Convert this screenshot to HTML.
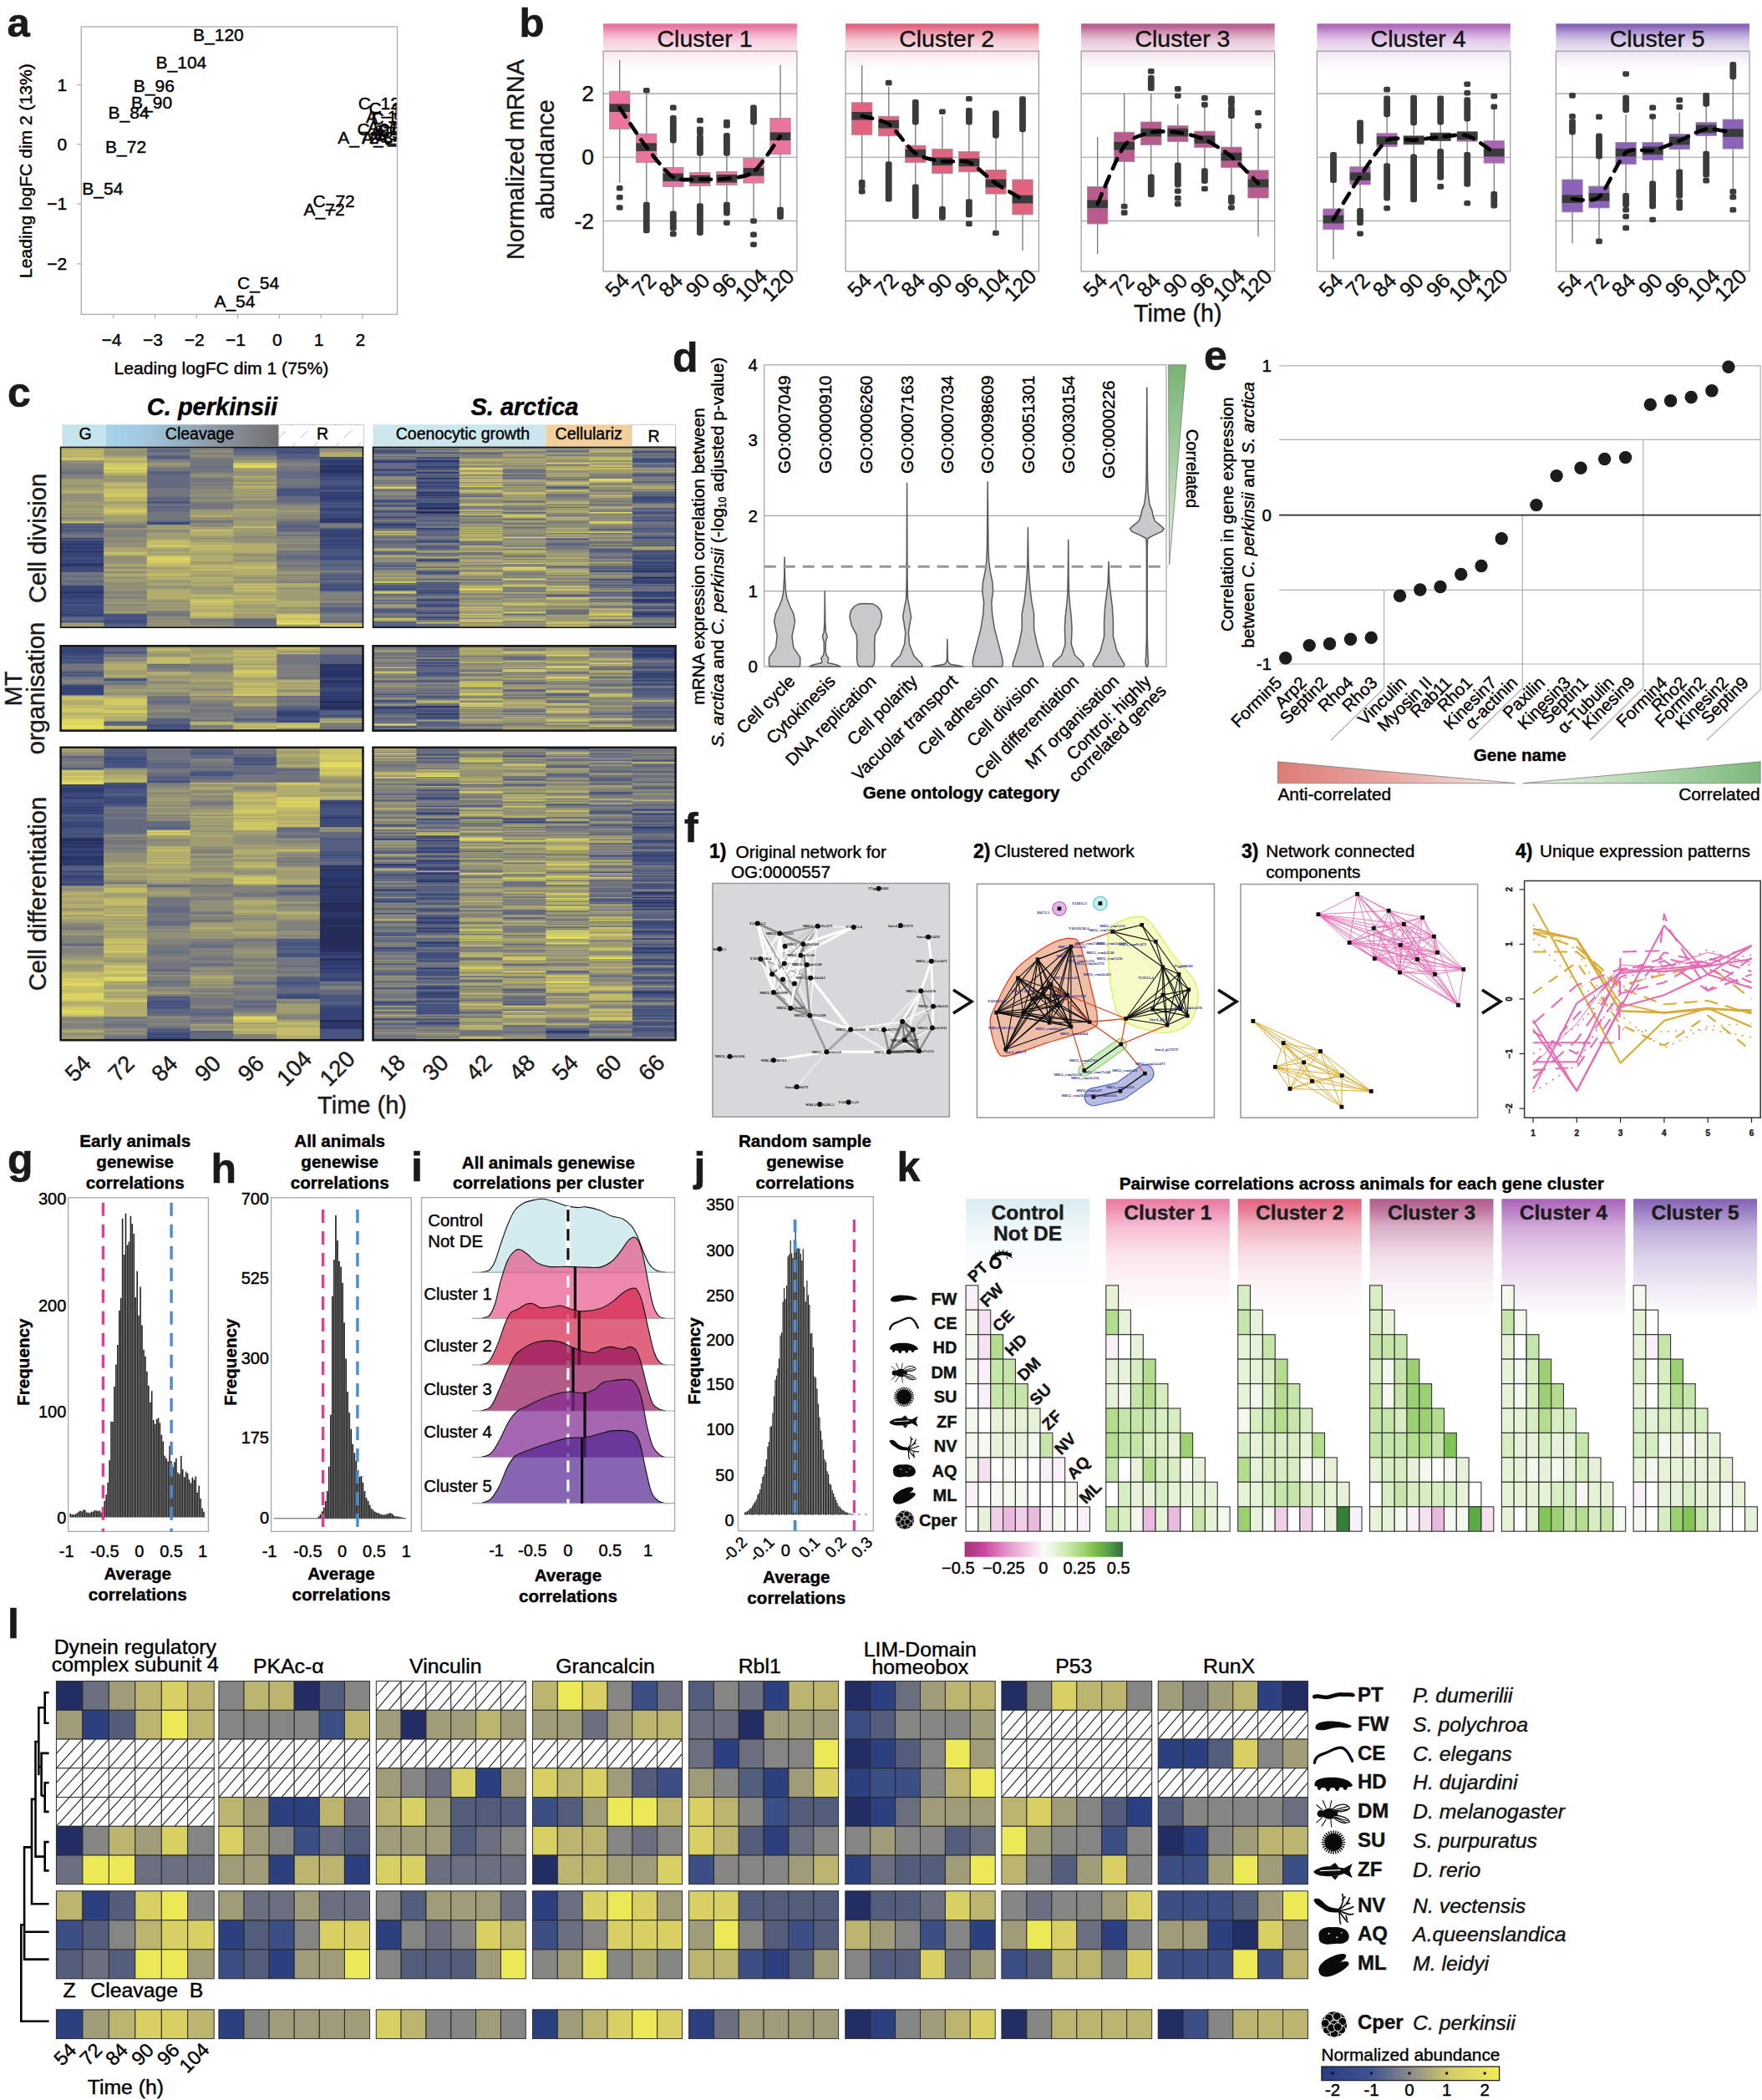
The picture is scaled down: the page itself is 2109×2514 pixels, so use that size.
<!DOCTYPE html>
<html><head><meta charset="utf-8"><title>Figure</title>
<style>html,body{margin:0;padding:0;background:#fff}svg{display:block;font-family:'Liberation Sans', Arial, Helvetica, sans-serif}</style>
</head><body>
<svg width="2109" height="2514" viewBox="0 0 2109 2514">
<defs>
<linearGradient id="pbg0" x1="0" y1="0" x2="0" y2="1"><stop offset="0" stop-color="#e86f9c" stop-opacity="1.0"/><stop offset="0.027" stop-color="#e86f9c" stop-opacity="0.95"/><stop offset="0.091" stop-color="#e86f9c" stop-opacity="0.58"/><stop offset="0.153" stop-color="#e86f9c" stop-opacity="0.33"/><stop offset="0.23" stop-color="#e86f9c" stop-opacity="0.2"/><stop offset="0.306" stop-color="#e86f9c" stop-opacity="0.1"/><stop offset="0.405" stop-color="#e86f9c" stop-opacity="0.0"/></linearGradient>
<linearGradient id="pbg1" x1="0" y1="0" x2="0" y2="1"><stop offset="0" stop-color="#e0607c" stop-opacity="1.0"/><stop offset="0.027" stop-color="#e0607c" stop-opacity="0.95"/><stop offset="0.091" stop-color="#e0607c" stop-opacity="0.58"/><stop offset="0.153" stop-color="#e0607c" stop-opacity="0.33"/><stop offset="0.23" stop-color="#e0607c" stop-opacity="0.2"/><stop offset="0.306" stop-color="#e0607c" stop-opacity="0.1"/><stop offset="0.405" stop-color="#e0607c" stop-opacity="0.0"/></linearGradient>
<linearGradient id="pbg2" x1="0" y1="0" x2="0" y2="1"><stop offset="0" stop-color="#b85a8c" stop-opacity="1.0"/><stop offset="0.027" stop-color="#b85a8c" stop-opacity="0.95"/><stop offset="0.091" stop-color="#b85a8c" stop-opacity="0.58"/><stop offset="0.153" stop-color="#b85a8c" stop-opacity="0.33"/><stop offset="0.23" stop-color="#b85a8c" stop-opacity="0.2"/><stop offset="0.306" stop-color="#b85a8c" stop-opacity="0.1"/><stop offset="0.405" stop-color="#b85a8c" stop-opacity="0.0"/></linearGradient>
<linearGradient id="pbg3" x1="0" y1="0" x2="0" y2="1"><stop offset="0" stop-color="#ad66bb" stop-opacity="1.0"/><stop offset="0.027" stop-color="#ad66bb" stop-opacity="0.95"/><stop offset="0.091" stop-color="#ad66bb" stop-opacity="0.58"/><stop offset="0.153" stop-color="#ad66bb" stop-opacity="0.33"/><stop offset="0.23" stop-color="#ad66bb" stop-opacity="0.2"/><stop offset="0.306" stop-color="#ad66bb" stop-opacity="0.1"/><stop offset="0.405" stop-color="#ad66bb" stop-opacity="0.0"/></linearGradient>
<linearGradient id="pbg4" x1="0" y1="0" x2="0" y2="1"><stop offset="0" stop-color="#8560b8" stop-opacity="1.0"/><stop offset="0.027" stop-color="#8560b8" stop-opacity="0.95"/><stop offset="0.091" stop-color="#8560b8" stop-opacity="0.58"/><stop offset="0.153" stop-color="#8560b8" stop-opacity="0.33"/><stop offset="0.23" stop-color="#8560b8" stop-opacity="0.2"/><stop offset="0.306" stop-color="#8560b8" stop-opacity="0.1"/><stop offset="0.405" stop-color="#8560b8" stop-opacity="0.0"/></linearGradient>
<linearGradient id="pcg1" x1="0" x2="1" y1="0" y2="0"><stop offset="0" stop-color="#a6d3ec"/><stop offset="0.2" stop-color="#a3cbe3"/><stop offset="0.55" stop-color="#8fa3b2"/><stop offset="0.85" stop-color="#7e8085"/><stop offset="1" stop-color="#6f6f71"/></linearGradient>
<pattern id="hatR" width="26" height="26" patternUnits="userSpaceOnUse"><path d="M-2 28L28 -2" stroke="#bdbdbd" stroke-width="1" stroke-dasharray="9 8"/></pattern>
<linearGradient id="pdg" x1="0" x2="0" y1="0" y2="1"><stop offset="0" stop-color="#77b574"/><stop offset="0.5" stop-color="#a9d0a6"/><stop offset="1" stop-color="#e3f0e1"/></linearGradient>
<linearGradient id="peg1" x1="0" x2="1" y1="0" y2="0"><stop offset="0" stop-color="#dc7d77"/><stop offset="0.5" stop-color="#e9aaa5"/><stop offset="1" stop-color="#f8ece9"/></linearGradient>
<linearGradient id="peg2" x1="0" x2="1" y1="0" y2="0"><stop offset="0" stop-color="#eef6ed"/><stop offset="0.5" stop-color="#b4d8b2"/><stop offset="1" stop-color="#7cb97a"/></linearGradient>


<linearGradient id="pkg0" x1="0" y1="0" x2="0" y2="1"><stop offset="0" stop-color="#d7ecf1" stop-opacity="1.0"/><stop offset="0.08" stop-color="#d7ecf1" stop-opacity="0.85"/><stop offset="0.226" stop-color="#d7ecf1" stop-opacity="0.5"/><stop offset="0.474" stop-color="#d7ecf1" stop-opacity="0.2"/><stop offset="0.708" stop-color="#d7ecf1" stop-opacity="0.08"/><stop offset="1" stop-color="#d7ecf1" stop-opacity="0"/></linearGradient>
<linearGradient id="pkg1" x1="0" y1="0" x2="0" y2="1"><stop offset="0" stop-color="#ea79a2" stop-opacity="1.0"/><stop offset="0.08" stop-color="#ea79a2" stop-opacity="0.85"/><stop offset="0.226" stop-color="#ea79a2" stop-opacity="0.5"/><stop offset="0.474" stop-color="#ea79a2" stop-opacity="0.2"/><stop offset="0.708" stop-color="#ea79a2" stop-opacity="0.08"/><stop offset="1" stop-color="#ea79a2" stop-opacity="0"/></linearGradient>
<linearGradient id="pkg2" x1="0" y1="0" x2="0" y2="1"><stop offset="0" stop-color="#e0627e" stop-opacity="1.0"/><stop offset="0.08" stop-color="#e0627e" stop-opacity="0.85"/><stop offset="0.226" stop-color="#e0627e" stop-opacity="0.5"/><stop offset="0.474" stop-color="#e0627e" stop-opacity="0.2"/><stop offset="0.708" stop-color="#e0627e" stop-opacity="0.08"/><stop offset="1" stop-color="#e0627e" stop-opacity="0"/></linearGradient>
<linearGradient id="pkg3" x1="0" y1="0" x2="0" y2="1"><stop offset="0" stop-color="#b1598a" stop-opacity="1.0"/><stop offset="0.08" stop-color="#b1598a" stop-opacity="0.85"/><stop offset="0.226" stop-color="#b1598a" stop-opacity="0.5"/><stop offset="0.474" stop-color="#b1598a" stop-opacity="0.2"/><stop offset="0.708" stop-color="#b1598a" stop-opacity="0.08"/><stop offset="1" stop-color="#b1598a" stop-opacity="0"/></linearGradient>
<linearGradient id="pkg4" x1="0" y1="0" x2="0" y2="1"><stop offset="0" stop-color="#ab62ba" stop-opacity="1.0"/><stop offset="0.08" stop-color="#ab62ba" stop-opacity="0.85"/><stop offset="0.25" stop-color="#ab62ba" stop-opacity="0.52"/><stop offset="0.5" stop-color="#ab62ba" stop-opacity="0.28"/><stop offset="0.75" stop-color="#ab62ba" stop-opacity="0.14"/><stop offset="1" stop-color="#ab62ba" stop-opacity="0"/></linearGradient>
<linearGradient id="pkg5" x1="0" y1="0" x2="0" y2="1"><stop offset="0" stop-color="#8461b6" stop-opacity="1.0"/><stop offset="0.08" stop-color="#8461b6" stop-opacity="0.85"/><stop offset="0.25" stop-color="#8461b6" stop-opacity="0.52"/><stop offset="0.5" stop-color="#8461b6" stop-opacity="0.28"/><stop offset="0.75" stop-color="#8461b6" stop-opacity="0.14"/><stop offset="1" stop-color="#8461b6" stop-opacity="0"/></linearGradient>
<linearGradient id="pkcb" x1="0" x2="1" y1="0" y2="0"><stop offset="0" stop-color="#a5317a"/><stop offset="0.12" stop-color="#c7459b"/><stop offset="0.25" stop-color="#e28bc6"/><stop offset="0.38" stop-color="#f0c6e3"/><stop offset="0.5" stop-color="#fbfbfb"/><stop offset="0.62" stop-color="#d6eebd"/><stop offset="0.75" stop-color="#a3d672"/><stop offset="0.82" stop-color="#7fbf48"/><stop offset="0.92" stop-color="#4f9a46"/><stop offset="1" stop-color="#37693c"/></linearGradient>
<pattern id="hatL" width="30" height="34.74" patternUnits="userSpaceOnUse"><path d="M0 34.74L30 0M-15 34.74L15 0M15 34.74L45 0" stroke="#333" stroke-width="0.9" fill="none"/></pattern>
<linearGradient id="plcb" x1="0" x2="1" y1="0" y2="0"><stop offset="0" stop-color="#293a80"/><stop offset="0.28" stop-color="#3f5590"/><stop offset="0.5" stop-color="#8b8b88"/><stop offset="0.72" stop-color="#d2ca68"/><stop offset="1" stop-color="#f2ee55"/></linearGradient></defs>
<g id="pa"><text x="8.5" y="44" font-size="49" font-weight="bold" fill="#1a1a1a" stroke="#1a1a1a" stroke-width="0.6">a</text>
<rect x="97.3" y="32" width="378.2" height="344.3" fill="none" stroke="#a9abb5" stroke-width="1.3"/>
<line x1="92.3" y1="101.7" x2="97.3" y2="101.7" stroke="#a9abb5" stroke-width="1.2"/>
<text x="80.3" y="109.2" font-size="21" text-anchor="end" fill="#000" stroke="#000" stroke-width="0.4">1</text>
<line x1="92.3" y1="172.8" x2="97.3" y2="172.8" stroke="#a9abb5" stroke-width="1.2"/>
<text x="80.3" y="180.3" font-size="21" text-anchor="end" fill="#000" stroke="#000" stroke-width="0.4">0</text>
<line x1="92.3" y1="243.9" x2="97.3" y2="243.9" stroke="#a9abb5" stroke-width="1.2"/>
<text x="80.3" y="251.4" font-size="21" text-anchor="end" fill="#000" stroke="#000" stroke-width="0.4">−1</text>
<line x1="92.3" y1="315.8" x2="97.3" y2="315.8" stroke="#a9abb5" stroke-width="1.2"/>
<text x="80.3" y="323.3" font-size="21" text-anchor="end" fill="#000" stroke="#000" stroke-width="0.4">−2</text>
<line x1="135.9" y1="376.3" x2="135.9" y2="381.3" stroke="#a9abb5" stroke-width="1.2"/>
<text x="133.4" y="413.5" font-size="21" text-anchor="middle" fill="#000" stroke="#000" stroke-width="0.4">−4</text>
<line x1="185.5" y1="376.3" x2="185.5" y2="381.3" stroke="#a9abb5" stroke-width="1.2"/>
<text x="183" y="413.5" font-size="21" text-anchor="middle" fill="#000" stroke="#000" stroke-width="0.4">−3</text>
<line x1="235.2" y1="376.3" x2="235.2" y2="381.3" stroke="#a9abb5" stroke-width="1.2"/>
<text x="232.7" y="413.5" font-size="21" text-anchor="middle" fill="#000" stroke="#000" stroke-width="0.4">−2</text>
<line x1="284.6" y1="376.3" x2="284.6" y2="381.3" stroke="#a9abb5" stroke-width="1.2"/>
<text x="282.1" y="413.5" font-size="21" text-anchor="middle" fill="#000" stroke="#000" stroke-width="0.4">−1</text>
<line x1="334.4" y1="376.3" x2="334.4" y2="381.3" stroke="#a9abb5" stroke-width="1.2"/>
<text x="331.9" y="413.5" font-size="21" text-anchor="middle" fill="#000" stroke="#000" stroke-width="0.4">0</text>
<line x1="384.1" y1="376.3" x2="384.1" y2="381.3" stroke="#a9abb5" stroke-width="1.2"/>
<text x="381.6" y="413.5" font-size="21" text-anchor="middle" fill="#000" stroke="#000" stroke-width="0.4">1</text>
<line x1="433.8" y1="376.3" x2="433.8" y2="381.3" stroke="#a9abb5" stroke-width="1.2"/>
<text x="431.3" y="413.5" font-size="21" text-anchor="middle" fill="#000" stroke="#000" stroke-width="0.4">2</text>
<text x="265" y="447.5" font-size="21.1" text-anchor="middle" fill="#000" stroke="#000" stroke-width="0.4">Leading logFC dim 1 (75%)</text>
<text font-size="21.1" text-anchor="middle" fill="#000" stroke="#000" stroke-width="0.4" transform="translate(37.5 204.5) rotate(-90)">Leading logFC dim 2 (13%)</text>
<clipPath id="pacl"><rect x="97.3" y="32" width="377.2" height="344.3"/></clipPath>
<g clip-path="url(#pacl)"><text x="261.4" y="49" font-size="21" text-anchor="middle" fill="#000" stroke="#000" stroke-width="0.4">B_120</text><text x="216.9" y="82" font-size="21" text-anchor="middle" fill="#000" stroke="#000" stroke-width="0.4">B_104</text><text x="184.3" y="110.2" font-size="21" text-anchor="middle" fill="#000" stroke="#000" stroke-width="0.4">B_96</text><text x="181.6" y="130.1" font-size="21" text-anchor="middle" fill="#000" stroke="#000" stroke-width="0.4">B_90</text><text x="154.1" y="142.4" font-size="21" text-anchor="middle" fill="#000" stroke="#000" stroke-width="0.4">B_84</text><text x="150.6" y="182.9" font-size="21" text-anchor="middle" fill="#000" stroke="#000" stroke-width="0.4">B_72</text><text x="122.8" y="233" font-size="21" text-anchor="middle" fill="#000" stroke="#000" stroke-width="0.4">B_54</text><text x="399.7" y="248.1" font-size="21" text-anchor="middle" fill="#000" stroke="#000" stroke-width="0.4">C_72</text><text x="388.1" y="258.4" font-size="21" text-anchor="middle" fill="#000" stroke="#000" stroke-width="0.4">A_72</text><text x="309.1" y="346.2" font-size="21" text-anchor="middle" fill="#000" stroke="#000" stroke-width="0.4">C_54</text><text x="280.9" y="368.4" font-size="21" text-anchor="middle" fill="#000" stroke="#000" stroke-width="0.4">A_54</text><text x="428.7" y="130.6" font-size="21" fill="#000" stroke="#000" stroke-width="0.4">C_120</text><text x="441.5" y="137.1" font-size="21" fill="#000" stroke="#000" stroke-width="0.4">C_104</text><text x="438" y="147.4" font-size="21" fill="#000" stroke="#000" stroke-width="0.4">A_120</text><text x="444.5" y="148.7" font-size="21" fill="#000" stroke="#000" stroke-width="0.4">C_96</text><text x="427.4" y="161.5" font-size="21" fill="#000" stroke="#000" stroke-width="0.4">C_90</text><text x="404.3" y="171.8" font-size="21" fill="#000" stroke="#000" stroke-width="0.4">A_72</text><text x="433" y="172.4" font-size="21" fill="#000" stroke="#000" stroke-width="0.4">A_84</text><text x="440" y="158.5" font-size="21" fill="#000" stroke="#000" stroke-width="0.4">A_104</text><text x="443" y="165.5" font-size="21" fill="#000" stroke="#000" stroke-width="0.4">A_96</text><text x="447" y="168.5" font-size="21" fill="#000" stroke="#000" stroke-width="0.4">C_84</text><text x="450" y="170.5" font-size="21" fill="#000" stroke="#000" stroke-width="0.4">A_90</text><text x="452" y="163" font-size="21" fill="#000" stroke="#000" stroke-width="0.4">C_84</text></g></g>
<g id="pb"><text x="621.5" y="44" font-size="49" font-weight="bold" fill="#1a1a1a" stroke="#1a1a1a" stroke-width="0.6">b</text>
<text font-size="29" text-anchor="middle" fill="#1a1a1a" stroke="#1a1a1a" stroke-width="0.4" transform="translate(626.5 191) rotate(-90)">Normalized mRNA</text>
<text font-size="29" text-anchor="middle" fill="#1a1a1a" stroke="#1a1a1a" stroke-width="0.4" transform="translate(663 191) rotate(-90)">abundance</text>
<text x="711" y="121.1" font-size="26.5" text-anchor="end" fill="#111" stroke="#111" stroke-width="0.4">2</text>
<text x="711" y="197.3" font-size="26.5" text-anchor="end" fill="#111" stroke="#111" stroke-width="0.4">0</text>
<text x="711" y="273.5" font-size="26.5" text-anchor="end" fill="#111" stroke="#111" stroke-width="0.4">-2</text>
<text x="1409.8" y="385.3" font-size="28.6" text-anchor="middle" fill="#111" stroke="#111" stroke-width="0.4">Time (h)</text>
<rect x="722.1" y="28.3" width="231.8" height="135" fill="url(#pbg0)"/>
<line x1="722.1" y1="112.1" x2="953.9" y2="112.1" stroke="#9a9a9e" stroke-width="1.1"/>
<line x1="722.1" y1="188.3" x2="953.9" y2="188.3" stroke="#9a9a9e" stroke-width="1.1"/>
<line x1="722.1" y1="264.5" x2="953.9" y2="264.5" stroke="#9a9a9e" stroke-width="1.1"/>
<rect x="722.1" y="61.2" width="231.8" height="263.7" fill="none" stroke="#9a9a9e" stroke-width="1.2"/>
<text x="843.5" y="56" font-size="28.5" text-anchor="middle" fill="#111" stroke="#111" stroke-width="0.4">Cluster 1</text>
<line x1="741.7" y1="72.1" x2="741.7" y2="218.8" stroke="#6b6b6b" stroke-width="1.2"/>
<rect x="737.8" y="222" width="7.8" height="6.6" fill="#3b3b3b" rx="2"/>
<rect x="737.8" y="233" width="7.8" height="6.6" fill="#3b3b3b" rx="2"/>
<rect x="737.8" y="245.2" width="7.8" height="6.6" fill="#3b3b3b" rx="2"/>
<rect x="729.5" y="109.1" width="24.4" height="45.3" fill="#e9759f" stroke="#9b8f96" stroke-width="0.8"/>
<rect x="729.5" y="124.4" width="24.4" height="9.6" fill="#3b3b3b"/>
<text font-size="25.3" text-anchor="middle" fill="#111" stroke="#111" stroke-width="0.4" transform="translate(738.7 341.3) rotate(-45)" dy="8.8">54</text>
<line x1="773.8" y1="112.1" x2="773.8" y2="244.7" stroke="#6b6b6b" stroke-width="1.2"/>
<rect x="769.9" y="241.7" width="7.8" height="37.6" fill="#3b3b3b" rx="2.4"/>
<rect x="769.9" y="105" width="7.8" height="6.6" fill="#3b3b3b" rx="2"/>
<rect x="761.5" y="160.1" width="24.4" height="34.3" fill="#e9759f" stroke="#9b8f96" stroke-width="0.8"/>
<rect x="761.5" y="171.3" width="24.4" height="9.6" fill="#3b3b3b"/>
<text font-size="25.3" text-anchor="middle" fill="#111" stroke="#111" stroke-width="0.4" transform="translate(770.8 341.3) rotate(-45)" dy="8.8">72</text>
<line x1="805.8" y1="168.5" x2="805.8" y2="255.4" stroke="#6b6b6b" stroke-width="1.2"/>
<rect x="801.9" y="138.1" width="7.8" height="33.4" fill="#3b3b3b" rx="2.4"/>
<rect x="801.9" y="252.4" width="7.8" height="24.3" fill="#3b3b3b" rx="2.4"/>
<rect x="801.9" y="125.6" width="7.8" height="6.6" fill="#3b3b3b" rx="2"/>
<rect x="801.9" y="276.8" width="7.8" height="6.6" fill="#3b3b3b" rx="2"/>
<rect x="793.6" y="200.5" width="24.4" height="22.9" fill="#e9759f" stroke="#9b8f96" stroke-width="0.8"/>
<rect x="793.6" y="207.5" width="24.4" height="9.6" fill="#3b3b3b"/>
<text font-size="25.3" text-anchor="middle" fill="#111" stroke="#111" stroke-width="0.4" transform="translate(802.8 341.3) rotate(-45)" dy="8.8">84</text>
<line x1="837.9" y1="183.7" x2="837.9" y2="246.2" stroke="#6b6b6b" stroke-width="1.2"/>
<rect x="834" y="160.9" width="7.8" height="25.8" fill="#3b3b3b" rx="2.4"/>
<rect x="834" y="243.2" width="7.8" height="38.8" fill="#3b3b3b" rx="2.4"/>
<rect x="834" y="140.8" width="7.8" height="6.6" fill="#3b3b3b" rx="2"/>
<rect x="834" y="151.5" width="7.8" height="6.6" fill="#3b3b3b" rx="2"/>
<rect x="834" y="155.3" width="7.8" height="6.6" fill="#3b3b3b" rx="2"/>
<rect x="825.6" y="206.6" width="24.4" height="16" fill="#e9759f" stroke="#9b8f96" stroke-width="0.8"/>
<rect x="825.6" y="209.8" width="24.4" height="9.6" fill="#3b3b3b"/>
<text font-size="25.3" text-anchor="middle" fill="#111" stroke="#111" stroke-width="0.4" transform="translate(834.9 341.3) rotate(-45)" dy="8.8">90</text>
<line x1="869.9" y1="183.7" x2="869.9" y2="244.7" stroke="#6b6b6b" stroke-width="1.2"/>
<rect x="866" y="159" width="7.8" height="27.7" fill="#3b3b3b" rx="2.4"/>
<rect x="866" y="241.7" width="7.8" height="16.7" fill="#3b3b3b" rx="2.4"/>
<rect x="866" y="143.1" width="7.8" height="6.6" fill="#3b3b3b" rx="2"/>
<rect x="866" y="146.9" width="7.8" height="6.6" fill="#3b3b3b" rx="2"/>
<rect x="866" y="263.5" width="7.8" height="6.6" fill="#3b3b3b" rx="2"/>
<rect x="857.7" y="205.4" width="24.4" height="16" fill="#e9759f" stroke="#9b8f96" stroke-width="0.8"/>
<rect x="857.7" y="209" width="24.4" height="9.6" fill="#3b3b3b"/>
<text font-size="25.3" text-anchor="middle" fill="#111" stroke="#111" stroke-width="0.4" transform="translate(866.9 341.3) rotate(-45)" dy="8.8">96</text>
<line x1="902" y1="146.4" x2="902" y2="260.7" stroke="#6b6b6b" stroke-width="1.2"/>
<rect x="898.1" y="125.5" width="7.8" height="23.9" fill="#3b3b3b" rx="2.4"/>
<rect x="898.1" y="261.2" width="7.8" height="6.6" fill="#3b3b3b" rx="2"/>
<rect x="898.1" y="277.6" width="7.8" height="6.6" fill="#3b3b3b" rx="2"/>
<rect x="898.1" y="289.4" width="7.8" height="6.6" fill="#3b3b3b" rx="2"/>
<rect x="889.8" y="189.4" width="24.4" height="29.7" fill="#e9759f" stroke="#9b8f96" stroke-width="0.8"/>
<rect x="889.8" y="201" width="24.4" height="9.6" fill="#3b3b3b"/>
<text font-size="25.3" text-anchor="middle" fill="#111" stroke="#111" stroke-width="0.4" transform="translate(899 341.3) rotate(-45)" dy="8.8">104</text>
<line x1="934" y1="77.8" x2="934" y2="250.8" stroke="#6b6b6b" stroke-width="1.2"/>
<rect x="930.1" y="247.8" width="7.8" height="15.1" fill="#3b3b3b" rx="2.4"/>
<rect x="921.8" y="141.4" width="24.4" height="43.4" fill="#e9759f" stroke="#9b8f96" stroke-width="0.8"/>
<rect x="921.8" y="158.4" width="24.4" height="9.6" fill="#3b3b3b"/>
<text font-size="25.3" text-anchor="middle" fill="#111" stroke="#111" stroke-width="0.4" transform="translate(931 341.3) rotate(-45)" dy="8.8">120</text>
<path d="M741.7 129.2C745.7 135.1 765.7 165.7 773.8 176.1C781.8 186.5 797.8 207.5 805.8 212.3C813.8 217.1 829.8 214.4 837.9 214.6C845.9 214.8 861.9 214.9 869.9 213.8C877.9 212.7 893.9 212.2 902 205.8C910 199.5 930 168.5 934 163.2" fill="none" stroke="#000" stroke-width="4.6" stroke-dasharray="13 10" stroke-linecap="round" stroke-linejoin="round"/>
<rect x="1012.1" y="28.3" width="231.3" height="135" fill="url(#pbg1)"/>
<line x1="1012.1" y1="112.1" x2="1243.4" y2="112.1" stroke="#9a9a9e" stroke-width="1.1"/>
<line x1="1012.1" y1="188.3" x2="1243.4" y2="188.3" stroke="#9a9a9e" stroke-width="1.1"/>
<line x1="1012.1" y1="264.5" x2="1243.4" y2="264.5" stroke="#9a9a9e" stroke-width="1.1"/>
<rect x="1012.1" y="61.2" width="231.3" height="263.7" fill="none" stroke="#9a9a9e" stroke-width="1.2"/>
<text x="1133.2" y="56" font-size="28.5" text-anchor="middle" fill="#111" stroke="#111" stroke-width="0.4">Cluster 2</text>
<line x1="1031.7" y1="78.2" x2="1031.7" y2="216.1" stroke="#6b6b6b" stroke-width="1.2"/>
<rect x="1027.8" y="215" width="7.8" height="11.3" fill="#3b3b3b" rx="2.4"/>
<rect x="1027.8" y="225.8" width="7.8" height="6.6" fill="#3b3b3b" rx="2"/>
<rect x="1019.5" y="122.8" width="24.4" height="38.5" fill="#e0647f" stroke="#9b8f96" stroke-width="0.8"/>
<rect x="1019.5" y="134" width="24.4" height="9.6" fill="#3b3b3b"/>
<text font-size="25.3" text-anchor="middle" fill="#111" stroke="#111" stroke-width="0.4" transform="translate(1028.7 341.3) rotate(-45)" dy="8.8">54</text>
<line x1="1063.8" y1="104.1" x2="1063.8" y2="196.3" stroke="#6b6b6b" stroke-width="1.2"/>
<rect x="1059.8" y="193.3" width="7.8" height="48.3" fill="#3b3b3b" rx="2.4"/>
<rect x="1059.8" y="95.8" width="7.8" height="6.6" fill="#3b3b3b" rx="2"/>
<rect x="1051.5" y="139.2" width="24.4" height="23.6" fill="#e0647f" stroke="#9b8f96" stroke-width="0.8"/>
<rect x="1051.5" y="143.9" width="24.4" height="9.6" fill="#3b3b3b"/>
<text font-size="25.3" text-anchor="middle" fill="#111" stroke="#111" stroke-width="0.4" transform="translate(1060.8 341.3) rotate(-45)" dy="8.8">72</text>
<line x1="1095.8" y1="146.4" x2="1095.8" y2="223.4" stroke="#6b6b6b" stroke-width="1.2"/>
<rect x="1091.9" y="119" width="7.8" height="30.4" fill="#3b3b3b" rx="2.4"/>
<rect x="1091.9" y="220.4" width="7.8" height="41.8" fill="#3b3b3b" rx="2.4"/>
<rect x="1083.6" y="174.2" width="24.4" height="20.2" fill="#e0647f" stroke="#9b8f96" stroke-width="0.8"/>
<rect x="1083.6" y="178.9" width="24.4" height="9.6" fill="#3b3b3b"/>
<text font-size="25.3" text-anchor="middle" fill="#111" stroke="#111" stroke-width="0.4" transform="translate(1092.8 341.3) rotate(-45)" dy="8.8">84</text>
<line x1="1127.9" y1="139.2" x2="1127.9" y2="250" stroke="#6b6b6b" stroke-width="1.2"/>
<rect x="1124" y="247" width="7.8" height="16.7" fill="#3b3b3b" rx="2.4"/>
<rect x="1124" y="130.5" width="7.8" height="6.6" fill="#3b3b3b" rx="2"/>
<rect x="1115.7" y="178.4" width="24.4" height="29.3" fill="#e0647f" stroke="#9b8f96" stroke-width="0.8"/>
<rect x="1115.7" y="188.5" width="24.4" height="9.6" fill="#3b3b3b"/>
<text font-size="25.3" text-anchor="middle" fill="#111" stroke="#111" stroke-width="0.4" transform="translate(1124.9 341.3) rotate(-45)" dy="8.8">90</text>
<line x1="1159.9" y1="146.4" x2="1159.9" y2="241.3" stroke="#6b6b6b" stroke-width="1.2"/>
<rect x="1156" y="128.9" width="7.8" height="20.5" fill="#3b3b3b" rx="2.4"/>
<rect x="1156" y="238.3" width="7.8" height="22" fill="#3b3b3b" rx="2.4"/>
<rect x="1156" y="114.9" width="7.8" height="6.6" fill="#3b3b3b" rx="2"/>
<rect x="1156" y="264.6" width="7.8" height="6.6" fill="#3b3b3b" rx="2"/>
<rect x="1147.7" y="181.4" width="24.4" height="24.4" fill="#e0647f" stroke="#9b8f96" stroke-width="0.8"/>
<rect x="1147.7" y="189.6" width="24.4" height="9.6" fill="#3b3b3b"/>
<text font-size="25.3" text-anchor="middle" fill="#111" stroke="#111" stroke-width="0.4" transform="translate(1156.9 341.3) rotate(-45)" dy="8.8">96</text>
<line x1="1192" y1="162.4" x2="1192" y2="275.2" stroke="#6b6b6b" stroke-width="1.2"/>
<rect x="1188" y="132.3" width="7.8" height="33.1" fill="#3b3b3b" rx="2.4"/>
<rect x="1188" y="275.7" width="7.8" height="6.6" fill="#3b3b3b" rx="2"/>
<rect x="1179.8" y="203.5" width="24.4" height="28.6" fill="#e0647f" stroke="#9b8f96" stroke-width="0.8"/>
<rect x="1179.8" y="214.7" width="24.4" height="9.6" fill="#3b3b3b"/>
<text font-size="25.3" text-anchor="middle" fill="#111" stroke="#111" stroke-width="0.4" transform="translate(1189 341.3) rotate(-45)" dy="8.8">104</text>
<line x1="1224" y1="155.2" x2="1224" y2="300.3" stroke="#6b6b6b" stroke-width="1.2"/>
<rect x="1220.1" y="115.2" width="7.8" height="43" fill="#3b3b3b" rx="2.4"/>
<rect x="1211.8" y="215" width="24.4" height="41.9" fill="#e0647f" stroke="#9b8f96" stroke-width="0.8"/>
<rect x="1211.8" y="233.8" width="24.4" height="9.6" fill="#3b3b3b"/>
<text font-size="25.3" text-anchor="middle" fill="#111" stroke="#111" stroke-width="0.4" transform="translate(1221 341.3) rotate(-45)" dy="8.8">120</text>
<path d="M1031.7 138.8C1035.7 140 1055.7 143.1 1063.8 148.7C1071.8 154.3 1087.8 178.2 1095.8 183.7C1103.8 189.3 1119.8 191.9 1127.9 193.3C1135.9 194.6 1151.9 191.1 1159.9 194.4C1167.9 197.7 1183.9 214 1192 219.5C1200 225.1 1220 236.2 1224 238.6" fill="none" stroke="#000" stroke-width="4.6" stroke-dasharray="13 10" stroke-linecap="round" stroke-linejoin="round"/>
<rect x="1294.1" y="28.3" width="231.6" height="135" fill="url(#pbg2)"/>
<line x1="1294.1" y1="112.1" x2="1525.7" y2="112.1" stroke="#9a9a9e" stroke-width="1.1"/>
<line x1="1294.1" y1="188.3" x2="1525.7" y2="188.3" stroke="#9a9a9e" stroke-width="1.1"/>
<line x1="1294.1" y1="264.5" x2="1525.7" y2="264.5" stroke="#9a9a9e" stroke-width="1.1"/>
<rect x="1294.1" y="61.2" width="231.6" height="263.7" fill="none" stroke="#9a9a9e" stroke-width="1.2"/>
<text x="1415.4" y="56" font-size="28.5" text-anchor="middle" fill="#111" stroke="#111" stroke-width="0.4">Cluster 3</text>
<line x1="1313.7" y1="163.9" x2="1313.7" y2="304.1" stroke="#6b6b6b" stroke-width="1.2"/>
<rect x="1301.5" y="223.4" width="24.4" height="44.6" fill="#ba5b8f" stroke="#9b8f96" stroke-width="0.8"/>
<rect x="1301.5" y="239.5" width="24.4" height="9.6" fill="#3b3b3b"/>
<text font-size="25.3" text-anchor="middle" fill="#111" stroke="#111" stroke-width="0.4" transform="translate(1310.7 341.3) rotate(-45)" dy="8.8">54</text>
<line x1="1345.7" y1="112.1" x2="1345.7" y2="243.2" stroke="#6b6b6b" stroke-width="1.2"/>
<rect x="1341.8" y="243.7" width="7.8" height="6.6" fill="#3b3b3b" rx="2"/>
<rect x="1341.8" y="251.3" width="7.8" height="6.6" fill="#3b3b3b" rx="2"/>
<rect x="1333.5" y="158.2" width="24.4" height="35.4" fill="#ba5b8f" stroke="#9b8f96" stroke-width="0.8"/>
<rect x="1333.5" y="169.8" width="24.4" height="9.6" fill="#3b3b3b"/>
<text font-size="25.3" text-anchor="middle" fill="#111" stroke="#111" stroke-width="0.4" transform="translate(1342.7 341.3) rotate(-45)" dy="8.8">72</text>
<line x1="1377.8" y1="112.1" x2="1377.8" y2="211.5" stroke="#6b6b6b" stroke-width="1.2"/>
<rect x="1373.9" y="90.1" width="7.8" height="19" fill="#3b3b3b" rx="2.4"/>
<rect x="1373.9" y="208.5" width="7.8" height="27.7" fill="#3b3b3b" rx="2.4"/>
<rect x="1373.9" y="82.1" width="7.8" height="6.6" fill="#3b3b3b" rx="2"/>
<rect x="1365.6" y="146" width="24.4" height="27.4" fill="#ba5b8f" stroke="#9b8f96" stroke-width="0.8"/>
<rect x="1365.6" y="153.8" width="24.4" height="9.6" fill="#3b3b3b"/>
<text font-size="25.3" text-anchor="middle" fill="#111" stroke="#111" stroke-width="0.4" transform="translate(1374.8 341.3) rotate(-45)" dy="8.8">84</text>
<line x1="1409.8" y1="124.7" x2="1409.8" y2="197.4" stroke="#6b6b6b" stroke-width="1.2"/>
<rect x="1405.9" y="194.4" width="7.8" height="30" fill="#3b3b3b" rx="2.4"/>
<rect x="1405.9" y="103.1" width="7.8" height="6.6" fill="#3b3b3b" rx="2"/>
<rect x="1405.9" y="111.5" width="7.8" height="6.6" fill="#3b3b3b" rx="2"/>
<rect x="1405.9" y="225.4" width="7.8" height="6.6" fill="#3b3b3b" rx="2"/>
<rect x="1405.9" y="234.1" width="7.8" height="6.6" fill="#3b3b3b" rx="2"/>
<rect x="1405.9" y="241" width="7.8" height="6.6" fill="#3b3b3b" rx="2"/>
<rect x="1397.6" y="150.6" width="24.4" height="19" fill="#ba5b8f" stroke="#9b8f96" stroke-width="0.8"/>
<rect x="1397.6" y="153.8" width="24.4" height="9.6" fill="#3b3b3b"/>
<text font-size="25.3" text-anchor="middle" fill="#111" stroke="#111" stroke-width="0.4" transform="translate(1406.8 341.3) rotate(-45)" dy="8.8">90</text>
<line x1="1441.9" y1="128.1" x2="1441.9" y2="204.3" stroke="#6b6b6b" stroke-width="1.2"/>
<rect x="1438" y="201.3" width="7.8" height="18.6" fill="#3b3b3b" rx="2.4"/>
<rect x="1438" y="114.1" width="7.8" height="6.6" fill="#3b3b3b" rx="2"/>
<rect x="1438" y="122.1" width="7.8" height="6.6" fill="#3b3b3b" rx="2"/>
<rect x="1438" y="222.7" width="7.8" height="6.6" fill="#3b3b3b" rx="2"/>
<rect x="1429.7" y="157.1" width="24.4" height="19.4" fill="#ba5b8f" stroke="#9b8f96" stroke-width="0.8"/>
<rect x="1429.7" y="162.2" width="24.4" height="9.6" fill="#3b3b3b"/>
<text font-size="25.3" text-anchor="middle" fill="#111" stroke="#111" stroke-width="0.4" transform="translate(1438.9 341.3) rotate(-45)" dy="8.8">96</text>
<line x1="1473.9" y1="139.2" x2="1473.9" y2="235.9" stroke="#6b6b6b" stroke-width="1.2"/>
<rect x="1470" y="126.2" width="7.8" height="15.9" fill="#3b3b3b" rx="2.4"/>
<rect x="1470" y="114.4" width="7.8" height="12.9" fill="#3b3b3b" rx="2.4"/>
<rect x="1470" y="232.9" width="7.8" height="12.1" fill="#3b3b3b" rx="2.4"/>
<rect x="1470" y="245.2" width="7.8" height="6.6" fill="#3b3b3b" rx="2"/>
<rect x="1461.7" y="176.1" width="24.4" height="24.4" fill="#ba5b8f" stroke="#9b8f96" stroke-width="0.8"/>
<rect x="1461.7" y="182.7" width="24.4" height="9.6" fill="#3b3b3b"/>
<text font-size="25.3" text-anchor="middle" fill="#111" stroke="#111" stroke-width="0.4" transform="translate(1470.9 341.3) rotate(-45)" dy="8.8">104</text>
<line x1="1506" y1="153.2" x2="1506" y2="283.2" stroke="#6b6b6b" stroke-width="1.2"/>
<rect x="1502.1" y="131.7" width="7.8" height="6.6" fill="#3b3b3b" rx="2"/>
<rect x="1502.1" y="147.3" width="7.8" height="6.6" fill="#3b3b3b" rx="2"/>
<rect x="1493.8" y="203.9" width="24.4" height="33.1" fill="#ba5b8f" stroke="#9b8f96" stroke-width="0.8"/>
<rect x="1493.8" y="214.7" width="24.4" height="9.6" fill="#3b3b3b"/>
<text font-size="25.3" text-anchor="middle" fill="#111" stroke="#111" stroke-width="0.4" transform="translate(1503 341.3) rotate(-45)" dy="8.8">120</text>
<path d="M1313.7 244.3C1317.7 235.6 1337.7 185.3 1345.7 174.6C1353.8 163.9 1369.8 160.6 1377.8 158.6C1385.8 156.6 1401.8 157.5 1409.8 158.6C1417.9 159.6 1433.9 163.3 1441.9 167C1449.9 170.6 1465.9 181 1473.9 187.5C1482 194.1 1502 215.5 1506 219.5" fill="none" stroke="#000" stroke-width="4.6" stroke-dasharray="13 10" stroke-linecap="round" stroke-linejoin="round"/>
<rect x="1576.4" y="28.3" width="231.4" height="135" fill="url(#pbg3)"/>
<line x1="1576.4" y1="112.1" x2="1807.8" y2="112.1" stroke="#9a9a9e" stroke-width="1.1"/>
<line x1="1576.4" y1="188.3" x2="1807.8" y2="188.3" stroke="#9a9a9e" stroke-width="1.1"/>
<line x1="1576.4" y1="264.5" x2="1807.8" y2="264.5" stroke="#9a9a9e" stroke-width="1.1"/>
<rect x="1576.4" y="61.2" width="231.4" height="263.7" fill="none" stroke="#9a9a9e" stroke-width="1.2"/>
<text x="1697.6" y="56" font-size="28.5" text-anchor="middle" fill="#111" stroke="#111" stroke-width="0.4">Cluster 4</text>
<line x1="1596" y1="216.1" x2="1596" y2="310.2" stroke="#6b6b6b" stroke-width="1.2"/>
<rect x="1592.1" y="181.9" width="7.8" height="37.2" fill="#3b3b3b" rx="2.4"/>
<rect x="1583.8" y="250" width="24.4" height="24.8" fill="#aa65b6" stroke="#9b8f96" stroke-width="0.8"/>
<rect x="1583.8" y="257.8" width="24.4" height="9.6" fill="#3b3b3b"/>
<text font-size="25.3" text-anchor="middle" fill="#111" stroke="#111" stroke-width="0.4" transform="translate(1593 341.3) rotate(-45)" dy="8.8">54</text>
<line x1="1628" y1="169.6" x2="1628" y2="251.9" stroke="#6b6b6b" stroke-width="1.2"/>
<rect x="1624.1" y="143.4" width="7.8" height="29.2" fill="#3b3b3b" rx="2.4"/>
<rect x="1624.1" y="248.9" width="7.8" height="21.2" fill="#3b3b3b" rx="2.4"/>
<rect x="1624.1" y="276.4" width="7.8" height="6.6" fill="#3b3b3b" rx="2"/>
<rect x="1615.8" y="199.7" width="24.4" height="21.3" fill="#aa65b6" stroke="#9b8f96" stroke-width="0.8"/>
<rect x="1615.8" y="206.4" width="24.4" height="9.6" fill="#3b3b3b"/>
<text font-size="25.3" text-anchor="middle" fill="#111" stroke="#111" stroke-width="0.4" transform="translate(1625 341.3) rotate(-45)" dy="8.8">72</text>
<line x1="1660.1" y1="137.2" x2="1660.1" y2="198.2" stroke="#6b6b6b" stroke-width="1.2"/>
<rect x="1656.2" y="114.4" width="7.8" height="25.8" fill="#3b3b3b" rx="2.4"/>
<rect x="1656.2" y="195.2" width="7.8" height="45.2" fill="#3b3b3b" rx="2.4"/>
<rect x="1656.2" y="103.8" width="7.8" height="6.6" fill="#3b3b3b" rx="2"/>
<rect x="1656.2" y="246" width="7.8" height="6.6" fill="#3b3b3b" rx="2"/>
<rect x="1647.9" y="159.7" width="24.4" height="16" fill="#aa65b6" stroke="#9b8f96" stroke-width="0.8"/>
<rect x="1647.9" y="163.3" width="24.4" height="9.6" fill="#3b3b3b"/>
<text font-size="25.3" text-anchor="middle" fill="#111" stroke="#111" stroke-width="0.4" transform="translate(1657.1 341.3) rotate(-45)" dy="8.8">84</text>
<line x1="1692.2" y1="147.2" x2="1692.2" y2="187.5" stroke="#6b6b6b" stroke-width="1.2"/>
<rect x="1688.2" y="113.7" width="7.8" height="36.5" fill="#3b3b3b" rx="2.4"/>
<rect x="1688.2" y="184.5" width="7.8" height="57.8" fill="#3b3b3b" rx="2.4"/>
<rect x="1680" y="162.4" width="24.4" height="10.7" fill="#aa65b6" stroke="#9b8f96" stroke-width="0.8"/>
<rect x="1680" y="162.9" width="24.4" height="9.6" fill="#3b3b3b"/>
<text font-size="25.3" text-anchor="middle" fill="#111" stroke="#111" stroke-width="0.4" transform="translate(1689.2 341.3) rotate(-45)" dy="8.8">90</text>
<line x1="1724.2" y1="146.4" x2="1724.2" y2="181.1" stroke="#6b6b6b" stroke-width="1.2"/>
<rect x="1720.3" y="114.4" width="7.8" height="35" fill="#3b3b3b" rx="2.4"/>
<rect x="1720.3" y="178.1" width="7.8" height="37.6" fill="#3b3b3b" rx="2.4"/>
<rect x="1720.3" y="220.1" width="7.8" height="6.6" fill="#3b3b3b" rx="2"/>
<rect x="1712" y="159" width="24.4" height="9.5" fill="#aa65b6" stroke="#9b8f96" stroke-width="0.8"/>
<rect x="1712" y="159.1" width="24.4" height="9.6" fill="#3b3b3b"/>
<text font-size="25.3" text-anchor="middle" fill="#111" stroke="#111" stroke-width="0.4" transform="translate(1721.2 341.3) rotate(-45)" dy="8.8">96</text>
<line x1="1756.2" y1="142.6" x2="1756.2" y2="184.9" stroke="#6b6b6b" stroke-width="1.2"/>
<rect x="1752.3" y="116.3" width="7.8" height="29.2" fill="#3b3b3b" rx="2.4"/>
<rect x="1752.3" y="181.9" width="7.8" height="41.8" fill="#3b3b3b" rx="2.4"/>
<rect x="1752.3" y="108" width="7.8" height="6.6" fill="#3b3b3b" rx="2"/>
<rect x="1752.3" y="97.4" width="7.8" height="6.6" fill="#3b3b3b" rx="2"/>
<rect x="1752.3" y="239.9" width="7.8" height="6.6" fill="#3b3b3b" rx="2"/>
<rect x="1744" y="157.8" width="24.4" height="11.4" fill="#aa65b6" stroke="#9b8f96" stroke-width="0.8"/>
<rect x="1744" y="157.6" width="24.4" height="9.6" fill="#3b3b3b"/>
<text font-size="25.3" text-anchor="middle" fill="#111" stroke="#111" stroke-width="0.4" transform="translate(1753.2 341.3) rotate(-45)" dy="8.8">104</text>
<line x1="1788.3" y1="130" x2="1788.3" y2="232.1" stroke="#6b6b6b" stroke-width="1.2"/>
<rect x="1784.4" y="229.1" width="7.8" height="20.5" fill="#3b3b3b" rx="2.4"/>
<rect x="1784.4" y="124.4" width="7.8" height="6.6" fill="#3b3b3b" rx="2"/>
<rect x="1784.4" y="111.8" width="7.8" height="6.6" fill="#3b3b3b" rx="2"/>
<rect x="1776.1" y="168.5" width="24.4" height="26.7" fill="#aa65b6" stroke="#9b8f96" stroke-width="0.8"/>
<rect x="1776.1" y="177.8" width="24.4" height="9.6" fill="#3b3b3b"/>
<text font-size="25.3" text-anchor="middle" fill="#111" stroke="#111" stroke-width="0.4" transform="translate(1785.3 341.3) rotate(-45)" dy="8.8">120</text>
<path d="M1596 262.6C1600 256.2 1620 223 1628 211.2C1636.1 199.3 1652.1 173.5 1660.1 168.1C1668.1 162.7 1684.1 168.2 1692.2 167.7C1700.2 167.2 1716.2 164.6 1724.2 163.9C1732.2 163.2 1748.2 160.1 1756.2 162.4C1764.3 164.7 1784.3 180.1 1788.3 182.6" fill="none" stroke="#000" stroke-width="4.6" stroke-dasharray="13 10" stroke-linecap="round" stroke-linejoin="round"/>
<rect x="1862.4" y="28.3" width="231.6" height="135" fill="url(#pbg4)"/>
<line x1="1862.4" y1="112.1" x2="2094" y2="112.1" stroke="#9a9a9e" stroke-width="1.1"/>
<line x1="1862.4" y1="188.3" x2="2094" y2="188.3" stroke="#9a9a9e" stroke-width="1.1"/>
<line x1="1862.4" y1="264.5" x2="2094" y2="264.5" stroke="#9a9a9e" stroke-width="1.1"/>
<rect x="1862.4" y="61.2" width="231.6" height="263.7" fill="none" stroke="#9a9a9e" stroke-width="1.2"/>
<text x="1983.7" y="56" font-size="28.5" text-anchor="middle" fill="#111" stroke="#111" stroke-width="0.4">Cluster 5</text>
<line x1="1882" y1="158.6" x2="1882" y2="291.2" stroke="#6b6b6b" stroke-width="1.2"/>
<rect x="1878.1" y="142.2" width="7.8" height="19.3" fill="#3b3b3b" rx="2.4"/>
<rect x="1878.1" y="135.9" width="7.8" height="6.6" fill="#3b3b3b" rx="2"/>
<rect x="1878.1" y="111.1" width="7.8" height="6.6" fill="#3b3b3b" rx="2"/>
<rect x="1869.8" y="215" width="24.4" height="38.9" fill="#8b63b9" stroke="#9b8f96" stroke-width="0.8"/>
<rect x="1869.8" y="233.4" width="24.4" height="9.6" fill="#3b3b3b"/>
<text font-size="25.3" text-anchor="middle" fill="#111" stroke="#111" stroke-width="0.4" transform="translate(1879 341.3) rotate(-45)" dy="8.8">54</text>
<line x1="1914" y1="187.5" x2="1914" y2="285.8" stroke="#6b6b6b" stroke-width="1.2"/>
<rect x="1910.1" y="159.4" width="7.8" height="31.1" fill="#3b3b3b" rx="2.4"/>
<rect x="1910.1" y="136.6" width="7.8" height="6.6" fill="#3b3b3b" rx="2"/>
<rect x="1910.1" y="285.6" width="7.8" height="6.6" fill="#3b3b3b" rx="2"/>
<rect x="1901.8" y="223" width="24.4" height="25.9" fill="#8b63b9" stroke="#9b8f96" stroke-width="0.8"/>
<rect x="1901.8" y="231.1" width="24.4" height="9.6" fill="#3b3b3b"/>
<text font-size="25.3" text-anchor="middle" fill="#111" stroke="#111" stroke-width="0.4" transform="translate(1911 341.3) rotate(-45)" dy="8.8">72</text>
<line x1="1946.1" y1="137.2" x2="1946.1" y2="234" stroke="#6b6b6b" stroke-width="1.2"/>
<rect x="1942.2" y="113.7" width="7.8" height="21.2" fill="#3b3b3b" rx="2.4"/>
<rect x="1942.2" y="231" width="7.8" height="17.4" fill="#3b3b3b" rx="2.4"/>
<rect x="1942.2" y="85.2" width="7.8" height="6.6" fill="#3b3b3b" rx="2"/>
<rect x="1942.2" y="247.9" width="7.8" height="6.6" fill="#3b3b3b" rx="2"/>
<rect x="1942.2" y="255.9" width="7.8" height="6.6" fill="#3b3b3b" rx="2"/>
<rect x="1942.2" y="269.6" width="7.8" height="6.6" fill="#3b3b3b" rx="2"/>
<rect x="1933.9" y="170.4" width="24.4" height="26.3" fill="#8b63b9" stroke="#9b8f96" stroke-width="0.8"/>
<rect x="1933.9" y="177.8" width="24.4" height="9.6" fill="#3b3b3b"/>
<text font-size="25.3" text-anchor="middle" fill="#111" stroke="#111" stroke-width="0.4" transform="translate(1943.1 341.3) rotate(-45)" dy="8.8">84</text>
<line x1="1978.2" y1="142.6" x2="1978.2" y2="219.5" stroke="#6b6b6b" stroke-width="1.2"/>
<rect x="1974.2" y="216.5" width="7.8" height="33.8" fill="#3b3b3b" rx="2.4"/>
<rect x="1974.2" y="136.2" width="7.8" height="6.6" fill="#3b3b3b" rx="2"/>
<rect x="1974.2" y="125.6" width="7.8" height="6.6" fill="#3b3b3b" rx="2"/>
<rect x="1974.2" y="259.7" width="7.8" height="6.6" fill="#3b3b3b" rx="2"/>
<rect x="1966" y="170.4" width="24.4" height="21" fill="#8b63b9" stroke="#9b8f96" stroke-width="0.8"/>
<rect x="1966" y="175.5" width="24.4" height="9.6" fill="#3b3b3b"/>
<text font-size="25.3" text-anchor="middle" fill="#111" stroke="#111" stroke-width="0.4" transform="translate(1975.2 341.3) rotate(-45)" dy="8.8">90</text>
<line x1="2010.2" y1="134.6" x2="2010.2" y2="205.4" stroke="#6b6b6b" stroke-width="1.2"/>
<rect x="2006.3" y="202.4" width="7.8" height="35.3" fill="#3b3b3b" rx="2.4"/>
<rect x="2006.3" y="238.3" width="7.8" height="14" fill="#3b3b3b" rx="2.4"/>
<rect x="2006.3" y="124.8" width="7.8" height="6.6" fill="#3b3b3b" rx="2"/>
<rect x="2006.3" y="116.4" width="7.8" height="6.6" fill="#3b3b3b" rx="2"/>
<rect x="1998" y="160.5" width="24.4" height="18.3" fill="#8b63b9" stroke="#9b8f96" stroke-width="0.8"/>
<rect x="1998" y="163.7" width="24.4" height="9.6" fill="#3b3b3b"/>
<text font-size="25.3" text-anchor="middle" fill="#111" stroke="#111" stroke-width="0.4" transform="translate(2007.2 341.3) rotate(-45)" dy="8.8">96</text>
<line x1="2042.2" y1="124.7" x2="2042.2" y2="183.7" stroke="#6b6b6b" stroke-width="1.2"/>
<rect x="2038.3" y="111" width="7.8" height="16.7" fill="#3b3b3b" rx="2.4"/>
<rect x="2038.3" y="180.7" width="7.8" height="31.9" fill="#3b3b3b" rx="2.4"/>
<rect x="2038.3" y="212.8" width="7.8" height="6.6" fill="#3b3b3b" rx="2"/>
<rect x="2030" y="146.4" width="24.4" height="16" fill="#8b63b9" stroke="#9b8f96" stroke-width="0.8"/>
<rect x="2030" y="149.6" width="24.4" height="9.6" fill="#3b3b3b"/>
<text font-size="25.3" text-anchor="middle" fill="#111" stroke="#111" stroke-width="0.4" transform="translate(2039.2 341.3) rotate(-45)" dy="8.8">104</text>
<line x1="2074.3" y1="92.3" x2="2074.3" y2="226.8" stroke="#6b6b6b" stroke-width="1.2"/>
<rect x="2070.4" y="74" width="7.8" height="21.2" fill="#3b3b3b" rx="2.4"/>
<rect x="2070.4" y="226.1" width="7.8" height="6.6" fill="#3b3b3b" rx="2"/>
<rect x="2070.4" y="232.6" width="7.8" height="6.6" fill="#3b3b3b" rx="2"/>
<rect x="2070.4" y="247.9" width="7.8" height="6.6" fill="#3b3b3b" rx="2"/>
<rect x="2062.1" y="143" width="24.4" height="35.1" fill="#8b63b9" stroke="#9b8f96" stroke-width="0.8"/>
<rect x="2062.1" y="154.2" width="24.4" height="9.6" fill="#3b3b3b"/>
<text font-size="25.3" text-anchor="middle" fill="#111" stroke="#111" stroke-width="0.4" transform="translate(2071.3 341.3) rotate(-45)" dy="8.8">120</text>
<path d="M1882 238.2C1886 237.9 1906 242.9 1914 235.9C1922.1 229 1938.1 189.5 1946.1 182.6C1954.1 175.6 1970.1 182.1 1978.2 180.3C1986.2 178.5 2002.2 171.7 2010.2 168.5C2018.2 165.2 2034.2 155.6 2042.2 154.4C2050.3 153.2 2070.3 158.4 2074.3 159" fill="none" stroke="#000" stroke-width="4.6" stroke-dasharray="13 10" stroke-linecap="round" stroke-linejoin="round"/></g>
<g id="pc"><text x="9" y="487" font-size="50" font-weight="bold" fill="#1a1a1a" stroke="#1a1a1a" stroke-width="0.6">c</text>
<text x="254" y="497" font-size="29" text-anchor="middle" font-weight="bold" font-style="italic" fill="#000" stroke="#000" stroke-width="0.4">C. perkinsii</text>
<text x="628" y="497" font-size="29" text-anchor="middle" font-weight="bold" font-style="italic" fill="#000" stroke="#000" stroke-width="0.4">S. arctica</text>
<rect x="74.4" y="508.3" width="52.4" height="26.2" fill="#c6e4ec"/>
<rect x="126.8" y="508.3" width="207" height="26.2" fill="url(#pcg1)"/>
<rect x="333.8" y="508.3" width="101.6" height="26.2" fill="#fff" stroke="#c9c9c9" stroke-width="1"/>
<rect x="333.8" y="508.3" width="101.6" height="26.2" fill="url(#hatR)"/>
<rect x="446.5" y="508.3" width="207" height="26.2" fill="#cbe6ed"/>
<rect x="653.5" y="508.3" width="102.5" height="26.2" fill="#f3cf9b"/>
<rect x="756" y="508.3" width="52.6" height="26.2" fill="#fff" stroke="#c9c9c9" stroke-width="1"/>
<text x="102" y="525.8" font-size="19.5" text-anchor="middle" fill="#000" stroke="#000" stroke-width="0.4">G</text>
<text x="239" y="525.8" font-size="19.5" text-anchor="middle" fill="#000" stroke="#000" stroke-width="0.4">Cleavage</text>
<text x="386" y="525.8" font-size="19.5" text-anchor="middle" fill="#000" stroke="#000" stroke-width="0.4">R</text>
<text x="554" y="525.8" font-size="19.5" text-anchor="middle" fill="#000" stroke="#000" stroke-width="0.4">Coenocytic growth</text>
<text x="704.7" y="525.8" font-size="19.5" text-anchor="middle" fill="#000" stroke="#000" stroke-width="0.4">Cellulariz</text>
<text x="782.5" y="529" font-size="19.5" text-anchor="middle" fill="#000" stroke="#000" stroke-width="0.4">R</text>
<rect x="72.6" y="535.4" width="361.9" height="215.8" fill="#7f7f80"/>
<rect x="446.5" y="535.4" width="362.1" height="215.8" fill="#7f7f80"/>
<g fill="none" stroke-width="52"><path d="M408.6 561.9v2.24" stroke="#242c5a"/><path d="M98.4 673.59v4.14m0 29.94v2.24M408.6 556.22v4.14m0 3.44v2.24" stroke="#293364"/><path d="M98.4 650.87v2.24m0 1.54v2.24m0 1.54v4.14m0 14.79v2.24m0 29.94v2.24m0 1.54v2.24M408.6 550.54v4.14m0 5.33v2.24m0 3.44v2.24m0 20.47v2.24m0 3.44v4.14m0 22.37v6.03" stroke="#2d3a6e"/><path d="M98.4 643.3v2.24m0 1.54v4.14m0 1.54v2.24m0 1.54v2.24m0 3.44v4.14m0 3.44v2.24m0 29.94v6.03m0 3.44v2.24m0 1.54v2.24m0 3.44v2.24m0 11.01v4.14M408.6 554.33v2.24m0 11.01v4.14m0 11.01v4.14m0 3.44v4.14m0 3.44v2.24m0 7.22v4.14m0 3.44v2.24m0 1.54v2.24m0 12.9v9.81m0 1.54v4.14m0 1.54v2.24m0 1.54v2.24m0 11.01v2.24" stroke="#344276"/><path d="M98.4 666.02v4.14m0 1.54v2.24m0 5.33v6.03m0 14.79v2.24m0 14.79v4.14m0 3.44v9.81M150.1 741.74v4.14M201.8 624.37v4.14M305.2 535.4v2.24M356.9 541.08v2.24m0 41.3v2.24M408.6 546.76v4.14m0 20.47v4.14m0 5.33v2.24m0 16.69v2.24m0 1.54v2.24m0 5.33v2.24m0 3.44v2.24m0 24.26v2.24m0 3.44v2.24m0 1.54v2.24m0 11.01v2.24m0 31.83v2.24m0 1.54v2.24" stroke="#3d4b7b"/><path d="M98.4 626.26v2.24m0 1.54v2.24m0 1.54v2.24m0 9.11v2.24m0 75.37v2.24m0 18.58v2.24M150.1 734.16v7.92m0 3.44v2.24M201.8 599.76v2.24M356.9 535.4v6.03m0 45.08v7.92M408.6 575.15v6.03m0 5.33v2.24m0 12.9v2.24m0 1.54v2.24m0 5.33v2.24m0 16.69v2.24m0 22.37v9.81m0 26.15v2.24m0 3.44v2.24m0 1.54v2.24m0 1.54v2.24" stroke="#46547f"/><path d="M98.4 628.16v2.24m0 1.54v2.24m0 1.54v2.24m0 99.98v2.24m0 1.54v2.24M150.1 747.41v2.24M201.8 539.19v2.24m0 3.44v4.14m0 14.79v4.14m0 28.04v2.24m0 3.44v2.24m0 1.54v2.24M305.2 537.29v4.14M356.9 542.97v6.03m0 79.16v4.14m0 1.54v2.24M408.6 669.8v2.24m0 1.54v6.03m0 7.22v6.03m0 3.44v2.24m0 28.04v6.03m0 11.01v2.24" stroke="#555f80"/><path d="M98.4 565.69v2.24m0 69.69v2.24m0 48.87v2.24m0 3.44v4.14m0 41.3v2.24M150.1 749.31v2.24M201.8 537.29v2.24m0 9.11v2.24m0 16.69v17.39m0 9.11v2.24m0 1.54v2.24m0 7.22v6.03m0 9.11v2.24M253.5 558.12v2.24M305.2 541.08v4.14m0 194.63v9.81M356.9 548.65v2.24m0 12.9v9.81m0 7.22v4.14m0 9.11v7.92m0 22.37v4.14m0 3.44v2.24m0 5.33v2.24m0 22.37v6.03M408.6 671.69v2.24m0 5.33v4.14m0 1.54v2.24m0 7.22v2.24m0 26.15v2.24m0 7.22v2.24" stroke="#646b80"/><path d="M98.4 561.9v4.14m0 73.48v4.14m0 41.3v4.14m0 1.54v4.14m0 3.44v2.24M150.1 628.16v4.14M201.8 535.4v2.24m0 3.44v4.14m0 14.79v4.14m0 20.47v9.81m0 9.11v2.24m0 7.22v9.81m0 109.44v6.03M253.5 548.65v9.81m0 1.54v6.03m0 5.33v6.03m0 1.54v2.24m0 20.47v7.92m0 12.9v4.14m0 115.12v2.24M305.2 544.86v2.24M356.9 550.54v4.14m0 3.44v6.03m0 9.11v7.92m0 20.47v2.24m0 18.58v2.24m0 11.01v2.24m0 20.47v6.03m0 5.33v4.14m0 1.54v4.14M408.6 626.26v2.24m0 1.54v2.24m0 75.37v2.24m0 7.22v2.24m0 1.54v2.24m0 1.54v2.24m0 7.22v2.24m0 1.54v6.03" stroke="#73767f"/><path d="M98.4 554.33v7.92m0 5.33v6.03m0 45.08v2.24m0 128.37v2.24M150.1 626.26v2.24m0 5.33v9.81m0 3.44v2.24m0 58.33v4.14m0 1.54v4.14m0 5.33v2.24M201.8 550.54v4.14m0 3.44v2.24m0 73.48v2.24m0 94.3v2.24m0 7.22v2.24M253.5 535.4v4.14m0 1.54v4.14m0 1.54v2.24m0 16.69v2.24m0 9.11v2.24m0 1.54v6.03m0 1.54v2.24m0 3.44v4.14m0 1.54v2.24m0 26.15v2.24m0 109.44v2.24m0 1.54v4.14m0 1.54v2.24M305.2 548.65v2.24m0 48.87v4.14m0 37.51v2.24m0 105.66v2.24M356.9 554.33v4.14m0 45.08v2.24m0 11.01v2.24m0 1.54v2.24m0 14.79v2.24m0 1.54v4.14m0 1.54v2.24m0 1.54v6.03m0 16.69v2.24m0 3.44v4.14m0 3.44v2.24m0 5.33v4.14M408.6 535.4v2.24m0 90.51v2.24m0 52.65v2.24m0 24.26v7.92m0 18.58v2.24" stroke="#82827d"/><path d="M98.4 550.54v4.14m0 26.15v2.24m0 7.22v9.81m0 5.33v2.24m0 7.22v2.24m0 3.44v2.24M150.1 535.4v2.24m0 1.54v6.03m0 24.26v2.24m0 1.54v2.24m0 48.87v2.24m0 5.33v2.24m0 9.11v4.14m0 1.54v6.03m0 11.01v9.81m0 1.54v4.14m0 1.54v4.14m0 3.44v2.24m0 3.44v11.71m0 3.44v2.24m0 3.44v4.14m0 3.44v7.92M201.8 556.22v2.24m0 77.26v2.24m0 56.44v2.24m0 3.44v4.14m0 14.79v2.24m0 1.54v2.24m0 1.54v2.24m0 9.11v2.24m0 1.54v9.81M253.5 539.19v2.24m0 3.44v2.24m0 20.47v4.14m0 14.79v2.24m0 1.54v4.14m0 3.44v2.24m0 9.11v2.24m0 7.22v4.14m0 3.44v2.24m0 14.79v2.24m0 58.33v2.24m0 41.3v2.24M305.2 546.76v2.24m0 14.79v6.03m0 5.33v2.24m0 1.54v2.24m0 12.9v2.24m0 1.54v2.24m0 3.44v6.03m0 9.11v4.14m0 14.79v2.24m0 3.44v6.03m0 12.9v4.14m0 3.44v2.24m0 18.58v2.24m0 3.44v2.24M356.9 605.44v6.03m0 1.54v4.14m0 1.54v2.24m0 24.26v2.24m0 1.54v2.24m0 5.33v2.24m0 24.26v2.24m0 3.44v6.03m0 9.11v2.24m0 20.47v2.24m0 3.44v2.24m0 12.9v2.24M408.6 537.29v4.14m0 177.59v2.24" stroke="#918f78"/><path d="M98.4 573.26v7.92m0 1.54v4.14m0 12.9v6.03m0 1.54v7.92m0 1.54v2.24m0 3.44v2.24m0 120.8v4.14M150.1 537.29v2.24m0 5.33v2.24m0 24.26v2.24m0 1.54v2.24m0 22.37v4.14m0 12.9v7.92m0 29.94v2.24m0 1.54v2.24m0 3.44v2.24m0 22.37v2.24m0 1.54v4.14m0 24.26v2.24m0 9.11v2.24M201.8 554.33v2.24m0 71.58v6.03m0 3.44v7.92m0 11.01v4.14m0 1.54v2.24m0 14.79v2.24m0 14.79v2.24m0 5.33v2.24m0 11.01v2.24m0 1.54v2.24m0 1.54v2.24m0 1.54v2.24M253.5 611.12v6.03m0 12.9v4.14m0 7.22v2.24m0 1.54v4.14m0 12.9v2.24m0 7.22v4.14m0 7.22v2.24m0 1.54v4.14m0 5.33v2.24m0 1.54v4.14m0 1.54v6.03M305.2 550.54v4.14m0 5.33v4.14m0 7.22v4.14m0 9.11v9.81m0 1.54v2.24m0 12.9v7.92m0 3.44v7.92m0 1.54v6.03m0 1.54v2.24m0 7.22v2.24m0 14.79v4.14m0 1.54v2.24m0 14.79v2.24m0 1.54v4.14m0 12.9v2.24m0 11.01v6.03m0 1.54v2.24m0 1.54v6.03M356.9 611.12v2.24m0 71.58v2.24m0 14.79v2.24m0 1.54v13.6m0 9.11v4.14m0 16.69v2.24" stroke="#a19d72"/><path d="M98.4 535.4v4.14m0 1.54v2.24m0 1.54v2.24m0 39.4v4.14M150.1 546.76v2.24m0 1.54v4.14m0 11.01v4.14m0 7.22v2.24m0 1.54v4.14m0 11.01v2.24m0 5.33v4.14m0 7.22v2.24m0 39.4v2.24m0 16.69v2.24m0 3.44v2.24m0 3.44v2.24M201.8 645.19v2.24m0 7.22v2.24m0 3.44v2.24m0 14.79v2.24m0 1.54v6.03m0 1.54v6.03m0 3.44v2.24m0 5.33v11.71M253.5 616.8v2.24m0 16.69v6.03m0 7.22v4.14m0 1.54v2.24m0 1.54v4.14m0 1.54v7.92m0 3.44v2.24m0 1.54v2.24m0 3.44v2.24m0 3.44v6.03m0 1.54v2.24m0 12.9v4.14m0 7.22v2.24m0 1.54v4.14m0 5.33v2.24M305.2 569.47v2.24m0 5.33v2.24m0 1.54v4.14m0 24.26v2.24m0 39.4v11.71m0 11.01v4.14m0 3.44v7.92m0 11.01v2.24m0 1.54v2.24m0 1.54v2.24m0 1.54v6.03m0 1.54v4.14m0 5.33v2.24m0 1.54v2.24M356.9 698.2v4.14m0 16.69v7.92M408.6 541.08v6.03" stroke="#b2ad6d"/><path d="M98.4 539.19v2.24m0 1.54v2.24m0 1.54v2.24m0 75.37v2.24M150.1 548.65v2.24m0 11.01v2.24m0 14.79v2.24m0 3.44v2.24m0 1.54v2.24m0 3.44v2.24m0 1.54v2.24m0 7.22v2.24m0 3.44v2.24m0 45.08v4.14M201.8 647.09v6.03m0 11.01v2.24m0 7.22v4.14m0 9.11v2.24M253.5 633.84v2.24m0 16.69v2.24m0 1.54v2.24m0 18.58v2.24m0 1.54v2.24m0 28.04v2.24m0 3.44v2.24m0 1.54v4.14m0 1.54v2.24m0 3.44v6.03M305.2 630.05v2.24m0 45.08v4.14m0 16.69v2.24m0 1.54v2.24m0 1.54v2.24m0 9.11v2.24M356.9 734.16v2.24m0 3.44v2.24M408.6 745.52v2.24" stroke="#c3bc68"/><path d="M98.4 548.65v2.24M150.1 554.33v6.03m0 3.44v2.24m0 20.47v2.24m0 1.54v4.14m0 14.79v4.14M201.8 652.76v2.24m0 11.01v2.24m0 1.54v4.14M253.5 719.02v2.24M305.2 554.33v2.24M356.9 736.06v4.14m0 1.54v2.24M408.6 747.41v4.14" stroke="#d2cb64"/><path d="M150.1 560.01v2.24M201.8 667.91v2.24M305.2 556.22v4.14M356.9 743.63v2.24" stroke="#dfd85f"/><path d="M356.9 745.52v2.24" stroke="#e6e05d"/></g>
<g fill="none" stroke-width="52"><path d="M524.1 551.62v1.6m0 42.06v1.6m0 12.12v1.6m0 0.9v4.09M782.7 677.6v1.6m0 0.9v1.6m0 8.38v2.84m0 2.14v1.6m0 20.86v1.6" stroke="#242c5a"/><path d="M472.4 618.98v1.6M524.1 571.57v1.6m0 15.87v1.6m0 2.14v1.6m0 12.12v2.84m0 22.1v1.6M782.7 658.89v1.6m0 3.39v1.6m0 17.11v1.6m0 50.79v1.6" stroke="#293364"/><path d="M472.4 551.62v1.6m0 52.04v1.6m0 19.61v1.6M524.1 550.37v1.6m0 5.89v2.84m0 3.39v2.84m0 23.35v1.6m0 10.88v1.6M782.7 550.37v1.6m0 131.87v1.6m0 12.12v1.6m0 9.63v1.6m0 0.9v1.6m0 5.89v1.6m0 7.13v1.6" stroke="#2d3a6e"/><path d="M472.4 537.89v1.6m0 10.88v1.6m0 0.9v1.6m0 7.13v1.6m0 48.3v1.6m0 14.62v1.6m0 74.49v1.6M524.1 546.63v1.6m0 13.37v1.6m0 5.89v1.6m0 2.14v1.6m0 2.14v2.84m0 0.9v1.6m0 5.89v1.6m0 8.38v1.6m0 2.14v1.6m0 0.9v2.84m0 9.63v1.6m0 29.59v1.6m0 19.61v1.6m0 15.87v1.6m0 28.34v1.6m0 7.13v1.6m0 7.13v1.6m0 3.39v1.6m0 0.9v1.6M731 683.84v1.6M782.7 594.03v2.84m0 2.14v1.6m0 49.55v1.6m0 14.62v1.6m0 4.64v1.6m0 7.13v1.6m0 13.37v1.6m0 12.12v1.6m0 2.14v1.6m0 0.9v1.6m0 2.14v2.84m0 9.63v2.84m0 0.9v1.6" stroke="#344276"/><path d="M472.4 539.14v1.6m0 22.1v1.6m0 2.14v1.6m0 30.83v2.84m0 27.09v1.6m0 100.69v1.6M524.1 552.86v1.6m0 27.09v2.84m0 7.13v1.6m0 40.81v1.6m0 10.88v1.6m0 22.1v2.84m0 10.88v1.6m0 10.88v1.6m0 7.13v1.6m0 0.9v2.84m0 7.13v2.84m0 3.39v1.6M731 656.4v1.6M782.7 549.12v1.6m0 2.14v1.6m0 13.37v1.6m0 27.09v1.6m0 15.87v1.6m0 7.13v1.6m0 18.36v2.84m0 15.87v1.6m0 4.64v2.84m0 0.9v1.6m0 0.9v4.09m0 14.62v2.84m0 12.12v1.6m0 3.39v1.6m0 17.11v1.6" stroke="#3d4b7b"/><path d="M472.4 535.4v1.6m0 3.39v1.6m0 15.87v1.6m0 0.9v1.6m0 7.13v1.6m0 27.09v1.6m0 4.64v1.6m0 7.13v1.6m0 10.88v1.6m0 3.39v2.84m0 14.62v1.6m0 27.09v1.6m0 2.14v1.6m0 18.36v2.84m0 2.14v1.6m0 10.88v1.6m0 2.14v1.6m0 5.89v1.6m0 14.62v1.6m0 2.14v2.84M524.1 537.89v1.6m0 2.14v1.6m0 4.64v1.6m0 4.64v4.09m0 2.14v1.6m0 13.37v1.6m0 2.14v1.6m0 3.39v2.84m0 7.13v1.6m0 4.64v1.6m0 20.86v1.6m0 8.38v1.6m0 20.86v1.6m0 28.34v1.6m0 12.12v1.6m0 0.9v2.84m0 2.14v1.6m0 2.14v1.6m0 10.88v1.6m0 7.13v2.84m0 3.39v1.6M627.5 562.84v1.6m0 7.13v1.6m0 48.3v1.6m0 52.04v1.6M679.3 582.8v1.6m0 22.1v1.6m0 35.82v1.6m0 65.76v1.6m0 18.36v1.6M731 660.14v1.6m0 20.86v1.6m0 8.38v2.84m0 4.64v1.6M782.7 539.14v2.84m0 2.14v1.6m0 2.14v1.6m0 2.14v1.6m0 2.14v1.6m0 28.34v1.6m0 4.64v1.6m0 4.64v1.6m0 0.9v1.6m0 5.89v1.6m0 3.39v1.6m0 4.64v1.6m0 10.88v1.6m0 2.14v1.6m0 15.87v1.6m0 5.89v1.6m0 3.39v1.6m0 12.12v1.6m0 4.64v1.6m0 14.62v1.6m0 0.9v1.6m0 20.86v1.6m0 9.63v1.6m0 7.13v1.6" stroke="#46547f"/><path d="M472.4 541.64v1.6m0 2.14v1.6m0 8.38v1.6m0 8.38v1.6m0 0.9v1.6m0 8.38v1.6m0 5.89v1.6m0 23.35v1.6m0 3.39v1.6m0 0.9v1.6m0 14.62v1.6m0 7.13v1.6m0 5.89v1.6m0 8.38v2.84m0 14.62v1.6m0 18.36v1.6m0 3.39v1.6m0 2.14v1.6m0 3.39v1.6m0 17.11v1.6m0 0.9v1.6m0 13.37v1.6M524.1 549.12v1.6m0 15.87v1.6m0 2.14v1.6m0 2.14v1.6m0 23.35v1.6m0 9.63v1.6m0 3.39v1.6m0 3.39v1.6m0 4.64v1.6m0 0.9v1.6m0 4.64v1.6m0 2.14v2.84m0 7.13v1.6m0 2.14v2.84m0 0.9v1.6m0 3.39v1.6m0 34.58v1.6m0 0.9v1.6m0 9.63v1.6m0 8.38v1.6m0 3.39v1.6m0 12.12v1.6m0 7.13v1.6M575.8 594.03v1.6m0 65.76v1.6m0 30.83v1.6M627.5 535.4v1.6m0 30.83v1.6m0 30.83v1.6m0 24.6v1.6m0 2.14v1.6m0 24.6v1.6m0 28.34v1.6m0 47.05v1.6M679.3 535.4v1.6m0 3.39v1.6m0 2.14v1.6m0 99.44v1.6m0 3.39v2.84m0 24.6v1.6m0 17.11v1.6m0 14.62v1.6M731 571.57v1.6m0 59.53v1.6m0 18.36v1.6m0 3.39v2.84m0 18.36v2.84m0 14.62v1.6m0 4.64v1.6m0 4.64v1.6m0 2.14v1.6m0 2.14v1.6m0 8.38v1.6M782.7 541.64v1.6m0 14.62v1.6m0 9.63v1.6m0 4.64v2.84m0 23.35v1.6m0 8.38v1.6m0 2.14v1.6m0 0.9v1.6m0 0.9v2.84m0 5.89v1.6m0 2.14v2.84m0 4.64v2.84m0 4.64v1.6m0 20.86v1.6m0 15.87v1.6m0 10.88v1.6m0 23.35v1.6" stroke="#555f80"/><path d="M472.4 542.88v1.6m0 4.64v1.6m0 3.39v1.6m0 8.38v1.6m0 20.86v1.6m0 5.89v1.6m0 5.89v1.6m0 13.37v1.6m0 2.14v2.84m0 0.9v1.6m0 19.61v1.6m0 2.14v1.6m0 2.14v1.6m0 8.38v1.6m0 9.63v2.84m0 35.82v1.6m0 23.35v1.6m0 4.64v1.6m0 0.9v1.6M524.1 535.4v1.6m0 3.39v1.6m0 25.85v1.6m0 17.11v1.6m0 8.38v1.6m0 19.61v2.84m0 0.9v1.6m0 0.9v1.6m0 2.14v1.6m0 7.13v2.84m0 4.64v2.84m0 17.11v1.6m0 13.37v1.6m0 2.14v1.6m0 8.38v2.84m0 8.38v1.6m0 7.13v1.6m0 5.89v1.6m0 7.13v2.84m0 4.64v1.6m0 8.38v2.84M575.8 541.64v2.84m0 13.37v1.6m0 23.35v1.6m0 20.86v1.6m0 10.88v1.6m0 4.64v1.6m0 9.63v1.6m0 13.37v2.84M627.5 565.34v1.6m0 2.14v1.6m0 9.63v1.6m0 30.83v2.84m0 53.29v1.6m0 24.6v1.6M679.3 570.33v1.6m0 0.9v1.6m0 7.13v1.6m0 0.9v1.6m0 5.89v1.6m0 10.88v1.6m0 79.48v1.6m0 47.05v1.6M731 559.1v1.6m0 35.82v1.6m0 13.37v1.6m0 20.86v1.6m0 13.37v1.6m0 14.62v4.09m0 2.14v1.6m0 3.39v2.84m0 2.14v1.6m0 15.87v1.6m0 0.9v1.6m0 2.14v1.6m0 0.9v1.6m0 0.9v2.84m0 28.34v2.84M782.7 556.61v1.6m0 7.13v2.84m0 4.64v1.6m0 13.37v4.09m0 0.9v1.6m0 14.62v2.84m0 12.12v1.6m0 0.9v1.6m0 2.14v1.6m0 4.64v1.6m0 7.13v2.84m0 14.62v1.6m0 22.1v1.6m0 0.9v1.6m0 8.38v1.6m0 5.89v1.6m0 7.13v1.6m0 22.1v1.6m0 4.64v1.6" stroke="#646b80"/><path d="M472.4 547.87v1.6m0 7.13v1.6m0 0.9v1.6m0 13.37v2.84m0 15.87v1.6m0 2.14v1.6m0 4.64v1.6m0 2.14v1.6m0 0.9v1.6m0 3.39v1.6m0 25.85v1.6m0 3.39v1.6m0 3.39v1.6m0 0.9v2.84m0 15.87v1.6m0 7.13v1.6m0 15.87v1.6m0 22.1v1.6m0 3.39v1.6m0 4.64v1.6m0 0.9v1.6m0 0.9v1.6M524.1 544.13v1.6m0 79.48v1.6m0 14.62v1.6m0 8.38v1.6m0 4.64v1.6m0 3.39v1.6m0 13.37v1.6m0 35.82v1.6m0 10.88v1.6m0 5.89v1.6m0 13.37v1.6M575.8 540.39v1.6m0 29.59v1.6m0 18.36v2.84m0 13.37v1.6m0 15.87v1.6m0 5.89v1.6m0 13.37v2.84m0 13.37v1.6m0 7.13v1.6m0 2.14v1.6m0 18.36v1.6m0 47.05v1.6M627.5 564.09v1.6m0 33.33v1.6m0 7.13v2.84m0 20.86v1.6m0 7.13v1.6m0 10.88v1.6m0 9.63v2.84m0 22.1v1.6m0 0.9v1.6m0 10.88v1.6m0 0.9v2.84m0 2.14v1.6m0 30.83v1.6M679.3 537.89v2.84m0 14.62v2.84m0 15.87v1.6m0 17.11v2.84m0 0.9v1.6m0 17.11v1.6m0 8.38v1.6m0 10.88v1.6m0 9.63v1.6m0 2.14v5.34m0 7.13v1.6m0 12.12v1.6m0 12.12v1.6m0 19.61v1.6m0 10.88v1.6m0 0.9v1.6m0 2.14v1.6m0 0.9v1.6M731 541.64v1.6m0 8.38v1.6m0 17.11v1.6m0 7.13v1.6m0 5.89v1.6m0 2.14v1.6m0 7.13v2.84m0 0.9v2.84m0 4.64v1.6m0 7.13v1.6m0 9.63v1.6m0 5.89v1.6m0 8.38v1.6m0 0.9v1.6m0 9.63v2.84m0 5.89v1.6m0 2.14v1.6m0 10.88v1.6m0 7.13v1.6m0 0.9v1.6m0 18.36v4.09m0 3.39v1.6m0 20.86v1.6m0 0.9v1.6M782.7 535.4v1.6m0 8.38v2.84m0 10.88v1.6m0 9.63v1.6m0 7.13v1.6m0 35.82v1.6m0 7.13v1.6m0 0.9v1.6m0 8.38v1.6m0 9.63v1.6m0 0.9v1.6m0 52.04v1.6m0 17.11v1.6m0 3.39v2.84m0 9.63v1.6m0 4.64v2.84" stroke="#73767f"/><path d="M472.4 536.65v1.6m0 8.38v1.6m0 28.34v1.6m0 2.14v1.6m0 5.89v2.84m0 0.9v1.6m0 2.14v1.6m0 25.85v1.6m0 8.38v1.6m0 3.39v1.6m0 0.9v1.6m0 2.14v1.6m0 13.37v1.6m0 7.13v1.6m0 9.63v1.6m0 12.12v1.6m0 15.87v1.6m0 2.14v2.84m0 2.14v2.84m0 13.37v1.6M524.1 542.88v1.6m0 0.9v1.6m0 15.87v1.6m0 65.76v1.6m0 10.88v1.6m0 5.89v1.6m0 13.37v1.6m0 0.9v1.6m0 4.64v1.6m0 5.89v1.6m0 4.64v1.6m0 2.14v1.6m0 20.86v1.6m0 28.34v1.6M575.8 535.4v1.6m0 7.13v4.09m0 20.86v1.6m0 9.63v1.6m0 2.14v1.6m0 4.64v1.6m0 7.13v2.84m0 4.64v1.6m0 3.39v1.6m0 3.39v1.6m0 2.14v2.84m0 34.58v1.6m0 0.9v1.6m0 0.9v1.6m0 2.14v1.6m0 13.37v2.84m0 4.64v1.6m0 2.14v1.6m0 3.39v1.6m0 10.88v2.84m0 2.14v2.84m0 14.62v1.6m0 2.14v1.6m0 2.14v1.6M627.5 540.39v2.84m0 4.64v1.6m0 4.64v1.6m0 0.9v1.6m0 2.14v2.84m0 7.13v1.6m0 0.9v1.6m0 2.14v1.6m0 0.9v1.6m0 4.64v1.6m0 18.36v2.84m0 12.12v1.6m0 3.39v1.6m0 14.62v1.6m0 0.9v1.6m0 20.86v1.6m0 8.38v1.6m0 7.13v1.6m0 15.87v1.6m0 0.9v1.6m0 3.39v1.6m0 2.14v2.84m0 9.63v1.6m0 18.36v1.6m0 2.14v1.6M679.3 551.62v1.6m0 32.08v1.6m0 3.39v1.6m0 3.39v1.6m0 2.14v1.6m0 15.87v2.84m0 3.39v2.84m0 4.64v1.6m0 9.63v1.6m0 3.39v2.84m0 8.38v1.6m0 9.63v1.6m0 5.89v1.6m0 9.63v2.84m0 0.9v1.6m0 5.89v1.6m0 29.59v1.6M731 544.13v1.6m0 15.87v1.6m0 0.9v1.6m0 0.9v4.09m0 12.12v1.6m0 0.9v1.6m0 0.9v1.6m0 15.87v1.6m0 8.38v2.84m0 9.63v1.6m0 2.14v1.6m0 5.89v1.6m0 2.14v2.84m0 18.36v1.6m0 22.1v1.6m0 0.9v2.84m0 20.86v1.6m0 22.1v1.6m0 9.63v1.6M782.7 537.89v1.6m0 3.39v1.6m0 9.63v1.6m0 5.89v1.6m0 8.38v1.6m0 0.9v1.6m0 2.14v1.6m0 23.35v1.6m0 0.9v1.6m0 32.08v1.6m0 17.11v1.6m0 43.31v1.6m0 18.36v1.6m0 15.87v1.6m0 0.9v1.6m0 5.89v1.6" stroke="#82827d"/><path d="M472.4 544.13v1.6m0 24.6v4.09m0 4.64v1.6m0 0.9v1.6m0 7.13v1.6m0 15.87v1.6m0 54.54v1.6m0 0.9v1.6m0 0.9v4.09m0 9.63v4.09m0 2.14v2.84m0 24.6v1.6m0 7.13v1.6M524.1 536.65v1.6m0 0.9v1.6m0 131.87v1.6m0 14.62v2.84m0 50.79v1.6M575.8 536.65v2.84m0 8.38v1.6m0 3.39v2.84m0 7.13v1.6m0 3.39v1.6m0 7.13v1.6m0 7.13v1.6m0 9.63v2.84m0 9.63v1.6m0 12.12v1.6m0 2.14v1.6m0 0.9v1.6m0 7.13v1.6m0 28.34v1.6m0 5.89v1.6m0 0.9v1.6m0 4.64v1.6m0 4.64v2.84m0 5.89v2.84m0 4.64v1.6m0 9.63v1.6m0 0.9v1.6m0 2.14v2.84m0 3.39v1.6m0 17.11v2.84M627.5 536.65v1.6m0 0.9v1.6m0 5.89v1.6m0 3.39v1.6m0 4.64v1.6m0 7.13v1.6m0 14.62v1.6m0 3.39v1.6m0 5.89v1.6m0 13.37v1.6m0 20.86v2.84m0 0.9v4.09m0 4.64v2.84m0 0.9v4.09m0 0.9v1.6m0 5.89v1.6m0 9.63v1.6m0 3.39v1.6m0 3.39v2.84m0 2.14v1.6m0 0.9v1.6m0 4.64v2.84m0 13.37v1.6m0 3.39v2.84m0 9.63v1.6m0 2.14v1.6m0 0.9v1.6m0 9.63v2.84M679.3 542.88v1.6m0 5.89v1.6m0 10.88v4.09m0 0.9v1.6m0 2.14v1.6m0 14.62v1.6m0 24.6v1.6m0 10.88v4.09m0 8.38v1.6m0 18.36v2.84m0 0.9v1.6m0 7.13v1.6m0 7.13v1.6m0 0.9v1.6m0 10.88v1.6m0 0.9v1.6m0 0.9v1.6m0 2.14v1.6m0 4.64v1.6m0 7.13v1.6m0 0.9v1.6m0 0.9v1.6m0 12.12v1.6m0 0.9v1.6M731 535.4v1.6m0 8.38v1.6m0 8.38v1.6m0 20.86v1.6m0 0.9v1.6m0 2.14v1.6m0 12.12v1.6m0 2.14v1.6m0 4.64v1.6m0 10.88v4.09m0 4.64v1.6m0 4.64v1.6m0 3.39v1.6m0 4.64v1.6m0 3.39v1.6m0 0.9v2.84m0 12.12v1.6m0 4.64v1.6m0 8.38v1.6m0 17.11v1.6m0 18.36v1.6m0 19.61v1.6M782.7 536.65v1.6m0 24.6v1.6m0 39.57v1.6m0 0.9v1.6m0 135.62v1.6" stroke="#918f78"/><path d="M472.4 686.34v2.84m0 4.64v2.84m0 29.59v1.6m0 14.62v1.6M524.1 658.89v2.84m0 13.37v2.84m0 2.14v1.6m0 13.37v1.6M575.8 551.62v1.6m0 3.39v1.6m0 5.89v1.6m0 12.12v1.6m0 9.63v1.6m0 10.88v1.6m0 9.63v2.84m0 3.39v1.6m0 7.13v1.6m0 0.9v1.6m0 10.88v1.6m0 2.14v1.6m0 7.13v2.84m0 10.88v1.6m0 8.38v1.6m0 14.62v1.6m0 5.89v1.6m0 4.64v1.6m0 2.14v2.84m0 3.39v1.6m0 0.9v1.6m0 4.64v1.6m0 9.63v1.6m0 7.13v1.6M627.5 542.88v1.6m0 0.9v1.6m0 3.39v1.6m0 3.39v1.6m0 2.14v1.6m0 13.37v1.6m0 2.14v1.6m0 2.14v1.6m0 0.9v1.6m0 0.9v1.6m0 3.39v4.09m0 0.9v2.84m0 2.14v1.6m0 0.9v1.6m0 5.89v1.6m0 5.89v1.6m0 3.39v1.6m0 2.14v2.84m0 4.64v1.6m0 10.88v1.6m0 8.38v1.6m0 3.39v1.6m0 7.13v1.6m0 20.86v1.6m0 3.39v1.6m0 0.9v1.6m0 13.37v1.6m0 2.14v1.6m0 2.14v2.84m0 0.9v2.84m0 0.9v1.6m0 4.64v1.6m0 3.39v1.6m0 0.9v1.6M679.3 536.65v1.6m0 7.13v1.6m0 0.9v2.84m0 8.38v1.6m0 14.62v1.6m0 2.14v2.84m0 7.13v1.6m0 7.13v1.6m0 3.39v1.6m0 3.39v4.09m0 0.9v1.6m0 5.89v1.6m0 10.88v4.09m0 24.6v1.6m0 7.13v1.6m0 18.36v1.6m0 2.14v1.6m0 10.88v4.09m0 7.13v1.6m0 0.9v1.6m0 3.39v1.6m0 0.9v1.6m0 9.63v1.6m0 0.9v2.84m0 3.39v1.6M731 536.65v1.6m0 4.64v1.6m0 5.89v1.6m0 2.14v1.6m0 9.63v1.6m0 9.63v1.6m0 10.88v1.6m0 0.9v1.6m0 0.9v2.84m0 12.12v1.6m0 3.39v1.6m0 2.14v1.6m0 7.13v1.6m0 13.37v1.6m0 2.14v1.6m0 42.06v1.6m0 15.87v1.6m0 14.62v1.6m0 3.39v1.6m0 0.9v2.84M782.7 560.35v1.6m0 2.14v1.6m0 14.62v2.84m0 3.39v1.6m0 65.76v1.6m0 0.9v1.6" stroke="#a19d72"/><path d="M472.4 584.05v1.6m0 49.55v1.6m0 19.61v2.84m0 32.08v1.6m0 30.83v1.6m0 15.87v1.6M524.1 666.38v1.6M575.8 539.14v1.6m0 8.38v2.84m0 3.39v1.6m0 2.14v1.6m0 5.89v1.6m0 5.89v1.6m0 19.61v1.6m0 5.89v1.6m0 34.58v4.09m0 0.9v1.6m0 7.13v2.84m0 9.63v1.6m0 3.39v2.84m0 0.9v1.6m0 4.64v1.6m0 4.64v2.84m0 18.36v1.6m0 13.37v1.6m0 7.13v1.6m0 0.9v1.6m0 10.88v1.6M627.5 537.89v1.6m0 4.64v1.6m0 3.39v1.6m0 2.14v1.6m0 20.86v1.6m0 25.85v1.6m0 18.36v1.6m0 34.58v1.6m0 7.13v1.6m0 0.9v1.6m0 37.07v1.6m0 10.88v1.6m0 15.87v2.84M679.3 541.64v1.6m0 3.39v1.6m0 4.64v1.6m0 3.39v1.6m0 2.14v1.6m0 3.39v1.6m0 0.9v1.6m0 5.89v1.6m0 23.35v1.6m0 2.14v1.6m0 4.64v1.6m0 8.38v1.6m0 8.38v1.6m0 7.13v1.6m0 22.1v1.6m0 0.9v2.84m0 3.39v4.09m0 4.64v1.6m0 3.39v1.6m0 14.62v1.6m0 12.12v1.6m0 18.36v1.6m0 5.89v1.6m0 0.9v1.6M731 537.89v2.84m0 5.89v1.6m0 14.62v1.6m0 17.11v1.6m0 89.46v1.6m0 40.81v1.6m0 4.64v1.6m0 10.88v1.6m0 0.9v1.6m0 2.14v1.6m0 4.64v1.6M782.7 582.8v2.84m0 69.5v1.6" stroke="#b2ad6d"/><path d="M472.4 636.44v1.6m0 0.9v1.6m0 24.6v1.6m0 40.81v1.6M524.1 744.96v1.6M575.8 561.6v1.6m0 7.13v1.6m0 0.9v1.6m0 0.9v1.6m0 2.14v1.6m0 5.89v2.84m0 20.86v1.6m0 3.39v1.6m0 14.62v1.6m0 3.39v1.6m0 20.86v1.6m0 24.6v1.6m0 14.62v1.6m0 23.35v1.6m0 0.9v1.6m0 4.64v1.6m0 0.9v1.6m0 3.39v2.84M627.5 589.04v2.84m0 23.35v2.84m0 37.07v1.6m0 3.39v1.6m0 18.36v1.6m0 59.53v1.6M679.3 560.35v1.6m0 38.32v1.6m0 17.11v1.6m0 15.87v1.6m0 4.64v1.6m0 57.03v1.6m0 19.61v1.6m0 24.6v1.6M731 540.39v1.6m0 5.89v2.84m0 2.14v1.6m0 2.14v2.84m0 33.33v1.6m0 12.12v1.6m0 120.65v1.6m0 2.14v1.6m0 4.64v1.6" stroke="#c3bc68"/><path d="M472.4 696.31v1.6m0 10.88v1.6m0 29.59v1.6M575.8 565.34v1.6m0 37.07v1.6m0 28.34v1.6m0 9.63v1.6m0 57.03v1.6m0 35.82v1.6M627.5 617.73v1.6m0 54.54v1.6m0 5.89v1.6m0 17.11v1.6m0 20.86v1.6m0 8.38v1.6M679.3 554.11v1.6m0 22.1v1.6m0 7.13v1.6m0 95.7v1.6m0 19.61v1.6m0 8.38v1.6m0 28.34v1.6m0 3.39v1.6M731 560.35v1.6m0 13.37v1.6m0 47.05v1.6m0 10.88v1.6m0 105.68v1.6" stroke="#d2cb64"/><path d="M472.4 582.8v1.6M575.8 560.35v1.6m0 19.61v1.6m0 121.9v1.6M627.5 642.68v1.6m0 34.58v1.6m0 12.12v1.6M731 572.82v2.84m0 37.07v1.6m0 10.88v1.6m0 108.17v1.6" stroke="#dfd85f"/></g>
<rect x="72.6" y="535.4" width="361.9" height="215.8" fill="none" stroke="#151515" stroke-width="1.6"/>
<rect x="446.5" y="535.4" width="362.1" height="215.8" fill="none" stroke="#151515" stroke-width="1.6"/>
<rect x="72.6" y="773.3" width="361.9" height="101.4" fill="#7f7f80"/>
<rect x="446.5" y="773.3" width="362.1" height="101.4" fill="#7f7f80"/>
<g fill="none" stroke-width="52"><path d="M408.6 796.26v2.26m0 16.87v2.26m0 20.7v4.18m0 3.48v2.26" stroke="#242c5a"/><path d="M408.6 794.35v2.26m0 1.56v2.26m0 1.56v8m0 3.48v2.26m0 16.87v2.26m0 7.3v4.18m0 1.56v2.26" stroke="#293364"/><path d="M408.6 800.08v2.26m0 7.3v2.26m0 5.39v6.09m0 5.39v2.26m0 3.48v4.18" stroke="#2d3a6e"/><path d="M98.4 775.21v8m0 37.91v9.92M356.9 851.74v6.09M408.6 811.56v2.26m0 13.04v2.26m0 1.56v2.26" stroke="#344276"/><path d="M98.4 773.3v2.26m0 7.3v2.26m0 1.56v2.26m0 3.48v2.26m0 24.52v2.26m0 9.22v2.26M201.8 867.05v2.26M356.9 849.83v2.26m0 5.39v2.26m0 1.56v4.18M408.6 823.04v4.18m0 28.35v2.26" stroke="#3d4b7b"/><path d="M98.4 784.78v2.26m0 1.56v4.18m0 11.13v2.26m0 1.56v2.26M150.1 780.95v2.26m0 28.35v4.18M201.8 868.96v6.09M356.9 859.39v2.26M408.6 849.83v2.26m0 5.39v2.26" stroke="#46547f"/><path d="M98.4 805.82v2.26M150.1 775.21v2.26m0 1.56v2.26m0 81.92v4.18M201.8 859.39v8M305.2 859.39v4.18M356.9 846v4.18M408.6 782.87v11.83m0 57.05v4.18" stroke="#555f80"/><path d="M98.4 802v2.26M150.1 773.3v2.26m0 1.56v2.26m0 37.91v2.26m0 47.48v2.26M201.8 794.35v2.26m0 37.91v2.26m0 1.56v4.18M253.5 861.31v2.26M305.2 853.65v2.26M356.9 832.61v2.26m0 3.48v2.26m0 3.48v2.26" stroke="#646b80"/><path d="M98.4 794.35v8m0 7.3v4.18m0 3.48v2.26M150.1 782.87v4.18M201.8 796.26v4.18m0 32.17v2.26m0 1.56v2.26m0 3.48v2.26m0 9.22v2.26M253.5 796.26v2.26m0 1.56v2.26m0 39.83v4.18m0 1.56v6.09m0 1.56v2.26m0 11.13v2.26M305.2 846v2.26m0 1.56v4.18m0 1.56v4.18m0 3.48v2.26M356.9 782.87v13.74m0 3.48v2.26m0 1.56v2.26m0 3.48v4.18m0 20.7v4.18m0 1.56v4.18M408.6 775.21v2.26m0 1.56v2.26m0 83.83v2.26m0 1.56v6.09" stroke="#73767f"/><path d="M98.4 813.48v4.18M150.1 788.61v2.26m0 24.52v2.26m0 1.56v2.26M201.8 800.08v4.18m0 11.13v2.26m0 11.13v2.26m0 13.04v6.09m0 1.56v2.26m0 1.56v4.18M253.5 794.35v2.26m0 1.56v2.26m0 1.56v2.26m0 20.7v2.26m0 5.39v2.26m0 3.48v4.18m0 3.48v2.26m0 5.39v2.26m0 1.56v4.18m0 5.39v2.26m0 1.56v2.26M305.2 847.92v2.26M356.9 796.26v4.18m0 1.56v2.26m0 1.56v4.18M408.6 773.3v2.26m0 1.56v2.26m0 1.56v2.26m0 83.83v2.26" stroke="#82827d"/><path d="M150.1 786.69v2.26m0 1.56v2.26m0 28.35v4.18m0 3.48v4.18M201.8 782.87v2.26m0 24.52v2.26m0 5.39v2.26m0 3.48v2.26m0 5.39v2.26m0 16.87v2.26M253.5 803.91v2.26m0 11.13v2.26m0 3.48v2.26m0 11.13v2.26m0 34.09v2.26M305.2 832.61v4.18m0 1.56v2.26M356.9 779.04v2.26m0 43.65v4.18m0 41.74v4.18" stroke="#918f78"/><path d="M150.1 792.43v2.26m0 7.3v6.09m0 1.56v2.26m0 13.04v4.18M201.8 779.04v4.18m0 1.56v2.26m0 20.7v2.26m0 1.56v4.18m0 3.48v4.18m0 1.56v4.18M253.5 773.3v9.92m0 3.48v4.18m0 1.56v2.26m0 11.13v8m0 1.56v2.26m0 1.56v4.18m0 3.48v4.18m0 3.48v2.26m0 26.43v2.26M305.2 773.3v4.18m0 16.87v2.26m0 14.96v2.26m0 22.61v2.26m0 1.56v2.26m0 1.56v2.26m0 26.43v2.26M356.9 817.3v2.26m0 1.56v2.26M408.6 859.39v4.18" stroke="#a19d72"/><path d="M98.4 838.35v6.09m0 9.22v2.26M150.1 794.35v8m0 5.39v2.26m0 22.61v2.26m0 13.04v2.26m0 3.48v2.26m0 1.56v6.09m0 7.3v4.18M201.8 773.3v4.18m0 26.43v4.18M253.5 782.87v4.18m0 3.48v2.26m0 20.7v2.26m0 14.96v2.26M305.2 777.13v2.26m0 1.56v2.26m0 1.56v4.18m0 1.56v4.18m0 3.48v4.18m0 7.3v2.26m0 1.56v4.18m0 3.48v2.26m0 18.78v2.26m0 20.7v2.26m0 1.56v2.26M356.9 777.13v2.26m0 1.56v2.26m0 30.26v4.18m0 1.56v2.26m0 1.56v2.26m0 3.48v4.18M408.6 863.22v2.26" stroke="#b2ad6d"/><path d="M98.4 832.61v2.26m0 1.56v2.26m0 5.39v4.18m0 3.48v2.26m0 1.56v4.18M150.1 834.52v2.26m0 7.3v4.18m0 7.3v2.26m0 11.13v2.26M201.8 777.13v2.26m0 7.3v8M253.5 865.13v2.26M305.2 779.04v2.26m0 1.56v2.26m0 3.48v2.26m0 5.39v2.26m0 7.3v4.18m0 7.3v4.18m0 1.56v8m0 36v2.26m0 1.56v2.26M356.9 773.3v4.18m0 87.66v4.18" stroke="#c3bc68"/><path d="M98.4 834.52v2.26m0 11.13v4.18m0 7.3v2.26m0 11.13v2.26M150.1 836.44v8m0 5.39v4.18M305.2 802v4.18m0 24.52v2.26M356.9 868.96v2.26" stroke="#d2cb64"/><path d="M98.4 861.31v2.26m0 1.56v4.18m0 1.56v2.26" stroke="#dfd85f"/><path d="M98.4 863.22v2.26m0 3.48v2.26" stroke="#e6e05d"/></g>
<g fill="none" stroke-width="52"><path d="M524.1 844.66v1.6m0 7.16v1.6" stroke="#242c5a"/><path d="M472.4 847.16v1.6M524.1 845.91v1.6M782.7 774.55v1.6m0 5.91v2.85m0 25.94v1.6m0 0.9v1.6" stroke="#293364"/><path d="M472.4 815.86v1.6m0 28.44v1.6M627.5 817.11v1.6M782.7 777.06v1.6m0 0.9v1.6m0 4.66v1.6m0 15.92v1.6m0 0.9v1.6m0 0.9v1.6m0 8.41v1.6m0 3.41v1.6" stroke="#2d3a6e"/><path d="M524.1 789.57v1.6m0 2.15v1.6m0 7.16v1.6m0 0.9v1.6m0 0.9v1.6m0 48.47v1.6M782.7 773.3v1.6m0 3.41v1.6m0 4.66v1.6m0 12.17v1.6m0 7.16v1.6m0 17.18v1.6m0 19.68v1.6" stroke="#344276"/><path d="M472.4 830.89v1.6m0 15.92v1.6M524.1 777.06v1.6m0 13.42v1.6m0 2.15v2.85m0 0.9v1.6m0 32.2v1.6m0 15.92v1.6m0 2.15v1.6m0 2.15v2.85m0 2.15v1.6M627.5 834.64v1.6M679.3 830.89v1.6M782.7 775.8v1.6m0 9.66v1.6m0 20.93v1.6m0 3.41v1.6m0 3.41v1.6m0 8.41v1.6" stroke="#3d4b7b"/><path d="M472.4 787.07v1.6m0 48.47v2.85m0 10.92v4.11m0 3.41v1.6m0 9.66v1.6m0 2.15v1.6M524.1 774.55v1.6m0 12.17v1.6m0 23.44v1.6m0 0.9v1.6m0 14.67v1.6m0 14.67v2.85m0 4.66v1.6m0 8.41v1.6M575.8 867.19v1.6M627.5 825.88v1.6M731 775.8v1.6M782.7 780.81v1.6m0 10.92v1.6m0 2.15v1.6m0 0.9v1.6m0 3.41v1.6m0 25.94v1.6m0 17.18v1.6m0 0.9v1.6m0 0.9v1.6m0 0.9v1.6m0 2.15v1.6" stroke="#46547f"/><path d="M472.4 780.81v1.6m0 30.95v1.6m0 18.43v1.6m0 4.66v1.6m0 3.41v1.6m0 3.41v1.6m0 4.66v1.6m0 10.92v1.6M524.1 775.8v1.6m0 3.41v1.6m0 2.15v2.85m0 18.43v1.6m0 0.9v1.6m0 4.66v1.6m0 9.66v1.6m0 2.15v1.6m0 4.66v1.6m0 4.66v1.6m0 3.41v1.6m0 3.41v1.6m0 13.42v2.85m0 0.9v1.6M627.5 787.07v1.6m0 62.24v1.6M731 800.84v1.6m0 8.41v1.6m0 7.16v1.6m0 43.46v1.6m0 7.16v1.6M782.7 788.32v2.85m0 4.66v1.6m0 4.66v1.6m0 8.41v1.6m0 2.15v2.85m0 5.91v1.6m0 0.9v2.85m0 0.9v1.6m0 9.66v1.6m0 2.15v1.6m0 4.66v1.6m0 3.41v1.6" stroke="#555f80"/><path d="M472.4 783.31v1.6m0 8.41v1.6m0 2.15v1.6m0 3.41v1.6m0 25.94v1.6m0 9.66v1.6m0 17.18v4.11m0 0.9v1.6m0 5.91v1.6M524.1 773.3v1.6m0 3.41v2.85m0 0.9v2.85m0 9.66v1.6m0 2.15v1.6m0 3.41v1.6m0 4.66v1.6m0 12.17v1.6m0 3.41v1.6m0 4.66v1.6m0 28.44v1.6m0 5.91v1.6M575.8 784.57v1.6m0 15.92v1.6m0 68.5v1.6M627.5 773.3v1.6m0 13.42v1.6m0 9.66v1.6m0 3.41v1.6m0 20.93v1.6M679.3 785.82v1.6m0 44.72v1.6m0 0.9v1.6m0 3.41v1.6M731 777.06v1.6m0 27.19v1.6m0 2.15v1.6m0 5.91v1.6m0 23.44v1.6m0 9.66v2.85M782.7 792.08v1.6m0 0.9v1.6m0 37.21v2.85m0 3.41v1.6m0 3.41v1.6m0 2.15v2.85m0 12.17v1.6m0 0.9v1.6" stroke="#646b80"/><path d="M472.4 773.3v1.6m0 0.9v1.6m0 4.66v1.6m0 8.41v1.6m0 5.91v1.6m0 8.41v2.85m0 2.15v1.6m0 5.91v1.6m0 0.9v1.6m0 0.9v2.85m0 2.15v1.6m0 20.93v1.6m0 7.16v1.6m0 5.91v1.6M524.1 790.83v1.6m0 8.41v1.6m0 15.92v4.11m0 2.15v1.6m0 0.9v1.6m0 14.67v1.6M575.8 803.34v1.6m0 0.9v4.11m0 12.17v1.6m0 24.69v1.6m0 0.9v1.6m0 15.92v1.6m0 3.41v1.6M627.5 775.8v2.85m0 5.91v2.85m0 2.15v1.6m0 15.92v1.6m0 4.66v1.6m0 3.41v1.6m0 4.66v1.6m0 4.66v2.85m0 15.92v1.6m0 3.41v1.6m0 9.66v1.6M679.3 803.34v4.11m0 10.92v1.6m0 4.66v1.6m0 3.41v1.6m0 5.91v2.85m0 27.19v1.6M731 784.57v1.6m0 5.91v1.6m0 3.41v4.11m0 13.42v1.6m0 2.15v1.6m0 0.9v1.6m0 2.15v2.85m0 9.66v1.6m0 0.9v1.6m0 5.91v1.6m0 3.41v1.6m0 3.41v1.6m0 4.66v1.6M782.7 800.84v1.6m0 18.43v2.85m0 30.95v1.6m0 8.41v1.6m0 2.15v1.6m0 0.9v1.6" stroke="#73767f"/><path d="M472.4 774.55v1.6m0 0.9v1.6m0 5.91v2.85m0 0.9v1.6m0 0.9v1.6m0 2.15v2.85m0 3.41v1.6m0 3.41v4.11m0 9.66v1.6m0 2.15v1.6m0 0.9v1.6m0 29.69v1.6M524.1 810.86v2.85m0 8.41v1.6m0 7.16v1.6m0 28.44v1.6m0 7.16v1.6m0 2.15v1.6M575.8 790.83v1.6m0 0.9v2.85m0 4.66v1.6m0 9.66v2.85m0 8.41v1.6m0 8.41v2.85m0 3.41v1.6m0 4.66v1.6m0 5.91v1.6m0 2.15v1.6m0 0.9v1.6m0 4.66v1.6m0 3.41v1.6M627.5 792.08v1.6m0 3.41v1.6m0 10.92v1.6m0 3.41v2.85m0 29.69v2.85m0 3.41v1.6m0 2.15v1.6m0 0.9v1.6m0 0.9v1.6m0 0.9v1.6m0 0.9v1.6M679.3 788.32v1.6m0 4.66v1.6m0 15.92v1.6m0 2.15v2.85m0 4.66v1.6m0 19.68v1.6m0 8.41v2.85m0 7.16v1.6m0 2.15v1.6M731 774.55v1.6m0 2.15v1.6m0 0.9v4.11m0 2.15v1.6m0 24.69v1.6m0 12.17v2.85m0 4.66v1.6m0 14.67v1.6m0 5.91v1.6m0 10.92v1.6M782.7 790.83v1.6m0 43.46v2.85m0 4.66v1.6m0 15.92v1.6m0 4.66v1.6m0 3.41v2.85" stroke="#82827d"/><path d="M472.4 789.57v1.6m0 25.94v2.85m0 14.67v1.6m0 5.91v2.85M524.1 787.07v1.6m0 28.44v1.6m0 18.43v1.6m0 2.15v1.6M575.8 774.55v1.6m0 2.15v1.6m0 5.91v4.11m0 5.91v2.85m0 0.9v1.6m0 13.42v1.6m0 12.17v1.6m0 2.15v1.6m0 4.66v1.6m0 14.67v1.6m0 2.15v1.6m0 4.66v1.6m0 3.41v1.6M627.5 778.31v1.6m0 2.15v2.85m0 8.41v2.85m0 9.66v1.6m0 3.41v1.6m0 8.41v1.6m0 5.91v2.85m0 2.15v1.6m0 0.9v2.85m0 5.91v1.6m0 5.91v1.6m0 14.67v1.6M679.3 773.3v2.85m0 0.9v1.6m0 3.41v1.6m0 3.41v1.6m0 4.66v1.6m0 0.9v1.6m0 17.18v1.6m0 3.41v1.6m0 0.9v1.6m0 4.66v1.6m0 3.41v1.6m0 5.91v1.6m0 3.41v1.6m0 5.91v1.6m0 2.15v1.6m0 4.66v1.6m0 5.91v1.6m0 0.9v1.6M731 773.3v1.6m0 10.92v1.6m0 19.68v1.6m0 7.16v1.6m0 5.91v1.6m0 10.92v1.6m0 3.41v1.6m0 0.9v1.6m0 0.9v1.6m0 0.9v2.85m0 4.66v1.6m0 4.66v1.6m0 5.91v1.6m0 0.9v1.6M782.7 840.9v1.6m0 17.18v1.6" stroke="#918f78"/><path d="M472.4 778.31v2.85m0 30.95v1.6m0 7.16v1.6m0 13.42v1.6M524.1 862.18v1.6M575.8 780.81v1.6m0 0.9v1.6m0 4.66v1.6m0 7.16v1.6m0 9.66v1.6m0 5.91v1.6m0 0.9v1.6m0 3.41v1.6m0 23.44v1.6m0 0.9v1.6m0 2.15v1.6m0 4.66v2.85M627.5 774.55v1.6m0 19.68v1.6m0 10.92v1.6m0 9.66v1.6m0 0.9v2.85m0 14.67v1.6m0 0.9v1.6m0 12.17v1.6m0 5.91v1.6m0 4.66v2.85M679.3 775.8v1.6m0 12.17v2.85m0 7.16v2.85m0 4.66v2.85m0 10.92v1.6m0 24.69v1.6m0 0.9v1.6m0 7.16v1.6m0 9.66v1.6M731 779.56v1.6m0 8.41v2.85m0 2.15v1.6m0 5.91v1.6m0 0.9v1.6m0 2.15v1.6m0 2.15v1.6m0 8.41v1.6m0 9.66v1.6m0 3.41v1.6m0 4.66v1.6m0 19.68v2.85" stroke="#a19d72"/><path d="M472.4 798.34v1.6m0 3.41v1.6M524.1 838.4v1.6M575.8 775.8v2.85m0 0.9v1.6m0 0.9v1.6m0 20.93v1.6m0 4.66v1.6m0 13.42v2.85m0 8.41v1.6m0 8.41v1.6M627.5 779.56v1.6m0 17.18v1.6m0 3.41v1.6m0 7.16v1.6m0 24.69v1.6m0 3.41v1.6m0 15.92v1.6m0 9.66v2.85M679.3 778.31v2.85m0 20.93v1.6m0 9.66v1.6m0 10.92v1.6m0 8.41v1.6m0 5.91v1.6m0 14.67v1.6m0 10.92v1.6M731 795.83v1.6m0 5.91v1.6m0 24.69v1.6m0 29.69v1.6" stroke="#b2ad6d"/><path d="M472.4 865.94v1.6M524.1 839.65v1.6M575.8 773.3v1.6m0 17.18v1.6m0 42.21v1.6m0 5.91v1.6m0 15.92v1.6M627.5 790.83v1.6m0 8.41v1.6m0 38.46v1.6m0 3.41v1.6m0 10.92v1.6M679.3 780.81v1.6m0 2.15v1.6m0 5.91v1.6m0 15.92v1.6m0 37.21v1.6m0 2.15v1.6m0 7.16v1.6m0 3.41v1.6M731 788.32v1.6m0 40.96v1.6m0 27.19v1.6M782.7 838.4v1.6m0 29.69v1.6" stroke="#c3bc68"/><path d="M472.4 804.6v1.6M575.8 815.86v1.6m0 0.9v1.6m0 9.66v2.85m0 8.41v2.85m0 0.9v1.6M627.5 780.81v1.6m0 19.68v1.6M679.3 783.31v1.6m0 12.17v2.85m0 27.19v1.6m0 13.42v1.6m0 7.16v1.6m0 9.66v1.6M731 793.33v1.6m0 37.21v1.6m0 34.7v1.6" stroke="#d2cb64"/><path d="M472.4 867.19v1.6M575.8 820.87v1.6M679.3 810.86v1.6" stroke="#dfd85f"/></g>
<rect x="72.6" y="773.3" width="361.9" height="101.4" fill="none" stroke="#151515" stroke-width="2.5"/>
<rect x="446.5" y="773.3" width="362.1" height="101.4" fill="none" stroke="#151515" stroke-width="2.5"/>
<rect x="72.6" y="894.8" width="361.9" height="350.4" fill="#7f7f80"/>
<rect x="446.5" y="894.8" width="362.1" height="350.4" fill="#7f7f80"/>
<g fill="none" stroke-width="52"><path d="M98.4 1003.35v4.16M408.6 1039.53v2.25m0 18.69v2.25m0 1.55v2.25m0 12.98v11.78m0 7.27v9.87m0 1.55v27.01m0 11.08v2.25m0 70.11v4.16" stroke="#242c5a"/><path d="M98.4 1007.16v4.16m0 1.55v2.25m0 9.17v6.06m0 3.46v2.25M408.6 1035.72v2.25m0 3.46v2.25m0 7.27v6.06m0 1.55v2.25m0 1.55v2.25m0 1.55v4.16m0 1.55v7.97m0 11.08v2.25m0 1.55v4.16m0 9.17v2.25m0 26.31v4.16m0 5.36v2.25m0 75.82v2.25m0 1.55v4.16" stroke="#293364"/><path d="M98.4 942.41v6.06m0 5.36v2.25m0 9.17v2.25m0 43.45v2.25m0 5.36v4.16m0 7.27v4.16M408.6 978.59v2.25m0 56.78v2.25m0 3.46v7.97m0 5.36v2.25m0 11.08v2.25m0 20.6v2.25m0 45.35v4.16m0 5.36v6.06m0 1.55v4.16m0 1.55v2.25m0 60.59v2.25" stroke="#2d3a6e"/><path d="M98.4 938.6v4.16m0 5.36v2.25m0 16.79v7.97m0 9.17v6.06m0 11.08v2.25m0 11.08v4.16m0 3.46v2.25m0 22.5v4.16m0 7.27v2.25M150.1 959.55v2.25M201.8 1241.39v4.16M408.6 959.55v4.16m0 12.98v2.25m0 5.36v2.25m0 1.55v2.25m0 153.9v2.25m0 9.17v2.25m0 3.46v2.25m0 7.27v4.16m0 32.02v13.68" stroke="#344276"/><path d="M98.4 919.56v2.25m0 28.22v4.16m0 1.55v2.25m0 1.55v6.06m0 12.98v2.25m0 1.55v2.25m0 5.36v2.25m0 5.36v2.25m0 41.55v4.16m0 5.36v4.16m0 1.55v2.25M150.1 906.23v4.16m0 1.55v2.25m0 24.41v6.06m0 9.17v6.06M201.8 934.79v2.25m0 298.63v6.06M305.2 913.84v2.25M356.9 1191.88v4.16M408.6 957.64v2.25m0 3.46v4.16m0 7.27v2.25m0 3.46v4.16m0 1.55v2.25m0 33.93v2.25m0 140.57v6.06m0 32.02v4.16m0 35.83v2.25" stroke="#3d4b7b"/><path d="M98.4 957.64v2.25m0 16.79v2.25m0 1.55v2.25m0 9.17v6.06m0 1.55v2.25m0 33.93v2.25m0 7.27v2.25m0 7.27v2.25M150.1 900.51v2.25m0 1.55v2.25m0 3.46v2.25m0 1.55v6.06m0 16.79v2.25m0 5.36v6.06m0 1.55v2.25m0 7.27v4.16M201.8 1197.59v9.87m0 24.41v2.25M253.5 900.51v2.25m0 20.6v6.06M305.2 906.23v6.06M356.9 1060.48v2.25m0 60.59v2.25m0 1.55v6.06m0 1.55v2.25m0 3.46v6.06m0 28.22v4.16m0 11.08v2.25M408.6 967.17v7.97m0 28.22v2.25m0 12.98v4.16m0 1.55v4.16m0 163.42v7.97m0 1.55v2.25m0 28.22v11.78" stroke="#46547f"/><path d="M98.4 904.32v2.25m0 68.21v2.25m0 60.59v4.16M150.1 894.8v6.06m0 1.55v2.25m0 45.35v2.25M201.8 913.84v2.25m0 1.55v2.25m0 9.17v6.06m0 54.88v2.25m0 199.61v6.06m0 9.17v2.25m0 1.55v2.25m0 20.6v2.25M253.5 896.7v4.16m0 1.55v2.25m0 308.15v2.25m0 18.69v2.25m0 7.27v2.25M305.2 902.42v2.25m0 7.27v2.25m0 11.08v2.25m0 275.78v2.25M356.9 919.56v2.25m0 146.28v2.25m0 54.88v2.25m0 5.36v2.25m0 1.55v4.16m0 28.22v6.06m0 3.46v4.16m0 5.36v2.25M408.6 1001.44v2.25m0 1.55v13.68m0 9.17v4.16m0 1.55v2.25m0 153.9v2.25m0 7.27v2.25" stroke="#555f80"/><path d="M98.4 906.23v2.25m0 9.17v2.25m0 209.13v4.16M150.1 965.26v2.25m0 1.55v2.25m0 1.55v6.06m0 1.55v17.49m0 228.17v2.25m0 12.98v2.25M201.8 898.61v2.25m0 1.55v2.25m0 5.36v4.16m0 1.55v2.25m0 7.27v4.16m0 52.97v7.97m0 1.55v2.25m0 64.4v4.16m0 22.5v7.97m0 9.17v6.06m0 30.12v2.25m0 18.69v4.16m0 11.08v2.25m0 32.02v2.25m0 1.55v4.16m0 12.98v2.25M253.5 894.8v2.25m0 7.27v4.16m0 9.17v2.25m0 1.55v2.25m0 5.36v4.16m0 197.7v4.16m0 18.69v2.25m0 51.07v6.06m0 1.55v2.25m0 3.46v2.25m0 12.98v7.97M305.2 898.61v2.25m0 3.46v2.25m0 9.17v9.87m0 249.12v4.16m0 18.69v4.16m0 3.46v2.25M356.9 921.46v2.25m0 1.55v2.25m0 5.36v2.25m0 54.88v6.06m0 3.46v4.16m0 54.88v2.25m0 5.36v2.25m0 1.55v2.25m0 83.44v2.25m0 24.41v6.06M408.6 995.73v6.06m0 30.12v2.25m0 142.48v4.16m0 3.46v6.06" stroke="#646b80"/><path d="M98.4 908.13v4.16m0 1.55v4.16m0 191.99v2.25M150.1 967.17v2.25m0 1.55v2.25m0 5.36v2.25m0 16.79v2.25m0 1.55v2.25m0 1.55v6.06m0 3.46v2.25m0 39.64v2.25m0 157.71v4.16m0 1.55v4.16m0 1.55v2.25m0 9.17v2.25m0 1.55v2.25M201.8 894.8v4.16m0 1.55v2.25m0 1.55v6.06m0 9.17v6.06m0 11.08v2.25m0 134.86v11.78m0 7.27v9.87m0 28.22v7.97m0 1.55v4.16m0 5.36v9.87m0 5.36v2.25m0 1.55v2.25m0 1.55v2.25m0 1.55v4.16m0 41.55v2.25m0 3.46v2.25M253.5 911.94v6.06m0 1.55v2.25m0 11.08v4.16m0 22.5v4.16m0 94.87v4.16m0 12.98v2.25m0 12.98v4.16m0 5.36v4.16m0 22.5v4.16m0 12.98v6.06m0 1.55v2.25m0 1.55v2.25m0 28.22v2.25m0 1.55v2.25m0 1.55v9.87m0 12.98v2.25m0 3.46v2.25M305.2 894.8v4.16m0 1.55v2.25m0 24.41v9.87m0 131.05v6.06m0 49.16v4.16m0 20.6v2.25m0 32.02v2.25m0 1.55v6.06m0 3.46v2.25m0 3.46v2.25m0 3.46v4.16M356.9 923.37v2.25m0 1.55v6.06m0 1.55v2.25m0 58.68v4.16m0 26.31v2.25m0 1.55v2.25m0 32.02v2.25m0 45.35v2.25m0 32.02v9.87m0 1.55v2.25m0 1.55v4.16M408.6 1174.74v2.25" stroke="#73767f"/><path d="M98.4 911.94v2.25m0 191.99v4.16m0 1.55v2.25m0 5.36v9.87m0 5.36v7.97m0 75.82v4.16m0 1.55v7.97M150.1 1003.35v2.25m0 5.36v4.16m0 1.55v4.16m0 33.93v2.25m0 163.42v2.25m0 7.27v2.25m0 1.55v2.25m0 1.55v2.25M201.8 938.6v4.16m0 5.36v2.25m0 12.98v2.25m0 9.17v2.25m0 1.55v2.25m0 24.41v2.25m0 100.58v4.16m0 1.55v2.25m0 7.27v7.97m0 12.98v6.06m0 12.98v2.25m0 5.36v2.25m0 7.27v2.25m0 1.55v2.25m0 3.46v2.25m0 26.31v4.16m0 1.55v4.16M253.5 908.13v4.16m0 33.93v2.25m0 3.46v2.25m0 3.46v2.25m0 3.46v2.25m0 51.07v6.06m0 1.55v2.25m0 35.83v7.97m0 1.55v4.16m0 20.6v4.16m0 22.5v4.16m0 7.27v9.87m0 5.36v2.25m0 9.17v2.25m0 14.88v2.25m0 1.55v4.16m0 5.36v2.25m0 9.17v4.16m0 11.08v2.25m0 3.46v2.25M305.2 942.41v2.25m0 115.82v7.97m0 30.12v2.25m0 26.31v7.97m0 11.08v2.25m0 1.55v2.25m0 1.55v4.16m0 1.55v7.97m0 1.55v6.06m0 3.46v2.25m0 3.46v2.25m0 5.36v4.16m0 14.88v2.25m0 24.41v7.97M356.9 1005.25v4.16m0 12.98v2.25m0 3.46v2.25m0 1.55v6.06m0 24.41v2.25m0 7.27v7.97m0 1.55v4.16m0 16.79v9.87m0 7.27v2.25m0 37.74v2.25m0 3.46v4.16m0 28.22v4.16m0 12.98v6.06M408.6 1180.45v4.16" stroke="#82827d"/><path d="M98.4 900.51v4.16m0 157.71v4.16m0 20.6v2.25m0 14.88v2.25m0 7.27v4.16m0 14.88v2.25m0 7.27v4.16m0 9.17v2.25m0 58.68v2.25m0 3.46v2.25m0 11.08v4.16M150.1 919.56v2.25m0 77.73v2.25m0 18.69v11.78m0 11.08v2.25m0 7.27v2.25m0 94.87v2.25m0 79.63v2.25m0 1.55v2.25M201.8 942.41v4.16m0 3.46v4.16m0 5.36v2.25m0 5.36v6.06m0 3.46v2.25m0 1.55v2.25m0 20.6v2.25m0 1.55v6.06m0 43.45v2.25m0 3.46v4.16m0 5.36v2.25m0 37.74v2.25m0 1.55v7.97m0 43.45v2.25m0 12.98v2.25m0 1.55v2.25m0 28.22v2.25M253.5 938.6v2.25m0 7.27v2.25m0 3.46v4.16m0 7.27v4.16m0 5.36v2.25m0 11.08v2.25m0 3.46v2.25m0 16.79v4.16m0 9.17v2.25m0 1.55v6.06m0 1.55v6.06m0 7.27v7.97m0 11.08v2.25m0 5.36v13.68m0 3.46v2.25m0 18.69v2.25m0 1.55v2.25m0 35.83v4.16m0 1.55v4.16m0 7.27v2.25m0 11.08v2.25m0 37.74v4.16M305.2 940.5v2.25m0 1.55v2.25m0 52.97v11.78m0 16.79v2.25m0 11.08v6.06m0 11.08v2.25m0 12.98v4.16m0 16.79v4.16m0 1.55v2.25m0 9.17v2.25m0 7.27v2.25m0 11.08v4.16m0 1.55v6.06m0 5.36v2.25m0 3.46v2.25m0 7.27v2.25m0 11.08v2.25m0 30.12v2.25M356.9 911.94v2.25m0 3.46v2.25m0 83.44v2.25m0 3.46v4.16m0 7.27v2.25m0 1.55v2.25m0 58.68v6.06m0 9.17v2.25m0 11.08v6.06m0 1.55v2.25m0 72.02v2.25m0 14.88v2.25M408.6 932.89v4.16m0 7.27v4.16m0 41.55v6.06" stroke="#918f78"/><path d="M98.4 896.7v4.16m0 159.62v2.25m0 3.46v2.25m0 3.46v2.25m0 5.36v2.25m0 7.27v2.25m0 3.46v2.25m0 3.46v4.16m0 12.98v2.25m0 26.31v4.16m0 3.46v2.25m0 1.55v6.06m0 68.21v2.25m0 5.36v6.06M150.1 921.46v6.06m0 104.39v4.16m0 1.55v6.06m0 3.46v6.06m0 7.27v2.25m0 5.36v6.06m0 11.08v2.25m0 9.17v2.25m0 1.55v2.25m0 1.55v2.25m0 1.55v2.25m0 3.46v4.16m0 1.55v2.25m0 24.41v4.16m0 24.41v2.25m0 1.55v6.06m0 3.46v2.25m0 1.55v2.25M201.8 946.22v2.25m0 5.36v6.06m0 1.55v2.25m0 1.55v2.25m0 5.36v2.25m0 24.41v4.16m0 30.12v2.25m0 3.46v6.06m0 3.46v2.25m0 1.55v4.16m0 9.17v6.06m0 115.82v2.25M253.5 940.5v2.25m0 1.55v2.25m0 3.46v2.25m0 16.79v4.16m0 5.36v9.87m0 1.55v4.16m0 1.55v4.16m0 1.55v11.78m0 9.17v2.25m0 3.46v2.25m0 5.36v2.25m0 5.36v2.25m0 58.68v6.06m0 1.55v4.16m0 1.55v2.25m0 1.55v2.25m0 43.45v2.25m0 1.55v4.16m0 1.55v2.25m0 1.55v2.25m0 43.45v2.25m0 3.46v2.25M305.2 938.6v2.25m0 5.36v2.25m0 45.35v6.06m0 11.08v6.06m0 5.36v4.16m0 3.46v2.25m0 7.27v2.25m0 41.55v6.06m0 3.46v2.25m0 7.27v9.87m0 1.55v2.25m0 1.55v4.16m0 16.79v2.25m0 73.92v2.25m0 7.27v2.25M356.9 894.8v2.25m0 1.55v4.16m0 3.46v6.06m0 1.55v2.25m0 35.83v2.25m0 58.68v4.16m0 1.55v2.25m0 16.79v2.25m0 1.55v11.78m0 26.31v2.25m0 12.98v6.06m0 100.58v11.78m0 7.27v2.25m0 20.6v2.25M408.6 929.08v4.16m0 3.46v2.25m0 3.46v2.25m0 5.36v2.25m0 3.46v2.25" stroke="#a19d72"/><path d="M98.4 1068.1v4.16m0 1.55v6.06m0 1.55v6.06m0 3.46v2.25m0 3.46v4.16m0 49.16v4.16m0 45.35v4.16m0 30.12v2.25M150.1 927.17v6.06m0 1.55v2.25m0 98.68v2.25m0 7.27v2.25m0 11.08v2.25m0 12.98v2.25m0 7.27v2.25m0 1.55v7.97m0 3.46v2.25m0 1.55v2.25m0 1.55v2.25m0 1.55v4.16m0 3.46v2.25m0 1.55v2.25m0 5.36v2.25m0 9.17v6.06m0 5.36v4.16m0 11.08v2.25m0 7.27v2.25m0 7.27v2.25m0 1.55v2.25m0 1.55v2.25m0 3.46v17.49M201.8 1012.87v4.16m0 1.55v13.68m0 3.46v4.16m0 5.36v4.16m0 1.55v2.25M253.5 936.7v2.25m0 3.46v2.25m0 28.22v2.25m0 1.55v2.25m0 20.6v2.25m0 43.45v6.06m0 58.68v2.25m0 56.78v2.25M305.2 936.7v2.25m0 9.17v2.25m0 3.46v2.25m0 3.46v4.16m0 11.08v2.25m0 1.55v2.25m0 35.83v6.06m0 3.46v2.25m0 3.46v4.16m0 1.55v2.25m0 7.27v2.25m0 28.22v6.06m0 5.36v4.16m0 22.5v2.25m0 108.2v6.06m0 1.55v4.16M356.9 896.7v2.25m0 3.46v4.16m0 9.17v2.25m0 22.5v11.78m0 18.69v4.16m0 1.55v6.06m0 1.55v2.25m0 52.97v2.25m0 11.08v6.06m0 32.02v4.16m0 127.24v2.25m0 1.55v4.16m0 9.17v4.16M408.6 938.6v4.16m0 5.36v2.25m0 1.55v2.25" stroke="#b2ad6d"/><path d="M98.4 894.8v2.25m0 24.41v2.25m0 1.55v4.16m0 1.55v2.25m0 159.62v2.25m0 68.21v7.97m0 9.17v2.25m0 1.55v4.16m0 9.17v2.25m0 3.46v2.25m0 9.17v2.25M150.1 932.89v2.25m0 127.24v6.06m0 7.27v7.97m0 11.08v2.25m0 26.31v4.16m0 3.46v7.97m0 18.69v4.16m0 3.46v2.25m0 16.79v2.25m0 9.17v2.25M201.8 995.73v2.25m0 18.69v2.25m0 12.98v2.25M305.2 950.03v4.16m0 1.55v4.16m0 3.46v6.06m0 3.46v2.25m0 1.55v2.25m0 1.55v4.16m0 3.46v2.25m0 1.55v2.25m0 41.55v2.25m0 11.08v2.25m0 1.55v2.25m0 1.55v2.25m0 163.42v2.25m0 7.27v2.25M356.9 938.6v2.25m0 26.31v4.16m0 3.46v2.25m0 5.36v2.25m0 1.55v4.16m0 26.31v2.25m0 205.32v2.25m0 3.46v9.87M408.6 896.7v2.25m0 1.55v2.25m0 7.27v2.25m0 9.17v2.25m0 3.46v2.25m0 24.41v2.25" stroke="#c3bc68"/><path d="M98.4 923.37v2.25m0 3.46v2.25m0 1.55v2.25m0 235.79v6.06m0 5.36v2.25m0 3.46v2.25m0 1.55v2.25m0 1.55v2.25m0 7.27v4.16m0 3.46v2.25M150.1 1127.13v2.25m0 9.17v2.25m0 14.88v2.25m0 3.46v4.16m0 7.27v2.25m0 22.5v2.25M201.8 993.83v2.25m0 1.55v2.25M305.2 969.07v4.16m0 11.08v4.16m0 1.55v2.25m0 58.68v2.25m0 1.55v2.25m0 163.42v2.25M356.9 936.7v2.25m0 14.88v6.06m0 1.55v2.25m0 1.55v2.25M408.6 894.8v2.25m0 1.55v2.25m0 1.55v7.97m0 7.27v4.16m0 1.55v4.16" stroke="#d2cb64"/><path d="M98.4 934.79v4.16m0 237.69v4.16m0 9.17v2.25m0 1.55v2.25m0 12.98v4.16M150.1 1169.03v4.16M305.2 1216.63v4.16M356.9 959.55v2.25m0 1.55v2.25M408.6 911.94v4.16" stroke="#dfd85f"/><path d="M408.6 915.75v2.25" stroke="#e6e05d"/></g>
<g fill="none" stroke-width="52"><path d="M524.1 1111.3v1.6m0 0.9v1.6m0 65.98v1.6M782.7 989.91v1.6m0 14.67v1.6m0 65.98v1.6" stroke="#242c5a"/><path d="M472.4 1198.9v1.6M524.1 972.39v1.6m0 32.19v1.6m0 43.45v1.6m0 2.15v1.6m0 47.2v1.6M679.3 1233.94v2.85M782.7 1067.5v2.85m0 9.66v1.6m0 2.15v1.6m0 28.43v1.6m0 19.67v1.6m0 3.4v1.6m0 83.5v1.6" stroke="#293364"/><path d="M472.4 1034.96v1.6m0 28.43v1.6m0 68.48v1.6M524.1 944.86v1.6m0 18.42v1.6m0 7.16v1.6m0 24.68v1.6m0 0.9v1.6m0 25.93v1.6m0 8.41v1.6m0 3.4v2.85m0 5.91v1.6m0 19.67v1.6m0 20.92v1.6m0 28.43v1.6m0 29.68v1.6m0 5.91v1.6m0 20.92v1.6m0 29.68v1.6M627.5 1201.4v1.6M782.7 1028.7v1.6m0 50.96v1.6m0 4.66v1.6m0 14.67v1.6m0 10.91v1.6m0 15.92v1.6m0 13.42v1.6m0 2.15v1.6m0 32.19v2.85m0 40.95v1.6" stroke="#2d3a6e"/><path d="M472.4 1033.71v1.6m0 0.9v1.6m0 40.95v1.6m0 12.16v1.6m0 126.04v1.6M524.1 956.12v1.6m0 47.2v1.6m0 8.41v1.6m0 2.15v2.85m0 9.66v1.6m0 4.66v1.6m0 48.46v1.6m0 9.66v1.6m0 2.15v1.6m0 5.91v1.6m0 17.17v1.6m0 2.15v1.6m0 8.41v1.6m0 38.44v1.6m0 2.15v1.6m0 2.15v1.6m0 18.42v1.6m0 0.9v1.6m0 9.66v1.6M627.5 979.9v1.6M679.3 894.8v1.6M731 948.61v1.6m0 20.92v1.6M782.7 962.38v1.6m0 4.66v1.6m0 15.92v1.6m0 3.4v1.6m0 22.18v1.6m0 5.91v2.85m0 0.9v1.6m0 34.69v1.6m0 5.91v1.6m0 4.66v4.1m0 20.92v1.6m0 3.4v1.6m0 15.92v1.6m0 4.66v1.6m0 7.16v1.6m0 19.67v1.6m0 13.42v1.6m0 12.16v1.6m0 28.43v1.6" stroke="#344276"/><path d="M472.4 986.15v1.6m0 15.92v2.85m0 13.42v1.6m0 39.7v1.6m0 0.9v1.6m0 0.9v1.6m0 2.15v1.6m0 4.66v1.6m0 9.66v1.6m0 29.68v1.6m0 13.42v1.6m0 14.67v1.6m0 48.46v1.6m0 17.17v1.6m0 5.91v1.6M524.1 903.56v1.6m0 33.44v1.6m0 2.15v1.6m0 7.16v1.6m0 2.15v1.6m0 23.43v2.85m0 18.42v1.6m0 5.91v1.6m0 3.4v1.6m0 0.9v1.6m0 5.91v1.6m0 3.4v1.6m0 2.15v1.6m0 4.66v1.6m0 0.9v1.6m0 0.9v1.6m0 3.4v1.6m0 2.15v1.6m0 15.92v2.85m0 8.41v1.6m0 12.16v1.6m0 8.41v1.6m0 9.66v1.6m0 8.41v1.6m0 3.4v1.6m0 7.16v2.85m0 2.15v2.85m0 9.66v1.6m0 3.4v2.85m0 4.66v2.85m0 14.67v1.6m0 2.15v4.1m0 2.15v2.85m0 0.9v1.6m0 22.18v1.6M627.5 983.65v1.6M679.3 1236.44v1.6M731 987.41v1.6m0 54.71v1.6M782.7 909.82v1.6m0 63.47v1.6m0 4.66v1.6m0 13.42v1.6m0 7.16v1.6m0 0.9v1.6m0 10.91v2.85m0 2.15v1.6m0 4.66v1.6m0 2.15v1.6m0 17.17v1.6m0 2.15v1.6m0 12.16v1.6m0 12.16v1.6m0 18.42v1.6m0 0.9v1.6m0 0.9v1.6m0 3.4v1.6m0 5.91v1.6m0 12.16v1.6m0 12.16v1.6m0 17.17v1.6m0 5.91v1.6m0 7.16v1.6m0 4.66v1.6m0 4.66v1.6m0 5.91v1.6m0 0.9v1.6m0 2.15v1.6m0 2.15v1.6m0 5.91v1.6m0 8.41v1.6" stroke="#3d4b7b"/><path d="M472.4 1027.45v1.6m0 17.17v2.85m0 2.15v1.6m0 4.66v1.6m0 18.42v1.6m0 30.94v1.6m0 14.67v1.6m0 9.66v1.6m0 22.18v1.6m0 18.42v1.6m0 18.42v1.6M524.1 902.31v1.6m0 2.15v2.85m0 2.15v1.6m0 17.17v1.6m0 14.67v1.6m0 5.91v1.6m0 55.96v1.6m0 4.66v1.6m0 5.91v1.6m0 7.16v1.6m0 0.9v1.6m0 28.43v1.6m0 0.9v1.6m0 5.91v1.6m0 10.91v2.85m0 8.41v2.85m0 3.4v1.6m0 7.16v1.6m0 13.42v1.6m0 4.66v1.6m0 5.91v1.6m0 3.4v2.85m0 8.41v1.6m0 3.4v1.6m0 9.66v1.6m0 0.9v2.85m0 2.15v1.6m0 17.17v7.86m0 0.9v1.6m0 3.4v1.6m0 0.9v1.6m0 2.15v1.6M575.8 1211.41v1.6M627.5 903.56v1.6m0 27.18v1.6m0 48.46v1.6m0 146.07v1.6m0 53.46v1.6m0 40.95v1.6M679.3 896.05v1.6m0 19.67v1.6m0 7.16v1.6m0 55.96v1.6m0 247.43v1.6M731 897.3v1.6m0 2.15v1.6m0 2.15v1.6m0 3.4v1.6m0 10.91v1.6m0 7.16v1.6m0 0.9v1.6m0 2.15v1.6m0 84.75v1.6m0 47.2v1.6m0 2.15v2.85m0 163.59v1.6M782.7 902.31v1.6m0 13.42v1.6m0 24.68v1.6m0 24.68v1.6m0 0.9v2.85m0 13.42v1.6m0 2.15v2.85m0 7.16v1.6m0 9.66v1.6m0 12.16v1.6m0 0.9v1.6m0 9.66v1.6m0 2.15v1.6m0 0.9v1.6m0 2.15v1.6m0 5.91v4.1m0 19.67v1.6m0 4.66v1.6m0 12.16v1.6m0 4.66v1.6m0 0.9v1.6m0 4.66v1.6m0 18.42v1.6m0 4.66v1.6m0 2.15v1.6m0 4.66v1.6m0 3.4v1.6m0 0.9v1.6m0 2.15v1.6m0 3.4v2.85m0 17.17v1.6m0 17.17v2.85m0 2.15v1.6m0 0.9v1.6m0 5.91v1.6m0 0.9v1.6m0 3.4v1.6m0 0.9v1.6m0 3.4v1.6m0 3.4v1.6" stroke="#46547f"/><path d="M472.4 911.07v1.6m0 24.68v1.6m0 12.16v1.6m0 0.9v1.6m0 2.15v1.6m0 28.43v2.85m0 5.91v1.6m0 4.66v1.6m0 22.18v1.6m0 9.66v1.6m0 5.91v1.6m0 3.4v1.6m0 2.15v1.6m0 19.67v1.6m0 3.4v1.6m0 0.9v1.6m0 18.42v1.6m0 10.91v4.1m0 3.4v1.6m0 12.16v1.6m0 3.4v1.6m0 4.66v1.6m0 3.4v2.85m0 8.41v4.1m0 5.91v1.6m0 7.16v1.6m0 18.42v1.6m0 2.15v1.6m0 2.15v1.6m0 13.42v1.6m0 2.15v1.6M524.1 901.06v1.6m0 37.19v1.6m0 7.16v1.6m0 17.17v2.85m0 13.42v2.85m0 3.4v1.6m0 34.69v1.6m0 19.67v1.6m0 0.9v1.6m0 4.66v2.85m0 0.9v6.61m0 5.91v2.85m0 4.66v1.6m0 0.9v1.6m0 7.16v1.6m0 3.4v1.6m0 9.66v1.6m0 14.67v1.6m0 22.18v1.6m0 2.15v1.6m0 8.41v1.6m0 4.66v1.6m0 4.66v1.6m0 20.92v1.6m0 28.43v1.6M575.8 913.57v1.6m0 23.43v1.6m0 23.43v2.85m0 18.42v1.6m0 32.19v1.6m0 69.73v1.6m0 82.24v1.6m0 40.95v1.6M627.5 904.81v1.6m0 32.19v2.85m0 39.7v1.6m0 7.16v1.6m0 99.76v1.6m0 4.66v1.6m0 12.16v1.6m0 40.95v1.6m0 28.43v1.6m0 2.15v1.6m0 54.71v1.6M679.3 916.07v1.6m0 9.66v1.6m0 0.9v1.6m0 30.94v2.85m0 23.43v1.6m0 198.63v1.6m0 39.7v2.85M731 932.34v1.6m0 13.42v1.6m0 0.9v1.6m0 18.42v1.6m0 0.9v2.85m0 5.91v1.6m0 3.4v1.6m0 8.41v1.6m0 0.9v1.6m0 9.66v1.6m0 8.41v1.6m0 3.4v1.6m0 0.9v1.6m0 7.16v1.6m0 15.92v1.6m0 7.16v1.6m0 0.9v2.85m0 7.16v1.6m0 4.66v1.6m0 12.16v1.6m0 131.05v1.6m0 0.9v1.6M782.7 894.8v1.6m0 18.42v1.6m0 5.91v2.85m0 4.66v1.6m0 4.66v1.6m0 4.66v1.6m0 23.43v1.6m0 8.41v2.85m0 2.15v2.85m0 9.66v1.6m0 3.4v1.6m0 7.16v1.6m0 2.15v1.6m0 4.66v1.6m0 12.16v2.85m0 2.15v1.6m0 0.9v1.6m0 0.9v1.6m0 4.66v1.6m0 2.15v1.6m0 12.16v1.6m0 18.42v1.6m0 4.66v1.6m0 0.9v5.36m0 19.67v1.6m0 9.66v1.6m0 8.41v1.6m0 3.4v1.6m0 3.4v1.6m0 4.66v1.6m0 3.4v1.6m0 18.42v1.6m0 8.41v2.85m0 0.9v1.6m0 5.91v1.6m0 0.9v1.6m0 4.66v1.6m0 5.91v1.6m0 13.42v2.85m0 4.66v1.6" stroke="#555f80"/><path d="M472.4 899.81v1.6m0 13.42v1.6m0 33.44v1.6m0 4.66v1.6m0 0.9v1.6m0 10.91v1.6m0 5.91v1.6m0 17.17v1.6m0 0.9v2.85m0 8.41v1.6m0 2.15v1.6m0 0.9v2.85m0 0.9v1.6m0 25.93v1.6m0 18.42v1.6m0 0.9v2.85m0 29.68v1.6m0 2.15v1.6m0 3.4v1.6m0 10.91v1.6m0 5.91v1.6m0 35.94v1.6m0 3.4v1.6m0 7.16v1.6m0 8.41v1.6m0 15.92v1.6m0 10.91v1.6m0 4.66v1.6m0 7.16v1.6m0 2.15v1.6M524.1 896.05v4.1m0 12.16v1.6m0 23.43v1.6m0 10.91v1.6m0 0.9v1.6m0 3.4v1.6m0 2.15v1.6m0 7.16v2.85m0 2.15v1.6m0 9.66v1.6m0 3.4v1.6m0 2.15v1.6m0 10.91v1.6m0 0.9v1.6m0 0.9v1.6m0 20.92v1.6m0 30.94v1.6m0 8.41v1.6m0 7.16v1.6m0 20.92v1.6m0 2.15v1.6m0 3.4v1.6m0 3.4v1.6m0 10.91v1.6m0 0.9v2.85m0 14.67v1.6m0 18.42v1.6m0 8.41v1.6m0 8.41v1.6m0 3.4v1.6m0 27.18v1.6m0 10.91v1.6M575.8 941.1v1.6m0 17.17v1.6m0 15.92v4.1m0 0.9v1.6m0 3.4v1.6m0 8.41v1.6m0 29.68v1.6m0 12.16v1.6m0 60.97v1.6m0 10.91v1.6m0 27.18v2.85m0 32.19v1.6m0 0.9v1.6m0 24.68v1.6m0 23.43v1.6M627.5 901.06v1.6m0 3.4v1.6m0 0.9v1.6m0 13.42v1.6m0 4.66v1.6m0 2.15v1.6m0 13.42v1.6m0 28.43v1.6m0 4.66v1.6m0 9.66v1.6m0 28.43v1.6m0 0.9v1.6m0 2.15v1.6m0 20.92v2.85m0 0.9v1.6m0 5.91v1.6m0 5.91v1.6m0 13.42v2.85m0 0.9v2.85m0 3.4v1.6m0 13.42v1.6m0 22.18v1.6m0 15.92v1.6m0 35.94v4.1m0 0.9v4.1m0 7.16v1.6m0 23.43v2.85M679.3 904.81v1.6m0 0.9v1.6m0 0.9v1.6m0 47.2v1.6m0 0.9v1.6m0 3.4v1.6m0 9.66v1.6m0 3.4v1.6m0 0.9v1.6m0 4.66v1.6m0 5.91v1.6m0 58.47v1.6m0 45.95v1.6m0 2.15v1.6m0 49.71v4.1m0 54.71v1.6m0 15.92v6.61M731 898.55v1.6m0 2.15v1.6m0 13.42v1.6m0 4.66v1.6m0 4.66v1.6m0 7.16v1.6m0 19.67v1.6m0 0.9v4.1m0 13.42v1.6m0 9.66v1.6m0 0.9v1.6m0 22.18v1.6m0 3.4v1.6m0 33.44v1.6m0 0.9v1.6m0 8.41v2.85m0 5.91v2.85m0 7.16v1.6m0 12.16v1.6m0 20.92v1.6m0 40.95v1.6m0 35.94v1.6m0 18.42v1.6m0 2.15v1.6m0 3.4v2.85m0 4.66v1.6m0 0.9v1.6M782.7 897.3v1.6m0 0.9v1.6m0 7.16v1.6m0 0.9v1.6m0 3.4v1.6m0 2.15v1.6m0 5.91v1.6m0 5.91v1.6m0 4.66v1.6m0 8.41v1.6m0 7.16v1.6m0 14.67v1.6m0 2.15v1.6m0 5.91v1.6m0 8.41v1.6m0 10.91v2.85m0 30.94v1.6m0 4.66v1.6m0 20.92v1.6m0 0.9v1.6m0 14.67v1.6m0 0.9v1.6m0 23.43v1.6m0 7.16v2.85m0 2.15v1.6m0 8.41v1.6m0 10.91v1.6m0 7.16v1.6m0 7.16v1.6m0 3.4v2.85m0 22.18v1.6m0 13.42v1.6m0 8.41v2.85m0 7.16v1.6m0 0.9v1.6" stroke="#646b80"/><path d="M472.4 904.81v1.6m0 9.66v2.85m0 2.15v1.6m0 5.91v1.6m0 8.41v1.6m0 2.15v1.6m0 0.9v1.6m0 2.15v1.6m0 13.42v1.6m0 7.16v2.85m0 2.15v1.6m0 13.42v2.85m0 35.94v2.85m0 4.66v1.6m0 2.15v2.85m0 7.16v1.6m0 2.15v1.6m0 4.66v1.6m0 3.4v1.6m0 15.92v2.85m0 0.9v1.6m0 3.4v1.6m0 2.15v1.6m0 5.91v1.6m0 4.66v1.6m0 7.16v1.6m0 2.15v1.6m0 13.42v2.85m0 4.66v1.6m0 7.16v1.6m0 0.9v1.6m0 3.4v1.6m0 22.18v1.6m0 0.9v5.36m0 3.4v1.6m0 5.91v1.6m0 0.9v1.6m0 3.4v1.6m0 2.15v1.6m0 3.4v1.6m0 8.41v1.6m0 0.9v1.6m0 4.66v2.85M524.1 894.8v1.6m0 3.4v1.6m0 7.16v2.85m0 2.15v1.6m0 0.9v1.6m0 2.15v1.6m0 10.91v1.6m0 13.42v1.6m0 13.42v2.85m0 10.91v1.6m0 0.9v1.6m0 2.15v1.6m0 4.66v1.6m0 13.42v1.6m0 15.92v1.6m0 35.94v1.6m0 18.42v1.6m0 4.66v1.6m0 32.19v1.6m0 4.66v1.6m0 7.16v1.6m0 18.42v1.6m0 0.9v1.6m0 10.91v1.6m0 2.15v1.6m0 39.7v1.6m0 5.91v1.6m0 4.66v1.6m0 2.15v2.85M575.8 896.05v2.85m0 4.66v1.6m0 47.2v1.6m0 0.9v1.6m0 0.9v1.6m0 3.4v1.6m0 5.91v1.6m0 14.67v1.6m0 19.67v1.6m0 7.16v1.6m0 3.4v1.6m0 3.4v1.6m0 3.4v1.6m0 8.41v1.6m0 5.91v2.85m0 18.42v2.85m0 13.42v1.6m0 15.92v1.6m0 20.92v1.6m0 4.66v1.6m0 33.44v2.85m0 2.15v1.6m0 0.9v1.6m0 19.67v2.85m0 13.42v1.6m0 18.42v2.85m0 0.9v4.1M627.5 894.8v1.6m0 0.9v1.6m0 0.9v1.6m0 10.91v1.6m0 7.16v1.6m0 5.91v1.6m0 0.9v1.6m0 4.66v1.6m0 5.91v1.6m0 9.66v1.6m0 2.15v1.6m0 30.94v1.6m0 4.66v1.6m0 3.4v1.6m0 3.4v2.85m0 9.66v2.85m0 22.18v2.85m0 8.41v1.6m0 0.9v1.6m0 14.67v1.6m0 4.66v1.6m0 24.68v1.6m0 8.41v1.6m0 22.18v1.6m0 5.91v1.6m0 17.17v2.85m0 10.91v1.6m0 2.15v1.6m0 3.4v1.6m0 3.4v1.6m0 4.66v1.6m0 25.93v2.85m0 3.4v1.6M679.3 897.3v1.6m0 9.66v1.6m0 8.41v1.6m0 8.41v1.6m0 3.4v1.6m0 3.4v1.6m0 15.92v1.6m0 20.92v1.6m0 9.66v1.6m0 2.15v1.6m0 25.93v1.6m0 5.91v1.6m0 13.42v1.6m0 8.41v1.6m0 34.69v2.85m0 7.16v2.85m0 5.91v1.6m0 27.18v1.6m0 13.42v2.85m0 35.94v1.6m0 17.17v1.6m0 9.66v2.85m0 3.4v1.6M731 896.05v1.6m0 14.67v2.85m0 3.4v4.1m0 4.66v2.85m0 4.66v1.6m0 14.67v2.85m0 13.42v2.85m0 8.41v1.6m0 8.41v2.85m0 5.91v1.6m0 9.66v1.6m0 2.15v1.6m0 17.17v1.6m0 4.66v1.6m0 3.4v1.6m0 4.66v1.6m0 4.66v2.85m0 0.9v1.6m0 3.4v1.6m0 2.15v1.6m0 39.7v1.6m0 28.43v1.6m0 14.67v1.6m0 9.66v1.6m0 0.9v1.6m0 2.15v1.6m0 13.42v1.6m0 32.19v2.85m0 2.15v1.6m0 4.66v1.6m0 2.15v1.6M782.7 896.05v1.6m0 5.91v1.6m0 2.15v1.6m0 19.67v1.6m0 2.15v1.6m0 5.91v1.6m0 5.91v2.85m0 3.4v1.6m0 8.41v4.1m0 17.17v1.6m0 14.67v1.6m0 0.9v1.6m0 10.91v2.85m0 19.67v1.6m0 5.91v1.6m0 7.16v2.85m0 5.91v1.6m0 24.68v1.6m0 20.92v1.6m0 10.91v2.85m0 17.17v1.6m0 20.92v1.6m0 4.66v1.6m0 5.91v1.6m0 0.9v1.6m0 9.66v1.6m0 2.15v1.6m0 20.92v1.6m0 18.42v1.6" stroke="#73767f"/><path d="M472.4 912.32v2.85m0 3.4v2.85m0 9.66v5.36m0 9.66v2.85m0 12.16v1.6m0 19.67v2.85m0 22.18v1.6m0 7.16v1.6m0 7.16v1.6m0 33.44v1.6m0 28.43v2.85m0 2.15v1.6m0 12.16v1.6m0 10.91v1.6m0 4.66v5.36m0 9.66v4.1m0 9.66v1.6m0 2.15v1.6m0 5.91v1.6m0 7.16v4.1m0 7.16v1.6m0 7.16v1.6m0 19.67v1.6m0 13.42v1.6m0 2.15v2.85M524.1 918.58v1.6m0 14.67v2.85m0 20.92v2.85m0 25.93v1.6m0 4.66v1.6m0 27.18v1.6m0 3.4v1.6m0 63.47v2.85m0 25.93v1.6m0 29.68v1.6m0 60.97v1.6m0 17.17v2.85m0 2.15v2.85M575.8 894.8v1.6m0 5.91v1.6m0 0.9v1.6m0 9.66v1.6m0 5.91v1.6m0 2.15v1.6m0 5.91v1.6m0 3.4v1.6m0 4.66v1.6m0 3.4v1.6m0 0.9v1.6m0 3.4v1.6m0 28.43v1.6m0 2.15v1.6m0 4.66v1.6m0 10.91v1.6m0 4.66v1.6m0 4.66v1.6m0 4.66v1.6m0 15.92v1.6m0 12.16v2.85m0 4.66v1.6m0 9.66v1.6m0 2.15v2.85m0 2.15v1.6m0 3.4v4.1m0 12.16v1.6m0 3.4v1.6m0 7.16v1.6m0 8.41v6.61m0 8.41v1.6m0 2.15v1.6m0 25.93v1.6m0 8.41v1.6m0 3.4v1.6m0 10.91v1.6m0 8.41v1.6m0 3.4v1.6M627.5 896.05v1.6m0 4.66v1.6m0 7.16v1.6m0 13.42v1.6m0 39.7v1.6m0 30.94v1.6m0 14.67v1.6m0 7.16v1.6m0 34.69v1.6m0 7.16v1.6m0 0.9v1.6m0 3.4v5.36m0 17.17v1.6m0 5.91v1.6m0 0.9v1.6m0 0.9v1.6m0 0.9v1.6m0 3.4v1.6m0 7.16v1.6m0 2.15v1.6m0 2.15v1.6m0 14.67v1.6m0 9.66v1.6m0 12.16v1.6m0 28.43v1.6m0 4.66v1.6m0 4.66v1.6m0 4.66v1.6m0 0.9v1.6m0 2.15v1.6m0 3.4v1.6m0 0.9v1.6m0 0.9v1.6M679.3 898.55v1.6m0 2.15v1.6m0 7.16v1.6m0 0.9v2.85m0 4.66v1.6m0 2.15v1.6m0 5.91v1.6m0 0.9v1.6m0 0.9v1.6m0 9.66v4.1m0 12.16v1.6m0 5.91v1.6m0 18.42v1.6m0 0.9v2.85m0 20.92v1.6m0 2.15v2.85m0 0.9v1.6m0 14.67v1.6m0 0.9v1.6m0 13.42v1.6m0 17.17v1.6m0 2.15v1.6m0 9.66v4.1m0 5.91v1.6m0 7.16v1.6m0 9.66v1.6m0 4.66v2.85m0 7.16v1.6m0 0.9v1.6m0 4.66v1.6m0 4.66v1.6m0 8.41v1.6m0 23.43v1.6m0 3.4v1.6m0 2.15v1.6m0 7.16v1.6m0 9.66v1.6m0 3.4v1.6m0 3.4v1.6m0 13.42v1.6M731 894.8v1.6m0 7.16v1.6m0 0.9v4.1m0 14.67v1.6m0 9.66v1.6m0 5.91v4.1m0 5.91v2.85m0 0.9v2.85m0 5.91v1.6m0 8.41v2.85m0 3.4v1.6m0 0.9v1.6m0 8.41v1.6m0 8.41v1.6m0 7.16v4.1m0 8.41v1.6m0 10.91v1.6m0 5.91v1.6m0 4.66v1.6m0 7.16v1.6m0 5.91v1.6m0 14.67v1.6m0 18.42v1.6m0 0.9v1.6m0 5.91v1.6m0 9.66v1.6m0 13.42v1.6m0 7.16v1.6m0 19.67v1.6m0 4.66v1.6m0 7.16v1.6m0 9.66v2.85m0 3.4v1.6m0 33.44v2.85M782.7 898.55v1.6m0 4.66v2.85m0 5.91v1.6m0 3.4v1.6m0 0.9v1.6m0 2.15v2.85m0 3.4v1.6m0 0.9v1.6m0 10.91v1.6m0 4.66v1.6m0 0.9v2.85m0 3.4v1.6m0 35.94v1.6m0 35.94v1.6m0 27.18v1.6m0 54.71v1.6m0 77.24v1.6" stroke="#82827d"/><path d="M472.4 897.3v1.6m0 8.41v2.85m0 12.16v1.6m0 15.92v2.85m0 0.9v1.6m0 7.16v1.6m0 0.9v1.6m0 8.41v2.85m0 0.9v2.85m0 3.4v2.85m0 7.16v1.6m0 8.41v1.6m0 2.15v1.6m0 13.42v1.6m0 13.42v2.85m0 9.66v1.6m0 12.16v1.6m0 2.15v1.6m0 13.42v1.6m0 5.91v1.6m0 0.9v1.6m0 10.91v1.6m0 0.9v1.6m0 5.91v1.6m0 5.91v1.6m0 35.94v1.6m0 5.91v1.6m0 10.91v2.85m0 5.91v1.6m0 3.4v1.6m0 8.41v1.6m0 17.17v1.6m0 7.16v1.6m0 3.4v1.6m0 5.91v1.6M524.1 904.81v1.6m0 8.41v1.6m0 0.9v1.6m0 4.66v1.6m0 8.41v1.6m0 8.41v1.6m0 20.92v1.6m0 24.68v1.6m0 89.75v1.6m0 34.69v1.6m0 55.96v1.6m0 38.44v1.6m0 10.91v1.6m0 5.91v1.6M575.8 898.55v1.6m0 0.9v1.6m0 3.4v1.6m0 4.66v1.6m0 5.91v1.6m0 0.9v1.6m0 2.15v1.6m0 2.15v1.6m0 18.42v1.6m0 9.66v1.6m0 3.4v1.6m0 0.9v1.6m0 23.43v1.6m0 0.9v1.6m0 2.15v1.6m0 7.16v1.6m0 14.67v1.6m0 9.66v5.36m0 2.15v1.6m0 8.41v1.6m0 0.9v4.1m0 7.16v1.6m0 4.66v1.6m0 0.9v1.6m0 14.67v1.6m0 3.4v1.6m0 45.95v1.6m0 8.41v1.6m0 7.16v2.85m0 4.66v1.6m0 5.91v1.6m0 4.66v4.1m0 2.15v1.6m0 0.9v1.6m0 4.66v1.6m0 7.16v1.6m0 3.4v2.85m0 3.4v1.6m0 2.15v2.85m0 17.17v1.6M627.5 898.55v1.6m0 9.66v1.6m0 5.91v1.6m0 3.4v1.6m0 12.16v1.6m0 3.4v1.6m0 7.16v1.6m0 7.16v1.6m0 0.9v1.6m0 0.9v1.6m0 0.9v1.6m0 2.15v5.36m0 10.91v1.6m0 3.4v1.6m0 8.41v1.6m0 4.66v1.6m0 5.91v1.6m0 17.17v1.6m0 7.16v1.6m0 50.96v1.6m0 4.66v1.6m0 0.9v2.85m0 9.66v1.6m0 3.4v2.85m0 2.15v1.6m0 3.4v1.6m0 0.9v1.6m0 3.4v2.85m0 19.67v1.6m0 2.15v1.6m0 0.9v1.6m0 3.4v1.6m0 4.66v1.6m0 9.66v1.6m0 19.67v1.6m0 5.91v1.6m0 2.15v1.6m0 14.67v1.6M679.3 903.56v1.6m0 18.42v1.6m0 15.92v1.6m0 0.9v2.85m0 8.41v1.6m0 12.16v1.6m0 4.66v1.6m0 10.91v1.6m0 10.91v4.1m0 57.22v1.6m0 3.4v2.85m0 14.67v1.6m0 13.42v1.6m0 14.67v1.6m0 30.94v1.6m0 0.9v1.6m0 4.66v1.6m0 35.94v1.6m0 2.15v1.6m0 0.9v1.6m0 4.66v1.6m0 0.9v1.6m0 2.15v1.6m0 3.4v1.6m0 7.16v1.6M731 899.81v1.6m0 13.42v2.85m0 24.68v1.6m0 57.22v1.6m0 0.9v1.6m0 5.91v1.6m0 8.41v1.6m0 12.16v1.6m0 4.66v1.6m0 4.66v1.6m0 34.69v1.6m0 0.9v2.85m0 3.4v2.85m0 34.69v1.6m0 8.41v1.6m0 0.9v1.6m0 3.4v1.6m0 2.15v2.85m0 5.91v1.6m0 2.15v2.85m0 3.4v1.6m0 2.15v2.85m0 24.68v2.85m0 19.67v1.6m0 5.91v1.6M782.7 901.06v1.6m0 34.69v2.85m0 4.66v1.6m0 12.16v1.6m0 139.81v1.6m0 54.71v1.6m0 8.41v1.6m0 12.16v1.6m0 19.67v1.6" stroke="#918f78"/><path d="M472.4 902.31v2.85m0 4.66v1.6m0 12.16v1.6m0 2.15v1.6m0 7.16v1.6m0 22.18v1.6m0 0.9v1.6m0 15.92v2.85m0 7.16v1.6m0 17.17v2.85m0 0.9v1.6m0 9.66v1.6m0 75.99v1.6m0 45.95v1.6m0 18.42v1.6m0 33.44v1.6m0 38.44v1.6M524.1 922.33v1.6m0 7.16v1.6m0 44.7v1.6m0 257.44v1.6m0 4.66v1.6M575.8 908.57v1.6m0 7.16v1.6m0 2.15v1.6m0 2.15v1.6m0 2.15v1.6m0 2.15v1.6m0 2.15v1.6m0 4.66v4.1m0 2.15v1.6m0 5.91v1.6m0 14.67v1.6m0 2.15v1.6m0 5.91v1.6m0 4.66v2.85m0 8.41v1.6m0 9.66v1.6m0 0.9v1.6m0 3.4v1.6m0 0.9v1.6m0 9.66v2.85m0 14.67v1.6m0 7.16v1.6m0 3.4v1.6m0 5.91v1.6m0 3.4v1.6m0 2.15v2.85m0 7.16v1.6m0 9.66v1.6m0 4.66v1.6m0 8.41v1.6m0 7.16v4.1m0 18.42v1.6m0 8.41v1.6m0 0.9v1.6m0 12.16v1.6m0 4.66v1.6m0 8.41v1.6m0 4.66v1.6m0 3.4v2.85m0 19.67v1.6m0 12.16v1.6M627.5 907.31v1.6m0 4.66v1.6m0 3.4v1.6m0 14.67v1.6m0 5.91v2.85m0 0.9v2.85m0 3.4v1.6m0 8.41v1.6m0 4.66v1.6m0 4.66v1.6m0 10.91v2.85m0 3.4v2.85m0 0.9v1.6m0 13.42v1.6m0 3.4v4.1m0 2.15v1.6m0 5.91v1.6m0 3.4v6.61m0 5.91v1.6m0 2.15v1.6m0 8.41v4.1m0 2.15v1.6m0 0.9v1.6m0 2.15v1.6m0 7.16v1.6m0 0.9v2.85m0 38.44v1.6m0 5.91v1.6m0 7.16v1.6m0 10.91v2.85m0 0.9v1.6m0 14.67v1.6m0 2.15v2.85m0 5.91v1.6m0 14.67v2.85m0 4.66v1.6m0 7.16v1.6m0 18.42v1.6M679.3 899.81v1.6m0 4.66v1.6m0 4.66v1.6m0 8.41v1.6m0 7.16v1.6m0 3.4v1.6m0 2.15v1.6m0 0.9v1.6m0 8.41v1.6m0 3.4v1.6m0 8.41v1.6m0 2.15v1.6m0 7.16v1.6m0 4.66v1.6m0 9.66v1.6m0 8.41v4.1m0 15.92v1.6m0 7.16v2.85m0 2.15v1.6m0 4.66v1.6m0 3.4v1.6m0 9.66v2.85m0 5.91v2.85m0 22.18v1.6m0 3.4v1.6m0 0.9v1.6m0 4.66v1.6m0 13.42v1.6m0 4.66v5.36m0 5.91v4.1m0 3.4v1.6m0 5.91v1.6m0 5.91v1.6m0 2.15v1.6m0 4.66v1.6m0 18.42v1.6m0 3.4v1.6m0 8.41v1.6m0 0.9v1.6m0 0.9v1.6M731 911.07v1.6m0 13.42v1.6m0 12.16v2.85m0 32.19v1.6m0 7.16v1.6m0 7.16v1.6m0 5.91v1.6m0 17.17v1.6m0 8.41v1.6m0 2.15v1.6m0 5.91v1.6m0 9.66v1.6m0 20.92v1.6m0 14.67v2.85m0 3.4v1.6m0 2.15v1.6m0 2.15v1.6m0 10.91v1.6m0 9.66v2.85m0 0.9v2.85m0 24.68v1.6m0 0.9v1.6m0 13.42v1.6m0 0.9v1.6m0 4.66v1.6m0 2.15v1.6m0 0.9v1.6m0 0.9v1.6m0 10.91v1.6m0 2.15v2.85m0 3.4v1.6m0 19.67v1.6M782.7 949.86v1.6m0 19.67v1.6" stroke="#a19d72"/><path d="M472.4 896.05v1.6m0 0.9v1.6m0 5.91v1.6m0 98.51v1.6m0 14.67v1.6m0 75.99v1.6m0 107.27v1.6m0 4.66v1.6M524.1 921.08v1.6m0 18.42v1.6m0 54.71v1.6m0 43.45v1.6M575.8 899.81v1.6m0 9.66v1.6m0 2.15v1.6m0 2.15v1.6m0 10.91v1.6m0 0.9v1.6m0 2.15v1.6m0 32.19v1.6m0 0.9v1.6m0 5.91v1.6m0 23.43v1.6m0 2.15v1.6m0 20.92v1.6m0 12.16v1.6m0 4.66v1.6m0 9.66v1.6m0 0.9v1.6m0 7.16v1.6m0 10.91v1.6m0 9.66v4.1m0 3.4v2.85m0 2.15v1.6m0 0.9v1.6m0 0.9v1.6m0 3.4v1.6m0 17.17v4.1m0 7.16v1.6m0 0.9v1.6m0 5.91v1.6m0 7.16v1.6m0 5.91v1.6m0 23.43v1.6m0 2.15v1.6m0 10.91v1.6m0 0.9v1.6m0 5.91v4.1m0 9.66v1.6M627.5 916.07v1.6m0 2.15v1.6m0 5.91v1.6m0 22.18v1.6m0 0.9v1.6m0 20.92v2.85m0 23.43v1.6m0 9.66v1.6m0 12.16v1.6m0 5.91v1.6m0 8.41v1.6m0 3.4v1.6m0 2.15v1.6m0 29.68v1.6m0 9.66v1.6m0 8.41v1.6m0 9.66v1.6m0 4.66v2.85m0 14.67v1.6m0 5.91v1.6m0 0.9v1.6m0 5.91v1.6m0 5.91v1.6m0 3.4v1.6m0 0.9v2.85m0 39.7v2.85m0 4.66v1.6M679.3 919.83v1.6m0 24.68v2.85m0 10.91v1.6m0 12.16v1.6m0 0.9v1.6m0 33.44v1.6m0 3.4v2.85m0 0.9v1.6m0 3.4v1.6m0 3.4v1.6m0 0.9v1.6m0 5.91v1.6m0 4.66v1.6m0 2.15v1.6m0 3.4v2.85m0 4.66v1.6m0 7.16v1.6m0 3.4v2.85m0 0.9v1.6m0 7.16v1.6m0 2.15v1.6m0 13.42v1.6m0 8.41v1.6m0 5.91v1.6m0 12.16v1.6m0 0.9v1.6m0 14.67v1.6m0 0.9v1.6m0 12.16v1.6m0 2.15v1.6m0 2.15v2.85m0 2.15v2.85m0 15.92v1.6M731 956.12v1.6m0 3.4v1.6m0 39.7v1.6m0 2.15v2.85m0 20.92v1.6m0 2.15v1.6m0 9.66v1.6m0 35.94v1.6m0 14.67v1.6m0 5.91v1.6m0 3.4v2.85m0 5.91v5.36m0 8.41v1.6m0 0.9v2.85m0 5.91v1.6m0 2.15v1.6m0 3.4v1.6m0 0.9v2.85m0 3.4v1.6m0 15.92v1.6m0 14.67v1.6m0 2.15v1.6m0 5.91v1.6m0 4.66v2.85M782.7 957.37v1.6" stroke="#b2ad6d"/><path d="M472.4 901.06v1.6m0 22.18v2.85m0 39.7v1.6m0 22.18v1.6m0 47.2v1.6M524.1 927.34v1.6m0 67.23v1.6m0 246.18v1.6M575.8 907.31v1.6m0 58.47v1.6m0 5.91v1.6m0 18.42v1.6m0 17.17v1.6m0 12.16v1.6m0 25.93v1.6m0 22.18v1.6m0 39.7v1.6m0 3.4v1.6m0 4.66v1.6m0 10.91v1.6m0 10.91v1.6m0 8.41v1.6m0 20.92v1.6m0 37.19v1.6m0 12.16v1.6M627.5 924.83v1.6m0 28.43v1.6m0 0.9v1.6m0 45.95v2.85m0 3.4v1.6m0 30.94v1.6m0 22.18v1.6m0 33.44v1.6m0 40.95v1.6m0 78.49v1.6M679.3 901.06v1.6m0 78.49v1.6m0 22.18v1.6m0 5.91v2.85m0 15.92v1.6m0 5.91v1.6m0 10.91v1.6m0 28.43v1.6m0 3.4v2.85m0 30.94v1.6m0 5.91v1.6m0 39.7v1.6m0 0.9v2.85m0 4.66v2.85m0 2.15v2.85m0 5.91v1.6m0 8.41v2.85m0 9.66v1.6m0 8.41v1.6M731 1097.53v1.6m0 2.15v1.6m0 10.91v1.6m0 28.43v1.6m0 35.94v1.6m0 0.9v1.6m0 9.66v1.6m0 15.92v1.6m0 4.66v1.6M782.7 912.32v1.6" stroke="#c3bc68"/><path d="M472.4 894.8v1.6M524.1 924.83v2.85m0 70.98v1.6M575.8 909.82v1.6m0 201.13v1.6m0 8.41v1.6m0 33.44v2.85m0 40.95v1.6M627.5 914.82v1.6m0 48.46v1.6m0 63.47v1.6m0 114.78v2.85m0 54.71v1.6m0 4.66v1.6m0 3.4v1.6M679.3 953.62v1.6m0 14.67v1.6m0 34.69v1.6m0 7.16v1.6m0 17.17v2.85m0 20.92v1.6m0 9.66v2.85m0 96.01v1.6M731 1049.98v1.6m0 58.47v1.6m0 5.91v2.85m0 14.67v1.6m0 45.95v1.6m0 5.91v1.6m0 17.17v1.6m0 9.66v1.6" stroke="#d2cb64"/><path d="M472.4 929.84v1.6M575.8 947.36v1.6m0 53.46v4.1m0 38.44v1.6M627.5 1162.61v1.6M679.3 1003.67v1.6m0 69.73v1.6m0 8.41v1.6m0 29.68v1.6m0 0.9v1.6m0 2.15v1.6m0 4.66v1.6M731 1192.64v1.6m0 23.43v1.6" stroke="#dfd85f"/><path d="M627.5 1051.23v1.6M679.3 1113.8v1.6m0 5.91v1.6" stroke="#e6e05d"/><path d="M524.1 928.59v1.6M679.3 1048.73v1.6m0 124.79v1.6M731 1146.34v1.6" stroke="#ece85a"/></g>
<rect x="72.6" y="894.8" width="361.9" height="350.4" fill="none" stroke="#151515" stroke-width="2.5"/>
<rect x="446.5" y="894.8" width="362.1" height="350.4" fill="none" stroke="#151515" stroke-width="2.5"/>
<text font-size="29.1" text-anchor="middle" fill="#1a1a1a" stroke="#1a1a1a" stroke-width="0.4" transform="translate(55.3 644.5) rotate(-90)">Cell division</text>
<text font-size="29.1" text-anchor="middle" fill="#1a1a1a" stroke="#1a1a1a" stroke-width="0.4" transform="translate(26 824.5) rotate(-90)">MT</text>
<text font-size="29.1" text-anchor="middle" fill="#1a1a1a" stroke="#1a1a1a" stroke-width="0.4" transform="translate(53 824) rotate(-90)">organisation</text>
<text font-size="29.1" text-anchor="middle" fill="#1a1a1a" stroke="#1a1a1a" stroke-width="0.4" transform="translate(54.5 1070) rotate(-90)">Cell differentiation</text>
<text font-size="27.5" text-anchor="middle" fill="#1a1a1a" stroke="#1a1a1a" stroke-width="0.4" transform="translate(93.4 1279) rotate(-45)" dy="9.5">54</text>
<text font-size="27.5" text-anchor="middle" fill="#1a1a1a" stroke="#1a1a1a" stroke-width="0.4" transform="translate(145.1 1279) rotate(-45)" dy="9.5">72</text>
<text font-size="27.5" text-anchor="middle" fill="#1a1a1a" stroke="#1a1a1a" stroke-width="0.4" transform="translate(196.8 1279) rotate(-45)" dy="9.5">84</text>
<text font-size="27.5" text-anchor="middle" fill="#1a1a1a" stroke="#1a1a1a" stroke-width="0.4" transform="translate(248.5 1279) rotate(-45)" dy="9.5">90</text>
<text font-size="27.5" text-anchor="middle" fill="#1a1a1a" stroke="#1a1a1a" stroke-width="0.4" transform="translate(300.2 1279) rotate(-45)" dy="9.5">96</text>
<text font-size="27.5" text-anchor="middle" fill="#1a1a1a" stroke="#1a1a1a" stroke-width="0.4" transform="translate(351.9 1279) rotate(-45)" dy="9.5">104</text>
<text font-size="27.5" text-anchor="middle" fill="#1a1a1a" stroke="#1a1a1a" stroke-width="0.4" transform="translate(403.6 1279) rotate(-45)" dy="9.5">120</text>
<text font-size="27.5" text-anchor="middle" fill="#1a1a1a" stroke="#1a1a1a" stroke-width="0.4" transform="translate(469.4 1278) rotate(-45)" dy="9.5">18</text>
<text font-size="27.5" text-anchor="middle" fill="#1a1a1a" stroke="#1a1a1a" stroke-width="0.4" transform="translate(521.1 1278) rotate(-45)" dy="9.5">30</text>
<text font-size="27.5" text-anchor="middle" fill="#1a1a1a" stroke="#1a1a1a" stroke-width="0.4" transform="translate(572.8 1278) rotate(-45)" dy="9.5">42</text>
<text font-size="27.5" text-anchor="middle" fill="#1a1a1a" stroke="#1a1a1a" stroke-width="0.4" transform="translate(624.5 1278) rotate(-45)" dy="9.5">48</text>
<text font-size="27.5" text-anchor="middle" fill="#1a1a1a" stroke="#1a1a1a" stroke-width="0.4" transform="translate(676.3 1278) rotate(-45)" dy="9.5">54</text>
<text font-size="27.5" text-anchor="middle" fill="#1a1a1a" stroke="#1a1a1a" stroke-width="0.4" transform="translate(728 1278) rotate(-45)" dy="9.5">60</text>
<text font-size="27.5" text-anchor="middle" fill="#1a1a1a" stroke="#1a1a1a" stroke-width="0.4" transform="translate(779.7 1278) rotate(-45)" dy="9.5">66</text>
<text x="433.5" y="1333" font-size="29" text-anchor="middle" fill="#1a1a1a" stroke="#1a1a1a" stroke-width="0.4">Time (h)</text></g>
<g id="pd"><text x="805" y="445" font-size="50" font-weight="bold" fill="#1a1a1a" stroke="#1a1a1a" stroke-width="0.6">d</text>
<rect x="914.7" y="436.8" width="481.3" height="361.2" fill="none" stroke="#a3a3a6" stroke-width="1.2"/>
<line x1="914.7" y1="707.7" x2="1396" y2="707.7" stroke="#a3a3a6" stroke-width="1.2"/>
<line x1="914.7" y1="617.4" x2="1396" y2="617.4" stroke="#a3a3a6" stroke-width="1.2"/>
<text x="907" y="805.2" font-size="20.5" text-anchor="end" fill="#000" stroke="#000" stroke-width="0.4">0</text>
<text x="907" y="714.9" font-size="20.5" text-anchor="end" fill="#000" stroke="#000" stroke-width="0.4">1</text>
<text x="907" y="624.6" font-size="20.5" text-anchor="end" fill="#000" stroke="#000" stroke-width="0.4">2</text>
<text x="907" y="534.3" font-size="20.5" text-anchor="end" fill="#000" stroke="#000" stroke-width="0.4">3</text>
<text x="907" y="444" font-size="20.5" text-anchor="end" fill="#000" stroke="#000" stroke-width="0.4">4</text>
<path d="M957 798 L957.7 795.3 L957.7 787.2 L949.8 775.4 L948 761.9 L951.6 743.8 L949.8 734.8 L945.5 725.8 L942 716.7 L940.4 707.7 L939.5 689.6 L939.1 667.1 L939.1 667.1 L938.7 689.6 L937.8 707.7 L936.2 716.7 L932.7 725.8 L928.4 734.8 L926.6 743.8 L930.2 761.9 L928.4 775.4 L920.5 787.2 L920.5 795.3 L921.2 798 Z" fill="#c9c9cc" stroke="#595959" stroke-width="1.5" stroke-linejoin="round"/>
<path d="M1005.9 798 L1000.9 795.7 L990.9 793.5 L990.9 790.8 L991.9 788.1 L989.1 784.5 L988.2 779.9 L988.4 768.2 L990.2 761.9 L988.4 756.5 L987.7 743.8 L987.3 707.7 L987.3 707.7 L986.9 743.8 L986.2 756.5 L984.4 761.9 L986.2 768.2 L986.4 779.9 L985.5 784.5 L982.7 788.1 L983.7 790.8 L983.7 793.5 L973.7 795.7 L968.7 798 Z" fill="#c9c9cc" stroke="#595959" stroke-width="1.5" stroke-linejoin="round"/>
<path d="M1044.2 798 L1046 795.3 L1047 789 L1046.7 770.9 L1047.4 760.1 L1053.5 748.3 L1055.6 738.4 L1054.2 731.2 L1049.9 725.8 L1044.9 723.1 L1036.3 722.6 L1036.3 722.6 L1027.7 723.1 L1022.7 725.8 L1018.4 731.2 L1017 738.4 L1019.1 748.3 L1025.2 760.1 L1025.9 770.9 L1025.6 789 L1026.6 795.3 L1028.4 798 Z" fill="#c9c9cc" stroke="#595959" stroke-width="1.5" stroke-linejoin="round"/>
<path d="M1104.2 798 L1103.5 795.3 L1099.2 790.8 L1093.5 784.5 L1088.5 770.9 L1087.4 757.4 L1089.2 745.6 L1090.6 738.4 L1089.2 730.3 L1086.5 716.7 L1086 689.6 L1085.6 578.6 L1085.6 578.6 L1085.2 689.6 L1084.7 716.7 L1082 730.3 L1080.6 738.4 L1082 745.6 L1083.8 757.4 L1082.7 770.9 L1077.7 784.5 L1072 790.8 L1067.7 795.3 L1067 798 Z" fill="#c9c9cc" stroke="#595959" stroke-width="1.5" stroke-linejoin="round"/>
<path d="M1152.5 798 L1148.2 796.9 L1137.5 795.3 L1135 792.6 L1134.3 789 L1133.9 765.5 L1133.9 765.5 L1133.5 789 L1132.8 792.6 L1130.3 795.3 L1119.6 796.9 L1115.3 798 Z" fill="#c9c9cc" stroke="#595959" stroke-width="1.5" stroke-linejoin="round"/>
<path d="M1199.4 798 L1200.4 794.4 L1199.4 787.2 L1195.1 770.9 L1190.4 752.9 L1187.6 734.8 L1186.8 721.2 L1188.6 707.7 L1187.9 696.9 L1185.4 685.1 L1183.6 671.6 L1182.9 653.5 L1182.6 617.4 L1182.2 576.8 L1182.2 576.8 L1181.8 617.4 L1181.5 653.5 L1180.8 671.6 L1179 685.1 L1176.5 696.9 L1175.8 707.7 L1177.6 721.2 L1176.8 734.8 L1174 752.9 L1169.3 770.9 L1165 787.2 L1164 794.4 L1165 798 Z" fill="#c9c9cc" stroke="#595959" stroke-width="1.5" stroke-linejoin="round"/>
<path d="M1248.3 798 L1248.6 794.4 L1246.1 787.2 L1241.1 770.9 L1237.6 752.9 L1237.6 734.8 L1235 721.2 L1233.3 707.7 L1231.7 689.6 L1230.9 671.6 L1230.4 631.8 L1230.4 631.8 L1229.9 671.6 L1229.1 689.6 L1227.5 707.7 L1225.8 721.2 L1223.2 734.8 L1223.2 752.9 L1219.7 770.9 L1214.7 787.2 L1212.2 794.4 L1212.5 798 Z" fill="#c9c9cc" stroke="#595959" stroke-width="1.5" stroke-linejoin="round"/>
<path d="M1296.6 798 L1297.3 795.3 L1294.4 791.7 L1286.6 784.5 L1282.3 770.9 L1283 752.9 L1282.3 739.3 L1280.8 725.8 L1279.6 712.2 L1279.1 689.6 L1278.7 646.3 L1278.7 646.3 L1278.3 689.6 L1277.8 712.2 L1276.6 725.8 L1275.1 739.3 L1274.4 752.9 L1275.1 770.9 L1270.8 784.5 L1263 791.7 L1260.1 795.3 L1260.8 798 Z" fill="#c9c9cc" stroke="#595959" stroke-width="1.5" stroke-linejoin="round"/>
<path d="M1344.9 798 L1346 795.3 L1342.7 789.9 L1337 779.9 L1332.4 761.9 L1332.4 743.8 L1331.3 725.8 L1329.5 712.2 L1327.9 698.7 L1327.4 685.1 L1327 672.5 L1327 672.5 L1326.6 685.1 L1326.1 698.7 L1324.5 712.2 L1322.7 725.8 L1321.6 743.8 L1321.6 761.9 L1317 779.9 L1311.3 789.9 L1308 795.3 L1309.1 798 Z" fill="#c9c9cc" stroke="#595959" stroke-width="1.5" stroke-linejoin="round"/>
<path d="M1373.5 798 L1374.6 793.5 L1373.9 784.5 L1373.2 761.9 L1373.2 653.5 L1373.9 644.5 L1380.7 640.9 L1390.7 636.4 L1393.2 632.8 L1388.9 629.1 L1382.5 623.7 L1380 617.4 L1378.9 611.1 L1376 603.9 L1374.2 590.3 L1373.5 572.2 L1373.2 527.1 L1372.8 463.9 L1372.8 463.9 L1372.4 527.1 L1372.1 572.2 L1371.4 590.3 L1369.6 603.9 L1366.7 611.1 L1365.6 617.4 L1363.1 623.7 L1356.7 629.1 L1352.4 632.8 L1354.9 636.4 L1364.9 640.9 L1371.7 644.5 L1372.4 653.5 L1372.4 761.9 L1371.7 784.5 L1371 793.5 L1372.1 798 Z" fill="#c9c9cc" stroke="#595959" stroke-width="1.5" stroke-linejoin="round"/>
<line x1="914.7" y1="678.2" x2="1398" y2="678.2" stroke="#979797" stroke-width="3" stroke-dasharray="14 9"/>
<text font-size="20.5" text-anchor="end" fill="#000" stroke="#000" stroke-width="0.4" transform="translate(946.3 449.5) rotate(-90)">GO:0007049</text>
<text font-size="20.5" text-anchor="end" fill="#000" stroke="#000" stroke-width="0.4" transform="translate(994.5 449.5) rotate(-90)">GO:0000910</text>
<text font-size="20.5" text-anchor="end" fill="#000" stroke="#000" stroke-width="0.4" transform="translate(1043.5 449.5) rotate(-90)">GO:0006260</text>
<text font-size="20.5" text-anchor="end" fill="#000" stroke="#000" stroke-width="0.4" transform="translate(1092.8 449.5) rotate(-90)">GO:0007163</text>
<text font-size="20.5" text-anchor="end" fill="#000" stroke="#000" stroke-width="0.4" transform="translate(1141.1 449.5) rotate(-90)">GO:0007034</text>
<text font-size="20.5" text-anchor="end" fill="#000" stroke="#000" stroke-width="0.4" transform="translate(1189.4 449.5) rotate(-90)">GO:0098609</text>
<text font-size="20.5" text-anchor="end" fill="#000" stroke="#000" stroke-width="0.4" transform="translate(1237.6 449.5) rotate(-90)">GO:0051301</text>
<text font-size="20.5" text-anchor="end" fill="#000" stroke="#000" stroke-width="0.4" transform="translate(1285.9 449.5) rotate(-90)">GO:0030154</text>
<text font-size="20.5" text-anchor="end" fill="#000" stroke="#000" stroke-width="0.4" transform="translate(1334.2 455.5) rotate(-90)">GO:0000226</text>
<text font-size="20.8" text-anchor="end" fill="#000" stroke="#000" stroke-width="0.4" transform="translate(948.6 812.5) rotate(-45)" dy="6">Cell cycle</text>
<text font-size="20.8" text-anchor="end" fill="#000" stroke="#000" stroke-width="0.4" transform="translate(996.8 812.5) rotate(-45)" dy="6">Cytokinesis</text>
<text font-size="20.8" text-anchor="end" fill="#000" stroke="#000" stroke-width="0.4" transform="translate(1045.8 812.5) rotate(-45)" dy="6">DNA replication</text>
<text font-size="20.8" text-anchor="end" fill="#000" stroke="#000" stroke-width="0.4" transform="translate(1095.1 812.5) rotate(-45)" dy="6">Cell polarity</text>
<text font-size="20.8" text-anchor="end" fill="#000" stroke="#000" stroke-width="0.4" transform="translate(1143.4 812.5) rotate(-45)" dy="6">Vacuolar transport</text>
<text font-size="20.8" text-anchor="end" fill="#000" stroke="#000" stroke-width="0.4" transform="translate(1191.7 812.5) rotate(-45)" dy="6">Cell adhesion</text>
<text font-size="20.8" text-anchor="end" fill="#000" stroke="#000" stroke-width="0.4" transform="translate(1239.9 812.5) rotate(-45)" dy="6">Cell division</text>
<text font-size="20.8" text-anchor="end" fill="#000" stroke="#000" stroke-width="0.4" transform="translate(1288.2 812.5) rotate(-45)" dy="6">Cell differentiation</text>
<text font-size="20.8" text-anchor="end" fill="#000" stroke="#000" stroke-width="0.4" transform="translate(1336.5 812.5) rotate(-45)" dy="6">MT organisation</text>
<text font-size="20.8" text-anchor="end" fill="#000" stroke="#000" stroke-width="0.4" transform="translate(1374.8 813) rotate(-45)" dy="6">Control: highly</text>
<text font-size="20.8" text-anchor="end" fill="#000" stroke="#000" stroke-width="0.4" transform="translate(1392.8 824) rotate(-45)" dy="6">correlated genes</text>
<text x="1150.7" y="955.5" font-size="20.6" text-anchor="middle" font-weight="bold" fill="#000" stroke="#000" stroke-width="0.4">Gene ontology category</text>
<text font-size="20.9" text-anchor="middle" fill="#000" stroke="#000" stroke-width="0.4" transform="translate(842.5 666) rotate(-90)">mRNA expression correlation between</text>
<text font-size="21" text-anchor="middle" fill="#000" stroke="#000" stroke-width="0.4" transform="translate(866 661) rotate(-90)"><tspan font-style="italic">S. arctica</tspan> and <tspan font-style="italic">C. perkinsii</tspan> (-log<tspan font-size="12" dy="3">10</tspan><tspan dy="-3"> adjusted p-value)</tspan></text>
<path d="M1398.6 436.8 L1419.6 436.8 L1399.6 676 Z" fill="url(#pdg)" stroke="#777" stroke-width="0.8"/>
<text font-size="20.3" text-anchor="middle" fill="#000" stroke="#000" stroke-width="0.4" transform="translate(1419.5 561) rotate(90)">Correlated</text></g>
<g id="pe"><text x="1441" y="443" font-size="50" font-weight="bold" fill="#1a1a1a" stroke="#1a1a1a" stroke-width="0.6">e</text>
<line x1="1531" y1="437.8" x2="2107.5" y2="437.8" stroke="#b0b0b3" stroke-width="1.2"/>
<line x1="1531" y1="526.4" x2="2107.5" y2="526.4" stroke="#b0b0b3" stroke-width="1.2"/>
<line x1="1531" y1="706.4" x2="2107.5" y2="706.4" stroke="#b0b0b3" stroke-width="1.2"/>
<line x1="1531" y1="795" x2="2107.5" y2="795" stroke="#b0b0b3" stroke-width="1.2"/>
<path d="M1656.6 706.4 V823.9 L1593 886.3" fill="none" stroke="#b0b0b3" stroke-width="1.2"/>
<path d="M1822.3 616.6 V823.9 L1758.7 886.3" fill="none" stroke="#b0b0b3" stroke-width="1.2"/>
<path d="M1966.8 526.4 V823.9 L1903.2 886.3" fill="none" stroke="#b0b0b3" stroke-width="1.2"/>
<path d="M2107.1 437.8 V825.8 L2042.7 886.3" fill="none" stroke="#b0b0b3" stroke-width="1.2"/>
<line x1="1531" y1="616.6" x2="2107.5" y2="616.6" stroke="#2a2a2a" stroke-width="1.8"/>
<text x="1522" y="444.8" font-size="20.5" text-anchor="end" fill="#000" stroke="#000" stroke-width="0.4">1</text>
<text x="1522" y="623.6" font-size="20.5" text-anchor="end" fill="#000" stroke="#000" stroke-width="0.4">0</text>
<text x="1522" y="802" font-size="20.5" text-anchor="end" fill="#000" stroke="#000" stroke-width="0.4">-1</text>
<circle cx="1538.7" cy="787.7" r="7.7" fill="#1c1c1c"/>
<circle cx="1567.2" cy="772.6" r="7.7" fill="#1c1c1c"/>
<circle cx="1591.5" cy="770.7" r="7.7" fill="#1c1c1c"/>
<circle cx="1616.5" cy="765.3" r="7.7" fill="#1c1c1c"/>
<circle cx="1641.2" cy="763.4" r="7.7" fill="#1c1c1c"/>
<circle cx="1675.5" cy="713.3" r="7.7" fill="#1c1c1c"/>
<circle cx="1699.8" cy="706" r="7.7" fill="#1c1c1c"/>
<circle cx="1724" cy="702.5" r="7.7" fill="#1c1c1c"/>
<circle cx="1748.7" cy="687.5" r="7.7" fill="#1c1c1c"/>
<circle cx="1773" cy="677.5" r="7.7" fill="#1c1c1c"/>
<circle cx="1797.2" cy="644.7" r="7.7" fill="#1c1c1c"/>
<circle cx="1838.9" cy="604.6" r="7.7" fill="#1c1c1c"/>
<circle cx="1863.1" cy="569.6" r="7.7" fill="#1c1c1c"/>
<circle cx="1892" cy="560.3" r="7.7" fill="#1c1c1c"/>
<circle cx="1920.6" cy="549.5" r="7.7" fill="#1c1c1c"/>
<circle cx="1945.6" cy="547.6" r="7.7" fill="#1c1c1c"/>
<circle cx="1975.3" cy="484.4" r="7.7" fill="#1c1c1c"/>
<circle cx="1999.6" cy="479.8" r="7.7" fill="#1c1c1c"/>
<circle cx="2024.2" cy="475.5" r="7.7" fill="#1c1c1c"/>
<circle cx="2048.9" cy="467.8" r="7.7" fill="#1c1c1c"/>
<circle cx="2068.9" cy="439.3" r="7.7" fill="#1c1c1c"/>
<text font-size="20.7" text-anchor="end" fill="#000" stroke="#000" stroke-width="0.4" transform="translate(1531.3 814.3) rotate(-45)" dy="6">Formin5</text>
<text font-size="20.7" text-anchor="end" fill="#000" stroke="#000" stroke-width="0.4" transform="translate(1560.9 814.3) rotate(-45)" dy="6">Arp2</text>
<text font-size="20.7" text-anchor="end" fill="#000" stroke="#000" stroke-width="0.4" transform="translate(1586 814.3) rotate(-45)" dy="6">Septin2</text>
<text font-size="20.7" text-anchor="end" fill="#000" stroke="#000" stroke-width="0.4" transform="translate(1616.8 814.3) rotate(-45)" dy="6">Rho4</text>
<text font-size="20.7" text-anchor="end" fill="#000" stroke="#000" stroke-width="0.4" transform="translate(1645.7 814.3) rotate(-45)" dy="6">Rho3</text>
<text font-size="20.7" text-anchor="end" fill="#000" stroke="#000" stroke-width="0.4" transform="translate(1680.4 814.3) rotate(-45)" dy="6">Vinculin</text>
<text font-size="20.7" text-anchor="end" fill="#000" stroke="#000" stroke-width="0.4" transform="translate(1711.2 814.3) rotate(-45)" dy="6">Myosin II</text>
<text font-size="20.7" text-anchor="end" fill="#000" stroke="#000" stroke-width="0.4" transform="translate(1734.4 814.3) rotate(-45)" dy="6">Rab11</text>
<text font-size="20.7" text-anchor="end" fill="#000" stroke="#000" stroke-width="0.4" transform="translate(1759.4 814.3) rotate(-45)" dy="6">Rho1</text>
<text font-size="20.7" text-anchor="end" fill="#000" stroke="#000" stroke-width="0.4" transform="translate(1788.3 814.3) rotate(-45)" dy="6">Kinesin7</text>
<text font-size="20.7" text-anchor="end" fill="#000" stroke="#000" stroke-width="0.4" transform="translate(1813.4 814.3) rotate(-45)" dy="6">α-actinin</text>
<text font-size="20.7" text-anchor="end" fill="#000" stroke="#000" stroke-width="0.4" transform="translate(1846.1 814.3) rotate(-45)" dy="6">Paxilin</text>
<text font-size="20.7" text-anchor="end" fill="#000" stroke="#000" stroke-width="0.4" transform="translate(1876.9 814.3) rotate(-45)" dy="6">Kinesin3</text>
<text font-size="20.7" text-anchor="end" fill="#000" stroke="#000" stroke-width="0.4" transform="translate(1898.1 814.3) rotate(-45)" dy="6">Septin1</text>
<text font-size="20.7" text-anchor="end" fill="#000" stroke="#000" stroke-width="0.4" transform="translate(1929 814.3) rotate(-45)" dy="6">α-Tubulin</text>
<text font-size="20.7" text-anchor="end" fill="#000" stroke="#000" stroke-width="0.4" transform="translate(1954 814.3) rotate(-45)" dy="6">Kinesin9</text>
<text font-size="20.7" text-anchor="end" fill="#000" stroke="#000" stroke-width="0.4" transform="translate(1992.6 814.3) rotate(-45)" dy="6">Formin4</text>
<text font-size="20.7" text-anchor="end" fill="#000" stroke="#000" stroke-width="0.4" transform="translate(2015.7 814.3) rotate(-45)" dy="6">Rho2</text>
<text font-size="20.7" text-anchor="end" fill="#000" stroke="#000" stroke-width="0.4" transform="translate(2038.8 814.3) rotate(-45)" dy="6">Formin2</text>
<text font-size="20.7" text-anchor="end" fill="#000" stroke="#000" stroke-width="0.4" transform="translate(2065.8 814.3) rotate(-45)" dy="6">Kinesin2</text>
<text font-size="20.7" text-anchor="end" fill="#000" stroke="#000" stroke-width="0.4" transform="translate(2090 814.3) rotate(-45)" dy="6">Septin9</text>
<text x="1819.2" y="911.4" font-size="20.6" text-anchor="middle" font-weight="bold" fill="#000" stroke="#000" stroke-width="0.4">Gene name</text>
<text font-size="20.7" text-anchor="middle" fill="#000" stroke="#000" stroke-width="0.4" transform="translate(1476 615.8) rotate(-90)">Correlation in gene expression</text>
<text font-size="20.7" text-anchor="middle" fill="#000" stroke="#000" stroke-width="0.4" transform="translate(1500.5 616.4) rotate(-90)">between <tspan font-style="italic">C. perkinsii</tspan> and <tspan font-style="italic">S. arctica</tspan></text>
<path d="M1529.4 911.8 L1813.4 937.6 L1529.4 937.6 Z" fill="url(#peg1)" stroke="#777" stroke-width="0.8"/>
<path d="M2107.1 911.8 L2107.1 937.6 L1823.1 937.6 Z" fill="url(#peg2)" stroke="#777" stroke-width="0.8"/>
<text x="1529.4" y="957.6" font-size="20.9" fill="#000" stroke="#000" stroke-width="0.4">Anti-correlated</text>
<text x="2106.7" y="957.6" font-size="20.9" text-anchor="end" fill="#000" stroke="#000" stroke-width="0.4">Correlated</text></g>
<g id="pf"><text x="819" y="1008" font-size="50" font-weight="bold" fill="#1a1a1a" stroke="#1a1a1a" stroke-width="0.6">f</text>
<text x="849" y="1026.5" font-size="23" font-weight="bold" fill="#000" stroke="#000" stroke-width="0.4">1)</text>
<text x="880.6" y="1026.5" font-size="20.8" fill="#000" stroke="#000" stroke-width="0.4">Original network for</text>
<text x="874.9" y="1051" font-size="20.8" fill="#000" stroke="#000" stroke-width="0.4">OG:0000557</text>
<text x="1165" y="1026.5" font-size="23" font-weight="bold" fill="#000" stroke="#000" stroke-width="0.4">2)</text>
<text x="1190" y="1026" font-size="20.8" fill="#000" stroke="#000" stroke-width="0.4">Clustered network</text>
<text x="1486" y="1026.8" font-size="23" font-weight="bold" fill="#000" stroke="#000" stroke-width="0.4">3)</text>
<text x="1515.2" y="1026" font-size="20.8" fill="#000" stroke="#000" stroke-width="0.4">Network connected</text>
<text x="1515.2" y="1051" font-size="20.8" fill="#000" stroke="#000" stroke-width="0.4">components</text>
<text x="1814" y="1026.8" font-size="23" font-weight="bold" fill="#000" stroke="#000" stroke-width="0.4">4)</text>
<text x="1843" y="1025.5" font-size="20.7" fill="#000" stroke="#000" stroke-width="0.4">Unique expression patterns</text>
<rect x="852.9" y="1057.5" width="283.5" height="279.5" fill="#d7d8da" stroke="#9b9b9b" stroke-width="1.6"/>
<line x1="978.7" y1="1108.8" x2="933.3" y2="1117.6" stroke="#8c8c8c" stroke-width="1.8"/><line x1="938.8" y1="1153.4" x2="925.9" y2="1188.1" stroke="#ffffff" stroke-width="2.4"/><line x1="978.7" y1="1108.8" x2="939.6" y2="1132.8" stroke="#c4c4c4" stroke-width="1.2"/><line x1="939.6" y1="1132.8" x2="958.4" y2="1143.8" stroke="#e9e9e9" stroke-width="1.8"/><line x1="965.8" y1="1154.9" x2="925.9" y2="1188.1" stroke="#8c8c8c" stroke-width="1.2"/><line x1="910.4" y1="1147.9" x2="925.9" y2="1188.1" stroke="#ffffff" stroke-width="1.8"/><line x1="939.6" y1="1132.8" x2="969.4" y2="1215.8" stroke="#e9e9e9" stroke-width="3"/><line x1="933.3" y1="1117.6" x2="965.8" y2="1154.9" stroke="#c4c4c4" stroke-width="1.2"/><line x1="978.7" y1="1108.8" x2="924.1" y2="1166.3" stroke="#a9a9a9" stroke-width="2.4"/><line x1="961.3" y1="1130.2" x2="958.4" y2="1143.8" stroke="#8c8c8c" stroke-width="1.2"/><line x1="978.7" y1="1108.8" x2="969.4" y2="1215.8" stroke="#ffffff" stroke-width="1.2"/><line x1="939.6" y1="1132.8" x2="910.4" y2="1147.9" stroke="#e9e9e9" stroke-width="1.8"/><line x1="933.3" y1="1117.6" x2="938.8" y2="1153.4" stroke="#ffffff" stroke-width="2.4"/><line x1="978.7" y1="1108.8" x2="958.4" y2="1143.8" stroke="#a9a9a9" stroke-width="3"/><line x1="933.3" y1="1117.6" x2="910.4" y2="1147.9" stroke="#f4f4f4" stroke-width="3"/><line x1="937" y1="1172.6" x2="970.2" y2="1170.8" stroke="#f4f4f4" stroke-width="3"/><line x1="910.4" y1="1147.9" x2="946.2" y2="1206.9" stroke="#f4f4f4" stroke-width="1.8"/><line x1="937" y1="1172.6" x2="925.9" y2="1188.1" stroke="#c4c4c4" stroke-width="1.8"/><line x1="910.4" y1="1147.9" x2="937" y2="1172.6" stroke="#e9e9e9" stroke-width="1.8"/><line x1="924.1" y1="1166.3" x2="969.4" y2="1215.8" stroke="#f4f4f4" stroke-width="1.8"/><line x1="961.3" y1="1130.2" x2="946.2" y2="1206.9" stroke="#8c8c8c" stroke-width="3"/><line x1="965.8" y1="1154.9" x2="951" y2="1177.4" stroke="#ffffff" stroke-width="3"/><line x1="965.8" y1="1154.9" x2="969.4" y2="1215.8" stroke="#ffffff" stroke-width="1.2"/><line x1="933.3" y1="1117.6" x2="946.2" y2="1206.9" stroke="#ffffff" stroke-width="1.2"/><line x1="978.7" y1="1108.8" x2="946.2" y2="1206.9" stroke="#c4c4c4" stroke-width="1.8"/><line x1="906.7" y1="1105.5" x2="937" y2="1172.6" stroke="#8c8c8c" stroke-width="2.4"/><line x1="906.7" y1="1105.5" x2="961.3" y2="1130.2" stroke="#8c8c8c" stroke-width="3"/><line x1="937" y1="1172.6" x2="951" y2="1177.4" stroke="#c4c4c4" stroke-width="1.8"/><line x1="965.8" y1="1154.9" x2="937" y2="1172.6" stroke="#ffffff" stroke-width="1.8"/><line x1="978.7" y1="1108.8" x2="965.8" y2="1154.9" stroke="#e9e9e9" stroke-width="3"/><line x1="939.6" y1="1132.8" x2="951" y2="1177.4" stroke="#ffffff" stroke-width="2.4"/><line x1="924.1" y1="1166.3" x2="970.2" y2="1170.8" stroke="#e9e9e9" stroke-width="1.8"/><line x1="961.3" y1="1130.2" x2="939.6" y2="1132.8" stroke="#ffffff" stroke-width="1.2"/><line x1="939.6" y1="1132.8" x2="925.9" y2="1188.1" stroke="#c4c4c4" stroke-width="3"/><line x1="961.3" y1="1130.2" x2="965.8" y2="1154.9" stroke="#ffffff" stroke-width="1.8"/><line x1="961.3" y1="1130.2" x2="910.4" y2="1147.9" stroke="#ffffff" stroke-width="1.2"/><line x1="958.4" y1="1143.8" x2="924.1" y2="1166.3" stroke="#f4f4f4" stroke-width="2.4"/><line x1="925.9" y1="1188.1" x2="969.4" y2="1215.8" stroke="#a9a9a9" stroke-width="1.8"/><line x1="933.3" y1="1117.6" x2="925.9" y2="1188.1" stroke="#ffffff" stroke-width="2.4"/><line x1="906.7" y1="1105.5" x2="946.2" y2="1206.9" stroke="#f4f4f4" stroke-width="3"/><line x1="910.4" y1="1147.9" x2="970.2" y2="1170.8" stroke="#a9a9a9" stroke-width="1.8"/><line x1="938.8" y1="1153.4" x2="946.2" y2="1206.9" stroke="#ffffff" stroke-width="1.2"/><line x1="961.3" y1="1130.2" x2="970.2" y2="1170.8" stroke="#ffffff" stroke-width="2.4"/><line x1="938.8" y1="1153.4" x2="970.2" y2="1170.8" stroke="#c4c4c4" stroke-width="1.2"/><line x1="961.3" y1="1130.2" x2="925.9" y2="1188.1" stroke="#ffffff" stroke-width="1.2"/><line x1="961.3" y1="1130.2" x2="924.1" y2="1166.3" stroke="#ffffff" stroke-width="1.2"/><line x1="925.9" y1="1188.1" x2="946.2" y2="1206.9" stroke="#c4c4c4" stroke-width="2.4"/><line x1="906.7" y1="1105.5" x2="938.8" y2="1153.4" stroke="#f4f4f4" stroke-width="1.2"/><line x1="933.3" y1="1117.6" x2="937" y2="1172.6" stroke="#ffffff" stroke-width="3"/><line x1="938.8" y1="1153.4" x2="965.8" y2="1154.9" stroke="#a9a9a9" stroke-width="1.2"/><line x1="938.8" y1="1153.4" x2="937" y2="1172.6" stroke="#f4f4f4" stroke-width="2.4"/><line x1="965.8" y1="1154.9" x2="946.2" y2="1206.9" stroke="#a9a9a9" stroke-width="1.2"/><line x1="933.3" y1="1117.6" x2="958.4" y2="1143.8" stroke="#ffffff" stroke-width="1.2"/><line x1="906.7" y1="1105.5" x2="969.4" y2="1215.8" stroke="#8c8c8c" stroke-width="1.2"/><line x1="961.3" y1="1130.2" x2="937" y2="1172.6" stroke="#ffffff" stroke-width="1.2"/><line x1="938.8" y1="1153.4" x2="924.1" y2="1166.3" stroke="#8c8c8c" stroke-width="3"/><line x1="978.7" y1="1108.8" x2="961.3" y2="1130.2" stroke="#ffffff" stroke-width="1.2"/><line x1="961.3" y1="1130.2" x2="938.8" y2="1153.4" stroke="#ffffff" stroke-width="1.2"/><line x1="965.8" y1="1154.9" x2="924.1" y2="1166.3" stroke="#ffffff" stroke-width="2.4"/><line x1="961.3" y1="1130.2" x2="969.4" y2="1215.8" stroke="#8c8c8c" stroke-width="2.4"/><line x1="910.4" y1="1147.9" x2="969.4" y2="1215.8" stroke="#8c8c8c" stroke-width="3"/><line x1="958.4" y1="1143.8" x2="946.2" y2="1206.9" stroke="#ffffff" stroke-width="3"/><line x1="1092.7" y1="1232.4" x2="1117" y2="1204.7" stroke="#ffffff" stroke-width="1.8"/><line x1="1080.1" y1="1223.1" x2="1102.2" y2="1186.3" stroke="#f4f4f4" stroke-width="3"/><line x1="1092.7" y1="1232.4" x2="1100" y2="1258.2" stroke="#f4f4f4" stroke-width="2.4"/><line x1="1058" y1="1232.7" x2="1102.2" y2="1186.3" stroke="#f4f4f4" stroke-width="1.8"/><line x1="1058" y1="1232.7" x2="1100" y2="1258.2" stroke="#f4f4f4" stroke-width="3"/><line x1="1058" y1="1232.7" x2="1117" y2="1204.7" stroke="#e9e9e9" stroke-width="1.2"/><line x1="1063.9" y1="1259.3" x2="1102.2" y2="1186.3" stroke="#8c8c8c" stroke-width="1.2"/><line x1="1092.7" y1="1232.4" x2="1063.9" y2="1259.3" stroke="#e9e9e9" stroke-width="1.8"/><line x1="1115.9" y1="1230.5" x2="1117" y2="1204.7" stroke="#ffffff" stroke-width="3"/><line x1="1102.2" y1="1186.3" x2="1117" y2="1204.7" stroke="#c4c4c4" stroke-width="2.4"/><line x1="1082.7" y1="1245.3" x2="1102.2" y2="1186.3" stroke="#f4f4f4" stroke-width="3"/><line x1="1115.9" y1="1230.5" x2="1082.7" y2="1245.3" stroke="#c4c4c4" stroke-width="3"/><line x1="1115.9" y1="1230.5" x2="1100" y2="1258.2" stroke="#8c8c8c" stroke-width="2.4"/><line x1="1092.7" y1="1232.4" x2="1082.7" y2="1245.3" stroke="#8c8c8c" stroke-width="3"/><line x1="1058" y1="1232.7" x2="1082.7" y2="1245.3" stroke="#e9e9e9" stroke-width="1.2"/><line x1="1080.1" y1="1223.1" x2="1063.9" y2="1259.3" stroke="#ffffff" stroke-width="1.2"/><line x1="1063.9" y1="1259.3" x2="1100" y2="1258.2" stroke="#e9e9e9" stroke-width="1.2"/><line x1="1058" y1="1232.7" x2="1063.9" y2="1259.3" stroke="#8c8c8c" stroke-width="2.4"/><line x1="1082.7" y1="1245.3" x2="1063.9" y2="1259.3" stroke="#a9a9a9" stroke-width="2.4"/><line x1="1058" y1="1232.7" x2="1092.7" y2="1232.4" stroke="#e9e9e9" stroke-width="1.2"/><line x1="1115.9" y1="1230.5" x2="1102.2" y2="1186.3" stroke="#8c8c8c" stroke-width="1.8"/><line x1="1082.7" y1="1245.3" x2="1117" y2="1204.7" stroke="#c4c4c4" stroke-width="3"/><line x1="1082.7" y1="1245.3" x2="1100" y2="1258.2" stroke="#f4f4f4" stroke-width="1.2"/><line x1="1080.1" y1="1223.1" x2="1082.7" y2="1245.3" stroke="#ffffff" stroke-width="2.4"/><line x1="1115.9" y1="1230.5" x2="1063.9" y2="1259.3" stroke="#f4f4f4" stroke-width="1.8"/><line x1="1080.1" y1="1223.1" x2="1117" y2="1204.7" stroke="#ffffff" stroke-width="1.2"/><line x1="1021.8" y1="1109.9" x2="961.3" y2="1130.2" stroke="#fff" stroke-width="3"/><line x1="1021.8" y1="1109.9" x2="938.8" y2="1153.4" stroke="#fff" stroke-width="3"/><line x1="1021.8" y1="1109.9" x2="978.7" y2="1108.8" stroke="#f2f2f2" stroke-width="2"/><line x1="970.2" y1="1170.8" x2="1018.1" y2="1232.4" stroke="#fff" stroke-width="3.4"/><line x1="969.4" y1="1215.8" x2="1018.1" y2="1232.4" stroke="#fff" stroke-width="3"/><line x1="1018.1" y1="1232.4" x2="989.4" y2="1259.3" stroke="#a8a8a8" stroke-width="3.2"/><line x1="1018.1" y1="1232.4" x2="1058" y2="1232.7" stroke="#fff" stroke-width="3"/><line x1="1018.1" y1="1232.4" x2="1063.9" y2="1259.3" stroke="#f0f0f0" stroke-width="2.6"/><line x1="989.4" y1="1259.3" x2="1063.9" y2="1259.3" stroke="#fff" stroke-width="3.6"/><line x1="989.4" y1="1259.3" x2="925.9" y2="1269.3" stroke="#fff" stroke-width="3"/><line x1="989.4" y1="1259.3" x2="953.6" y2="1301" stroke="#e6e6e6" stroke-width="2.6"/><line x1="1111.1" y1="1121.7" x2="1114.8" y2="1150.8" stroke="#fff" stroke-width="3"/><line x1="1114.8" y1="1150.8" x2="1102.2" y2="1186.3" stroke="#fff" stroke-width="3"/><line x1="1114.8" y1="1150.8" x2="1117" y2="1204.7" stroke="#fff" stroke-width="2.6"/><line x1="1102.2" y1="1186.3" x2="1080.1" y2="1223.1" stroke="#fff" stroke-width="3"/><line x1="1102.2" y1="1186.3" x2="1058" y2="1232.7" stroke="#e8e8e8" stroke-width="2.4"/><line x1="906.7" y1="1105.5" x2="925.9" y2="1188.1" stroke="#fff" stroke-width="3"/><line x1="906.7" y1="1105.5" x2="937" y2="1172.6" stroke="#fff" stroke-width="2.6"/><line x1="1018.1" y1="1232.4" x2="1080.1" y2="1223.1" stroke="#f4f4f4" stroke-width="2.4"/><line x1="1080.1" y1="1223.1" x2="1092.7" y2="1232.4" stroke="#5a5a5a" stroke-width="3"/><line x1="1080.1" y1="1223.1" x2="1082.7" y2="1245.3" stroke="#777" stroke-width="2.4"/><line x1="1080.1" y1="1223.1" x2="1063.9" y2="1259.3" stroke="#666" stroke-width="2.8"/><line x1="1080.1" y1="1223.1" x2="1100" y2="1258.2" stroke="#8a8a8a" stroke-width="3"/><line x1="1092.7" y1="1232.4" x2="1082.7" y2="1245.3" stroke="#5a5a5a" stroke-width="2.4"/><line x1="1092.7" y1="1232.4" x2="1063.9" y2="1259.3" stroke="#777" stroke-width="2.8"/><line x1="1092.7" y1="1232.4" x2="1100" y2="1258.2" stroke="#666" stroke-width="3"/><line x1="1082.7" y1="1245.3" x2="1063.9" y2="1259.3" stroke="#8a8a8a" stroke-width="2.4"/><line x1="1082.7" y1="1245.3" x2="1100" y2="1258.2" stroke="#5a5a5a" stroke-width="2.8"/><line x1="1063.9" y1="1259.3" x2="1100" y2="1258.2" stroke="#777" stroke-width="3"/><line x1="969.4" y1="1215.8" x2="989.4" y2="1259.3" stroke="#9a9a9a" stroke-width="2.6"/><line x1="946.2" y1="1206.9" x2="969.4" y2="1215.8" stroke="#8c8c8c" stroke-width="2.8"/><line x1="925.9" y1="1188.1" x2="946.2" y2="1206.9" stroke="#8c8c8c" stroke-width="2.8"/>
<circle cx="906.7" cy="1105.5" r="3" fill="#0a0a0a"/>
<circle cx="978.7" cy="1108.8" r="3" fill="#0a0a0a"/>
<circle cx="933.3" cy="1117.6" r="3" fill="#0a0a0a"/>
<circle cx="961.3" cy="1130.2" r="3" fill="#0a0a0a"/>
<circle cx="939.6" cy="1132.8" r="3" fill="#0a0a0a"/>
<circle cx="910.4" cy="1147.9" r="3" fill="#0a0a0a"/>
<circle cx="958.4" cy="1143.8" r="3" fill="#0a0a0a"/>
<circle cx="938.8" cy="1153.4" r="3" fill="#0a0a0a"/>
<circle cx="965.8" cy="1154.9" r="3" fill="#0a0a0a"/>
<circle cx="924.1" cy="1166.3" r="3" fill="#0a0a0a"/>
<circle cx="937" cy="1172.6" r="3" fill="#0a0a0a"/>
<circle cx="970.2" cy="1170.8" r="3" fill="#0a0a0a"/>
<circle cx="951" cy="1177.4" r="3" fill="#0a0a0a"/>
<circle cx="925.9" cy="1188.1" r="3" fill="#0a0a0a"/>
<circle cx="946.2" cy="1206.9" r="3" fill="#0a0a0a"/>
<circle cx="969.4" cy="1215.8" r="3" fill="#0a0a0a"/>
<circle cx="1080.1" cy="1223.1" r="3" fill="#0a0a0a"/>
<circle cx="1058" cy="1232.7" r="3" fill="#0a0a0a"/>
<circle cx="1092.7" cy="1232.4" r="3" fill="#0a0a0a"/>
<circle cx="1115.9" cy="1230.5" r="3" fill="#0a0a0a"/>
<circle cx="1082.7" cy="1245.3" r="3" fill="#0a0a0a"/>
<circle cx="1063.9" cy="1259.3" r="3" fill="#0a0a0a"/>
<circle cx="1100" cy="1258.2" r="3" fill="#0a0a0a"/>
<circle cx="1102.2" cy="1186.3" r="3" fill="#0a0a0a"/>
<circle cx="1117" cy="1204.7" r="3" fill="#0a0a0a"/>
<circle cx="1051.7" cy="1063.8" r="3" fill="#0a0a0a"/>
<circle cx="1021.8" cy="1109.9" r="3" fill="#0a0a0a"/>
<circle cx="1077.9" cy="1108" r="3" fill="#0a0a0a"/>
<circle cx="1111.1" cy="1121.7" r="3" fill="#0a0a0a"/>
<circle cx="861.4" cy="1136.1" r="3" fill="#0a0a0a"/>
<circle cx="1114.8" cy="1150.8" r="3" fill="#0a0a0a"/>
<circle cx="1018.1" cy="1232.4" r="3" fill="#0a0a0a"/>
<circle cx="989.4" cy="1259.3" r="3" fill="#0a0a0a"/>
<circle cx="873.5" cy="1264.8" r="3" fill="#0a0a0a"/>
<circle cx="925.9" cy="1269.3" r="3" fill="#0a0a0a"/>
<circle cx="953.6" cy="1301" r="3" fill="#0a0a0a"/>
<circle cx="981.2" cy="1322" r="3" fill="#0a0a0a"/>
<circle cx="1015.6" cy="1319.4" r="3" fill="#0a0a0a"/>
<g font-family="'Liberation Serif', serif"><text x="1051.7" y="1065.3" font-size="4.6" text-anchor="middle" font-weight="bold" fill="#111">F5gp000203</text><text x="906.7" y="1107" font-size="4.6" text-anchor="middle" font-weight="bold" fill="#111">F21D12.3</text><text x="978.7" y="1110.3" font-size="4.6" text-anchor="middle" font-weight="bold" fill="#111">Mlf52_evm9s2473</text><text x="1021.8" y="1111.4" font-size="4.6" text-anchor="middle" font-weight="bold" fill="#111">Y53F4A.4</text><text x="1077.9" y="1109.5" font-size="4.6" text-anchor="middle" font-weight="bold" fill="#111">Sarc4_g12767T</text><text x="1111.1" y="1123.2" font-size="4.6" text-anchor="middle" font-weight="bold" fill="#111">Sarc4_g3142T</text><text x="861.4" y="1137.6" font-size="4.6" text-anchor="middle" font-weight="bold" fill="#111">B0272.5</text><text x="910.4" y="1149.4" font-size="4.6" text-anchor="middle" font-weight="bold" fill="#111">Y105E8AR.4</text><text x="1114.8" y="1152.3" font-size="4.6" text-anchor="middle" font-weight="bold" fill="#111">Mlf52_evm12s2473</text><text x="1102.2" y="1187.8" font-size="4.6" text-anchor="middle" font-weight="bold" fill="#111">Mlf52_evm1s1470</text><text x="1117" y="1206.2" font-size="4.6" text-anchor="middle" font-weight="bold" fill="#111">Mlf52_evm10s223</text><text x="1018.1" y="1233.9" font-size="4.6" text-anchor="middle" font-weight="bold" fill="#111">Mlf52_evm24s604</text><text x="1115.9" y="1232" font-size="4.6" text-anchor="middle" font-weight="bold" fill="#111">Mlf52_evm3s1111</text><text x="989.4" y="1260.8" font-size="4.6" text-anchor="middle" font-weight="bold" fill="#111">Mlf52_evm10s223</text><text x="873.5" y="1266.3" font-size="4.6" text-anchor="middle" font-weight="bold" fill="#111">Mlf52_evm3s1430</text><text x="925.9" y="1270.8" font-size="4.6" text-anchor="middle" font-weight="bold" fill="#111">WBL2C3M76.3</text><text x="953.6" y="1302.5" font-size="4.6" text-anchor="middle" font-weight="bold" fill="#111">Sarc4_g0027T</text><text x="981.2" y="1323.5" font-size="4.6" text-anchor="middle" font-weight="bold" fill="#111">WBL2C3D2295.5</text><text x="1015.6" y="1320.9" font-size="4.6" text-anchor="middle" font-weight="bold" fill="#111">Y105E8A.23</text><text x="933.3" y="1119.1" font-size="4.6" text-anchor="middle" font-weight="bold" fill="#111">Mlf52_evm7s155</text><text x="961.3" y="1131.7" font-size="4.6" text-anchor="middle" font-weight="bold" fill="#111">Mlf52_evm22s1569</text><text x="958.4" y="1145.3" font-size="4.6" text-anchor="middle" font-weight="bold" fill="#111">Mlf52_evm7s236</text><text x="965.8" y="1156.4" font-size="4.6" text-anchor="middle" font-weight="bold" fill="#111">Mlf52_evm4s2548</text><text x="970.2" y="1172.3" font-size="4.6" text-anchor="middle" font-weight="bold" fill="#111">Mlf52_evm24s412</text><text x="925.9" y="1189.6" font-size="4.6" text-anchor="middle" font-weight="bold" fill="#111">Mlf52_evm1s999</text><text x="946.2" y="1208.4" font-size="4.6" text-anchor="middle" font-weight="bold" fill="#111">Mlf52_evm1s427</text><text x="969.4" y="1217.3" font-size="4.6" text-anchor="middle" font-weight="bold" fill="#111">Mlf52_evm37s1569</text><text x="1058" y="1234.2" font-size="4.6" text-anchor="middle" font-weight="bold" fill="#111">Mlf52_evm4s2767</text><text x="1063.9" y="1260.8" font-size="4.6" text-anchor="middle" font-weight="bold" fill="#111">Mlf52_evm33s553</text><text x="1100" y="1259.7" font-size="4.6" text-anchor="middle" font-weight="bold" fill="#111">Mlf52_evm17s155</text><text x="1082.7" y="1246.8" font-size="4.6" text-anchor="middle" font-weight="bold" fill="#111">Mlf52_evm3s227</text></g>
<path d="M1141 1185 L1163 1199 L1141 1213" fill="none" stroke="#111" stroke-width="3.6" stroke-linejoin="miter"/>
<rect x="1169.4" y="1058.2" width="284" height="279.7" fill="#fff" stroke="#9b9b9b" stroke-width="1.6"/>
<path d="M1281.9 1123.5C1286.8 1124.3 1289 1122.3 1293 1132C1297 1141.7 1302.5 1167.4 1305.9 1181.8C1309.3 1196.3 1313.3 1210.4 1313.3 1218.7C1313.3 1227 1315.7 1226.7 1305.9 1231.6C1296 1236.5 1270.8 1242.9 1254.2 1248.2C1237.6 1253.6 1216.4 1262.2 1206.3 1263.7C1196.1 1265.3 1196.9 1263.7 1193.4 1257.5C1189.9 1251.2 1185.7 1234.7 1185.3 1226.1C1184.8 1217.5 1186 1216.3 1190.8 1205.8C1195.5 1195.4 1205.5 1174.1 1213.7 1163.4C1221.8 1152.6 1231.2 1147.3 1239.5 1141.2C1247.8 1135.2 1256.4 1130.2 1263.5 1127.2C1270.5 1124.3 1277 1122.7 1281.9 1123.5Z" fill="#efbea6" stroke="#e5452b" stroke-width="1.4"/>
<path d="M1328 1113.6C1331.3 1105 1340 1103.3 1346.5 1100.7C1352.9 1098 1361.2 1096.5 1366.7 1097.7C1372.3 1098.9 1373.2 1100.2 1379.7 1108C1386.1 1115.9 1397.2 1133.9 1405.5 1144.9C1413.8 1156 1424.7 1165.5 1429.5 1174.5C1434.2 1183.4 1435.1 1189.8 1433.9 1198.4C1432.7 1207 1428 1219.8 1422.1 1226.1C1416.1 1232.4 1406.4 1234.9 1398.1 1236.1C1389.8 1237.2 1381.5 1235.3 1372.3 1232.7C1363.1 1230.2 1349.4 1226.9 1342.8 1220.6C1336.1 1214.2 1335.1 1206.1 1332.4 1194.7C1329.8 1183.4 1327.6 1165.8 1326.9 1152.3C1326.2 1138.8 1324.8 1122.2 1328 1113.6Z" fill="#f5fbc6" stroke="#e3ec5a" stroke-width="1.4"/>
<line x1="1297.8" y1="1281.4" x2="1341.7" y2="1250.1" stroke="#86d46f" stroke-width="14.9" stroke-linecap="round"/><line x1="1297.8" y1="1281.4" x2="1341.7" y2="1250.1" stroke="#cfecc5" stroke-width="12.5" stroke-linecap="round"/>
<path d="M1308.8 1313.2 L1340.9 1306.1 L1370.4 1285.1" fill="none" stroke="#5666c9" stroke-width="22.3" stroke-linecap="round" stroke-linejoin="round"/>
<path d="M1308.8 1313.2 L1340.9 1306.1 L1370.4 1285.1" fill="none" stroke="#b6bbdf" stroke-width="19.9" stroke-linecap="round" stroke-linejoin="round"/>
<circle cx="1267.9" cy="1087.8" r="8.3" fill="#e3b6e7" stroke="#b262c2" stroke-width="1.2"/>
<circle cx="1316.9" cy="1081.5" r="8.3" fill="#c2edef" stroke="#62c9d1" stroke-width="1.2"/>
<line x1="1277.5" y1="1191.1" x2="1224.7" y2="1212.4" stroke="#0d0d0d" stroke-width="1.1"/><line x1="1281.9" y1="1229" x2="1265.3" y2="1204" stroke="#0d0d0d" stroke-width="1.1"/><line x1="1192.6" y1="1212.1" x2="1265.3" y2="1204" stroke="#0d0d0d" stroke-width="1.1"/><line x1="1224.7" y1="1212.4" x2="1203.7" y2="1256.3" stroke="#0d0d0d" stroke-width="1.1"/><line x1="1218.5" y1="1170.8" x2="1203.7" y2="1256.3" stroke="#0d0d0d" stroke-width="1.1"/><line x1="1224.7" y1="1212.4" x2="1304" y2="1223.5" stroke="#0d0d0d" stroke-width="1.1"/><line x1="1281.9" y1="1133.1" x2="1277.5" y2="1191.1" stroke="#0d0d0d" stroke-width="1.1"/><line x1="1277.5" y1="1191.1" x2="1235.8" y2="1196.6" stroke="#0d0d0d" stroke-width="1.1"/><line x1="1248.7" y1="1191.1" x2="1235.8" y2="1196.6" stroke="#0d0d0d" stroke-width="1.1"/><line x1="1218.5" y1="1170.8" x2="1256.1" y2="1224.3" stroke="#0d0d0d" stroke-width="1.1"/><line x1="1257.9" y1="1178.1" x2="1224.7" y2="1212.4" stroke="#0d0d0d" stroke-width="1.1"/><line x1="1242.1" y1="1148.6" x2="1224.7" y2="1212.4" stroke="#0d0d0d" stroke-width="1.1"/><line x1="1256.1" y1="1224.3" x2="1235.8" y2="1196.6" stroke="#0d0d0d" stroke-width="1.1"/><line x1="1257.9" y1="1178.1" x2="1265.3" y2="1204" stroke="#0d0d0d" stroke-width="1.1"/><line x1="1224.7" y1="1212.4" x2="1281.9" y2="1229" stroke="#0d0d0d" stroke-width="1.1"/><line x1="1277.5" y1="1191.1" x2="1256.1" y2="1224.3" stroke="#0d0d0d" stroke-width="1.1"/><line x1="1218.5" y1="1170.8" x2="1248.7" y2="1191.1" stroke="#0d0d0d" stroke-width="1.1"/><line x1="1242.1" y1="1148.6" x2="1235.8" y2="1196.6" stroke="#0d0d0d" stroke-width="1.1"/><line x1="1248.7" y1="1191.1" x2="1192.6" y2="1212.1" stroke="#0d0d0d" stroke-width="1.1"/><line x1="1277.5" y1="1191.1" x2="1203.7" y2="1256.3" stroke="#0d0d0d" stroke-width="1.1"/><line x1="1277.5" y1="1191.1" x2="1304" y2="1223.5" stroke="#0d0d0d" stroke-width="1.1"/><line x1="1257.9" y1="1178.1" x2="1248.7" y2="1191.1" stroke="#0d0d0d" stroke-width="1.1"/><line x1="1248.7" y1="1191.1" x2="1224.7" y2="1212.4" stroke="#0d0d0d" stroke-width="1.1"/><line x1="1257.9" y1="1178.1" x2="1192.6" y2="1212.1" stroke="#0d0d0d" stroke-width="1.1"/><line x1="1242.1" y1="1148.6" x2="1192.6" y2="1212.1" stroke="#0d0d0d" stroke-width="1.1"/><line x1="1281.9" y1="1133.1" x2="1203.7" y2="1256.3" stroke="#0d0d0d" stroke-width="1.1"/><line x1="1203.7" y1="1256.3" x2="1265.3" y2="1204" stroke="#0d0d0d" stroke-width="1.1"/><line x1="1218.5" y1="1170.8" x2="1281.9" y2="1229" stroke="#0d0d0d" stroke-width="1.1"/><line x1="1281.9" y1="1133.1" x2="1257.9" y2="1178.1" stroke="#0d0d0d" stroke-width="1.1"/><line x1="1248.7" y1="1191.1" x2="1281.9" y2="1229" stroke="#0d0d0d" stroke-width="1.1"/><line x1="1281.9" y1="1133.1" x2="1235.8" y2="1196.6" stroke="#0d0d0d" stroke-width="1.1"/><line x1="1224.7" y1="1212.4" x2="1265.3" y2="1204" stroke="#0d0d0d" stroke-width="1.1"/><line x1="1242.1" y1="1148.6" x2="1248.7" y2="1191.1" stroke="#0d0d0d" stroke-width="1.1"/><line x1="1257.9" y1="1178.1" x2="1203.7" y2="1256.3" stroke="#0d0d0d" stroke-width="1.1"/><line x1="1242.1" y1="1148.6" x2="1256.1" y2="1224.3" stroke="#0d0d0d" stroke-width="1.1"/><line x1="1248.7" y1="1191.1" x2="1265.3" y2="1204" stroke="#0d0d0d" stroke-width="1.1"/><line x1="1192.6" y1="1212.1" x2="1203.7" y2="1256.3" stroke="#0d0d0d" stroke-width="1.1"/><line x1="1242.1" y1="1148.6" x2="1277.5" y2="1191.1" stroke="#0d0d0d" stroke-width="1.1"/><line x1="1257.9" y1="1178.1" x2="1304" y2="1223.5" stroke="#0d0d0d" stroke-width="1.1"/><line x1="1281.9" y1="1133.1" x2="1256.1" y2="1224.3" stroke="#0d0d0d" stroke-width="1.1"/><line x1="1281.9" y1="1133.1" x2="1224.7" y2="1212.4" stroke="#0d0d0d" stroke-width="1.1"/><line x1="1304" y1="1223.5" x2="1265.3" y2="1204" stroke="#0d0d0d" stroke-width="1.1"/><line x1="1281.9" y1="1229" x2="1203.7" y2="1256.3" stroke="#0d0d0d" stroke-width="1.1"/><line x1="1192.6" y1="1212.1" x2="1281.9" y2="1229" stroke="#0d0d0d" stroke-width="1.1"/><line x1="1277.5" y1="1191.1" x2="1265.3" y2="1204" stroke="#0d0d0d" stroke-width="1.1"/><line x1="1242.1" y1="1148.6" x2="1304" y2="1223.5" stroke="#0d0d0d" stroke-width="1.1"/><line x1="1256.1" y1="1224.3" x2="1304" y2="1223.5" stroke="#0d0d0d" stroke-width="1.1"/><line x1="1257.9" y1="1178.1" x2="1281.9" y2="1229" stroke="#0d0d0d" stroke-width="1.1"/><line x1="1257.9" y1="1178.1" x2="1277.5" y2="1191.1" stroke="#0d0d0d" stroke-width="1.1"/><line x1="1218.5" y1="1170.8" x2="1265.3" y2="1204" stroke="#0d0d0d" stroke-width="1.1"/><line x1="1224.7" y1="1212.4" x2="1235.8" y2="1196.6" stroke="#0d0d0d" stroke-width="1.1"/><line x1="1281.9" y1="1133.1" x2="1242.1" y2="1148.6" stroke="#0d0d0d" stroke-width="1.1"/><line x1="1257.9" y1="1178.1" x2="1256.1" y2="1224.3" stroke="#0d0d0d" stroke-width="1.1"/><line x1="1281.9" y1="1133.1" x2="1265.3" y2="1204" stroke="#0d0d0d" stroke-width="1.1"/><line x1="1218.5" y1="1170.8" x2="1224.7" y2="1212.4" stroke="#0d0d0d" stroke-width="1.1"/><line x1="1192.6" y1="1212.1" x2="1224.7" y2="1212.4" stroke="#0d0d0d" stroke-width="1.1"/><line x1="1281.9" y1="1133.1" x2="1281.9" y2="1229" stroke="#0d0d0d" stroke-width="1.1"/><line x1="1242.1" y1="1148.6" x2="1265.3" y2="1204" stroke="#0d0d0d" stroke-width="1.1"/><line x1="1277.5" y1="1191.1" x2="1248.7" y2="1191.1" stroke="#0d0d0d" stroke-width="1.1"/><line x1="1203.7" y1="1256.3" x2="1235.8" y2="1196.6" stroke="#0d0d0d" stroke-width="1.1"/><line x1="1248.7" y1="1191.1" x2="1304" y2="1223.5" stroke="#0d0d0d" stroke-width="1.1"/><line x1="1218.5" y1="1170.8" x2="1277.5" y2="1191.1" stroke="#0d0d0d" stroke-width="1.1"/><line x1="1281.9" y1="1133.1" x2="1192.6" y2="1212.1" stroke="#0d0d0d" stroke-width="1.1"/><line x1="1224.7" y1="1212.4" x2="1256.1" y2="1224.3" stroke="#0d0d0d" stroke-width="1.1"/><line x1="1277.5" y1="1191.1" x2="1281.9" y2="1229" stroke="#0d0d0d" stroke-width="1.1"/><line x1="1242.1" y1="1148.6" x2="1281.9" y2="1229" stroke="#0d0d0d" stroke-width="1.1"/><line x1="1192.6" y1="1212.1" x2="1256.1" y2="1224.3" stroke="#0d0d0d" stroke-width="1.1"/><line x1="1192.6" y1="1212.1" x2="1304" y2="1223.5" stroke="#0d0d0d" stroke-width="1.1"/><line x1="1257.9" y1="1178.1" x2="1235.8" y2="1196.6" stroke="#0d0d0d" stroke-width="1.1"/><line x1="1218.5" y1="1170.8" x2="1235.8" y2="1196.6" stroke="#0d0d0d" stroke-width="1.1"/><line x1="1192.6" y1="1212.1" x2="1203.7" y2="1256.3" stroke="#0d0d0d" stroke-width="1.1"/><line x1="1224.7" y1="1212.4" x2="1203.7" y2="1256.3" stroke="#0d0d0d" stroke-width="1.1"/><line x1="1192.6" y1="1212.1" x2="1218.5" y2="1170.8" stroke="#0d0d0d" stroke-width="1.1"/><line x1="1281.9" y1="1133.1" x2="1242.1" y2="1148.6" stroke="#0d0d0d" stroke-width="1.1"/><line x1="1281.9" y1="1133.1" x2="1304" y2="1223.5" stroke="#0d0d0d" stroke-width="1.1"/><line x1="1242.1" y1="1148.6" x2="1218.5" y2="1170.8" stroke="#0d0d0d" stroke-width="1.1"/><line x1="1391.8" y1="1157.8" x2="1422.8" y2="1184.8" stroke="#0d0d0d" stroke-width="1.1"/><line x1="1391.8" y1="1157.8" x2="1391.8" y2="1191.1" stroke="#0d0d0d" stroke-width="1.1"/><line x1="1391.8" y1="1157.8" x2="1421.3" y2="1216.1" stroke="#0d0d0d" stroke-width="1.1"/><line x1="1379.7" y1="1208.4" x2="1412.9" y2="1207.7" stroke="#0d0d0d" stroke-width="1.1"/><line x1="1379.7" y1="1208.4" x2="1347.6" y2="1219.5" stroke="#0d0d0d" stroke-width="1.1"/><line x1="1391.8" y1="1157.8" x2="1397" y2="1227.2" stroke="#0d0d0d" stroke-width="1.1"/><line x1="1391.8" y1="1191.1" x2="1421.3" y2="1216.1" stroke="#0d0d0d" stroke-width="1.1"/><line x1="1411" y1="1166.3" x2="1412.9" y2="1207.7" stroke="#0d0d0d" stroke-width="1.1"/><line x1="1421.3" y1="1216.1" x2="1397" y2="1227.2" stroke="#0d0d0d" stroke-width="1.1"/><line x1="1411" y1="1166.3" x2="1397" y2="1227.2" stroke="#0d0d0d" stroke-width="1.1"/><line x1="1379.7" y1="1208.4" x2="1397" y2="1227.2" stroke="#0d0d0d" stroke-width="1.1"/><line x1="1391.8" y1="1191.1" x2="1412.9" y2="1207.7" stroke="#0d0d0d" stroke-width="1.1"/><line x1="1391.8" y1="1191.1" x2="1347.6" y2="1219.5" stroke="#0d0d0d" stroke-width="1.1"/><line x1="1391.8" y1="1157.8" x2="1411" y2="1166.3" stroke="#0d0d0d" stroke-width="1.1"/><line x1="1422.8" y1="1184.8" x2="1397" y2="1227.2" stroke="#0d0d0d" stroke-width="1.1"/><line x1="1391.8" y1="1157.8" x2="1379.7" y2="1208.4" stroke="#0d0d0d" stroke-width="1.1"/><line x1="1411" y1="1166.3" x2="1347.6" y2="1219.5" stroke="#0d0d0d" stroke-width="1.1"/><line x1="1391.8" y1="1191.1" x2="1397" y2="1227.2" stroke="#0d0d0d" stroke-width="1.1"/><line x1="1422.8" y1="1184.8" x2="1391.8" y2="1191.1" stroke="#0d0d0d" stroke-width="1.1"/><line x1="1422.8" y1="1184.8" x2="1421.3" y2="1216.1" stroke="#0d0d0d" stroke-width="1.1"/><line x1="1411" y1="1166.3" x2="1422.8" y2="1184.8" stroke="#0d0d0d" stroke-width="1.1"/><line x1="1412.9" y1="1207.7" x2="1347.6" y2="1219.5" stroke="#0d0d0d" stroke-width="1.1"/><line x1="1422.8" y1="1184.8" x2="1412.9" y2="1207.7" stroke="#0d0d0d" stroke-width="1.1"/><line x1="1391.8" y1="1157.8" x2="1412.9" y2="1207.7" stroke="#0d0d0d" stroke-width="1.1"/><line x1="1412.9" y1="1207.7" x2="1421.3" y2="1216.1" stroke="#0d0d0d" stroke-width="1.1"/><line x1="1391.8" y1="1157.8" x2="1347.6" y2="1219.5" stroke="#0d0d0d" stroke-width="1.1"/><line x1="1422.8" y1="1184.8" x2="1347.6" y2="1219.5" stroke="#0d0d0d" stroke-width="1.1"/><line x1="1379.7" y1="1208.4" x2="1421.3" y2="1216.1" stroke="#0d0d0d" stroke-width="1.1"/><line x1="1411" y1="1166.3" x2="1421.3" y2="1216.1" stroke="#0d0d0d" stroke-width="1.1"/><line x1="1391.8" y1="1191.1" x2="1379.7" y2="1208.4" stroke="#0d0d0d" stroke-width="1.1"/><line x1="1366.7" y1="1107.3" x2="1331.7" y2="1115.4" stroke="#0d0d0d" stroke-width="1.1"/><line x1="1366.7" y1="1107.3" x2="1383.3" y2="1127.2" stroke="#0d0d0d" stroke-width="1.1"/><line x1="1331.7" y1="1115.4" x2="1383.3" y2="1127.2" stroke="#0d0d0d" stroke-width="1.1"/><line x1="1383.3" y1="1127.2" x2="1391.8" y2="1157.8" stroke="#0d0d0d" stroke-width="1.1"/><line x1="1366.7" y1="1107.3" x2="1391.8" y2="1157.8" stroke="#0d0d0d" stroke-width="1.1"/><line x1="1383.3" y1="1127.2" x2="1411" y2="1166.3" stroke="#0d0d0d" stroke-width="1.1"/><line x1="1331.7" y1="1115.4" x2="1391.8" y2="1157.8" stroke="#0d0d0d" stroke-width="1.1"/><line x1="1347.6" y1="1219.5" x2="1379.7" y2="1208.4" stroke="#0d0d0d" stroke-width="1.1"/><line x1="1347.6" y1="1219.5" x2="1391.8" y2="1191.1" stroke="#0d0d0d" stroke-width="1.1"/><line x1="1347.6" y1="1219.5" x2="1397" y2="1227.2" stroke="#0d0d0d" stroke-width="1.1"/><line x1="1297.8" y1="1281.4" x2="1341.7" y2="1250.1" stroke="#111" stroke-width="1.3"/><line x1="1308.8" y1="1313.2" x2="1340.9" y2="1306.1" stroke="#111" stroke-width="1.3"/><line x1="1340.9" y1="1306.1" x2="1370.4" y2="1285.1" stroke="#111" stroke-width="1.3"/><line x1="1281.9" y1="1133.1" x2="1331.7" y2="1115.4" stroke="#e04a2a" stroke-width="1.3"/><line x1="1304" y1="1223.5" x2="1347.6" y2="1219.5" stroke="#e04a2a" stroke-width="1.3"/><line x1="1277.5" y1="1191.1" x2="1347.6" y2="1219.5" stroke="#e04a2a" stroke-width="1.3"/><line x1="1304" y1="1223.5" x2="1341.7" y2="1250.1" stroke="#e04a2a" stroke-width="1.3"/><line x1="1347.6" y1="1219.5" x2="1341.7" y2="1250.1" stroke="#e04a2a" stroke-width="1.3"/><line x1="1397" y1="1227.2" x2="1341.7" y2="1250.1" stroke="#e04a2a" stroke-width="1.3"/><line x1="1281.9" y1="1229" x2="1297.8" y2="1281.4" stroke="#e04a2a" stroke-width="1.3"/><line x1="1341.7" y1="1250.1" x2="1370.4" y2="1285.1" stroke="#e04a2a" stroke-width="1.3"/><line x1="1257.9" y1="1178.1" x2="1304" y2="1223.5" stroke="#e04a2a" stroke-width="1.3"/>
<rect x="1279.6" y="1130.8" width="4.6" height="4.6" fill="#0a0a0a"/>
<rect x="1239.8" y="1146.3" width="4.6" height="4.6" fill="#0a0a0a"/>
<rect x="1216.2" y="1168.5" width="4.6" height="4.6" fill="#0a0a0a"/>
<rect x="1255.6" y="1175.8" width="4.6" height="4.6" fill="#0a0a0a"/>
<rect x="1275.2" y="1188.8" width="4.6" height="4.6" fill="#0a0a0a"/>
<rect x="1246.4" y="1188.8" width="4.6" height="4.6" fill="#0a0a0a"/>
<rect x="1190.3" y="1209.8" width="4.6" height="4.6" fill="#0a0a0a"/>
<rect x="1222.4" y="1210.1" width="4.6" height="4.6" fill="#0a0a0a"/>
<rect x="1253.8" y="1222" width="4.6" height="4.6" fill="#0a0a0a"/>
<rect x="1279.6" y="1226.7" width="4.6" height="4.6" fill="#0a0a0a"/>
<rect x="1301.7" y="1221.2" width="4.6" height="4.6" fill="#0a0a0a"/>
<rect x="1201.4" y="1254" width="4.6" height="4.6" fill="#0a0a0a"/>
<rect x="1233.5" y="1194.3" width="4.6" height="4.6" fill="#0a0a0a"/>
<rect x="1263" y="1201.7" width="4.6" height="4.6" fill="#0a0a0a"/>
<rect x="1364.4" y="1105" width="4.6" height="4.6" fill="#0a0a0a"/>
<rect x="1329.4" y="1113.1" width="4.6" height="4.6" fill="#0a0a0a"/>
<rect x="1381" y="1124.9" width="4.6" height="4.6" fill="#0a0a0a"/>
<rect x="1389.5" y="1155.5" width="4.6" height="4.6" fill="#0a0a0a"/>
<rect x="1408.7" y="1164" width="4.6" height="4.6" fill="#0a0a0a"/>
<rect x="1420.5" y="1182.5" width="4.6" height="4.6" fill="#0a0a0a"/>
<rect x="1389.5" y="1188.8" width="4.6" height="4.6" fill="#0a0a0a"/>
<rect x="1377.4" y="1206.1" width="4.6" height="4.6" fill="#0a0a0a"/>
<rect x="1410.6" y="1205.4" width="4.6" height="4.6" fill="#0a0a0a"/>
<rect x="1419" y="1213.8" width="4.6" height="4.6" fill="#0a0a0a"/>
<rect x="1345.3" y="1217.2" width="4.6" height="4.6" fill="#0a0a0a"/>
<rect x="1394.7" y="1224.9" width="4.6" height="4.6" fill="#0a0a0a"/>
<rect x="1295.5" y="1279.1" width="4.6" height="4.6" fill="#0a0a0a"/>
<rect x="1339.4" y="1247.8" width="4.6" height="4.6" fill="#0a0a0a"/>
<rect x="1306.5" y="1310.9" width="4.6" height="4.6" fill="#0a0a0a"/>
<rect x="1338.6" y="1303.8" width="4.6" height="4.6" fill="#0a0a0a"/>
<rect x="1368.1" y="1282.8" width="4.6" height="4.6" fill="#0a0a0a"/>
<rect x="1265.6" y="1085.5" width="4.6" height="4.6" fill="#0a0a0a"/>
<rect x="1314.6" y="1079.2" width="4.6" height="4.6" fill="#0a0a0a"/>
<g font-family="'Liberation Serif', serif"><text x="1248.7" y="1093.7" font-size="4.3" text-anchor="middle" font-weight="bold" fill="#26268a">B0272.5</text><text x="1292.2" y="1083" font-size="4.3" text-anchor="middle" font-weight="bold" fill="#26268a">F21D12.3</text><text x="1291.1" y="1113.2" font-size="4.3" text-anchor="middle" font-weight="bold" fill="#26268a">Y105E8AR.4</text><text x="1318.8" y="1115.1" font-size="4.3" text-anchor="middle" font-weight="bold" fill="#26268a">Mlf52_evm7s155</text><text x="1331.7" y="1109.5" font-size="4.3" text-anchor="middle" font-weight="bold" fill="#26268a">Mlf52_evm7s155</text><text x="1304" y="1130.9" font-size="4.3" text-anchor="middle" font-weight="bold" fill="#26268a">Mlf52_evm17s1569</text><text x="1329.9" y="1130.9" font-size="4.3" text-anchor="middle" font-weight="bold" fill="#26268a">Mlf52_evm22s1569</text><text x="1355.7" y="1131.7" font-size="4.3" text-anchor="middle" font-weight="bold" fill="#26268a">Mlf52_evm9s2473</text><text x="1283" y="1135.4" font-size="4.3" text-anchor="middle" font-weight="bold" fill="#26268a">Mlf52_evm12s242</text><text x="1316.9" y="1142" font-size="4.3" text-anchor="middle" font-weight="bold" fill="#26268a">Mlf52_evm4s2548</text><text x="1328" y="1149" font-size="4.3" text-anchor="middle" font-weight="bold" fill="#26268a">Mlf52_evm7s236</text><text x="1280.1" y="1146.4" font-size="4.3" text-anchor="middle" font-weight="bold" fill="#26268a">Mlf52_evm1s999</text><text x="1293" y="1152" font-size="4.3" text-anchor="middle" font-weight="bold" fill="#26268a">Mlf52_evm22s171</text><text x="1304" y="1154.9" font-size="4.3" text-anchor="middle" font-weight="bold" fill="#26268a">Mlf52_evm24s2576</text><text x="1313.3" y="1167.5" font-size="4.3" text-anchor="middle" font-weight="bold" fill="#26268a">Mlf52_evm24s412</text><text x="1276.4" y="1172.3" font-size="4.3" text-anchor="middle" font-weight="bold" fill="#26268a">Mlf52_evm1s427</text><text x="1371.5" y="1172.3" font-size="4.3" text-anchor="middle" font-weight="bold" fill="#26268a">Y53F4A.4</text><text x="1416.6" y="1158.2" font-size="4.3" text-anchor="middle" font-weight="bold" fill="#26268a">F5gp000203</text><text x="1224.7" y="1188.1" font-size="4.3" text-anchor="middle" font-weight="bold" fill="#26268a">WBL2C3M76.3</text><text x="1281.9" y="1193.7" font-size="4.3" text-anchor="middle" font-weight="bold" fill="#26268a">Mlf52_evm37s1569</text><text x="1193.4" y="1200.3" font-size="4.3" text-anchor="middle" font-weight="bold" fill="#26268a">Y105E8A.23</text><text x="1198.9" y="1232" font-size="4.3" text-anchor="middle" font-weight="bold" fill="#26268a">WBL2C3D2295.5</text><text x="1256.1" y="1233.1" font-size="4.3" text-anchor="middle" font-weight="bold" fill="#26268a">Mlf52_evm10s223</text><text x="1285.6" y="1239.4" font-size="4.3" text-anchor="middle" font-weight="bold" fill="#26268a">Mlf52_evm24s604</text><text x="1215.5" y="1260.8" font-size="4.3" text-anchor="middle" font-weight="bold" fill="#26268a">Sarc4_g0027T</text><text x="1422.1" y="1208.4" font-size="4.3" text-anchor="middle" font-weight="bold" fill="#26268a">Mlf52_evm1s1470</text><text x="1388.9" y="1222.1" font-size="4.3" text-anchor="middle" font-weight="bold" fill="#26268a">Sarc4_g3142T</text><text x="1396.3" y="1257.8" font-size="4.3" text-anchor="middle" font-weight="bold" fill="#26268a">Sarc4_g12767T</text><text x="1296.7" y="1271.1" font-size="4.3" text-anchor="middle" font-weight="bold" fill="#26268a">Mlf52_evm4s2767</text><text x="1312.5" y="1284.8" font-size="4.3" text-anchor="middle" font-weight="bold" fill="#26268a">Mlf52_evm17s248</text><text x="1278.2" y="1287.7" font-size="4.3" text-anchor="middle" font-weight="bold" fill="#26268a">Mlf52_evm33s553</text><text x="1298.5" y="1292.2" font-size="4.3" text-anchor="middle" font-weight="bold" fill="#26268a">Mlf52_evm22s534</text><text x="1346.5" y="1282.9" font-size="4.3" text-anchor="middle" font-weight="bold" fill="#26268a">Mlf52_evm3s111</text><text x="1376.7" y="1274.8" font-size="4.3" text-anchor="middle" font-weight="bold" fill="#26268a">Mlf52_evm12s2473</text><text x="1304" y="1306.9" font-size="4.3" text-anchor="middle" font-weight="bold" fill="#26268a">Mlf52_evm3s227</text><text x="1287.4" y="1313.2" font-size="4.3" text-anchor="middle" font-weight="bold" fill="#26268a">Mlf52_evm33s543</text><text x="1320.6" y="1313.2" font-size="4.3" text-anchor="middle" font-weight="bold" fill="#26268a">Mlf52_evm3s1111</text><text x="1340.9" y="1303.2" font-size="4.3" text-anchor="middle" font-weight="bold" fill="#26268a">Mlf52_evm10s223</text></g>
<path d="M1458 1185 L1480 1199 L1458 1213" fill="none" stroke="#111" stroke-width="3.6" stroke-linejoin="miter"/>
<rect x="1485" y="1058.5" width="283.7" height="279.5" fill="#fff" stroke="#9b9b9b" stroke-width="1.6"/>
<line x1="1577.9" y1="1094.6" x2="1745.5" y2="1203.3" stroke="#e56db3" stroke-width="0.9"/><line x1="1577.9" y1="1094.6" x2="1645.3" y2="1147.6" stroke="#e56db3" stroke-width="0.9"/><line x1="1702.7" y1="1098.3" x2="1716.4" y2="1121.1" stroke="#e56db3" stroke-width="0.9"/><line x1="1676.2" y1="1131.4" x2="1645.3" y2="1147.6" stroke="#e56db3" stroke-width="0.9"/><line x1="1702.7" y1="1098.3" x2="1644.2" y2="1111.2" stroke="#e56db3" stroke-width="0.9"/><line x1="1662.2" y1="1090.2" x2="1644.2" y2="1111.2" stroke="#e56db3" stroke-width="0.9"/><line x1="1577.9" y1="1094.6" x2="1680.3" y2="1106.4" stroke="#e56db3" stroke-width="0.9"/><line x1="1644.2" y1="1111.2" x2="1745.5" y2="1203.3" stroke="#e56db3" stroke-width="0.9"/><line x1="1615.1" y1="1128.5" x2="1745.5" y2="1203.3" stroke="#e56db3" stroke-width="0.9"/><line x1="1624.6" y1="1070.3" x2="1676.2" y2="1131.4" stroke="#e56db3" stroke-width="0.9"/><line x1="1624.6" y1="1070.3" x2="1745.5" y2="1203.3" stroke="#e56db3" stroke-width="0.9"/><line x1="1644.2" y1="1111.2" x2="1645.3" y2="1147.6" stroke="#e56db3" stroke-width="0.9"/><line x1="1624.6" y1="1070.3" x2="1645.3" y2="1147.6" stroke="#e56db3" stroke-width="0.9"/><line x1="1662.2" y1="1090.2" x2="1696.5" y2="1148.4" stroke="#e56db3" stroke-width="0.9"/><line x1="1716.4" y1="1121.1" x2="1676.2" y2="1131.4" stroke="#e56db3" stroke-width="0.9"/><line x1="1644.2" y1="1111.2" x2="1680.3" y2="1106.4" stroke="#e56db3" stroke-width="0.9"/><line x1="1624.6" y1="1070.3" x2="1577.9" y2="1094.6" stroke="#e56db3" stroke-width="0.9"/><line x1="1645.3" y1="1147.6" x2="1696.5" y2="1148.4" stroke="#e56db3" stroke-width="0.9"/><line x1="1702.7" y1="1098.3" x2="1676.2" y2="1131.4" stroke="#e56db3" stroke-width="0.9"/><line x1="1680.3" y1="1106.4" x2="1717.5" y2="1166.4" stroke="#e56db3" stroke-width="0.9"/><line x1="1676.2" y1="1131.4" x2="1751.7" y2="1160.5" stroke="#e56db3" stroke-width="0.9"/><line x1="1577.9" y1="1094.6" x2="1676.2" y2="1131.4" stroke="#e56db3" stroke-width="0.9"/><line x1="1662.2" y1="1090.2" x2="1720.4" y2="1140.3" stroke="#e56db3" stroke-width="0.9"/><line x1="1624.6" y1="1070.3" x2="1696.5" y2="1148.4" stroke="#e56db3" stroke-width="0.9"/><line x1="1720.4" y1="1140.3" x2="1696.5" y2="1148.4" stroke="#e56db3" stroke-width="0.9"/><line x1="1645.3" y1="1147.6" x2="1751.7" y2="1160.5" stroke="#e56db3" stroke-width="0.9"/><line x1="1615.1" y1="1128.5" x2="1676.2" y2="1131.4" stroke="#e56db3" stroke-width="0.9"/><line x1="1676.2" y1="1131.4" x2="1745.5" y2="1203.3" stroke="#e56db3" stroke-width="0.9"/><line x1="1644.2" y1="1111.2" x2="1615.1" y2="1128.5" stroke="#e56db3" stroke-width="0.9"/><line x1="1662.2" y1="1090.2" x2="1717.5" y2="1166.4" stroke="#e56db3" stroke-width="0.9"/><line x1="1716.4" y1="1121.1" x2="1675.5" y2="1164.2" stroke="#e56db3" stroke-width="0.9"/><line x1="1644.2" y1="1111.2" x2="1717.5" y2="1166.4" stroke="#e56db3" stroke-width="0.9"/><line x1="1615.1" y1="1128.5" x2="1675.5" y2="1164.2" stroke="#e56db3" stroke-width="0.9"/><line x1="1615.1" y1="1128.5" x2="1645.3" y2="1147.6" stroke="#e56db3" stroke-width="0.9"/><line x1="1676.2" y1="1131.4" x2="1675.5" y2="1164.2" stroke="#e56db3" stroke-width="0.9"/><line x1="1716.4" y1="1121.1" x2="1615.1" y2="1128.5" stroke="#e56db3" stroke-width="0.9"/><line x1="1702.7" y1="1098.3" x2="1675.5" y2="1164.2" stroke="#e56db3" stroke-width="0.9"/><line x1="1615.1" y1="1128.5" x2="1720.4" y2="1140.3" stroke="#e56db3" stroke-width="0.9"/><line x1="1696.5" y1="1148.4" x2="1745.5" y2="1203.3" stroke="#e56db3" stroke-width="0.9"/><line x1="1680.3" y1="1106.4" x2="1645.3" y2="1147.6" stroke="#e56db3" stroke-width="0.9"/><line x1="1716.4" y1="1121.1" x2="1720.4" y2="1140.3" stroke="#e56db3" stroke-width="0.9"/><line x1="1680.3" y1="1106.4" x2="1675.5" y2="1164.2" stroke="#e56db3" stroke-width="0.9"/><line x1="1676.2" y1="1131.4" x2="1720.4" y2="1140.3" stroke="#e56db3" stroke-width="0.9"/><line x1="1676.2" y1="1131.4" x2="1717.5" y2="1166.4" stroke="#e56db3" stroke-width="0.9"/><line x1="1624.6" y1="1070.3" x2="1716.4" y2="1121.1" stroke="#e56db3" stroke-width="0.9"/><line x1="1644.2" y1="1111.2" x2="1675.5" y2="1164.2" stroke="#e56db3" stroke-width="0.9"/><line x1="1716.4" y1="1121.1" x2="1645.3" y2="1147.6" stroke="#e56db3" stroke-width="0.9"/><line x1="1751.7" y1="1160.5" x2="1745.5" y2="1203.3" stroke="#e56db3" stroke-width="0.9"/><line x1="1624.6" y1="1070.3" x2="1615.1" y2="1128.5" stroke="#e56db3" stroke-width="0.9"/><line x1="1680.3" y1="1106.4" x2="1696.5" y2="1148.4" stroke="#e56db3" stroke-width="0.9"/><line x1="1702.7" y1="1098.3" x2="1696.5" y2="1148.4" stroke="#e56db3" stroke-width="0.9"/><line x1="1716.4" y1="1121.1" x2="1717.5" y2="1166.4" stroke="#e56db3" stroke-width="0.9"/><line x1="1624.6" y1="1070.3" x2="1717.5" y2="1166.4" stroke="#e56db3" stroke-width="0.9"/><line x1="1680.3" y1="1106.4" x2="1751.7" y2="1160.5" stroke="#e56db3" stroke-width="0.9"/><line x1="1662.2" y1="1090.2" x2="1675.5" y2="1164.2" stroke="#e56db3" stroke-width="0.9"/><line x1="1717.5" y1="1166.4" x2="1745.5" y2="1203.3" stroke="#e56db3" stroke-width="0.9"/><line x1="1624.6" y1="1070.3" x2="1675.5" y2="1164.2" stroke="#e56db3" stroke-width="0.9"/><line x1="1644.2" y1="1111.2" x2="1676.2" y2="1131.4" stroke="#e56db3" stroke-width="0.9"/><line x1="1577.9" y1="1094.6" x2="1720.4" y2="1140.3" stroke="#e56db3" stroke-width="0.9"/><line x1="1675.5" y1="1164.2" x2="1717.5" y2="1166.4" stroke="#e56db3" stroke-width="0.9"/><line x1="1720.4" y1="1140.3" x2="1751.7" y2="1160.5" stroke="#e56db3" stroke-width="0.9"/><line x1="1702.7" y1="1098.3" x2="1720.4" y2="1140.3" stroke="#e56db3" stroke-width="0.9"/><line x1="1717.5" y1="1166.4" x2="1751.7" y2="1160.5" stroke="#e56db3" stroke-width="0.9"/><line x1="1615.1" y1="1128.5" x2="1751.7" y2="1160.5" stroke="#e56db3" stroke-width="0.9"/><line x1="1577.9" y1="1094.6" x2="1644.2" y2="1111.2" stroke="#e56db3" stroke-width="0.9"/><line x1="1680.3" y1="1106.4" x2="1615.1" y2="1128.5" stroke="#e56db3" stroke-width="0.9"/><line x1="1577.9" y1="1094.6" x2="1751.7" y2="1160.5" stroke="#e56db3" stroke-width="0.9"/><line x1="1577.9" y1="1094.6" x2="1717.5" y2="1166.4" stroke="#e56db3" stroke-width="0.9"/><line x1="1577.9" y1="1094.6" x2="1615.1" y2="1128.5" stroke="#e56db3" stroke-width="0.9"/><line x1="1716.4" y1="1121.1" x2="1745.5" y2="1203.3" stroke="#e56db3" stroke-width="0.9"/><line x1="1675.5" y1="1164.2" x2="1745.5" y2="1203.3" stroke="#e56db3" stroke-width="0.9"/><line x1="1702.7" y1="1098.3" x2="1645.3" y2="1147.6" stroke="#e56db3" stroke-width="0.9"/><line x1="1676.2" y1="1131.4" x2="1696.5" y2="1148.4" stroke="#e56db3" stroke-width="0.9"/><line x1="1645.3" y1="1147.6" x2="1717.5" y2="1166.4" stroke="#e56db3" stroke-width="0.9"/><line x1="1645.3" y1="1147.6" x2="1675.5" y2="1164.2" stroke="#e56db3" stroke-width="0.9"/><line x1="1577.9" y1="1094.6" x2="1675.5" y2="1164.2" stroke="#e56db3" stroke-width="0.9"/><line x1="1662.2" y1="1090.2" x2="1716.4" y2="1121.1" stroke="#e56db3" stroke-width="0.9"/><line x1="1680.3" y1="1106.4" x2="1716.4" y2="1121.1" stroke="#e56db3" stroke-width="0.9"/><line x1="1577.9" y1="1094.6" x2="1662.2" y2="1090.2" stroke="#e56db3" stroke-width="0.9"/><line x1="1680.3" y1="1106.4" x2="1745.5" y2="1203.3" stroke="#e56db3" stroke-width="0.9"/><line x1="1716.4" y1="1121.1" x2="1751.7" y2="1160.5" stroke="#e56db3" stroke-width="0.9"/><line x1="1675.5" y1="1164.2" x2="1751.7" y2="1160.5" stroke="#e56db3" stroke-width="0.9"/><line x1="1696.5" y1="1148.4" x2="1675.5" y2="1164.2" stroke="#e56db3" stroke-width="0.9"/><line x1="1720.4" y1="1140.3" x2="1645.3" y2="1147.6" stroke="#e56db3" stroke-width="0.9"/><line x1="1696.5" y1="1148.4" x2="1751.7" y2="1160.5" stroke="#e56db3" stroke-width="0.9"/><line x1="1702.7" y1="1098.3" x2="1615.1" y2="1128.5" stroke="#e56db3" stroke-width="0.9"/><line x1="1662.2" y1="1090.2" x2="1745.5" y2="1203.3" stroke="#e56db3" stroke-width="0.9"/><line x1="1662.2" y1="1090.2" x2="1645.3" y2="1147.6" stroke="#e56db3" stroke-width="0.9"/><line x1="1615.1" y1="1128.5" x2="1696.5" y2="1148.4" stroke="#e56db3" stroke-width="0.9"/><line x1="1624.6" y1="1070.3" x2="1662.2" y2="1090.2" stroke="#e56db3" stroke-width="0.9"/><line x1="1662.2" y1="1090.2" x2="1702.7" y2="1098.3" stroke="#e56db3" stroke-width="0.9"/><line x1="1577.9" y1="1094.6" x2="1716.4" y2="1121.1" stroke="#e56db3" stroke-width="0.9"/><line x1="1536.2" y1="1248.6" x2="1560.6" y2="1271.8" stroke="#dcac33" stroke-width="1"/><line x1="1570.5" y1="1294.2" x2="1605.9" y2="1325.2" stroke="#dcac33" stroke-width="1"/><line x1="1560.6" y1="1271.8" x2="1641.2" y2="1306.4" stroke="#dcac33" stroke-width="1"/><line x1="1606.2" y1="1287.6" x2="1570.5" y2="1294.2" stroke="#dcac33" stroke-width="1"/><line x1="1580.4" y1="1258.5" x2="1560.6" y2="1271.8" stroke="#dcac33" stroke-width="1"/><line x1="1499.8" y1="1222.4" x2="1641.2" y2="1306.4" stroke="#dcac33" stroke-width="1"/><line x1="1606.2" y1="1287.6" x2="1605.9" y2="1325.2" stroke="#dcac33" stroke-width="1"/><line x1="1536.2" y1="1248.6" x2="1641.2" y2="1306.4" stroke="#dcac33" stroke-width="1"/><line x1="1536.2" y1="1248.6" x2="1605.9" y2="1325.2" stroke="#dcac33" stroke-width="1"/><line x1="1580.4" y1="1258.5" x2="1544" y2="1303.4" stroke="#dcac33" stroke-width="1"/><line x1="1560.6" y1="1271.8" x2="1570.5" y2="1294.2" stroke="#dcac33" stroke-width="1"/><line x1="1570.5" y1="1294.2" x2="1641.2" y2="1306.4" stroke="#dcac33" stroke-width="1"/><line x1="1580.4" y1="1258.5" x2="1605.9" y2="1325.2" stroke="#dcac33" stroke-width="1"/><line x1="1499.8" y1="1222.4" x2="1560.6" y2="1271.8" stroke="#dcac33" stroke-width="1"/><line x1="1536.2" y1="1248.6" x2="1580.4" y2="1258.5" stroke="#dcac33" stroke-width="1"/><line x1="1560.6" y1="1271.8" x2="1526.3" y2="1277.3" stroke="#dcac33" stroke-width="1"/><line x1="1536.2" y1="1248.6" x2="1606.2" y2="1287.6" stroke="#dcac33" stroke-width="1"/><line x1="1580.4" y1="1258.5" x2="1526.3" y2="1277.3" stroke="#dcac33" stroke-width="1"/><line x1="1526.3" y1="1277.3" x2="1641.2" y2="1306.4" stroke="#dcac33" stroke-width="1"/><line x1="1536.2" y1="1248.6" x2="1544" y2="1303.4" stroke="#dcac33" stroke-width="1"/><line x1="1526.3" y1="1277.3" x2="1606.2" y2="1287.6" stroke="#dcac33" stroke-width="1"/><line x1="1499.8" y1="1222.4" x2="1570.5" y2="1294.2" stroke="#dcac33" stroke-width="1"/><line x1="1526.3" y1="1277.3" x2="1605.9" y2="1325.2" stroke="#dcac33" stroke-width="1"/><line x1="1499.8" y1="1222.4" x2="1580.4" y2="1258.5" stroke="#dcac33" stroke-width="1"/><line x1="1526.3" y1="1277.3" x2="1570.5" y2="1294.2" stroke="#dcac33" stroke-width="1"/><line x1="1606.2" y1="1287.6" x2="1544" y2="1303.4" stroke="#dcac33" stroke-width="1"/><line x1="1499.8" y1="1222.4" x2="1536.2" y2="1248.6" stroke="#dcac33" stroke-width="1"/><line x1="1536.2" y1="1248.6" x2="1526.3" y2="1277.3" stroke="#dcac33" stroke-width="1"/><line x1="1580.4" y1="1258.5" x2="1606.2" y2="1287.6" stroke="#dcac33" stroke-width="1"/><line x1="1544" y1="1303.4" x2="1641.2" y2="1306.4" stroke="#dcac33" stroke-width="1"/><line x1="1536.2" y1="1248.6" x2="1570.5" y2="1294.2" stroke="#dcac33" stroke-width="1"/><line x1="1580.4" y1="1258.5" x2="1641.2" y2="1306.4" stroke="#dcac33" stroke-width="1"/><line x1="1526.3" y1="1277.3" x2="1544" y2="1303.4" stroke="#dcac33" stroke-width="1"/><line x1="1560.6" y1="1271.8" x2="1544" y2="1303.4" stroke="#dcac33" stroke-width="1"/><line x1="1570.5" y1="1294.2" x2="1544" y2="1303.4" stroke="#dcac33" stroke-width="1"/><line x1="1560.6" y1="1271.8" x2="1606.2" y2="1287.6" stroke="#dcac33" stroke-width="1"/>
<rect x="1622.2" y="1067.9" width="4.8" height="4.8" fill="#0a0a0a"/>
<rect x="1575.5" y="1092.2" width="4.8" height="4.8" fill="#0a0a0a"/>
<rect x="1659.8" y="1087.8" width="4.8" height="4.8" fill="#0a0a0a"/>
<rect x="1700.3" y="1095.9" width="4.8" height="4.8" fill="#0a0a0a"/>
<rect x="1641.8" y="1108.8" width="4.8" height="4.8" fill="#0a0a0a"/>
<rect x="1677.9" y="1104" width="4.8" height="4.8" fill="#0a0a0a"/>
<rect x="1714" y="1118.7" width="4.8" height="4.8" fill="#0a0a0a"/>
<rect x="1612.7" y="1126.1" width="4.8" height="4.8" fill="#0a0a0a"/>
<rect x="1673.8" y="1129" width="4.8" height="4.8" fill="#0a0a0a"/>
<rect x="1718" y="1137.9" width="4.8" height="4.8" fill="#0a0a0a"/>
<rect x="1642.9" y="1145.2" width="4.8" height="4.8" fill="#0a0a0a"/>
<rect x="1694.1" y="1146" width="4.8" height="4.8" fill="#0a0a0a"/>
<rect x="1673.1" y="1161.8" width="4.8" height="4.8" fill="#0a0a0a"/>
<rect x="1715.1" y="1164" width="4.8" height="4.8" fill="#0a0a0a"/>
<rect x="1749.3" y="1158.1" width="4.8" height="4.8" fill="#0a0a0a"/>
<rect x="1743.1" y="1200.9" width="4.8" height="4.8" fill="#0a0a0a"/>
<rect x="1497.4" y="1220" width="4.8" height="4.8" fill="#0a0a0a"/>
<rect x="1533.8" y="1246.2" width="4.8" height="4.8" fill="#0a0a0a"/>
<rect x="1578" y="1256.1" width="4.8" height="4.8" fill="#0a0a0a"/>
<rect x="1558.2" y="1269.4" width="4.8" height="4.8" fill="#0a0a0a"/>
<rect x="1523.9" y="1274.9" width="4.8" height="4.8" fill="#0a0a0a"/>
<rect x="1603.8" y="1285.2" width="4.8" height="4.8" fill="#0a0a0a"/>
<rect x="1568.1" y="1291.8" width="4.8" height="4.8" fill="#0a0a0a"/>
<rect x="1541.6" y="1301" width="4.8" height="4.8" fill="#0a0a0a"/>
<rect x="1638.8" y="1304" width="4.8" height="4.8" fill="#0a0a0a"/>
<rect x="1603.5" y="1322.8" width="4.8" height="4.8" fill="#0a0a0a"/>
<path d="M1774 1185 L1796 1199 L1774 1213" fill="none" stroke="#111" stroke-width="3.6" stroke-linejoin="miter"/>
<rect x="1824.6" y="1054.5" width="282.6" height="283.5" fill="#fff" stroke="#333" stroke-width="1.5"/>
<line x1="1818.6" y1="1064.8" x2="1824.6" y2="1064.8" stroke="#222" stroke-width="1.2"/>
<text font-size="10" text-anchor="middle" font-weight="bold" fill="#222" stroke="#222" stroke-width="0.4" transform="translate(1810 1064.8) rotate(-90)">2</text>
<line x1="1818.6" y1="1130.3" x2="1824.6" y2="1130.3" stroke="#222" stroke-width="1.2"/>
<text font-size="10" text-anchor="middle" font-weight="bold" fill="#222" stroke="#222" stroke-width="0.4" transform="translate(1810 1130.3) rotate(-90)">1</text>
<line x1="1818.6" y1="1195.9" x2="1824.6" y2="1195.9" stroke="#222" stroke-width="1.2"/>
<text font-size="10" text-anchor="middle" font-weight="bold" fill="#222" stroke="#222" stroke-width="0.4" transform="translate(1810 1195.9) rotate(-90)">0</text>
<line x1="1818.6" y1="1261.5" x2="1824.6" y2="1261.5" stroke="#222" stroke-width="1.2"/>
<text font-size="10" text-anchor="middle" font-weight="bold" fill="#222" stroke="#222" stroke-width="0.4" transform="translate(1810 1261.5) rotate(-90)">−1</text>
<line x1="1818.6" y1="1327" x2="1824.6" y2="1327" stroke="#222" stroke-width="1.2"/>
<text font-size="10" text-anchor="middle" font-weight="bold" fill="#222" stroke="#222" stroke-width="0.4" transform="translate(1810 1327) rotate(-90)">−2</text>
<line x1="1835" y1="1338" x2="1835" y2="1344" stroke="#222" stroke-width="1.2"/>
<text x="1835" y="1360" font-size="10" text-anchor="middle" font-weight="bold" fill="#222" stroke="#222" stroke-width="0.4">1</text>
<line x1="1887.3" y1="1338" x2="1887.3" y2="1344" stroke="#222" stroke-width="1.2"/>
<text x="1887.3" y="1360" font-size="10" text-anchor="middle" font-weight="bold" fill="#222" stroke="#222" stroke-width="0.4">2</text>
<line x1="1939.6" y1="1338" x2="1939.6" y2="1344" stroke="#222" stroke-width="1.2"/>
<text x="1939.6" y="1360" font-size="10" text-anchor="middle" font-weight="bold" fill="#222" stroke="#222" stroke-width="0.4">3</text>
<line x1="1991.9" y1="1338" x2="1991.9" y2="1344" stroke="#222" stroke-width="1.2"/>
<text x="1991.9" y="1360" font-size="10" text-anchor="middle" font-weight="bold" fill="#222" stroke="#222" stroke-width="0.4">4</text>
<line x1="2044.2" y1="1338" x2="2044.2" y2="1344" stroke="#222" stroke-width="1.2"/>
<text x="2044.2" y="1360" font-size="10" text-anchor="middle" font-weight="bold" fill="#222" stroke="#222" stroke-width="0.4">5</text>
<line x1="2096.5" y1="1338" x2="2096.5" y2="1344" stroke="#222" stroke-width="1.2"/>
<text x="2096.5" y="1360" font-size="10" text-anchor="middle" font-weight="bold" fill="#222" stroke="#222" stroke-width="0.4">6</text>
<g fill="none" stroke-linejoin="round"><path d="M1835 1081.8 L1887.3 1176.9 L1939.6 1272.6 L1991.9 1222.1 L2044.2 1207 L2096.5 1229.3" stroke="#d9ab34" stroke-width="2.1"/><path d="M1835 1112 L1887.3 1124.4 L1939.6 1210.3 L1991.9 1212.3 L2044.2 1207 L2096.5 1211" stroke="#d9ab34" stroke-width="2.6"/><path d="M1835 1115.9 L1887.3 1123.8 L1939.6 1201.1 L1991.9 1212.9 L2044.2 1208.4 L2096.5 1209" stroke="#d9ab34" stroke-width="1.8"/><path d="M1835 1139.5 L1887.3 1139.5 L1939.6 1182.8 L1991.9 1202.5 L2044.2 1197.9 L2096.5 1213.6" stroke="#d9ab34" stroke-width="2.1" stroke-dasharray="16 9"/><path d="M1835 1189.3 L1887.3 1152 L1939.6 1226.7 L1991.9 1251.6 L2044.2 1215.6 L2096.5 1258.2" stroke="#d9ab34" stroke-width="2.1" stroke-dasharray="13 10"/><path d="M1835 1117.2 L1887.3 1133.6 L1939.6 1179.5 L1991.9 1166.4 L2044.2 1155.2 L2096.5 1195.9" stroke="#d9ab34" stroke-width="2.1" stroke-dasharray="17 10"/><path d="M1835 1107.4 L1887.3 1136.9 L1939.6 1232 L1991.9 1235.2 L2044.2 1232 L2096.5 1241.8" stroke="#d9ab34" stroke-width="1.7" stroke-dasharray="2 7"/><path d="M1835 1123.8 L1887.3 1176.2 L1939.6 1215.6 L1991.9 1254.9 L2044.2 1228.7 L2096.5 1225.4" stroke="#d9ab34" stroke-width="1.7" stroke-dasharray="2 7"/><path d="M1835 1221.5 L1887.3 1306 L1939.6 1207 L1991.9 1108 L2044.2 1166.4 L2096.5 1182.8" stroke="#e56db3" stroke-width="2.1"/><path d="M1835 1271.3 L1887.3 1271.3 L1939.6 1161.1 L1991.9 1163.1 L2044.2 1156.6 L2096.5 1148" stroke="#e56db3" stroke-width="2.1"/><path d="M1835 1304.1 L1887.3 1201.1 L1939.6 1165.1 L1991.9 1159.8 L2044.2 1155.2 L2096.5 1131.6" stroke="#e56db3" stroke-width="2.1"/><path d="M1835 1232 L1887.3 1306 L1939.6 1205.7 L1991.9 1191.3 L2044.2 1166.4 L2096.5 1132.3" stroke="#e56db3" stroke-width="2.1"/><path d="M1835 1248.3 L1887.3 1248.3" stroke="#e56db3" stroke-width="2.1"/><path d="M1835 1274.6 L1887.3 1225.4 L1939.6 1155.2 L1991.9 1157.9 L2044.2 1140.2 L2096.5 1152.6" stroke="#e56db3" stroke-width="1"/><path d="M1887.3 1248.3 L1938 1248.3 L1939.6 1139.5 L1986.6 1138.2 L1991.9 1094.3 L1997.1 1110.7 L2044.2 1186.1 L2096.5 1166.4" stroke="#e56db3" stroke-width="2.1" stroke-dasharray="17 10"/><path d="M1835 1274.6 L1887.3 1215.6 L1939.6 1163.1 L1991.9 1146.7 L2044.2 1159.8 L2096.5 1182.8" stroke="#e56db3" stroke-width="2.1" stroke-dasharray="14 10"/><path d="M1835 1235.2 L1887.3 1261.5 L1939.6 1189.3 L1991.9 1176.2 L2044.2 1146.7 L2096.5 1163.1" stroke="#e56db3" stroke-width="2.1" stroke-dasharray="14 10"/><path d="M1835 1225.4 L1887.3 1179.5 L1939.6 1159.8 L1991.9 1156.6 L2044.2 1150 L2096.5 1133.6" stroke="#e56db3" stroke-width="2.1" stroke-dasharray="18 11"/><path d="M1835 1307.4 L1887.3 1274.6 L1939.6 1182.8 L1991.9 1163.1 L2044.2 1136.9 L2096.5 1156.6" stroke="#e56db3" stroke-width="1.7" stroke-dasharray="2 7"/><path d="M1835 1261.5 L1887.3 1228.7 L1939.6 1172.9 L1991.9 1153.3 L2044.2 1150 L2096.5 1143.4" stroke="#e56db3" stroke-width="1.7" stroke-dasharray="2 7"/><path d="M1835 1291 L1887.3 1245.1 L1939.6 1169.7 L1991.9 1150 L2044.2 1186.1 L2096.5 1146.7" stroke="#e56db3" stroke-width="2.1" stroke-dasharray="19 11"/><path d="M1835 1281.1 L1887.3 1277.8 L1939.6 1202.5 L1960.5 1179.5 L1991.9 1140.2 L2044.2 1153.3 L2096.5 1176.2" stroke="#e56db3" stroke-width="2.1" stroke-dasharray="15 12"/></g></g>
<g id="pg"><text x="9" y="1404.5" font-size="50" font-weight="bold" fill="#1a1a1a" stroke="#1a1a1a" stroke-width="0.6">g</text>
<text x="161.7" y="1373" font-size="20.6" text-anchor="middle" font-weight="bold" fill="#000" stroke="#000" stroke-width="0.4">Early animals</text><text x="161.7" y="1398.2" font-size="20.6" text-anchor="middle" font-weight="bold" fill="#000" stroke="#000" stroke-width="0.4">genewise</text><text x="161.7" y="1423.3" font-size="20.6" text-anchor="middle" font-weight="bold" fill="#000" stroke="#000" stroke-width="0.4">correlations</text>
<rect x="81.7" y="1433.8" width="167.7" height="399.6" fill="#fff" stroke="#a6a6a9" stroke-width="1.3"/>
<path d="M83.5 1816.6V1811.9h1.6V1816.6zM85.5 1816.6V1812.9h1.6V1816.6zM87.4 1816.6V1813.2h1.6V1816.6zM89.4 1816.6V1812.5h1.6V1816.6zM91.3 1816.6V1811.6h1.6V1816.6zM93.3 1816.6V1809.7h1.6V1816.6zM95.2 1816.6V1808.5h1.6V1816.6zM97.2 1816.6V1809.2h1.6V1816.6zM99.1 1816.6V1807.3h1.6V1816.6zM101 1816.6V1807.7h1.6V1816.6zM103 1816.6V1810.6h1.6V1816.6zM104.9 1816.6V1810.8h1.6V1816.6zM106.9 1816.6V1811.2h1.6V1816.6zM108.8 1816.6V1809.8h1.6V1816.6zM110.8 1816.6V1809.4h1.6V1816.6zM112.7 1816.6V1807.9h1.6V1816.6zM114.7 1816.6V1808.5h1.6V1816.6zM116.6 1816.6V1808.7h1.6V1816.6zM118.6 1816.6V1808.5h1.6V1816.6zM120.5 1816.6V1810.8h1.6V1816.6zM122.5 1816.6V1810.8h1.6V1816.6zM124.4 1816.6V1796.7h1.6V1816.6zM126.4 1816.6V1789.2h1.6V1816.6zM128.3 1816.6V1774.8h1.6V1816.6zM130.3 1816.6V1748.3h1.6V1816.6zM132.2 1816.6V1701.7h1.6V1816.6zM134.2 1816.6V1702.1h1.6V1816.6zM136.1 1816.6V1659.7h1.6V1816.6zM138.1 1816.6V1633.6h1.6V1816.6zM140 1816.6V1610.1h1.6V1816.6zM142 1816.6V1568.7h1.6V1816.6zM143.9 1816.6V1554h1.6V1816.6zM145.8 1816.6V1458.8h1.6V1816.6zM147.8 1816.6V1501.9h1.6V1816.6zM149.7 1816.6V1452.7h1.6V1816.6zM151.7 1816.6V1490.6h1.6V1816.6zM153.6 1816.6V1486.5h1.6V1816.6zM155.6 1816.6V1455.8h1.6V1816.6zM157.5 1816.6V1465.1h1.6V1816.6zM159.5 1816.6V1477h1.6V1816.6zM161.4 1816.6V1553.1h1.6V1816.6zM163.4 1816.6V1521.8h1.6V1816.6zM165.3 1816.6V1574.7h1.6V1816.6zM167.3 1816.6V1540.4h1.6V1816.6zM169.2 1816.6V1586.6h1.6V1816.6zM171.2 1816.6V1615.8h1.6V1816.6zM173.1 1816.6V1623.8h1.6V1816.6zM175.1 1816.6V1642.1h1.6V1816.6zM177 1816.6V1658.8h1.6V1816.6zM179 1816.6V1678.8h1.6V1816.6zM180.9 1816.6V1665.3h1.6V1816.6zM182.9 1816.6V1700h1.6V1816.6zM184.8 1816.6V1704.8h1.6V1816.6zM186.8 1816.6V1699.1h1.6V1816.6zM188.7 1816.6V1697.4h1.6V1816.6zM190.6 1816.6V1703.2h1.6V1816.6zM192.6 1816.6V1717.7h1.6V1816.6zM194.5 1816.6V1725.4h1.6V1816.6zM196.5 1816.6V1742.7h1.6V1816.6zM198.4 1816.6V1746h1.6V1816.6zM200.4 1816.6V1749.4h1.6V1816.6zM202.3 1816.6V1731.1h1.6V1816.6zM204.3 1816.6V1749.2h1.6V1816.6zM206.2 1816.6V1756.3h1.6V1816.6zM208.2 1816.6V1750.2h1.6V1816.6zM210.1 1816.6V1745.8h1.6V1816.6zM212.1 1816.6V1762.7h1.6V1816.6zM214 1816.6V1764.6h1.6V1816.6zM216 1816.6V1743h1.6V1816.6zM217.9 1816.6V1759h1.6V1816.6zM219.9 1816.6V1768.3h1.6V1816.6zM221.8 1816.6V1761.7h1.6V1816.6zM223.8 1816.6V1764.1h1.6V1816.6zM225.7 1816.6V1771.3h1.6V1816.6zM227.7 1816.6V1775.6h1.6V1816.6zM229.6 1816.6V1768.5h1.6V1816.6zM231.6 1816.6V1771.4h1.6V1816.6zM233.5 1816.6V1767.5h1.6V1816.6zM235.4 1816.6V1786.4h1.6V1816.6zM237.4 1816.6V1778.4h1.6V1816.6zM239.3 1816.6V1794h1.6V1816.6zM241.3 1816.6V1805.6h1.6V1816.6zM243.2 1816.6V1809.7h1.6V1816.6zM245.2 1816.6V1815.9h1.6V1816.6z" fill="#242424"/>
<text x="79.3" y="1442" font-size="20" text-anchor="end" fill="#000" stroke="#000" stroke-width="0.4">300</text>
<text x="79.3" y="1569.8" font-size="20" text-anchor="end" fill="#000" stroke="#000" stroke-width="0.4">200</text>
<text x="79.3" y="1696.7" font-size="20" text-anchor="end" fill="#000" stroke="#000" stroke-width="0.4">100</text>
<text x="79.3" y="1823.6" font-size="20" text-anchor="end" fill="#000" stroke="#000" stroke-width="0.4">0</text>
<text x="79.7" y="1864.1" font-size="20" text-anchor="middle" fill="#000" stroke="#000" stroke-width="0.4">-1</text>
<text x="125.4" y="1864.1" font-size="20" text-anchor="middle" fill="#000" stroke="#000" stroke-width="0.4">-0.5</text>
<text x="166.7" y="1864.1" font-size="20" text-anchor="middle" fill="#000" stroke="#000" stroke-width="0.4">0</text>
<text x="205.1" y="1864.1" font-size="20" text-anchor="middle" fill="#000" stroke="#000" stroke-width="0.4">0.5</text>
<text x="242.6" y="1864.1" font-size="20" text-anchor="middle" fill="#000" stroke="#000" stroke-width="0.4">1</text>
<line x1="123.4" y1="1439.8" x2="123.4" y2="1833.4" stroke="#de3f96" stroke-width="3.4" stroke-dasharray="16 10"/>
<line x1="205.1" y1="1439.8" x2="205.1" y2="1833.4" stroke="#4c8ccd" stroke-width="3.4" stroke-dasharray="16 10"/>
<text font-size="20.6" text-anchor="middle" font-weight="bold" fill="#000" stroke="#000" stroke-width="0.4" transform="translate(34.5 1630.7) rotate(-90)">Frequency</text>
<text x="164.7" y="1891.3" font-size="20.6" text-anchor="middle" font-weight="bold" fill="#000" stroke="#000" stroke-width="0.4">Average</text><text x="164.7" y="1915.7" font-size="20.6" text-anchor="middle" font-weight="bold" fill="#000" stroke="#000" stroke-width="0.4">correlations</text>
<text x="252.5" y="1415.5" font-size="50" font-weight="bold" fill="#1a1a1a" stroke="#1a1a1a" stroke-width="0.6">h</text>
<text x="406.7" y="1373" font-size="20.6" text-anchor="middle" font-weight="bold" fill="#000" stroke="#000" stroke-width="0.4">All animals</text><text x="406.7" y="1398.2" font-size="20.6" text-anchor="middle" font-weight="bold" fill="#000" stroke="#000" stroke-width="0.4">genewise</text><text x="406.7" y="1423.3" font-size="20.6" text-anchor="middle" font-weight="bold" fill="#000" stroke="#000" stroke-width="0.4">correlations</text>
<rect x="324.6" y="1433.8" width="167.7" height="399.6" fill="#fff" stroke="#a6a6a9" stroke-width="1.3"/>
<line x1="327.6" y1="1817.8" x2="485.5" y2="1817.8" stroke="#555" stroke-width="1"/>
<path d="M380.7 1817.5V1815.3h1.7V1817.5zM382.7 1817.5V1812.7h1.7V1817.5zM384.8 1817.5V1809.3h1.7V1817.5zM386.8 1817.5V1804.5h1.7V1817.5zM388.9 1817.5V1797.1h1.7V1817.5zM390.9 1817.5V1785.1h1.7V1817.5zM392.9 1817.5V1755.7h1.7V1817.5zM395 1817.5V1693.8h1.7V1817.5zM397 1817.5V1551.7h1.7V1817.5zM399 1817.5V1507.9h1.7V1817.5zM401.1 1817.5V1455.1h1.7V1817.5zM403.1 1817.5V1485.1h1.7V1817.5zM405.1 1817.5V1509.7h1.7V1817.5zM407.2 1817.5V1516.5h1.7V1817.5zM409.2 1817.5V1535.8h1.7V1817.5zM411.2 1817.5V1583.2h1.7V1817.5zM413.3 1817.5V1626.5h1.7V1817.5zM415.3 1817.5V1666.2h1.7V1817.5zM417.4 1817.5V1691.2h1.7V1817.5zM419.4 1817.5V1710.8h1.7V1817.5zM421.4 1817.5V1728.7h1.7V1817.5zM423.5 1817.5V1739.2h1.7V1817.5zM425.5 1817.5V1748.8h1.7V1817.5zM427.5 1817.5V1759.9h1.7V1817.5zM429.6 1817.5V1768.1h1.7V1817.5zM431.6 1817.5V1767h1.7V1817.5zM433.6 1817.5V1774.7h1.7V1817.5zM435.7 1817.5V1785.1h1.7V1817.5zM437.7 1817.5V1793.3h1.7V1817.5zM439.8 1817.5V1796.8h1.7V1817.5zM441.8 1817.5V1801.8h1.7V1817.5zM443.8 1817.5V1806.1h1.7V1817.5zM445.9 1817.5V1807.7h1.7V1817.5zM447.9 1817.5V1809.8h1.7V1817.5zM449.9 1817.5V1810.8h1.7V1817.5zM452 1817.5V1811.3h1.7V1817.5zM454 1817.5V1812.5h1.7V1817.5zM456 1817.5V1813.1h1.7V1817.5zM458.1 1817.5V1813.6h1.7V1817.5zM460.1 1817.5V1813.3h1.7V1817.5zM462.2 1817.5V1812.6h1.7V1817.5zM464.2 1817.5V1812.1h1.7V1817.5zM466.2 1817.5V1811.3h1.7V1817.5zM468.3 1817.5V1811.9h1.7V1817.5zM470.3 1817.5V1813.9h1.7V1817.5zM472.3 1817.5V1815.3h1.7V1817.5zM474.4 1817.5V1815.3h1.7V1817.5zM476.4 1817.5V1815.6h1.7V1817.5zM478.4 1817.5V1815.9h1.7V1817.5zM480.5 1817.5V1816.4h1.7V1817.5zM482.5 1817.5V1816.9h1.7V1817.5zM484.6 1817.5V1817.2h1.7V1817.5z" fill="#242424"/>
<text x="322" y="1442" font-size="20" text-anchor="end" fill="#000" stroke="#000" stroke-width="0.4">700</text>
<text x="322" y="1537.4" font-size="20" text-anchor="end" fill="#000" stroke="#000" stroke-width="0.4">525</text>
<text x="322" y="1632.7" font-size="20" text-anchor="end" fill="#000" stroke="#000" stroke-width="0.4">300</text>
<text x="322" y="1727.7" font-size="20" text-anchor="end" fill="#000" stroke="#000" stroke-width="0.4">175</text>
<text x="322" y="1823.6" font-size="20" text-anchor="end" fill="#000" stroke="#000" stroke-width="0.4">0</text>
<text x="322.6" y="1864.1" font-size="20" text-anchor="middle" fill="#000" stroke="#000" stroke-width="0.4">-1</text>
<text x="368.3" y="1864.1" font-size="20" text-anchor="middle" fill="#000" stroke="#000" stroke-width="0.4">-0.5</text>
<text x="409.6" y="1864.1" font-size="20" text-anchor="middle" fill="#000" stroke="#000" stroke-width="0.4">0</text>
<text x="448" y="1864.1" font-size="20" text-anchor="middle" fill="#000" stroke="#000" stroke-width="0.4">0.5</text>
<text x="486.4" y="1864.1" font-size="20" text-anchor="middle" fill="#000" stroke="#000" stroke-width="0.4">1</text>
<line x1="386.6" y1="1448" x2="386.6" y2="1833.4" stroke="#de3f96" stroke-width="3.4" stroke-dasharray="16 10"/>
<line x1="427.9" y1="1448" x2="427.9" y2="1833.4" stroke="#4c8ccd" stroke-width="3.4" stroke-dasharray="16 10"/>
<text font-size="20.6" text-anchor="middle" font-weight="bold" fill="#000" stroke="#000" stroke-width="0.4" transform="translate(282.5 1630.7) rotate(-90)">Frequency</text>
<text x="408.5" y="1891.3" font-size="20.6" text-anchor="middle" font-weight="bold" fill="#000" stroke="#000" stroke-width="0.4">Average</text><text x="408.5" y="1915.7" font-size="20.6" text-anchor="middle" font-weight="bold" fill="#000" stroke="#000" stroke-width="0.4">correlations</text>
<text x="492" y="1413.5" font-size="50" font-weight="bold" fill="#1a1a1a" stroke="#1a1a1a" stroke-width="0.6">i</text>
<text x="656.4" y="1398.6" font-size="20.6" text-anchor="middle" font-weight="bold" fill="#000" stroke="#000" stroke-width="0.4">All animals genewise</text><text x="656.4" y="1423.4" font-size="20.6" text-anchor="middle" font-weight="bold" fill="#000" stroke="#000" stroke-width="0.4">correlations per cluster</text>
<rect x="504.5" y="1433.6" width="303.1" height="399.1" fill="#fff" stroke="#a6a6a9" stroke-width="1.3"/>
<path d="M575.3 1523.2C577 1522.7 582.7 1522.6 585.6 1520.5C588.4 1518.3 590.1 1515.4 592.4 1510.3C594.6 1505.2 596.6 1497.2 599.2 1489.8C601.7 1482.5 604.9 1472.8 607.7 1466C610.5 1459.2 613.1 1453.2 616.2 1449C619.3 1444.7 622.5 1442.6 626.4 1440.5C630.4 1438.4 636.1 1437.2 640 1436.4C644 1435.5 646.3 1434.9 650.3 1435.3C654.2 1435.7 659.1 1437.3 663.9 1438.8C668.7 1440.2 674.7 1442.7 679.2 1443.9C683.7 1445 687.4 1445.4 691.1 1445.6C694.8 1445.7 696.8 1444.3 701.3 1444.9C705.9 1445.4 713.3 1447.2 718.4 1449C723.5 1450.8 727.4 1454.1 732 1455.8C736.5 1457.5 741.6 1457.2 745.6 1459.2C749.6 1461.2 753 1464.3 755.8 1467.7C758.7 1471.1 760.4 1474.8 762.6 1479.6C764.9 1484.4 767.2 1491.2 769.4 1496.6C771.7 1502 773.7 1508 776.3 1512C778.8 1515.9 781.4 1518.6 784.8 1520.5C788.2 1522.3 794.7 1522.7 796.7 1523.2Z" fill="#c2e2e8" fill-opacity="0.7"/>
<path d="M575.3 1523.2C577 1522.7 582.7 1522.6 585.6 1520.5C588.4 1518.3 590.1 1515.4 592.4 1510.3C594.6 1505.2 596.6 1497.2 599.2 1489.8C601.7 1482.5 604.9 1472.8 607.7 1466C610.5 1459.2 613.1 1453.2 616.2 1449C619.3 1444.7 622.5 1442.6 626.4 1440.5C630.4 1438.4 636.1 1437.2 640 1436.4C644 1435.5 646.3 1434.9 650.3 1435.3C654.2 1435.7 659.1 1437.3 663.9 1438.8C668.7 1440.2 674.7 1442.7 679.2 1443.9C683.7 1445 687.4 1445.4 691.1 1445.6C694.8 1445.7 696.8 1444.3 701.3 1444.9C705.9 1445.4 713.3 1447.2 718.4 1449C723.5 1450.8 727.4 1454.1 732 1455.8C736.5 1457.5 741.6 1457.2 745.6 1459.2C749.6 1461.2 753 1464.3 755.8 1467.7C758.7 1471.1 760.4 1474.8 762.6 1479.6C764.9 1484.4 767.2 1491.2 769.4 1496.6C771.7 1502 773.7 1508 776.3 1512C778.8 1515.9 781.4 1518.6 784.8 1520.5C788.2 1522.3 794.7 1522.7 796.7 1523.2" fill="none" stroke="#111" stroke-width="1.1"/>
<line x1="565.1" y1="1523.2" x2="807.6" y2="1523.2" stroke="#a9a9a9" stroke-width="1.2"/>
<line x1="679.9" y1="1443.9" x2="679.9" y2="1517.1" stroke="#fff" stroke-width="5.2"/>
<line x1="679.9" y1="1448.3" x2="679.9" y2="1517.1" stroke="#111" stroke-width="3.2" stroke-dasharray="14 9"/>
<path d="M575.3 1578.4C577 1577.8 582.7 1577.8 585.6 1575C588.4 1572.1 590.1 1568.1 592.4 1561.3C594.6 1554.5 596.6 1542.9 599.2 1534.1C601.7 1525.3 604.9 1514.7 607.7 1508.6C610.5 1502.4 613.7 1499.4 616.2 1497.3C618.8 1495.2 620.5 1495.2 623 1496C625.6 1496.7 628.1 1499.1 631.5 1501.7C634.9 1504.4 639.2 1509.5 643.4 1512C647.7 1514.4 651.1 1515.7 657.1 1516.4C663 1517.1 671.8 1516.3 679.2 1516.4C686.6 1516.5 694.8 1517 701.3 1517.1C707.9 1517.2 713.3 1518.2 718.4 1517.1C723.5 1515.9 727.7 1513.7 732 1510.3C736.2 1506.9 740.5 1500.9 743.9 1496.6C747.3 1492.4 749.7 1487.3 752.4 1484.7C755.1 1482.2 757.6 1480.5 759.9 1481.3C762.2 1482.2 764.2 1485 766 1489.8C767.9 1494.7 769.4 1502.3 771.1 1510.3C772.8 1518.2 774.5 1529 776.3 1537.5C778 1546 779.4 1555.1 781.4 1561.3C783.3 1567.6 785.6 1572.1 788.2 1575C790.7 1577.8 795.3 1577.8 796.7 1578.4Z" fill="#e7558a" fill-opacity="0.7"/>
<path d="M575.3 1578.4C577 1577.8 582.7 1577.8 585.6 1575C588.4 1572.1 590.1 1568.1 592.4 1561.3C594.6 1554.5 596.6 1542.9 599.2 1534.1C601.7 1525.3 604.9 1514.7 607.7 1508.6C610.5 1502.4 613.7 1499.4 616.2 1497.3C618.8 1495.2 620.5 1495.2 623 1496C625.6 1496.7 628.1 1499.1 631.5 1501.7C634.9 1504.4 639.2 1509.5 643.4 1512C647.7 1514.4 651.1 1515.7 657.1 1516.4C663 1517.1 671.8 1516.3 679.2 1516.4C686.6 1516.5 694.8 1517 701.3 1517.1C707.9 1517.2 713.3 1518.2 718.4 1517.1C723.5 1515.9 727.7 1513.7 732 1510.3C736.2 1506.9 740.5 1500.9 743.9 1496.6C747.3 1492.4 749.7 1487.3 752.4 1484.7C755.1 1482.2 757.6 1480.5 759.9 1481.3C762.2 1482.2 764.2 1485 766 1489.8C767.9 1494.7 769.4 1502.3 771.1 1510.3C772.8 1518.2 774.5 1529 776.3 1537.5C778 1546 779.4 1555.1 781.4 1561.3C783.3 1567.6 785.6 1572.1 788.2 1575C790.7 1577.8 795.3 1577.8 796.7 1578.4" fill="none" stroke="#111" stroke-width="1.1"/>
<line x1="565.1" y1="1578.4" x2="807.6" y2="1578.4" stroke="#a9a9a9" stroke-width="1.2"/>
<line x1="688.4" y1="1516.7" x2="688.4" y2="1578.4" stroke="#0a0a0a" stroke-width="3.2"/>
<line x1="679.9" y1="1527.3" x2="679.9" y2="1578.4" stroke="#fff" stroke-width="3.2" stroke-dasharray="14 9"/>
<path d="M575.3 1633.9C577 1633.1 582.2 1633.6 585.6 1629.4C589 1625.3 592.7 1616.4 595.8 1609C598.9 1601.6 601.7 1591.4 604.3 1585.2C606.8 1578.9 608.5 1574.5 611.1 1571.6C613.7 1568.6 616.5 1569.2 619.6 1567.5C622.7 1565.8 626.7 1562.5 629.8 1561.3C633 1560.2 635.5 1560 638.3 1560.7C641.2 1561.3 643.2 1564.7 646.9 1565.4C650.5 1566.1 656.5 1565.1 660.5 1564.7C664.4 1564.3 666.7 1562.6 670.7 1563C674.7 1563.5 679.8 1566.3 684.3 1567.5C688.9 1568.6 692.3 1570 697.9 1569.9C703.6 1569.7 712.4 1568.4 718.4 1566.4C724.3 1564.5 729.1 1561.1 733.7 1557.9C738.2 1554.8 741.9 1550.3 745.6 1547.7C749.3 1545.2 753 1543.2 755.8 1542.6C758.7 1542 760.4 1541.2 762.6 1544.3C764.9 1547.4 767.2 1553.4 769.4 1561.3C771.7 1569.3 774 1582.3 776.3 1592C778.5 1601.6 780.8 1612.7 783.1 1619.2C785.3 1625.8 787.6 1628.7 789.9 1631.1C792.1 1633.6 795.5 1633.4 796.7 1633.9Z" fill="#d32448" fill-opacity="0.7"/>
<path d="M575.3 1633.9C577 1633.1 582.2 1633.6 585.6 1629.4C589 1625.3 592.7 1616.4 595.8 1609C598.9 1601.6 601.7 1591.4 604.3 1585.2C606.8 1578.9 608.5 1574.5 611.1 1571.6C613.7 1568.6 616.5 1569.2 619.6 1567.5C622.7 1565.8 626.7 1562.5 629.8 1561.3C633 1560.2 635.5 1560 638.3 1560.7C641.2 1561.3 643.2 1564.7 646.9 1565.4C650.5 1566.1 656.5 1565.1 660.5 1564.7C664.4 1564.3 666.7 1562.6 670.7 1563C674.7 1563.5 679.8 1566.3 684.3 1567.5C688.9 1568.6 692.3 1570 697.9 1569.9C703.6 1569.7 712.4 1568.4 718.4 1566.4C724.3 1564.5 729.1 1561.1 733.7 1557.9C738.2 1554.8 741.9 1550.3 745.6 1547.7C749.3 1545.2 753 1543.2 755.8 1542.6C758.7 1542 760.4 1541.2 762.6 1544.3C764.9 1547.4 767.2 1553.4 769.4 1561.3C771.7 1569.3 774 1582.3 776.3 1592C778.5 1601.6 780.8 1612.7 783.1 1619.2C785.3 1625.8 787.6 1628.7 789.9 1631.1C792.1 1633.6 795.5 1633.4 796.7 1633.9" fill="none" stroke="#111" stroke-width="1.1"/>
<line x1="565.1" y1="1633.9" x2="807.6" y2="1633.9" stroke="#a9a9a9" stroke-width="1.2"/>
<line x1="693.2" y1="1569" x2="693.2" y2="1633.9" stroke="#0a0a0a" stroke-width="3.2"/>
<line x1="679.9" y1="1582.8" x2="679.9" y2="1633.9" stroke="#fff" stroke-width="3.2" stroke-dasharray="14 9"/>
<path d="M575.3 1689C577.3 1688.2 583.6 1688.2 587.3 1683.9C591 1679.7 594.1 1670.9 597.5 1663.5C600.9 1656.1 604.6 1646.5 607.7 1639.7C610.8 1632.8 613.1 1626.9 616.2 1622.6C619.3 1618.4 622.5 1616.7 626.4 1614.1C630.4 1611.6 634.9 1608.8 640 1607.3C645.2 1605.8 652 1605 657.1 1604.9C662.2 1604.8 666.2 1605.4 670.7 1606.6C675.2 1607.9 679.8 1610.6 684.3 1612.4C688.9 1614.2 693.4 1616.4 697.9 1617.5C702.5 1618.7 707.6 1619.8 711.6 1619.2C715.5 1618.7 718.4 1615.3 721.8 1614.1C725.2 1613 728 1612.2 732 1612.4C736 1612.6 741.9 1615.1 745.6 1615.1C749.3 1615.1 751.4 1612 754.1 1612.4C756.8 1612.8 759.7 1614.1 762 1617.5C764.2 1620.9 765.6 1625.8 767.7 1632.8C769.8 1639.9 772.3 1652.1 774.5 1660.1C776.8 1668 778.8 1676 781.4 1680.5C783.9 1685.1 787.3 1685.9 789.9 1687.3C792.4 1688.7 795.5 1688.7 796.7 1689Z" fill="#921658" fill-opacity="0.7"/>
<path d="M575.3 1689C577.3 1688.2 583.6 1688.2 587.3 1683.9C591 1679.7 594.1 1670.9 597.5 1663.5C600.9 1656.1 604.6 1646.5 607.7 1639.7C610.8 1632.8 613.1 1626.9 616.2 1622.6C619.3 1618.4 622.5 1616.7 626.4 1614.1C630.4 1611.6 634.9 1608.8 640 1607.3C645.2 1605.8 652 1605 657.1 1604.9C662.2 1604.8 666.2 1605.4 670.7 1606.6C675.2 1607.9 679.8 1610.6 684.3 1612.4C688.9 1614.2 693.4 1616.4 697.9 1617.5C702.5 1618.7 707.6 1619.8 711.6 1619.2C715.5 1618.7 718.4 1615.3 721.8 1614.1C725.2 1613 728 1612.2 732 1612.4C736 1612.6 741.9 1615.1 745.6 1615.1C749.3 1615.1 751.4 1612 754.1 1612.4C756.8 1612.8 759.7 1614.1 762 1617.5C764.2 1620.9 765.6 1625.8 767.7 1632.8C769.8 1639.9 772.3 1652.1 774.5 1660.1C776.8 1668 778.8 1676 781.4 1680.5C783.9 1685.1 787.3 1685.9 789.9 1687.3C792.4 1688.7 795.5 1688.7 796.7 1689" fill="none" stroke="#111" stroke-width="1.1"/>
<line x1="565.1" y1="1689" x2="807.6" y2="1689" stroke="#a9a9a9" stroke-width="1.2"/>
<line x1="686" y1="1613.1" x2="686" y2="1689" stroke="#0a0a0a" stroke-width="3.2"/>
<line x1="679.9" y1="1638" x2="679.9" y2="1689" stroke="#fff" stroke-width="3.2" stroke-dasharray="14 9"/>
<path d="M575.3 1744.5C577.3 1743.8 583.6 1743.4 587.3 1740.1C591 1736.8 593.8 1731.3 597.5 1724.8C601.2 1718.3 605.7 1706.9 609.4 1701C613.1 1695 616.2 1691.9 619.6 1689C623 1686.2 625.9 1685.9 629.8 1683.9C633.8 1681.9 638.3 1679.4 643.4 1677.1C648.6 1674.8 654.5 1672.1 660.5 1670.3C666.4 1668.5 673 1666.7 679.2 1666.2C685.4 1665.8 692.5 1668 697.9 1667.6C703.3 1667.1 707.6 1665.6 711.6 1663.5C715.5 1661.4 717.8 1656.8 721.8 1655C725.7 1653.2 730.3 1653.2 735.4 1652.6C740.5 1652 748.2 1650.9 752.4 1651.6C756.7 1652.3 758.4 1653 760.9 1656.7C763.5 1660.4 765.5 1665.2 767.7 1673.7C770 1682.2 772.3 1698.1 774.5 1707.8C776.8 1717.4 778.8 1725.9 781.4 1731.6C783.9 1737.3 787.3 1739.7 789.9 1741.8C792.4 1744 795.5 1744.1 796.7 1744.5Z" fill="#802692" fill-opacity="0.7"/>
<path d="M575.3 1744.5C577.3 1743.8 583.6 1743.4 587.3 1740.1C591 1736.8 593.8 1731.3 597.5 1724.8C601.2 1718.3 605.7 1706.9 609.4 1701C613.1 1695 616.2 1691.9 619.6 1689C623 1686.2 625.9 1685.9 629.8 1683.9C633.8 1681.9 638.3 1679.4 643.4 1677.1C648.6 1674.8 654.5 1672.1 660.5 1670.3C666.4 1668.5 673 1666.7 679.2 1666.2C685.4 1665.8 692.5 1668 697.9 1667.6C703.3 1667.1 707.6 1665.6 711.6 1663.5C715.5 1661.4 717.8 1656.8 721.8 1655C725.7 1653.2 730.3 1653.2 735.4 1652.6C740.5 1652 748.2 1650.9 752.4 1651.6C756.7 1652.3 758.4 1653 760.9 1656.7C763.5 1660.4 765.5 1665.2 767.7 1673.7C770 1682.2 772.3 1698.1 774.5 1707.8C776.8 1717.4 778.8 1725.9 781.4 1731.6C783.9 1737.3 787.3 1739.7 789.9 1741.8C792.4 1744 795.5 1744.1 796.7 1744.5" fill="none" stroke="#111" stroke-width="1.1"/>
<line x1="565.1" y1="1744.5" x2="807.6" y2="1744.5" stroke="#a9a9a9" stroke-width="1.2"/>
<line x1="700" y1="1667" x2="700" y2="1744.5" stroke="#0a0a0a" stroke-width="3.2"/>
<line x1="679.9" y1="1693.5" x2="679.9" y2="1744.5" stroke="#fff" stroke-width="3.2" stroke-dasharray="14 9"/>
<path d="M575.3 1799.7C577.3 1798.9 583.6 1798 587.3 1794.6C591 1791.2 594.1 1785.8 597.5 1779.3C600.9 1772.7 604.6 1761.4 607.7 1755.4C610.8 1749.5 613.1 1746.4 616.2 1743.5C619.3 1740.7 622.5 1740.1 626.4 1738.4C630.4 1736.7 634.4 1735.3 640 1733.3C645.7 1731.3 653.7 1728.5 660.5 1726.5C667.3 1724.5 674.1 1722.3 680.9 1721.4C687.7 1720.4 695.1 1721.6 701.3 1720.7C707.6 1719.9 713.3 1717.6 718.4 1716.3C723.5 1715 726.9 1713.4 732 1712.9C737.1 1712.3 744.5 1712.3 749 1712.9C753.6 1713.4 756.4 1713.7 759.2 1716.3C762.1 1718.8 763.8 1721.1 766 1728.2C768.3 1735.3 770.6 1749.2 772.8 1758.8C775.1 1768.5 777.1 1779.7 779.7 1786.1C782.2 1792.4 785.3 1794.7 788.2 1797C791 1799.2 795.3 1799.2 796.7 1799.7Z" fill="#522391" fill-opacity="0.7"/>
<path d="M575.3 1799.7C577.3 1798.9 583.6 1798 587.3 1794.6C591 1791.2 594.1 1785.8 597.5 1779.3C600.9 1772.7 604.6 1761.4 607.7 1755.4C610.8 1749.5 613.1 1746.4 616.2 1743.5C619.3 1740.7 622.5 1740.1 626.4 1738.4C630.4 1736.7 634.4 1735.3 640 1733.3C645.7 1731.3 653.7 1728.5 660.5 1726.5C667.3 1724.5 674.1 1722.3 680.9 1721.4C687.7 1720.4 695.1 1721.6 701.3 1720.7C707.6 1719.9 713.3 1717.6 718.4 1716.3C723.5 1715 726.9 1713.4 732 1712.9C737.1 1712.3 744.5 1712.3 749 1712.9C753.6 1713.4 756.4 1713.7 759.2 1716.3C762.1 1718.8 763.8 1721.1 766 1728.2C768.3 1735.3 770.6 1749.2 772.8 1758.8C775.1 1768.5 777.1 1779.7 779.7 1786.1C782.2 1792.4 785.3 1794.7 788.2 1797C791 1799.2 795.3 1799.2 796.7 1799.7" fill="none" stroke="#111" stroke-width="1.1"/>
<line x1="565.1" y1="1799.7" x2="807.6" y2="1799.7" stroke="#a9a9a9" stroke-width="1.2"/>
<line x1="696.6" y1="1720.9" x2="696.6" y2="1799.7" stroke="#0a0a0a" stroke-width="3.2"/>
<line x1="679.9" y1="1748.6" x2="679.9" y2="1799.7" stroke="#fff" stroke-width="3.2" stroke-dasharray="14 9"/>
<text x="512.3" y="1467.7" font-size="20.4" fill="#000" stroke="#000" stroke-width="0.4">Control</text>
<text x="512.3" y="1493.2" font-size="20.4" fill="#000" stroke="#000" stroke-width="0.4">Not DE</text>
<text x="507.2" y="1556.2" font-size="20.4" fill="#000" stroke="#000" stroke-width="0.4">Cluster 1</text>
<text x="507.2" y="1617.5" font-size="20.4" fill="#000" stroke="#000" stroke-width="0.4">Cluster 2</text>
<text x="507.2" y="1670.3" font-size="20.4" fill="#000" stroke="#000" stroke-width="0.4">Cluster 3</text>
<text x="507.2" y="1721.4" font-size="20.4" fill="#000" stroke="#000" stroke-width="0.4">Cluster 4</text>
<text x="507.2" y="1786.1" font-size="20.4" fill="#000" stroke="#000" stroke-width="0.4">Cluster 5</text>
<text x="594.1" y="1863" font-size="20" text-anchor="middle" fill="#000" stroke="#000" stroke-width="0.4">-1</text>
<text x="637.3" y="1863" font-size="20" text-anchor="middle" fill="#000" stroke="#000" stroke-width="0.4">-0.5</text>
<text x="679.9" y="1863" font-size="20" text-anchor="middle" fill="#000" stroke="#000" stroke-width="0.4">0</text>
<text x="730.3" y="1863" font-size="20" text-anchor="middle" fill="#000" stroke="#000" stroke-width="0.4">0.5</text>
<text x="775.6" y="1863" font-size="20" text-anchor="middle" fill="#000" stroke="#000" stroke-width="0.4">1</text>
<text x="679.9" y="1893.3" font-size="20.6" text-anchor="middle" font-weight="bold" fill="#000" stroke="#000" stroke-width="0.4">Average</text><text x="679.9" y="1918" font-size="20.6" text-anchor="middle" font-weight="bold" fill="#000" stroke="#000" stroke-width="0.4">correlations</text>
<text x="830.5" y="1413.5" font-size="50" font-weight="bold" fill="#1a1a1a" stroke="#1a1a1a" stroke-width="0.6">j</text>
<text x="963.5" y="1373" font-size="20.6" text-anchor="middle" font-weight="bold" fill="#000" stroke="#000" stroke-width="0.4">Random sample</text><text x="963.5" y="1398" font-size="20.6" text-anchor="middle" font-weight="bold" fill="#000" stroke="#000" stroke-width="0.4">genewise</text><text x="963.5" y="1422.8" font-size="20.6" text-anchor="middle" font-weight="bold" fill="#000" stroke="#000" stroke-width="0.4">correlations</text>
<rect x="883.5" y="1432.6" width="161.8" height="400.1" fill="#fff" stroke="#a6a6a9" stroke-width="1.3"/>
<path d="M891 1813.3V1810.5h1.2V1813.3zM892.5 1813.3V1809.7h1.2V1813.3zM894 1813.3V1808.9h1.2V1813.3zM895.6 1813.3V1807.8h1.2V1813.3zM897.1 1813.3V1806h1.2V1813.3zM898.6 1813.3V1805.3h1.2V1813.3zM900.1 1813.3V1802.6h1.2V1813.3zM901.6 1813.3V1799.9h1.2V1813.3zM903.1 1813.3V1798.1h1.2V1813.3zM904.6 1813.3V1795.2h1.2V1813.3zM906.2 1813.3V1789.6h1.2V1813.3zM907.7 1813.3V1787.4h1.2V1813.3zM909.2 1813.3V1782.9h1.2V1813.3zM910.7 1813.3V1776.1h1.2V1813.3zM912.2 1813.3V1768h1.2V1813.3zM913.7 1813.3V1765.3h1.2V1813.3zM915.3 1813.3V1755.8h1.2V1813.3zM916.8 1813.3V1747h1.2V1813.3zM918.3 1813.3V1731.7h1.2V1813.3zM919.8 1813.3V1725.9h1.2V1813.3zM921.3 1813.3V1708.2h1.2V1813.3zM922.8 1813.3V1707h1.2V1813.3zM924.3 1813.3V1691.5h1.2V1813.3zM925.9 1813.3V1671.5h1.2V1813.3zM927.4 1813.3V1651.4h1.2V1813.3zM928.9 1813.3V1646.8h1.2V1813.3zM930.4 1813.3V1638.1h1.2V1813.3zM931.9 1813.3V1626.5h1.2V1813.3zM933.4 1813.3V1598.8h1.2V1813.3zM935 1813.3V1595.3h1.2V1813.3zM936.5 1813.3V1558.3h1.2V1813.3zM938 1813.3V1542.1h1.2V1813.3zM939.5 1813.3V1555h1.2V1813.3zM941 1813.3V1539h1.2V1813.3zM942.5 1813.3V1504.2h1.2V1813.3zM944 1813.3V1501.4h1.2V1813.3zM945.6 1813.3V1484.8h1.2V1813.3zM947.1 1813.3V1500.2h1.2V1813.3zM948.6 1813.3V1505.9h1.2V1813.3zM950.1 1813.3V1494.7h1.2V1813.3zM951.6 1813.3V1468.2h1.2V1813.3zM953.1 1813.3V1495.1h1.2V1813.3zM954.7 1813.3V1493.8h1.2V1813.3zM956.2 1813.3V1494.7h1.2V1813.3zM957.7 1813.3V1500.7h1.2V1813.3zM959.2 1813.3V1509.1h1.2V1813.3zM960.7 1813.3V1495.2h1.2V1813.3zM962.2 1813.3V1540.4h1.2V1813.3zM963.7 1813.3V1558.2h1.2V1813.3zM965.3 1813.3V1532.9h1.2V1813.3zM966.8 1813.3V1550.3h1.2V1813.3zM968.3 1813.3V1562h1.2V1813.3zM969.8 1813.3V1596.6h1.2V1813.3zM971.3 1813.3V1595.8h1.2V1813.3zM972.8 1813.3V1612.9h1.2V1813.3zM974.3 1813.3V1647.6h1.2V1813.3zM975.9 1813.3V1649.3h1.2V1813.3zM977.4 1813.3V1662.4h1.2V1813.3zM978.9 1813.3V1680.4h1.2V1813.3zM980.4 1813.3V1696.6h1.2V1813.3zM981.9 1813.3V1712.8h1.2V1813.3zM983.4 1813.3V1723.4h1.2V1813.3zM985 1813.3V1735.4h1.2V1813.3zM986.5 1813.3V1746.7h1.2V1813.3zM988 1813.3V1750.3h1.2V1813.3zM989.5 1813.3V1761.2h1.2V1813.3zM991 1813.3V1764.7h1.2V1813.3zM992.5 1813.3V1776.3h1.2V1813.3zM994 1813.3V1777.4h1.2V1813.3zM995.6 1813.3V1783.8h1.2V1813.3zM997.1 1813.3V1787.7h1.2V1813.3zM998.6 1813.3V1792h1.2V1813.3zM1000.1 1813.3V1795.5h1.2V1813.3zM1001.6 1813.3V1799.3h1.2V1813.3zM1003.1 1813.3V1802.8h1.2V1813.3zM1004.7 1813.3V1803.7h1.2V1813.3zM1006.2 1813.3V1806.1h1.2V1813.3zM1007.7 1813.3V1807.4h1.2V1813.3zM1009.2 1813.3V1808.3h1.2V1813.3zM1010.7 1813.3V1809.4h1.2V1813.3zM1012.2 1813.3V1810.3h1.2V1813.3zM1013.7 1813.3V1810.7h1.2V1813.3zM1015.3 1813.3V1811.4h1.2V1813.3zM1016.8 1813.3V1811.9h1.2V1813.3zM1018.3 1813.3V1812.2h1.2V1813.3z" fill="#242424"/>
<line x1="891" y1="1813" x2="1041.2" y2="1813" stroke="#444" stroke-width="0.8" stroke-dasharray="3 5"/>
<text x="878.6" y="1449.2" font-size="20" text-anchor="end" fill="#000" stroke="#000" stroke-width="0.4">350</text>
<text x="878.6" y="1503.6" font-size="20" text-anchor="end" fill="#000" stroke="#000" stroke-width="0.4">300</text>
<text x="878.6" y="1558.1" font-size="20" text-anchor="end" fill="#000" stroke="#000" stroke-width="0.4">250</text>
<text x="878.6" y="1610.9" font-size="20" text-anchor="end" fill="#000" stroke="#000" stroke-width="0.4">200</text>
<text x="878.6" y="1664.4" font-size="20" text-anchor="end" fill="#000" stroke="#000" stroke-width="0.4">150</text>
<text x="878.6" y="1718.2" font-size="20" text-anchor="end" fill="#000" stroke="#000" stroke-width="0.4">100</text>
<text x="878.6" y="1772.7" font-size="20" text-anchor="end" fill="#000" stroke="#000" stroke-width="0.4">50</text>
<text x="878.6" y="1826.5" font-size="20" text-anchor="end" fill="#000" stroke="#000" stroke-width="0.4">0</text>
<text font-size="19" text-anchor="end" fill="#000" stroke="#000" stroke-width="0.4" transform="translate(891.3 1843.3) rotate(-45)" dy="6">-0.2</text>
<text font-size="19" text-anchor="end" fill="#000" stroke="#000" stroke-width="0.4" transform="translate(923.7 1843.3) rotate(-45)" dy="6">-0.1</text>
<text font-size="19" text-anchor="end" fill="#000" stroke="#000" stroke-width="0.4" transform="translate(978.2 1843.3) rotate(-45)" dy="6">0.1</text>
<text font-size="19" text-anchor="end" fill="#000" stroke="#000" stroke-width="0.4" transform="translate(1009.8 1843.3) rotate(-45)" dy="6">0.2</text>
<text font-size="19" text-anchor="end" fill="#000" stroke="#000" stroke-width="0.4" transform="translate(1041.2 1843.3) rotate(-45)" dy="6">0.3</text>
<text x="940.4" y="1862.7" font-size="20" text-anchor="middle" fill="#000" stroke="#000" stroke-width="0.4">0</text>
<line x1="951.6" y1="1459.9" x2="951.6" y2="1832.7" stroke="#4c8ccd" stroke-width="3.8" stroke-dasharray="15 9"/>
<line x1="1022.4" y1="1459.9" x2="1022.4" y2="1832.7" stroke="#de3f96" stroke-width="3.2" stroke-dasharray="15 9"/>
<text font-size="20.6" text-anchor="middle" font-weight="bold" fill="#000" stroke="#000" stroke-width="0.4" transform="translate(838 1629.4) rotate(-90)">Frequency</text>
<text x="953.3" y="1895" font-size="20.6" text-anchor="middle" font-weight="bold" fill="#000" stroke="#000" stroke-width="0.4">Average</text><text x="953.3" y="1920" font-size="20.6" text-anchor="middle" font-weight="bold" fill="#000" stroke="#000" stroke-width="0.4">correlations</text></g>
<g id="pk"><text x="1073.5" y="1413.5" font-size="50" font-weight="bold" fill="#1a1a1a" stroke="#1a1a1a" stroke-width="0.6">k</text>
<text x="1629.8" y="1423.7" font-size="20.8" text-anchor="middle" font-weight="bold" fill="#000" stroke="#000" stroke-width="0.4">Pairwise correlations across animals for each gene cluster</text>
<rect x="1156.1" y="1435.2" width="148" height="123" fill="url(#pkg0)"/>
<text x="1230.1" y="1460.2" font-size="24.6" text-anchor="middle" font-weight="bold" fill="#1d1d1d" stroke="#1d1d1d" stroke-width="0.4">Control</text>
<text x="1230.1" y="1485.2" font-size="24.6" text-anchor="middle" font-weight="bold" fill="#1d1d1d" stroke="#1d1d1d" stroke-width="0.4">Not DE</text>
<g stroke="#333" stroke-width="1.1"><rect x="1156.1" y="1538.8" width="14.8" height="29.4" fill="#faf1f8"/><rect x="1156.1" y="1568.2" width="14.8" height="29.4" fill="#f3f9ee"/><rect x="1170.9" y="1568.2" width="14.8" height="29.4" fill="#f5e2f0"/><rect x="1156.1" y="1597.7" width="14.8" height="29.4" fill="#f3f9ee"/><rect x="1170.9" y="1597.7" width="14.8" height="29.4" fill="#f5e2f0"/><rect x="1185.8" y="1597.7" width="14.8" height="29.4" fill="#b3dc8f"/><rect x="1156.1" y="1627.1" width="14.8" height="29.4" fill="#f3f9ee"/><rect x="1170.9" y="1627.1" width="14.8" height="29.4" fill="#faf1f8"/><rect x="1185.8" y="1627.1" width="14.8" height="29.4" fill="#c6e5aa"/><rect x="1200.6" y="1627.1" width="14.8" height="29.4" fill="#c6e5aa"/><rect x="1156.1" y="1656.6" width="14.8" height="29.4" fill="#ffffff"/><rect x="1170.9" y="1656.6" width="14.8" height="29.4" fill="#faf1f8"/><rect x="1185.8" y="1656.6" width="14.8" height="29.4" fill="#c6e5aa"/><rect x="1200.6" y="1656.6" width="14.8" height="29.4" fill="#c6e5aa"/><rect x="1215.4" y="1656.6" width="14.8" height="29.4" fill="#c6e5aa"/><rect x="1156.1" y="1686" width="14.8" height="29.4" fill="#f3f9ee"/><rect x="1170.9" y="1686" width="14.8" height="29.4" fill="#ffffff"/><rect x="1185.8" y="1686" width="14.8" height="29.4" fill="#e6f3d9"/><rect x="1200.6" y="1686" width="14.8" height="29.4" fill="#e6f3d9"/><rect x="1215.4" y="1686" width="14.8" height="29.4" fill="#e6f3d9"/><rect x="1230.2" y="1686" width="14.8" height="29.4" fill="#e6f3d9"/><rect x="1156.1" y="1715.4" width="14.8" height="29.4" fill="#f3f9ee"/><rect x="1170.9" y="1715.4" width="14.8" height="29.4" fill="#f3f9ee"/><rect x="1185.8" y="1715.4" width="14.8" height="29.4" fill="#e6f3d9"/><rect x="1200.6" y="1715.4" width="14.8" height="29.4" fill="#e6f3d9"/><rect x="1215.4" y="1715.4" width="14.8" height="29.4" fill="#e6f3d9"/><rect x="1230.2" y="1715.4" width="14.8" height="29.4" fill="#f3f9ee"/><rect x="1245.1" y="1715.4" width="14.8" height="29.4" fill="#c6e5aa"/><rect x="1156.1" y="1744.9" width="14.8" height="29.4" fill="#f3f9ee"/><rect x="1170.9" y="1744.9" width="14.8" height="29.4" fill="#f5e2f0"/><rect x="1185.8" y="1744.9" width="14.8" height="29.4" fill="#ffffff"/><rect x="1200.6" y="1744.9" width="14.8" height="29.4" fill="#f3f9ee"/><rect x="1215.4" y="1744.9" width="14.8" height="29.4" fill="#ffffff"/><rect x="1230.2" y="1744.9" width="14.8" height="29.4" fill="#ffffff"/><rect x="1245.1" y="1744.9" width="14.8" height="29.4" fill="#faf1f8"/><rect x="1259.9" y="1744.9" width="14.8" height="29.4" fill="#faf1f8"/><rect x="1156.1" y="1774.3" width="14.8" height="29.4" fill="#faf1f8"/><rect x="1170.9" y="1774.3" width="14.8" height="29.4" fill="#ffffff"/><rect x="1185.8" y="1774.3" width="14.8" height="29.4" fill="#f3f9ee"/><rect x="1200.6" y="1774.3" width="14.8" height="29.4" fill="#f3f9ee"/><rect x="1215.4" y="1774.3" width="14.8" height="29.4" fill="#f3f9ee"/><rect x="1230.2" y="1774.3" width="14.8" height="29.4" fill="#ffffff"/><rect x="1245.1" y="1774.3" width="14.8" height="29.4" fill="#ffffff"/><rect x="1259.9" y="1774.3" width="14.8" height="29.4" fill="#ffffff"/><rect x="1274.7" y="1774.3" width="14.8" height="29.4" fill="#f3f9ee"/><rect x="1156.1" y="1803.8" width="14.8" height="29.4" fill="#ffffff"/><rect x="1170.9" y="1803.8" width="14.8" height="29.4" fill="#e6f3d9"/><rect x="1185.8" y="1803.8" width="14.8" height="29.4" fill="#f0d0e8"/><rect x="1200.6" y="1803.8" width="14.8" height="29.4" fill="#e9b9de"/><rect x="1215.4" y="1803.8" width="14.8" height="29.4" fill="#f0d0e8"/><rect x="1230.2" y="1803.8" width="14.8" height="29.4" fill="#e9b9de"/><rect x="1245.1" y="1803.8" width="14.8" height="29.4" fill="#faf1f8"/><rect x="1259.9" y="1803.8" width="14.8" height="29.4" fill="#f3f9ee"/><rect x="1274.7" y="1803.8" width="14.8" height="29.4" fill="#ffffff"/><rect x="1289.6" y="1803.8" width="14.8" height="29.4" fill="#faf1f8"/></g>
<rect x="1323.8" y="1435.2" width="148" height="142" fill="url(#pkg1)"/>
<text x="1397.8" y="1460.2" font-size="24.6" text-anchor="middle" font-weight="bold" fill="#1d1d1d" stroke="#1d1d1d" stroke-width="0.4">Cluster 1</text>
<g stroke="#333" stroke-width="1.1"><rect x="1323.8" y="1538.8" width="14.8" height="29.4" fill="#e6f3d9"/><rect x="1323.8" y="1568.2" width="14.8" height="29.4" fill="#b3dc8f"/><rect x="1338.6" y="1568.2" width="14.8" height="29.4" fill="#e6f3d9"/><rect x="1323.8" y="1597.7" width="14.8" height="29.4" fill="#faf1f8"/><rect x="1338.6" y="1597.7" width="14.8" height="29.4" fill="#ffffff"/><rect x="1353.5" y="1597.7" width="14.8" height="29.4" fill="#e6f3d9"/><rect x="1323.8" y="1627.1" width="14.8" height="29.4" fill="#e6f3d9"/><rect x="1338.6" y="1627.1" width="14.8" height="29.4" fill="#e6f3d9"/><rect x="1353.5" y="1627.1" width="14.8" height="29.4" fill="#d7edc2"/><rect x="1368.3" y="1627.1" width="14.8" height="29.4" fill="#b3dc8f"/><rect x="1323.8" y="1656.6" width="14.8" height="29.4" fill="#e6f3d9"/><rect x="1338.6" y="1656.6" width="14.8" height="29.4" fill="#f3f9ee"/><rect x="1353.5" y="1656.6" width="14.8" height="29.4" fill="#c6e5aa"/><rect x="1368.3" y="1656.6" width="14.8" height="29.4" fill="#b3dc8f"/><rect x="1383.1" y="1656.6" width="14.8" height="29.4" fill="#d7edc2"/><rect x="1323.8" y="1686" width="14.8" height="29.4" fill="#b3dc8f"/><rect x="1338.6" y="1686" width="14.8" height="29.4" fill="#c6e5aa"/><rect x="1353.5" y="1686" width="14.8" height="29.4" fill="#c6e5aa"/><rect x="1368.3" y="1686" width="14.8" height="29.4" fill="#c6e5aa"/><rect x="1383.1" y="1686" width="14.8" height="29.4" fill="#d7edc2"/><rect x="1398" y="1686" width="14.8" height="29.4" fill="#d7edc2"/><rect x="1323.8" y="1715.4" width="14.8" height="29.4" fill="#b3dc8f"/><rect x="1338.6" y="1715.4" width="14.8" height="29.4" fill="#c6e5aa"/><rect x="1353.5" y="1715.4" width="14.8" height="29.4" fill="#c6e5aa"/><rect x="1368.3" y="1715.4" width="14.8" height="29.4" fill="#d7edc2"/><rect x="1383.1" y="1715.4" width="14.8" height="29.4" fill="#d7edc2"/><rect x="1398" y="1715.4" width="14.8" height="29.4" fill="#e6f3d9"/><rect x="1412.8" y="1715.4" width="14.8" height="29.4" fill="#9bd172"/><rect x="1323.8" y="1744.9" width="14.8" height="29.4" fill="#c6e5aa"/><rect x="1338.6" y="1744.9" width="14.8" height="29.4" fill="#ffffff"/><rect x="1353.5" y="1744.9" width="14.8" height="29.4" fill="#e6f3d9"/><rect x="1368.3" y="1744.9" width="14.8" height="29.4" fill="#b3dc8f"/><rect x="1383.1" y="1744.9" width="14.8" height="29.4" fill="#d7edc2"/><rect x="1398" y="1744.9" width="14.8" height="29.4" fill="#d7edc2"/><rect x="1412.8" y="1744.9" width="14.8" height="29.4" fill="#f3f9ee"/><rect x="1427.6" y="1744.9" width="14.8" height="29.4" fill="#e6f3d9"/><rect x="1323.8" y="1774.3" width="14.8" height="29.4" fill="#ffffff"/><rect x="1338.6" y="1774.3" width="14.8" height="29.4" fill="#d7edc2"/><rect x="1353.5" y="1774.3" width="14.8" height="29.4" fill="#e6f3d9"/><rect x="1368.3" y="1774.3" width="14.8" height="29.4" fill="#e6f3d9"/><rect x="1383.1" y="1774.3" width="14.8" height="29.4" fill="#d7edc2"/><rect x="1398" y="1774.3" width="14.8" height="29.4" fill="#e6f3d9"/><rect x="1412.8" y="1774.3" width="14.8" height="29.4" fill="#e6f3d9"/><rect x="1427.6" y="1774.3" width="14.8" height="29.4" fill="#e6f3d9"/><rect x="1442.4" y="1774.3" width="14.8" height="29.4" fill="#e6f3d9"/><rect x="1323.8" y="1803.8" width="14.8" height="29.4" fill="#c6e5aa"/><rect x="1338.6" y="1803.8" width="14.8" height="29.4" fill="#d7edc2"/><rect x="1353.5" y="1803.8" width="14.8" height="29.4" fill="#f3f9ee"/><rect x="1368.3" y="1803.8" width="14.8" height="29.4" fill="#e9b9de"/><rect x="1383.1" y="1803.8" width="14.8" height="29.4" fill="#e6f3d9"/><rect x="1398" y="1803.8" width="14.8" height="29.4" fill="#e9b9de"/><rect x="1412.8" y="1803.8" width="14.8" height="29.4" fill="#ffffff"/><rect x="1427.6" y="1803.8" width="14.8" height="29.4" fill="#c6e5aa"/><rect x="1442.4" y="1803.8" width="14.8" height="29.4" fill="#e6f3d9"/><rect x="1457.3" y="1803.8" width="14.8" height="29.4" fill="#f3f9ee"/></g>
<rect x="1481.7" y="1435.2" width="148" height="142" fill="url(#pkg2)"/>
<text x="1555.7" y="1460.2" font-size="24.6" text-anchor="middle" font-weight="bold" fill="#1d1d1d" stroke="#1d1d1d" stroke-width="0.4">Cluster 2</text>
<g stroke="#333" stroke-width="1.1"><rect x="1481.7" y="1538.8" width="14.8" height="29.4" fill="#d7edc2"/><rect x="1481.7" y="1568.2" width="14.8" height="29.4" fill="#c6e5aa"/><rect x="1496.5" y="1568.2" width="14.8" height="29.4" fill="#e6f3d9"/><rect x="1481.7" y="1597.7" width="14.8" height="29.4" fill="#e6f3d9"/><rect x="1496.5" y="1597.7" width="14.8" height="29.4" fill="#e6f3d9"/><rect x="1511.4" y="1597.7" width="14.8" height="29.4" fill="#c6e5aa"/><rect x="1481.7" y="1627.1" width="14.8" height="29.4" fill="#e6f3d9"/><rect x="1496.5" y="1627.1" width="14.8" height="29.4" fill="#e6f3d9"/><rect x="1511.4" y="1627.1" width="14.8" height="29.4" fill="#d7edc2"/><rect x="1526.2" y="1627.1" width="14.8" height="29.4" fill="#b3dc8f"/><rect x="1481.7" y="1656.6" width="14.8" height="29.4" fill="#e6f3d9"/><rect x="1496.5" y="1656.6" width="14.8" height="29.4" fill="#f3f9ee"/><rect x="1511.4" y="1656.6" width="14.8" height="29.4" fill="#d7edc2"/><rect x="1526.2" y="1656.6" width="14.8" height="29.4" fill="#b3dc8f"/><rect x="1541" y="1656.6" width="14.8" height="29.4" fill="#c6e5aa"/><rect x="1481.7" y="1686" width="14.8" height="29.4" fill="#f3f9ee"/><rect x="1496.5" y="1686" width="14.8" height="29.4" fill="#d7edc2"/><rect x="1511.4" y="1686" width="14.8" height="29.4" fill="#c6e5aa"/><rect x="1526.2" y="1686" width="14.8" height="29.4" fill="#b3dc8f"/><rect x="1541" y="1686" width="14.8" height="29.4" fill="#c6e5aa"/><rect x="1555.9" y="1686" width="14.8" height="29.4" fill="#d7edc2"/><rect x="1481.7" y="1715.4" width="14.8" height="29.4" fill="#d7edc2"/><rect x="1496.5" y="1715.4" width="14.8" height="29.4" fill="#e6f3d9"/><rect x="1511.4" y="1715.4" width="14.8" height="29.4" fill="#d7edc2"/><rect x="1526.2" y="1715.4" width="14.8" height="29.4" fill="#d7edc2"/><rect x="1541" y="1715.4" width="14.8" height="29.4" fill="#d7edc2"/><rect x="1555.9" y="1715.4" width="14.8" height="29.4" fill="#e6f3d9"/><rect x="1570.7" y="1715.4" width="14.8" height="29.4" fill="#b3dc8f"/><rect x="1481.7" y="1744.9" width="14.8" height="29.4" fill="#b3dc8f"/><rect x="1496.5" y="1744.9" width="14.8" height="29.4" fill="#e6f3d9"/><rect x="1511.4" y="1744.9" width="14.8" height="29.4" fill="#d7edc2"/><rect x="1526.2" y="1744.9" width="14.8" height="29.4" fill="#d7edc2"/><rect x="1541" y="1744.9" width="14.8" height="29.4" fill="#d7edc2"/><rect x="1555.9" y="1744.9" width="14.8" height="29.4" fill="#f3f9ee"/><rect x="1570.7" y="1744.9" width="14.8" height="29.4" fill="#f3f9ee"/><rect x="1585.5" y="1744.9" width="14.8" height="29.4" fill="#e6f3d9"/><rect x="1481.7" y="1774.3" width="14.8" height="29.4" fill="#e6f3d9"/><rect x="1496.5" y="1774.3" width="14.8" height="29.4" fill="#e6f3d9"/><rect x="1511.4" y="1774.3" width="14.8" height="29.4" fill="#d7edc2"/><rect x="1526.2" y="1774.3" width="14.8" height="29.4" fill="#c6e5aa"/><rect x="1541" y="1774.3" width="14.8" height="29.4" fill="#c6e5aa"/><rect x="1555.9" y="1774.3" width="14.8" height="29.4" fill="#d7edc2"/><rect x="1570.7" y="1774.3" width="14.8" height="29.4" fill="#d7edc2"/><rect x="1585.5" y="1774.3" width="14.8" height="29.4" fill="#e6f3d9"/><rect x="1600.3" y="1774.3" width="14.8" height="29.4" fill="#e6f3d9"/><rect x="1481.7" y="1803.8" width="14.8" height="29.4" fill="#9bd172"/><rect x="1496.5" y="1803.8" width="14.8" height="29.4" fill="#e6f3d9"/><rect x="1511.4" y="1803.8" width="14.8" height="29.4" fill="#f3f9ee"/><rect x="1526.2" y="1803.8" width="14.8" height="29.4" fill="#f0d0e8"/><rect x="1541" y="1803.8" width="14.8" height="29.4" fill="#ffffff"/><rect x="1555.9" y="1803.8" width="14.8" height="29.4" fill="#f0d0e8"/><rect x="1570.7" y="1803.8" width="14.8" height="29.4" fill="#ffffff"/><rect x="1585.5" y="1803.8" width="14.8" height="29.4" fill="#e6f3d9"/><rect x="1600.3" y="1803.8" width="14.8" height="29.4" fill="#357f36"/><rect x="1615.2" y="1803.8" width="14.8" height="29.4" fill="#faf1f8"/></g>
<rect x="1639.5" y="1435.2" width="148" height="142" fill="url(#pkg3)"/>
<text x="1713.5" y="1460.2" font-size="24.6" text-anchor="middle" font-weight="bold" fill="#1d1d1d" stroke="#1d1d1d" stroke-width="0.4">Cluster 3</text>
<g stroke="#333" stroke-width="1.1"><rect x="1639.5" y="1538.8" width="14.8" height="29.4" fill="#d7edc2"/><rect x="1639.5" y="1568.2" width="14.8" height="29.4" fill="#d7edc2"/><rect x="1654.3" y="1568.2" width="14.8" height="29.4" fill="#e6f3d9"/><rect x="1639.5" y="1597.7" width="14.8" height="29.4" fill="#c6e5aa"/><rect x="1654.3" y="1597.7" width="14.8" height="29.4" fill="#c6e5aa"/><rect x="1669.2" y="1597.7" width="14.8" height="29.4" fill="#c6e5aa"/><rect x="1639.5" y="1627.1" width="14.8" height="29.4" fill="#d7edc2"/><rect x="1654.3" y="1627.1" width="14.8" height="29.4" fill="#f3f9ee"/><rect x="1669.2" y="1627.1" width="14.8" height="29.4" fill="#c6e5aa"/><rect x="1684" y="1627.1" width="14.8" height="29.4" fill="#9bd172"/><rect x="1639.5" y="1656.6" width="14.8" height="29.4" fill="#c6e5aa"/><rect x="1654.3" y="1656.6" width="14.8" height="29.4" fill="#f3f9ee"/><rect x="1669.2" y="1656.6" width="14.8" height="29.4" fill="#c6e5aa"/><rect x="1684" y="1656.6" width="14.8" height="29.4" fill="#9bd172"/><rect x="1698.8" y="1656.6" width="14.8" height="29.4" fill="#9bd172"/><rect x="1639.5" y="1686" width="14.8" height="29.4" fill="#c6e5aa"/><rect x="1654.3" y="1686" width="14.8" height="29.4" fill="#c6e5aa"/><rect x="1669.2" y="1686" width="14.8" height="29.4" fill="#d7edc2"/><rect x="1684" y="1686" width="14.8" height="29.4" fill="#9bd172"/><rect x="1698.8" y="1686" width="14.8" height="29.4" fill="#9bd172"/><rect x="1713.7" y="1686" width="14.8" height="29.4" fill="#b3dc8f"/><rect x="1639.5" y="1715.4" width="14.8" height="29.4" fill="#c6e5aa"/><rect x="1654.3" y="1715.4" width="14.8" height="29.4" fill="#c6e5aa"/><rect x="1669.2" y="1715.4" width="14.8" height="29.4" fill="#c6e5aa"/><rect x="1684" y="1715.4" width="14.8" height="29.4" fill="#b3dc8f"/><rect x="1698.8" y="1715.4" width="14.8" height="29.4" fill="#b3dc8f"/><rect x="1713.7" y="1715.4" width="14.8" height="29.4" fill="#c6e5aa"/><rect x="1728.5" y="1715.4" width="14.8" height="29.4" fill="#83c457"/><rect x="1639.5" y="1744.9" width="14.8" height="29.4" fill="#e6f3d9"/><rect x="1654.3" y="1744.9" width="14.8" height="29.4" fill="#d7edc2"/><rect x="1669.2" y="1744.9" width="14.8" height="29.4" fill="#d7edc2"/><rect x="1684" y="1744.9" width="14.8" height="29.4" fill="#e6f3d9"/><rect x="1698.8" y="1744.9" width="14.8" height="29.4" fill="#f3f9ee"/><rect x="1713.7" y="1744.9" width="14.8" height="29.4" fill="#ffffff"/><rect x="1728.5" y="1744.9" width="14.8" height="29.4" fill="#f3f9ee"/><rect x="1743.3" y="1744.9" width="14.8" height="29.4" fill="#e6f3d9"/><rect x="1639.5" y="1774.3" width="14.8" height="29.4" fill="#ffffff"/><rect x="1654.3" y="1774.3" width="14.8" height="29.4" fill="#d7edc2"/><rect x="1669.2" y="1774.3" width="14.8" height="29.4" fill="#c6e5aa"/><rect x="1684" y="1774.3" width="14.8" height="29.4" fill="#d7edc2"/><rect x="1698.8" y="1774.3" width="14.8" height="29.4" fill="#d7edc2"/><rect x="1713.7" y="1774.3" width="14.8" height="29.4" fill="#d7edc2"/><rect x="1728.5" y="1774.3" width="14.8" height="29.4" fill="#d7edc2"/><rect x="1743.3" y="1774.3" width="14.8" height="29.4" fill="#e6f3d9"/><rect x="1758.1" y="1774.3" width="14.8" height="29.4" fill="#ffffff"/><rect x="1639.5" y="1803.8" width="14.8" height="29.4" fill="#e6f3d9"/><rect x="1654.3" y="1803.8" width="14.8" height="29.4" fill="#e6f3d9"/><rect x="1669.2" y="1803.8" width="14.8" height="29.4" fill="#f3f9ee"/><rect x="1684" y="1803.8" width="14.8" height="29.4" fill="#faf1f8"/><rect x="1698.8" y="1803.8" width="14.8" height="29.4" fill="#f5e2f0"/><rect x="1713.7" y="1803.8" width="14.8" height="29.4" fill="#e9b9de"/><rect x="1728.5" y="1803.8" width="14.8" height="29.4" fill="#f3f9ee"/><rect x="1743.3" y="1803.8" width="14.8" height="29.4" fill="#f3f9ee"/><rect x="1758.1" y="1803.8" width="14.8" height="29.4" fill="#5aab44"/><rect x="1773" y="1803.8" width="14.8" height="29.4" fill="#f5e2f0"/></g>
<rect x="1797.4" y="1435.2" width="148" height="142" fill="url(#pkg4)"/>
<text x="1871.4" y="1460.2" font-size="24.6" text-anchor="middle" font-weight="bold" fill="#1d1d1d" stroke="#1d1d1d" stroke-width="0.4">Cluster 4</text>
<g stroke="#333" stroke-width="1.1"><rect x="1797.4" y="1538.8" width="14.8" height="29.4" fill="#f3f9ee"/><rect x="1797.4" y="1568.2" width="14.8" height="29.4" fill="#c6e5aa"/><rect x="1812.2" y="1568.2" width="14.8" height="29.4" fill="#f3f9ee"/><rect x="1797.4" y="1597.7" width="14.8" height="29.4" fill="#e6f3d9"/><rect x="1812.2" y="1597.7" width="14.8" height="29.4" fill="#ffffff"/><rect x="1827.1" y="1597.7" width="14.8" height="29.4" fill="#c6e5aa"/><rect x="1797.4" y="1627.1" width="14.8" height="29.4" fill="#e6f3d9"/><rect x="1812.2" y="1627.1" width="14.8" height="29.4" fill="#f3f9ee"/><rect x="1827.1" y="1627.1" width="14.8" height="29.4" fill="#d7edc2"/><rect x="1841.9" y="1627.1" width="14.8" height="29.4" fill="#9bd172"/><rect x="1797.4" y="1656.6" width="14.8" height="29.4" fill="#e6f3d9"/><rect x="1812.2" y="1656.6" width="14.8" height="29.4" fill="#f3f9ee"/><rect x="1827.1" y="1656.6" width="14.8" height="29.4" fill="#d7edc2"/><rect x="1841.9" y="1656.6" width="14.8" height="29.4" fill="#9bd172"/><rect x="1856.7" y="1656.6" width="14.8" height="29.4" fill="#b3dc8f"/><rect x="1797.4" y="1686" width="14.8" height="29.4" fill="#e6f3d9"/><rect x="1812.2" y="1686" width="14.8" height="29.4" fill="#e6f3d9"/><rect x="1827.1" y="1686" width="14.8" height="29.4" fill="#d7edc2"/><rect x="1841.9" y="1686" width="14.8" height="29.4" fill="#b3dc8f"/><rect x="1856.7" y="1686" width="14.8" height="29.4" fill="#d7edc2"/><rect x="1871.6" y="1686" width="14.8" height="29.4" fill="#d7edc2"/><rect x="1797.4" y="1715.4" width="14.8" height="29.4" fill="#d7edc2"/><rect x="1812.2" y="1715.4" width="14.8" height="29.4" fill="#e6f3d9"/><rect x="1827.1" y="1715.4" width="14.8" height="29.4" fill="#e6f3d9"/><rect x="1841.9" y="1715.4" width="14.8" height="29.4" fill="#d7edc2"/><rect x="1856.7" y="1715.4" width="14.8" height="29.4" fill="#e6f3d9"/><rect x="1871.6" y="1715.4" width="14.8" height="29.4" fill="#e6f3d9"/><rect x="1886.4" y="1715.4" width="14.8" height="29.4" fill="#c6e5aa"/><rect x="1797.4" y="1744.9" width="14.8" height="29.4" fill="#e6f3d9"/><rect x="1812.2" y="1744.9" width="14.8" height="29.4" fill="#e6f3d9"/><rect x="1827.1" y="1744.9" width="14.8" height="29.4" fill="#f3f9ee"/><rect x="1841.9" y="1744.9" width="14.8" height="29.4" fill="#e6f3d9"/><rect x="1856.7" y="1744.9" width="14.8" height="29.4" fill="#f3f9ee"/><rect x="1871.6" y="1744.9" width="14.8" height="29.4" fill="#e6f3d9"/><rect x="1886.4" y="1744.9" width="14.8" height="29.4" fill="#d7edc2"/><rect x="1901.2" y="1744.9" width="14.8" height="29.4" fill="#e6f3d9"/><rect x="1797.4" y="1774.3" width="14.8" height="29.4" fill="#e6f3d9"/><rect x="1812.2" y="1774.3" width="14.8" height="29.4" fill="#e6f3d9"/><rect x="1827.1" y="1774.3" width="14.8" height="29.4" fill="#e6f3d9"/><rect x="1841.9" y="1774.3" width="14.8" height="29.4" fill="#e6f3d9"/><rect x="1856.7" y="1774.3" width="14.8" height="29.4" fill="#d7edc2"/><rect x="1871.6" y="1774.3" width="14.8" height="29.4" fill="#d7edc2"/><rect x="1886.4" y="1774.3" width="14.8" height="29.4" fill="#f3f9ee"/><rect x="1901.2" y="1774.3" width="14.8" height="29.4" fill="#e6f3d9"/><rect x="1916" y="1774.3" width="14.8" height="29.4" fill="#e6f3d9"/><rect x="1797.4" y="1803.8" width="14.8" height="29.4" fill="#e6f3d9"/><rect x="1812.2" y="1803.8" width="14.8" height="29.4" fill="#ffffff"/><rect x="1827.1" y="1803.8" width="14.8" height="29.4" fill="#e6f3d9"/><rect x="1841.9" y="1803.8" width="14.8" height="29.4" fill="#83c457"/><rect x="1856.7" y="1803.8" width="14.8" height="29.4" fill="#9bd172"/><rect x="1871.6" y="1803.8" width="14.8" height="29.4" fill="#c6e5aa"/><rect x="1886.4" y="1803.8" width="14.8" height="29.4" fill="#b3dc8f"/><rect x="1901.2" y="1803.8" width="14.8" height="29.4" fill="#d7edc2"/><rect x="1916" y="1803.8" width="14.8" height="29.4" fill="#c6e5aa"/><rect x="1930.9" y="1803.8" width="14.8" height="29.4" fill="#f3f9ee"/></g>
<rect x="1955.1" y="1435.2" width="148" height="142" fill="url(#pkg5)"/>
<text x="2029.1" y="1460.2" font-size="24.6" text-anchor="middle" font-weight="bold" fill="#1d1d1d" stroke="#1d1d1d" stroke-width="0.4">Cluster 5</text>
<g stroke="#333" stroke-width="1.1"><rect x="1955.1" y="1538.8" width="14.8" height="29.4" fill="#f3f9ee"/><rect x="1955.1" y="1568.2" width="14.8" height="29.4" fill="#e6f3d9"/><rect x="1969.9" y="1568.2" width="14.8" height="29.4" fill="#ffffff"/><rect x="1955.1" y="1597.7" width="14.8" height="29.4" fill="#e6f3d9"/><rect x="1969.9" y="1597.7" width="14.8" height="29.4" fill="#faf1f8"/><rect x="1984.8" y="1597.7" width="14.8" height="29.4" fill="#c6e5aa"/><rect x="1955.1" y="1627.1" width="14.8" height="29.4" fill="#d7edc2"/><rect x="1969.9" y="1627.1" width="14.8" height="29.4" fill="#ffffff"/><rect x="1984.8" y="1627.1" width="14.8" height="29.4" fill="#d7edc2"/><rect x="1999.6" y="1627.1" width="14.8" height="29.4" fill="#9bd172"/><rect x="1955.1" y="1656.6" width="14.8" height="29.4" fill="#e6f3d9"/><rect x="1969.9" y="1656.6" width="14.8" height="29.4" fill="#ffffff"/><rect x="1984.8" y="1656.6" width="14.8" height="29.4" fill="#d7edc2"/><rect x="1999.6" y="1656.6" width="14.8" height="29.4" fill="#b3dc8f"/><rect x="2014.4" y="1656.6" width="14.8" height="29.4" fill="#c6e5aa"/><rect x="1955.1" y="1686" width="14.8" height="29.4" fill="#d7edc2"/><rect x="1969.9" y="1686" width="14.8" height="29.4" fill="#e6f3d9"/><rect x="1984.8" y="1686" width="14.8" height="29.4" fill="#d7edc2"/><rect x="1999.6" y="1686" width="14.8" height="29.4" fill="#d7edc2"/><rect x="2014.4" y="1686" width="14.8" height="29.4" fill="#d7edc2"/><rect x="2029.2" y="1686" width="14.8" height="29.4" fill="#d7edc2"/><rect x="1955.1" y="1715.4" width="14.8" height="29.4" fill="#d7edc2"/><rect x="1969.9" y="1715.4" width="14.8" height="29.4" fill="#d7edc2"/><rect x="1984.8" y="1715.4" width="14.8" height="29.4" fill="#f3f9ee"/><rect x="1999.6" y="1715.4" width="14.8" height="29.4" fill="#e6f3d9"/><rect x="2014.4" y="1715.4" width="14.8" height="29.4" fill="#f3f9ee"/><rect x="2029.2" y="1715.4" width="14.8" height="29.4" fill="#e6f3d9"/><rect x="2044.1" y="1715.4" width="14.8" height="29.4" fill="#e6f3d9"/><rect x="1955.1" y="1744.9" width="14.8" height="29.4" fill="#e6f3d9"/><rect x="1969.9" y="1744.9" width="14.8" height="29.4" fill="#f3f9ee"/><rect x="1984.8" y="1744.9" width="14.8" height="29.4" fill="#e6f3d9"/><rect x="1999.6" y="1744.9" width="14.8" height="29.4" fill="#e6f3d9"/><rect x="2014.4" y="1744.9" width="14.8" height="29.4" fill="#e6f3d9"/><rect x="2029.2" y="1744.9" width="14.8" height="29.4" fill="#e6f3d9"/><rect x="2044.1" y="1744.9" width="14.8" height="29.4" fill="#e6f3d9"/><rect x="2058.9" y="1744.9" width="14.8" height="29.4" fill="#e6f3d9"/><rect x="1955.1" y="1774.3" width="14.8" height="29.4" fill="#faf1f8"/><rect x="1969.9" y="1774.3" width="14.8" height="29.4" fill="#ffffff"/><rect x="1984.8" y="1774.3" width="14.8" height="29.4" fill="#e6f3d9"/><rect x="1999.6" y="1774.3" width="14.8" height="29.4" fill="#e6f3d9"/><rect x="2014.4" y="1774.3" width="14.8" height="29.4" fill="#d7edc2"/><rect x="2029.2" y="1774.3" width="14.8" height="29.4" fill="#e6f3d9"/><rect x="2044.1" y="1774.3" width="14.8" height="29.4" fill="#e6f3d9"/><rect x="2058.9" y="1774.3" width="14.8" height="29.4" fill="#f3f9ee"/><rect x="2073.7" y="1774.3" width="14.8" height="29.4" fill="#e6f3d9"/><rect x="1955.1" y="1803.8" width="14.8" height="29.4" fill="#f3f9ee"/><rect x="1969.9" y="1803.8" width="14.8" height="29.4" fill="#ffffff"/><rect x="1984.8" y="1803.8" width="14.8" height="29.4" fill="#d7edc2"/><rect x="1999.6" y="1803.8" width="14.8" height="29.4" fill="#9bd172"/><rect x="2014.4" y="1803.8" width="14.8" height="29.4" fill="#83c457"/><rect x="2029.2" y="1803.8" width="14.8" height="29.4" fill="#c6e5aa"/><rect x="2044.1" y="1803.8" width="14.8" height="29.4" fill="#e6f3d9"/><rect x="2058.9" y="1803.8" width="14.8" height="29.4" fill="#ffffff"/><rect x="2073.7" y="1803.8" width="14.8" height="29.4" fill="#ffffff"/><rect x="2088.6" y="1803.8" width="14.8" height="29.4" fill="#e6f3d9"/></g>
<text x="1145.5" y="1561.5" font-size="20" text-anchor="end" font-weight="bold" fill="#111" stroke="#111" stroke-width="0.4">FW</text>
<g transform="translate(1082 1554.5) scale(0.800)" fill="#0a0a0a" stroke="none"><path d="M-20 2C-20 -3 -12 -5 -4 -5C6 -5 14 -3 20 0C21 2 14 3 8 2C0 1 -6 5 -14 5C-18 5 -20 4 -20 2Z"/></g>
<text x="1145.5" y="1591" font-size="20" text-anchor="end" font-weight="bold" fill="#111" stroke="#111" stroke-width="0.4">CE</text>
<g transform="translate(1082 1584) scale(0.800)" fill="#0a0a0a" stroke="none"><path d="M-21 9C-20 2 -15 0 -10 -1.5C-4 -3 1 -8 8 -8C14 -8 18 0 21 7" fill="none" stroke="#0a0a0a" stroke-width="3" stroke-linecap="round"/></g>
<text x="1145.5" y="1620.4" font-size="20" text-anchor="end" font-weight="bold" fill="#111" stroke="#111" stroke-width="0.4">HD</text>
<g transform="translate(1082 1613.4) scale(0.800)" fill="#0a0a0a" stroke="none"><path d="M-21 1C-21 -5 -12 -7 -2 -7C8 -7 17 -5 21 1C22 3 19 3.5 16 3.5C15 5 15 7 13 7C11 7 11 4.5 10 4C9 4 8 4 7 4C6 6 6 8 4 8C2 8 2 5 1 4.5C-1 4.5 -2 4.5 -3 4.5C-4 6.5 -4 8.5 -6 8.5C-8 8.5 -8 5.5 -9 4.5C-11 4.5 -12 4.5 -13 4C-14 5.5 -14 7 -16 7C-18 6.5 -17 4 -18 3C-20 3 -21 2.5 -21 1Z"/></g>
<text x="1145.5" y="1649.8" font-size="20" text-anchor="end" font-weight="bold" fill="#111" stroke="#111" stroke-width="0.4">DM</text>
<g transform="translate(1082 1642.8) scale(0.800)" fill="#0a0a0a" stroke="none"><ellipse cx="-4" cy="1" rx="9" ry="6"/><circle cx="-14" cy="1" r="4"/><path d="M-2 -3C6 -12 16 -10 18 -5C14 -1 6 0 -2 -3Z" fill="#fff" stroke="#0a0a0a" stroke-width="1.2"/><path d="M-2 3C8 2 16 6 18 10C12 13 4 10 -2 3Z" fill="#fff" stroke="#0a0a0a" stroke-width="1.2"/><path d="M0 -3L16 -7M1 -2L17 -4M0 4L16 9M1 5L14 11M-8 -5l-4 -9M-4 -5l2 -9M-8 7l-5 8M-3 7l1 9M-12 5l-7 6M-12 -3l-7 -6" fill="none" stroke="#0a0a0a" stroke-width="1"/></g>
<text x="1145.5" y="1679.3" font-size="20" text-anchor="end" font-weight="bold" fill="#111" stroke="#111" stroke-width="0.4">SU</text>
<g transform="translate(1082 1672.3) scale(0.800)" fill="#0a0a0a" stroke="none"><circle r="11"/><g stroke="#0a0a0a" stroke-width="1.5"><path d="M0 0L15 0"/><path d="M0 0L14.6 3.3"/><path d="M0 0L13.5 6.5"/><path d="M0 0L11.7 9.4"/><path d="M0 0L9.4 11.7"/><path d="M0 0L6.5 13.5"/><path d="M0 0L3.3 14.6"/><path d="M0 0L0 15"/><path d="M0 0L-3.3 14.6"/><path d="M0 0L-6.5 13.5"/><path d="M0 0L-9.4 11.7"/><path d="M0 0L-11.7 9.4"/><path d="M0 0L-13.5 6.5"/><path d="M0 0L-14.6 3.3"/><path d="M0 0L-15 0"/><path d="M0 0L-14.6 -3.3"/><path d="M0 0L-13.5 -6.5"/><path d="M0 0L-11.7 -9.4"/><path d="M0 0L-9.4 -11.7"/><path d="M0 0L-6.5 -13.5"/><path d="M0 0L-3.3 -14.6"/><path d="M0 0L-0 -15"/><path d="M0 0L3.3 -14.6"/><path d="M0 0L6.5 -13.5"/><path d="M0 0L9.4 -11.7"/><path d="M0 0L11.7 -9.4"/><path d="M0 0L13.5 -6.5"/><path d="M0 0L14.6 -3.3"/></g></g>
<text x="1145.5" y="1708.7" font-size="20" text-anchor="end" font-weight="bold" fill="#111" stroke="#111" stroke-width="0.4">ZF</text>
<g transform="translate(1082 1701.7) scale(0.800)" fill="#0a0a0a" stroke="none"><path d="M-22 1C-16 -5 -4 -6 6 -4L12 -3L21 -8L18 0L21 8L12 3C4 6 -8 7 -16 5C-19 4 -21 3 -22 1Z"/><path d="M-4 -5L2 -9L6 -4Z M-2 6L2 10L6 5Z"/><path d="M-15 0L8 -1" stroke="#fff" stroke-width="1.2" fill="none"/></g>
<text x="1145.5" y="1738.2" font-size="20" text-anchor="end" font-weight="bold" fill="#111" stroke="#111" stroke-width="0.4">NV</text>
<g transform="translate(1082 1731.2) scale(0.800)" fill="#0a0a0a" stroke="none"><path d="M-22 -8C-16 -12 -12 -6 -8 -2C-4 1 2 2 6 2L6 6C0 7 -8 6 -12 2C-16 -1 -20 -2 -22 -8Z"/><path d="M6 3C10 -2 12 -8 10 -14M6 3C12 0 16 -4 18 -10M6 4C12 4 18 2 22 0M6 4C12 7 18 10 22 8M6 5C10 9 12 14 16 17M6 5C8 10 6 15 8 19M10 -8l3 -3M14 -3l4 -1M14 10l1 4" fill="none" stroke="#0a0a0a" stroke-width="1.5" stroke-linecap="round"/></g>
<text x="1145.5" y="1767.6" font-size="20" text-anchor="end" font-weight="bold" fill="#111" stroke="#111" stroke-width="0.4">AQ</text>
<g transform="translate(1082 1760.6) scale(0.800)" fill="#0a0a0a" stroke="none"><path d="M-16 2C-18 -6 -10 -10 -2 -9C6 -10 15 -8 17 -1C19 6 12 10 4 9C-2 9 -6 11 -11 9C-15 8 -16 5 -16 2Z"/><circle cx="-5" cy="-2" r="0.9" fill="#fff"/><circle cx="4" cy="2" r="0.9" fill="#fff"/><circle cx="9" cy="-3" r="0.8" fill="#fff"/></g>
<text x="1145.5" y="1797" font-size="20" text-anchor="end" font-weight="bold" fill="#111" stroke="#111" stroke-width="0.4">ML</text>
<g transform="translate(1082 1790) scale(0.800)" fill="#0a0a0a" stroke="none"><path d="M-16 8C-18 2 -12 -4 -4 -8C2 -11 10 -14 14 -11C15 -7 10 -5 8 -3C14 -5 18 -4 17 0C12 6 2 12 -6 13C-11 14 -15 12 -16 8Z"/></g>
<text x="1145.5" y="1826.5" font-size="20" text-anchor="end" font-weight="bold" fill="#111" stroke="#111" stroke-width="0.4">Cper</text>
<g transform="translate(1083 1819.5) scale(0.780)" fill="#0a0a0a" stroke="none"><circle r="14"/><circle cx="-6" cy="-7" r="4.6" fill="#0a0a0a" stroke="#fff" stroke-width="0.9"/><circle cx="3" cy="-9" r="4.6" fill="#0a0a0a" stroke="#fff" stroke-width="0.9"/><circle cx="9" cy="-3" r="4.6" fill="#0a0a0a" stroke="#fff" stroke-width="0.9"/><circle cx="8" cy="6" r="4.6" fill="#0a0a0a" stroke="#fff" stroke-width="0.9"/><circle cx="0" cy="10" r="4.6" fill="#0a0a0a" stroke="#fff" stroke-width="0.9"/><circle cx="-8" cy="6" r="4.6" fill="#0a0a0a" stroke="#fff" stroke-width="0.9"/><circle cx="-10" cy="-1" r="4.6" fill="#0a0a0a" stroke="#fff" stroke-width="0.9"/><circle cx="0" cy="0" r="4.6" fill="#0a0a0a" stroke="#fff" stroke-width="0.9"/><circle cx="-3" cy="4" r="4.6" fill="#0a0a0a" stroke="#fff" stroke-width="0.9"/><circle cx="4" cy="3" r="4.6" fill="#0a0a0a" stroke="#fff" stroke-width="0.9"/></g>
<text font-size="19.5" font-weight="bold" fill="#111" stroke="#111" stroke-width="0.4" transform="translate(1162.1 1532.3) rotate(-45)" dy="6">PT</text>
<text font-size="19.5" font-weight="bold" fill="#111" stroke="#111" stroke-width="0.4" transform="translate(1176.9 1561.7) rotate(-45)" dy="6">FW</text>
<text font-size="19.5" font-weight="bold" fill="#111" stroke="#111" stroke-width="0.4" transform="translate(1191.8 1591.2) rotate(-45)" dy="6">CE</text>
<text font-size="19.5" font-weight="bold" fill="#111" stroke="#111" stroke-width="0.4" transform="translate(1206.6 1620.6) rotate(-45)" dy="6">HD</text>
<text font-size="19.5" font-weight="bold" fill="#111" stroke="#111" stroke-width="0.4" transform="translate(1221.4 1650.1) rotate(-45)" dy="6">DM</text>
<text font-size="19.5" font-weight="bold" fill="#111" stroke="#111" stroke-width="0.4" transform="translate(1236.2 1679.5) rotate(-45)" dy="6">SU</text>
<text font-size="19.5" font-weight="bold" fill="#111" stroke="#111" stroke-width="0.4" transform="translate(1251.1 1708.9) rotate(-45)" dy="6">ZF</text>
<text font-size="19.5" font-weight="bold" fill="#111" stroke="#111" stroke-width="0.4" transform="translate(1265.9 1738.4) rotate(-45)" dy="6">NV</text>
<text font-size="19.5" font-weight="bold" fill="#111" stroke="#111" stroke-width="0.4" transform="translate(1280.7 1767.8) rotate(-45)" dy="6">AQ</text>
<text font-size="19.5" font-weight="bold" fill="#111" stroke="#111" stroke-width="0.4" transform="translate(1295.6 1797.3) rotate(-45)" dy="6">ML</text>
<g transform="translate(1196 1509.5) scale(1.000)" fill="#0a0a0a" stroke="none"><circle cx="-4.5" cy="2.5" r="5.6" fill="none" stroke="#0a0a0a" stroke-width="3.4"/><path d="M-8 -3C-4 -9 4 -11 13 -7" fill="none" stroke="#0a0a0a" stroke-width="4.4" stroke-linecap="round"/><path d="M-4 -9l-1 -3M0 -10.5l0 -3M4 -10.5l1 -3M8 -9.5l2 -3M12 -8l3 -2M13 -5l3 1M9 -5l1 3" stroke="#0a0a0a" stroke-width="1"/></g>
<rect x="1154.6" y="1845.7" width="189.4" height="18.1" fill="url(#pkcb)"/>
<text x="1146.8" y="1883.5" font-size="20" text-anchor="middle" fill="#000" stroke="#000" stroke-width="0.4">−0.5</text>
<text x="1201.4" y="1883.5" font-size="20" text-anchor="middle" fill="#000" stroke="#000" stroke-width="0.4">−0.25</text>
<text x="1248.8" y="1883.5" font-size="20" text-anchor="middle" fill="#000" stroke="#000" stroke-width="0.4">0</text>
<text x="1291.9" y="1883.5" font-size="20" text-anchor="middle" fill="#000" stroke="#000" stroke-width="0.4">0.25</text>
<text x="1338.7" y="1883.5" font-size="20" text-anchor="middle" fill="#000" stroke="#000" stroke-width="0.4">0.5</text></g>
<g id="pl"><text x="9" y="1961" font-size="50" font-weight="bold" fill="#1a1a1a" stroke="#1a1a1a" stroke-width="0.6">l</text>
<text x="161.8" y="1979.5" font-size="24.8" text-anchor="middle" fill="#000" stroke="#000" stroke-width="0.4">Dynein regulatory</text>
<text x="161.8" y="2001" font-size="24.8" text-anchor="middle" fill="#000" stroke="#000" stroke-width="0.4">complex subunit 4</text>
<g stroke="#262626" stroke-width="0.95"><rect x="67.4" y="2012.6" width="31.5" height="34.7" fill="#222d63"/><rect x="98.9" y="2012.6" width="31.5" height="34.7" fill="#6a6e7f"/><rect x="130.3" y="2012.6" width="31.5" height="34.7" fill="#a09c79"/><rect x="161.8" y="2012.6" width="31.5" height="34.7" fill="#bcb56f"/><rect x="193.3" y="2012.6" width="31.5" height="34.7" fill="#d9d064"/><rect x="224.7" y="2012.6" width="31.5" height="34.7" fill="#bcb56f"/><rect x="67.4" y="2047.3" width="31.5" height="34.7" fill="#a09c79"/><rect x="98.9" y="2047.3" width="31.5" height="34.7" fill="#2c3f7e"/><rect x="130.3" y="2047.3" width="31.5" height="34.7" fill="#525c7b"/><rect x="161.8" y="2047.3" width="31.5" height="34.7" fill="#bcb56f"/><rect x="193.3" y="2047.3" width="31.5" height="34.7" fill="#ece957"/><rect x="224.7" y="2047.3" width="31.5" height="34.7" fill="#bcb56f"/><rect x="67.4" y="2082.1" width="31.5" height="34.7" fill="#fff"/><path d="M67.4 2116.8L98.9 2082.1M67.4 2099.4L83.1 2082.1M83.1 2116.8L98.9 2099.4" fill="none" stroke-width="1.15"/><rect x="98.9" y="2082.1" width="31.5" height="34.7" fill="#fff"/><path d="M98.9 2116.8L130.3 2082.1M98.9 2099.4L114.6 2082.1M114.6 2116.8L130.3 2099.4" fill="none" stroke-width="1.15"/><rect x="130.3" y="2082.1" width="31.5" height="34.7" fill="#fff"/><path d="M130.3 2116.8L161.8 2082.1M130.3 2099.4L146.1 2082.1M146.1 2116.8L161.8 2099.4" fill="none" stroke-width="1.15"/><rect x="161.8" y="2082.1" width="31.5" height="34.7" fill="#fff"/><path d="M161.8 2116.8L193.3 2082.1M161.8 2099.4L177.5 2082.1M177.5 2116.8L193.3 2099.4" fill="none" stroke-width="1.15"/><rect x="193.3" y="2082.1" width="31.5" height="34.7" fill="#fff"/><path d="M193.3 2116.8L224.7 2082.1M193.3 2099.4L209 2082.1M209 2116.8L224.7 2099.4" fill="none" stroke-width="1.15"/><rect x="224.7" y="2082.1" width="31.5" height="34.7" fill="#fff"/><path d="M224.7 2116.8L256.2 2082.1M224.7 2099.4L240.5 2082.1M240.5 2116.8L256.2 2099.4" fill="none" stroke-width="1.15"/><rect x="67.4" y="2116.8" width="31.5" height="34.7" fill="#fff"/><path d="M67.4 2151.6L98.9 2116.8M67.4 2134.2L83.1 2116.8M83.1 2151.6L98.9 2134.2" fill="none" stroke-width="1.15"/><rect x="98.9" y="2116.8" width="31.5" height="34.7" fill="#fff"/><path d="M98.9 2151.6L130.3 2116.8M98.9 2134.2L114.6 2116.8M114.6 2151.6L130.3 2134.2" fill="none" stroke-width="1.15"/><rect x="130.3" y="2116.8" width="31.5" height="34.7" fill="#fff"/><path d="M130.3 2151.6L161.8 2116.8M130.3 2134.2L146.1 2116.8M146.1 2151.6L161.8 2134.2" fill="none" stroke-width="1.15"/><rect x="161.8" y="2116.8" width="31.5" height="34.7" fill="#fff"/><path d="M161.8 2151.6L193.3 2116.8M161.8 2134.2L177.5 2116.8M177.5 2151.6L193.3 2134.2" fill="none" stroke-width="1.15"/><rect x="193.3" y="2116.8" width="31.5" height="34.7" fill="#fff"/><path d="M193.3 2151.6L224.7 2116.8M193.3 2134.2L209 2116.8M209 2151.6L224.7 2134.2" fill="none" stroke-width="1.15"/><rect x="224.7" y="2116.8" width="31.5" height="34.7" fill="#fff"/><path d="M224.7 2151.6L256.2 2116.8M224.7 2134.2L240.5 2116.8M240.5 2151.6L256.2 2134.2" fill="none" stroke-width="1.15"/><rect x="67.4" y="2151.6" width="31.5" height="34.7" fill="#fff"/><path d="M67.4 2186.3L98.9 2151.6M67.4 2168.9L83.1 2151.6M83.1 2186.3L98.9 2168.9" fill="none" stroke-width="1.15"/><rect x="98.9" y="2151.6" width="31.5" height="34.7" fill="#fff"/><path d="M98.9 2186.3L130.3 2151.6M98.9 2168.9L114.6 2151.6M114.6 2186.3L130.3 2168.9" fill="none" stroke-width="1.15"/><rect x="130.3" y="2151.6" width="31.5" height="34.7" fill="#fff"/><path d="M130.3 2186.3L161.8 2151.6M130.3 2168.9L146.1 2151.6M146.1 2186.3L161.8 2168.9" fill="none" stroke-width="1.15"/><rect x="161.8" y="2151.6" width="31.5" height="34.7" fill="#fff"/><path d="M161.8 2186.3L193.3 2151.6M161.8 2168.9L177.5 2151.6M177.5 2186.3L193.3 2168.9" fill="none" stroke-width="1.15"/><rect x="193.3" y="2151.6" width="31.5" height="34.7" fill="#fff"/><path d="M193.3 2186.3L224.7 2151.6M193.3 2168.9L209 2151.6M209 2186.3L224.7 2168.9" fill="none" stroke-width="1.15"/><rect x="224.7" y="2151.6" width="31.5" height="34.7" fill="#fff"/><path d="M224.7 2186.3L256.2 2151.6M224.7 2168.9L240.5 2151.6M240.5 2186.3L256.2 2168.9" fill="none" stroke-width="1.15"/><rect x="67.4" y="2186.3" width="31.5" height="34.7" fill="#222d63"/><rect x="98.9" y="2186.3" width="31.5" height="34.7" fill="#858584"/><rect x="130.3" y="2186.3" width="31.5" height="34.7" fill="#bcb56f"/><rect x="161.8" y="2186.3" width="31.5" height="34.7" fill="#a09c79"/><rect x="193.3" y="2186.3" width="31.5" height="34.7" fill="#d9d064"/><rect x="224.7" y="2186.3" width="31.5" height="34.7" fill="#858584"/><rect x="67.4" y="2221" width="31.5" height="34.7" fill="#6a6e7f"/><rect x="98.9" y="2221" width="31.5" height="34.7" fill="#ece957"/><rect x="130.3" y="2221" width="31.5" height="34.7" fill="#ece957"/><rect x="161.8" y="2221" width="31.5" height="34.7" fill="#6a6e7f"/><rect x="193.3" y="2221" width="31.5" height="34.7" fill="#6a6e7f"/><rect x="224.7" y="2221" width="31.5" height="34.7" fill="#6a6e7f"/><rect x="67.4" y="2263.8" width="31.5" height="35" fill="#bcb56f"/><rect x="98.9" y="2263.8" width="31.5" height="35" fill="#2c3f7e"/><rect x="130.3" y="2263.8" width="31.5" height="35" fill="#525c7b"/><rect x="161.8" y="2263.8" width="31.5" height="35" fill="#d9d064"/><rect x="193.3" y="2263.8" width="31.5" height="35" fill="#ece957"/><rect x="224.7" y="2263.8" width="31.5" height="35" fill="#858584"/><rect x="67.4" y="2298.8" width="31.5" height="35" fill="#3c4f84"/><rect x="98.9" y="2298.8" width="31.5" height="35" fill="#525c7b"/><rect x="130.3" y="2298.8" width="31.5" height="35" fill="#858584"/><rect x="161.8" y="2298.8" width="31.5" height="35" fill="#bcb56f"/><rect x="193.3" y="2298.8" width="31.5" height="35" fill="#d9d064"/><rect x="224.7" y="2298.8" width="31.5" height="35" fill="#d9d064"/><rect x="67.4" y="2333.8" width="31.5" height="35" fill="#525c7b"/><rect x="98.9" y="2333.8" width="31.5" height="35" fill="#6a6e7f"/><rect x="130.3" y="2333.8" width="31.5" height="35" fill="#525c7b"/><rect x="161.8" y="2333.8" width="31.5" height="35" fill="#ece957"/><rect x="193.3" y="2333.8" width="31.5" height="35" fill="#ece957"/><rect x="224.7" y="2333.8" width="31.5" height="35" fill="#a09c79"/><rect x="67.4" y="2405.8" width="31.5" height="34.8" fill="#2c3f7e"/><rect x="98.9" y="2405.8" width="31.5" height="34.8" fill="#a09c79"/><rect x="130.3" y="2405.8" width="31.5" height="34.8" fill="#bcb56f"/><rect x="161.8" y="2405.8" width="31.5" height="34.8" fill="#d9d064"/><rect x="193.3" y="2405.8" width="31.5" height="34.8" fill="#d9d064"/><rect x="224.7" y="2405.8" width="31.5" height="34.8" fill="#bcb56f"/></g>
<text x="345.3" y="2003" font-size="24.8" text-anchor="middle" fill="#000" stroke="#000" stroke-width="0.4">PKAc-α</text>
<g stroke="#262626" stroke-width="0.95"><rect x="261.9" y="2012.6" width="30.1" height="34.7" fill="#858584"/><rect x="292" y="2012.6" width="30.1" height="34.7" fill="#bcb56f"/><rect x="322.1" y="2012.6" width="30.1" height="34.7" fill="#bcb56f"/><rect x="352.2" y="2012.6" width="30.1" height="34.7" fill="#222d63"/><rect x="382.3" y="2012.6" width="30.1" height="34.7" fill="#525c7b"/><rect x="412.4" y="2012.6" width="30.1" height="34.7" fill="#858584"/><rect x="261.9" y="2047.3" width="30.1" height="34.7" fill="#858584"/><rect x="292" y="2047.3" width="30.1" height="34.7" fill="#858584"/><rect x="322.1" y="2047.3" width="30.1" height="34.7" fill="#858584"/><rect x="352.2" y="2047.3" width="30.1" height="34.7" fill="#858584"/><rect x="382.3" y="2047.3" width="30.1" height="34.7" fill="#3c4f84"/><rect x="412.4" y="2047.3" width="30.1" height="34.7" fill="#bcb56f"/><rect x="261.9" y="2082.1" width="30.1" height="34.7" fill="#fff"/><path d="M261.9 2116.8L292 2082.1M261.9 2099.4L276.9 2082.1M276.9 2116.8L292 2099.4" fill="none" stroke-width="1.15"/><rect x="292" y="2082.1" width="30.1" height="34.7" fill="#fff"/><path d="M292 2116.8L322.1 2082.1M292 2099.4L307 2082.1M307 2116.8L322.1 2099.4" fill="none" stroke-width="1.15"/><rect x="322.1" y="2082.1" width="30.1" height="34.7" fill="#fff"/><path d="M322.1 2116.8L352.2 2082.1M322.1 2099.4L337.1 2082.1M337.1 2116.8L352.2 2099.4" fill="none" stroke-width="1.15"/><rect x="352.2" y="2082.1" width="30.1" height="34.7" fill="#fff"/><path d="M352.2 2116.8L382.3 2082.1M352.2 2099.4L367.2 2082.1M367.2 2116.8L382.3 2099.4" fill="none" stroke-width="1.15"/><rect x="382.3" y="2082.1" width="30.1" height="34.7" fill="#fff"/><path d="M382.3 2116.8L412.4 2082.1M382.3 2099.4L397.3 2082.1M397.3 2116.8L412.4 2099.4" fill="none" stroke-width="1.15"/><rect x="412.4" y="2082.1" width="30.1" height="34.7" fill="#fff"/><path d="M412.4 2116.8L442.5 2082.1M412.4 2099.4L427.4 2082.1M427.4 2116.8L442.5 2099.4" fill="none" stroke-width="1.15"/><rect x="261.9" y="2116.8" width="30.1" height="34.7" fill="#fff"/><path d="M261.9 2151.6L292 2116.8M261.9 2134.2L276.9 2116.8M276.9 2151.6L292 2134.2" fill="none" stroke-width="1.15"/><rect x="292" y="2116.8" width="30.1" height="34.7" fill="#fff"/><path d="M292 2151.6L322.1 2116.8M292 2134.2L307 2116.8M307 2151.6L322.1 2134.2" fill="none" stroke-width="1.15"/><rect x="322.1" y="2116.8" width="30.1" height="34.7" fill="#fff"/><path d="M322.1 2151.6L352.2 2116.8M322.1 2134.2L337.1 2116.8M337.1 2151.6L352.2 2134.2" fill="none" stroke-width="1.15"/><rect x="352.2" y="2116.8" width="30.1" height="34.7" fill="#fff"/><path d="M352.2 2151.6L382.3 2116.8M352.2 2134.2L367.2 2116.8M367.2 2151.6L382.3 2134.2" fill="none" stroke-width="1.15"/><rect x="382.3" y="2116.8" width="30.1" height="34.7" fill="#fff"/><path d="M382.3 2151.6L412.4 2116.8M382.3 2134.2L397.3 2116.8M397.3 2151.6L412.4 2134.2" fill="none" stroke-width="1.15"/><rect x="412.4" y="2116.8" width="30.1" height="34.7" fill="#fff"/><path d="M412.4 2151.6L442.5 2116.8M412.4 2134.2L427.4 2116.8M427.4 2151.6L442.5 2134.2" fill="none" stroke-width="1.15"/><rect x="261.9" y="2151.6" width="30.1" height="34.7" fill="#bcb56f"/><rect x="292" y="2151.6" width="30.1" height="34.7" fill="#a09c79"/><rect x="322.1" y="2151.6" width="30.1" height="34.7" fill="#2c3f7e"/><rect x="352.2" y="2151.6" width="30.1" height="34.7" fill="#2c3f7e"/><rect x="382.3" y="2151.6" width="30.1" height="34.7" fill="#bcb56f"/><rect x="412.4" y="2151.6" width="30.1" height="34.7" fill="#6a6e7f"/><rect x="261.9" y="2186.3" width="30.1" height="34.7" fill="#d9d064"/><rect x="292" y="2186.3" width="30.1" height="34.7" fill="#a09c79"/><rect x="322.1" y="2186.3" width="30.1" height="34.7" fill="#858584"/><rect x="352.2" y="2186.3" width="30.1" height="34.7" fill="#3c4f84"/><rect x="382.3" y="2186.3" width="30.1" height="34.7" fill="#6a6e7f"/><rect x="412.4" y="2186.3" width="30.1" height="34.7" fill="#525c7b"/><rect x="261.9" y="2221" width="30.1" height="34.7" fill="#a09c79"/><rect x="292" y="2221" width="30.1" height="34.7" fill="#a09c79"/><rect x="322.1" y="2221" width="30.1" height="34.7" fill="#2c3f7e"/><rect x="352.2" y="2221" width="30.1" height="34.7" fill="#bcb56f"/><rect x="382.3" y="2221" width="30.1" height="34.7" fill="#bcb56f"/><rect x="412.4" y="2221" width="30.1" height="34.7" fill="#2c3f7e"/><rect x="261.9" y="2263.8" width="30.1" height="35" fill="#a09c79"/><rect x="292" y="2263.8" width="30.1" height="35" fill="#6a6e7f"/><rect x="322.1" y="2263.8" width="30.1" height="35" fill="#6a6e7f"/><rect x="352.2" y="2263.8" width="30.1" height="35" fill="#a09c79"/><rect x="382.3" y="2263.8" width="30.1" height="35" fill="#6a6e7f"/><rect x="412.4" y="2263.8" width="30.1" height="35" fill="#6a6e7f"/><rect x="261.9" y="2298.8" width="30.1" height="35" fill="#2c3f7e"/><rect x="292" y="2298.8" width="30.1" height="35" fill="#525c7b"/><rect x="322.1" y="2298.8" width="30.1" height="35" fill="#3c4f84"/><rect x="352.2" y="2298.8" width="30.1" height="35" fill="#858584"/><rect x="382.3" y="2298.8" width="30.1" height="35" fill="#d9d064"/><rect x="412.4" y="2298.8" width="30.1" height="35" fill="#d9d064"/><rect x="261.9" y="2333.8" width="30.1" height="35" fill="#3c4f84"/><rect x="292" y="2333.8" width="30.1" height="35" fill="#525c7b"/><rect x="322.1" y="2333.8" width="30.1" height="35" fill="#2c3f7e"/><rect x="352.2" y="2333.8" width="30.1" height="35" fill="#a09c79"/><rect x="382.3" y="2333.8" width="30.1" height="35" fill="#a09c79"/><rect x="412.4" y="2333.8" width="30.1" height="35" fill="#ece957"/><rect x="261.9" y="2405.8" width="30.1" height="34.8" fill="#2c3f7e"/><rect x="292" y="2405.8" width="30.1" height="34.8" fill="#858584"/><rect x="322.1" y="2405.8" width="30.1" height="34.8" fill="#a09c79"/><rect x="352.2" y="2405.8" width="30.1" height="34.8" fill="#a09c79"/><rect x="382.3" y="2405.8" width="30.1" height="34.8" fill="#a09c79"/><rect x="412.4" y="2405.8" width="30.1" height="34.8" fill="#a09c79"/></g>
<text x="533.3" y="2003" font-size="24.8" text-anchor="middle" fill="#000" stroke="#000" stroke-width="0.4">Vinculin</text>
<g stroke="#262626" stroke-width="0.95"><rect x="450.3" y="2012.6" width="29.8" height="34.7" fill="#fff"/><path d="M450.3 2047.3L480.1 2012.6M450.3 2030L465.2 2012.6M465.2 2047.3L480.1 2030" fill="none" stroke-width="1.15"/><rect x="480.1" y="2012.6" width="29.8" height="34.7" fill="#fff"/><path d="M480.1 2047.3L510 2012.6M480.1 2030L495.1 2012.6M495.1 2047.3L510 2030" fill="none" stroke-width="1.15"/><rect x="510" y="2012.6" width="29.8" height="34.7" fill="#fff"/><path d="M510 2047.3L539.8 2012.6M510 2030L524.9 2012.6M524.9 2047.3L539.8 2030" fill="none" stroke-width="1.15"/><rect x="539.8" y="2012.6" width="29.8" height="34.7" fill="#fff"/><path d="M539.8 2047.3L569.6 2012.6M539.8 2030L554.7 2012.6M554.7 2047.3L569.6 2030" fill="none" stroke-width="1.15"/><rect x="569.6" y="2012.6" width="29.8" height="34.7" fill="#fff"/><path d="M569.6 2047.3L599.5 2012.6M569.6 2030L584.5 2012.6M584.5 2047.3L599.5 2030" fill="none" stroke-width="1.15"/><rect x="599.5" y="2012.6" width="29.8" height="34.7" fill="#fff"/><path d="M599.5 2047.3L629.3 2012.6M599.5 2030L614.4 2012.6M614.4 2047.3L629.3 2030" fill="none" stroke-width="1.15"/><rect x="450.3" y="2047.3" width="29.8" height="34.7" fill="#a09c79"/><rect x="480.1" y="2047.3" width="29.8" height="34.7" fill="#222d63"/><rect x="510" y="2047.3" width="29.8" height="34.7" fill="#a09c79"/><rect x="539.8" y="2047.3" width="29.8" height="34.7" fill="#a09c79"/><rect x="569.6" y="2047.3" width="29.8" height="34.7" fill="#bcb56f"/><rect x="599.5" y="2047.3" width="29.8" height="34.7" fill="#a09c79"/><rect x="450.3" y="2082.1" width="29.8" height="34.7" fill="#fff"/><path d="M450.3 2116.8L480.1 2082.1M450.3 2099.4L465.2 2082.1M465.2 2116.8L480.1 2099.4" fill="none" stroke-width="1.15"/><rect x="480.1" y="2082.1" width="29.8" height="34.7" fill="#fff"/><path d="M480.1 2116.8L510 2082.1M480.1 2099.4L495.1 2082.1M495.1 2116.8L510 2099.4" fill="none" stroke-width="1.15"/><rect x="510" y="2082.1" width="29.8" height="34.7" fill="#fff"/><path d="M510 2116.8L539.8 2082.1M510 2099.4L524.9 2082.1M524.9 2116.8L539.8 2099.4" fill="none" stroke-width="1.15"/><rect x="539.8" y="2082.1" width="29.8" height="34.7" fill="#fff"/><path d="M539.8 2116.8L569.6 2082.1M539.8 2099.4L554.7 2082.1M554.7 2116.8L569.6 2099.4" fill="none" stroke-width="1.15"/><rect x="569.6" y="2082.1" width="29.8" height="34.7" fill="#fff"/><path d="M569.6 2116.8L599.5 2082.1M569.6 2099.4L584.5 2082.1M584.5 2116.8L599.5 2099.4" fill="none" stroke-width="1.15"/><rect x="599.5" y="2082.1" width="29.8" height="34.7" fill="#fff"/><path d="M599.5 2116.8L629.3 2082.1M599.5 2099.4L614.4 2082.1M614.4 2116.8L629.3 2099.4" fill="none" stroke-width="1.15"/><rect x="450.3" y="2116.8" width="29.8" height="34.7" fill="#a09c79"/><rect x="480.1" y="2116.8" width="29.8" height="34.7" fill="#858584"/><rect x="510" y="2116.8" width="29.8" height="34.7" fill="#6a6e7f"/><rect x="539.8" y="2116.8" width="29.8" height="34.7" fill="#d9d064"/><rect x="569.6" y="2116.8" width="29.8" height="34.7" fill="#2c3f7e"/><rect x="599.5" y="2116.8" width="29.8" height="34.7" fill="#a09c79"/><rect x="450.3" y="2151.6" width="29.8" height="34.7" fill="#bcb56f"/><rect x="480.1" y="2151.6" width="29.8" height="34.7" fill="#d9d064"/><rect x="510" y="2151.6" width="29.8" height="34.7" fill="#a09c79"/><rect x="539.8" y="2151.6" width="29.8" height="34.7" fill="#525c7b"/><rect x="569.6" y="2151.6" width="29.8" height="34.7" fill="#525c7b"/><rect x="599.5" y="2151.6" width="29.8" height="34.7" fill="#525c7b"/><rect x="450.3" y="2186.3" width="29.8" height="34.7" fill="#a09c79"/><rect x="480.1" y="2186.3" width="29.8" height="34.7" fill="#a09c79"/><rect x="510" y="2186.3" width="29.8" height="34.7" fill="#a09c79"/><rect x="539.8" y="2186.3" width="29.8" height="34.7" fill="#525c7b"/><rect x="569.6" y="2186.3" width="29.8" height="34.7" fill="#6a6e7f"/><rect x="599.5" y="2186.3" width="29.8" height="34.7" fill="#858584"/><rect x="450.3" y="2221" width="29.8" height="34.7" fill="#d9d064"/><rect x="480.1" y="2221" width="29.8" height="34.7" fill="#d9d064"/><rect x="510" y="2221" width="29.8" height="34.7" fill="#6a6e7f"/><rect x="539.8" y="2221" width="29.8" height="34.7" fill="#6a6e7f"/><rect x="569.6" y="2221" width="29.8" height="34.7" fill="#6a6e7f"/><rect x="599.5" y="2221" width="29.8" height="34.7" fill="#6a6e7f"/><rect x="450.3" y="2263.8" width="29.8" height="35" fill="#858584"/><rect x="480.1" y="2263.8" width="29.8" height="35" fill="#525c7b"/><rect x="510" y="2263.8" width="29.8" height="35" fill="#a09c79"/><rect x="539.8" y="2263.8" width="29.8" height="35" fill="#a09c79"/><rect x="569.6" y="2263.8" width="29.8" height="35" fill="#a09c79"/><rect x="599.5" y="2263.8" width="29.8" height="35" fill="#6a6e7f"/><rect x="450.3" y="2298.8" width="29.8" height="35" fill="#2c3f7e"/><rect x="480.1" y="2298.8" width="29.8" height="35" fill="#858584"/><rect x="510" y="2298.8" width="29.8" height="35" fill="#6a6e7f"/><rect x="539.8" y="2298.8" width="29.8" height="35" fill="#858584"/><rect x="569.6" y="2298.8" width="29.8" height="35" fill="#d9d064"/><rect x="599.5" y="2298.8" width="29.8" height="35" fill="#bcb56f"/><rect x="450.3" y="2333.8" width="29.8" height="35" fill="#858584"/><rect x="480.1" y="2333.8" width="29.8" height="35" fill="#525c7b"/><rect x="510" y="2333.8" width="29.8" height="35" fill="#525c7b"/><rect x="539.8" y="2333.8" width="29.8" height="35" fill="#525c7b"/><rect x="569.6" y="2333.8" width="29.8" height="35" fill="#a09c79"/><rect x="599.5" y="2333.8" width="29.8" height="35" fill="#ece957"/><rect x="450.3" y="2405.8" width="29.8" height="34.8" fill="#d9d064"/><rect x="480.1" y="2405.8" width="29.8" height="34.8" fill="#bcb56f"/><rect x="510" y="2405.8" width="29.8" height="34.8" fill="#858584"/><rect x="539.8" y="2405.8" width="29.8" height="34.8" fill="#858584"/><rect x="569.6" y="2405.8" width="29.8" height="34.8" fill="#a09c79"/><rect x="599.5" y="2405.8" width="29.8" height="34.8" fill="#858584"/></g>
<text x="724.5" y="2003" font-size="24.8" text-anchor="middle" fill="#000" stroke="#000" stroke-width="0.4">Grancalcin</text>
<g stroke="#262626" stroke-width="0.95"><rect x="637.5" y="2012.6" width="29.8" height="34.7" fill="#bcb56f"/><rect x="667.3" y="2012.6" width="29.8" height="34.7" fill="#ece957"/><rect x="697.2" y="2012.6" width="29.8" height="34.7" fill="#d9d064"/><rect x="727" y="2012.6" width="29.8" height="34.7" fill="#858584"/><rect x="756.8" y="2012.6" width="29.8" height="34.7" fill="#3c4f84"/><rect x="786.7" y="2012.6" width="29.8" height="34.7" fill="#6a6e7f"/><rect x="637.5" y="2047.3" width="29.8" height="34.7" fill="#a09c79"/><rect x="667.3" y="2047.3" width="29.8" height="34.7" fill="#a09c79"/><rect x="697.2" y="2047.3" width="29.8" height="34.7" fill="#6a6e7f"/><rect x="727" y="2047.3" width="29.8" height="34.7" fill="#a09c79"/><rect x="756.8" y="2047.3" width="29.8" height="34.7" fill="#bcb56f"/><rect x="786.7" y="2047.3" width="29.8" height="34.7" fill="#bcb56f"/><rect x="637.5" y="2082.1" width="29.8" height="34.7" fill="#fff"/><path d="M637.5 2116.8L667.3 2082.1M637.5 2099.4L652.4 2082.1M652.4 2116.8L667.3 2099.4" fill="none" stroke-width="1.15"/><rect x="667.3" y="2082.1" width="29.8" height="34.7" fill="#fff"/><path d="M667.3 2116.8L697.2 2082.1M667.3 2099.4L682.2 2082.1M682.2 2116.8L697.2 2099.4" fill="none" stroke-width="1.15"/><rect x="697.2" y="2082.1" width="29.8" height="34.7" fill="#fff"/><path d="M697.2 2116.8L727 2082.1M697.2 2099.4L712.1 2082.1M712.1 2116.8L727 2099.4" fill="none" stroke-width="1.15"/><rect x="727" y="2082.1" width="29.8" height="34.7" fill="#fff"/><path d="M727 2116.8L756.8 2082.1M727 2099.4L741.9 2082.1M741.9 2116.8L756.8 2099.4" fill="none" stroke-width="1.15"/><rect x="756.8" y="2082.1" width="29.8" height="34.7" fill="#fff"/><path d="M756.8 2116.8L786.7 2082.1M756.8 2099.4L771.8 2082.1M771.8 2116.8L786.7 2099.4" fill="none" stroke-width="1.15"/><rect x="786.7" y="2082.1" width="29.8" height="34.7" fill="#fff"/><path d="M786.7 2116.8L816.5 2082.1M786.7 2099.4L801.6 2082.1M801.6 2116.8L816.5 2099.4" fill="none" stroke-width="1.15"/><rect x="637.5" y="2116.8" width="29.8" height="34.7" fill="#d9d064"/><rect x="667.3" y="2116.8" width="29.8" height="34.7" fill="#bcb56f"/><rect x="697.2" y="2116.8" width="29.8" height="34.7" fill="#d9d064"/><rect x="727" y="2116.8" width="29.8" height="34.7" fill="#a09c79"/><rect x="756.8" y="2116.8" width="29.8" height="34.7" fill="#525c7b"/><rect x="786.7" y="2116.8" width="29.8" height="34.7" fill="#3c4f84"/><rect x="637.5" y="2151.6" width="29.8" height="34.7" fill="#3c4f84"/><rect x="667.3" y="2151.6" width="29.8" height="34.7" fill="#525c7b"/><rect x="697.2" y="2151.6" width="29.8" height="34.7" fill="#a09c79"/><rect x="727" y="2151.6" width="29.8" height="34.7" fill="#ece957"/><rect x="756.8" y="2151.6" width="29.8" height="34.7" fill="#ece957"/><rect x="786.7" y="2151.6" width="29.8" height="34.7" fill="#bcb56f"/><rect x="637.5" y="2186.3" width="29.8" height="34.7" fill="#d9d064"/><rect x="667.3" y="2186.3" width="29.8" height="34.7" fill="#bcb56f"/><rect x="697.2" y="2186.3" width="29.8" height="34.7" fill="#bcb56f"/><rect x="727" y="2186.3" width="29.8" height="34.7" fill="#858584"/><rect x="756.8" y="2186.3" width="29.8" height="34.7" fill="#6a6e7f"/><rect x="786.7" y="2186.3" width="29.8" height="34.7" fill="#858584"/><rect x="637.5" y="2221" width="29.8" height="34.7" fill="#222d63"/><rect x="667.3" y="2221" width="29.8" height="34.7" fill="#bcb56f"/><rect x="697.2" y="2221" width="29.8" height="34.7" fill="#bcb56f"/><rect x="727" y="2221" width="29.8" height="34.7" fill="#a09c79"/><rect x="756.8" y="2221" width="29.8" height="34.7" fill="#a09c79"/><rect x="786.7" y="2221" width="29.8" height="34.7" fill="#d9d064"/><rect x="637.5" y="2263.8" width="29.8" height="35" fill="#2c3f7e"/><rect x="667.3" y="2263.8" width="29.8" height="35" fill="#6a6e7f"/><rect x="697.2" y="2263.8" width="29.8" height="35" fill="#d9d064"/><rect x="727" y="2263.8" width="29.8" height="35" fill="#ece957"/><rect x="756.8" y="2263.8" width="29.8" height="35" fill="#d9d064"/><rect x="786.7" y="2263.8" width="29.8" height="35" fill="#a09c79"/><rect x="637.5" y="2298.8" width="29.8" height="35" fill="#3c4f84"/><rect x="667.3" y="2298.8" width="29.8" height="35" fill="#6a6e7f"/><rect x="697.2" y="2298.8" width="29.8" height="35" fill="#858584"/><rect x="727" y="2298.8" width="29.8" height="35" fill="#d9d064"/><rect x="756.8" y="2298.8" width="29.8" height="35" fill="#d9d064"/><rect x="786.7" y="2298.8" width="29.8" height="35" fill="#d9d064"/><rect x="637.5" y="2333.8" width="29.8" height="35" fill="#858584"/><rect x="667.3" y="2333.8" width="29.8" height="35" fill="#a09c79"/><rect x="697.2" y="2333.8" width="29.8" height="35" fill="#ece957"/><rect x="727" y="2333.8" width="29.8" height="35" fill="#858584"/><rect x="756.8" y="2333.8" width="29.8" height="35" fill="#a09c79"/><rect x="786.7" y="2333.8" width="29.8" height="35" fill="#858584"/><rect x="637.5" y="2405.8" width="29.8" height="34.8" fill="#2c3f7e"/><rect x="667.3" y="2405.8" width="29.8" height="34.8" fill="#a09c79"/><rect x="697.2" y="2405.8" width="29.8" height="34.8" fill="#bcb56f"/><rect x="727" y="2405.8" width="29.8" height="34.8" fill="#d9d064"/><rect x="756.8" y="2405.8" width="29.8" height="34.8" fill="#ece957"/><rect x="786.7" y="2405.8" width="29.8" height="34.8" fill="#d9d064"/></g>
<text x="909.2" y="2003" font-size="24.8" text-anchor="middle" fill="#000" stroke="#000" stroke-width="0.4">Rbl1</text>
<g stroke="#262626" stroke-width="0.95"><rect x="824.6" y="2012.6" width="29.8" height="34.7" fill="#525c7b"/><rect x="854.4" y="2012.6" width="29.8" height="34.7" fill="#858584"/><rect x="884.3" y="2012.6" width="29.8" height="34.7" fill="#6a6e7f"/><rect x="914.1" y="2012.6" width="29.8" height="34.7" fill="#2c3f7e"/><rect x="943.9" y="2012.6" width="29.8" height="34.7" fill="#bcb56f"/><rect x="973.8" y="2012.6" width="29.8" height="34.7" fill="#bcb56f"/><rect x="824.6" y="2047.3" width="29.8" height="34.7" fill="#6a6e7f"/><rect x="854.4" y="2047.3" width="29.8" height="34.7" fill="#6a6e7f"/><rect x="884.3" y="2047.3" width="29.8" height="34.7" fill="#222d63"/><rect x="914.1" y="2047.3" width="29.8" height="34.7" fill="#a09c79"/><rect x="943.9" y="2047.3" width="29.8" height="34.7" fill="#a09c79"/><rect x="973.8" y="2047.3" width="29.8" height="34.7" fill="#a09c79"/><rect x="824.6" y="2082.1" width="29.8" height="34.7" fill="#6a6e7f"/><rect x="854.4" y="2082.1" width="29.8" height="34.7" fill="#2c3f7e"/><rect x="884.3" y="2082.1" width="29.8" height="34.7" fill="#6a6e7f"/><rect x="914.1" y="2082.1" width="29.8" height="34.7" fill="#858584"/><rect x="943.9" y="2082.1" width="29.8" height="34.7" fill="#858584"/><rect x="973.8" y="2082.1" width="29.8" height="34.7" fill="#ece957"/><rect x="824.6" y="2116.8" width="29.8" height="34.7" fill="#a09c79"/><rect x="854.4" y="2116.8" width="29.8" height="34.7" fill="#858584"/><rect x="884.3" y="2116.8" width="29.8" height="34.7" fill="#525c7b"/><rect x="914.1" y="2116.8" width="29.8" height="34.7" fill="#2c3f7e"/><rect x="943.9" y="2116.8" width="29.8" height="34.7" fill="#a09c79"/><rect x="973.8" y="2116.8" width="29.8" height="34.7" fill="#d9d064"/><rect x="824.6" y="2151.6" width="29.8" height="34.7" fill="#d9d064"/><rect x="854.4" y="2151.6" width="29.8" height="34.7" fill="#bcb56f"/><rect x="884.3" y="2151.6" width="29.8" height="34.7" fill="#858584"/><rect x="914.1" y="2151.6" width="29.8" height="34.7" fill="#3c4f84"/><rect x="943.9" y="2151.6" width="29.8" height="34.7" fill="#525c7b"/><rect x="973.8" y="2151.6" width="29.8" height="34.7" fill="#525c7b"/><rect x="824.6" y="2186.3" width="29.8" height="34.7" fill="#d9d064"/><rect x="854.4" y="2186.3" width="29.8" height="34.7" fill="#bcb56f"/><rect x="884.3" y="2186.3" width="29.8" height="34.7" fill="#525c7b"/><rect x="914.1" y="2186.3" width="29.8" height="34.7" fill="#2c3f7e"/><rect x="943.9" y="2186.3" width="29.8" height="34.7" fill="#6a6e7f"/><rect x="973.8" y="2186.3" width="29.8" height="34.7" fill="#858584"/><rect x="824.6" y="2221" width="29.8" height="34.7" fill="#3c4f84"/><rect x="854.4" y="2221" width="29.8" height="34.7" fill="#858584"/><rect x="884.3" y="2221" width="29.8" height="34.7" fill="#858584"/><rect x="914.1" y="2221" width="29.8" height="34.7" fill="#858584"/><rect x="943.9" y="2221" width="29.8" height="34.7" fill="#a09c79"/><rect x="973.8" y="2221" width="29.8" height="34.7" fill="#bcb56f"/><rect x="824.6" y="2263.8" width="29.8" height="35" fill="#d9d064"/><rect x="854.4" y="2263.8" width="29.8" height="35" fill="#d9d064"/><rect x="884.3" y="2263.8" width="29.8" height="35" fill="#525c7b"/><rect x="914.1" y="2263.8" width="29.8" height="35" fill="#525c7b"/><rect x="943.9" y="2263.8" width="29.8" height="35" fill="#525c7b"/><rect x="973.8" y="2263.8" width="29.8" height="35" fill="#525c7b"/><rect x="824.6" y="2298.8" width="29.8" height="35" fill="#a09c79"/><rect x="854.4" y="2298.8" width="29.8" height="35" fill="#ece957"/><rect x="884.3" y="2298.8" width="29.8" height="35" fill="#858584"/><rect x="914.1" y="2298.8" width="29.8" height="35" fill="#525c7b"/><rect x="943.9" y="2298.8" width="29.8" height="35" fill="#3c4f84"/><rect x="973.8" y="2298.8" width="29.8" height="35" fill="#525c7b"/><rect x="824.6" y="2333.8" width="29.8" height="35" fill="#bcb56f"/><rect x="854.4" y="2333.8" width="29.8" height="35" fill="#bcb56f"/><rect x="884.3" y="2333.8" width="29.8" height="35" fill="#3c4f84"/><rect x="914.1" y="2333.8" width="29.8" height="35" fill="#2c3f7e"/><rect x="943.9" y="2333.8" width="29.8" height="35" fill="#525c7b"/><rect x="973.8" y="2333.8" width="29.8" height="35" fill="#a09c79"/><rect x="824.6" y="2405.8" width="29.8" height="34.8" fill="#2c3f7e"/><rect x="854.4" y="2405.8" width="29.8" height="34.8" fill="#6a6e7f"/><rect x="884.3" y="2405.8" width="29.8" height="34.8" fill="#a09c79"/><rect x="914.1" y="2405.8" width="29.8" height="34.8" fill="#a09c79"/><rect x="943.9" y="2405.8" width="29.8" height="34.8" fill="#a09c79"/><rect x="973.8" y="2405.8" width="29.8" height="34.8" fill="#a09c79"/></g>
<text x="1101.3" y="1982.5" font-size="24.8" text-anchor="middle" fill="#000" stroke="#000" stroke-width="0.4">LIM-Domain</text>
<text x="1101.3" y="2004" font-size="24.8" text-anchor="middle" fill="#000" stroke="#000" stroke-width="0.4">homeobox</text>
<g stroke="#262626" stroke-width="0.95"><rect x="1011.8" y="2012.6" width="29.9" height="34.7" fill="#222d63"/><rect x="1041.7" y="2012.6" width="29.9" height="34.7" fill="#2c3f7e"/><rect x="1071.6" y="2012.6" width="29.9" height="34.7" fill="#6a6e7f"/><rect x="1101.5" y="2012.6" width="29.9" height="34.7" fill="#a09c79"/><rect x="1131.4" y="2012.6" width="29.9" height="34.7" fill="#bcb56f"/><rect x="1161.3" y="2012.6" width="29.9" height="34.7" fill="#bcb56f"/><rect x="1011.8" y="2047.3" width="29.9" height="34.7" fill="#3c4f84"/><rect x="1041.7" y="2047.3" width="29.9" height="34.7" fill="#525c7b"/><rect x="1071.6" y="2047.3" width="29.9" height="34.7" fill="#858584"/><rect x="1101.5" y="2047.3" width="29.9" height="34.7" fill="#858584"/><rect x="1131.4" y="2047.3" width="29.9" height="34.7" fill="#858584"/><rect x="1161.3" y="2047.3" width="29.9" height="34.7" fill="#a09c79"/><rect x="1011.8" y="2082.1" width="29.9" height="34.7" fill="#222d63"/><rect x="1041.7" y="2082.1" width="29.9" height="34.7" fill="#2c3f7e"/><rect x="1071.6" y="2082.1" width="29.9" height="34.7" fill="#525c7b"/><rect x="1101.5" y="2082.1" width="29.9" height="34.7" fill="#858584"/><rect x="1131.4" y="2082.1" width="29.9" height="34.7" fill="#ece957"/><rect x="1161.3" y="2082.1" width="29.9" height="34.7" fill="#a09c79"/><rect x="1011.8" y="2116.8" width="29.9" height="34.7" fill="#2c3f7e"/><rect x="1041.7" y="2116.8" width="29.9" height="34.7" fill="#3c4f84"/><rect x="1071.6" y="2116.8" width="29.9" height="34.7" fill="#3c4f84"/><rect x="1101.5" y="2116.8" width="29.9" height="34.7" fill="#858584"/><rect x="1131.4" y="2116.8" width="29.9" height="34.7" fill="#bcb56f"/><rect x="1161.3" y="2116.8" width="29.9" height="34.7" fill="#ece957"/><rect x="1011.8" y="2151.6" width="29.9" height="34.7" fill="#222d63"/><rect x="1041.7" y="2151.6" width="29.9" height="34.7" fill="#2c3f7e"/><rect x="1071.6" y="2151.6" width="29.9" height="34.7" fill="#6a6e7f"/><rect x="1101.5" y="2151.6" width="29.9" height="34.7" fill="#a09c79"/><rect x="1131.4" y="2151.6" width="29.9" height="34.7" fill="#a09c79"/><rect x="1161.3" y="2151.6" width="29.9" height="34.7" fill="#a09c79"/><rect x="1011.8" y="2186.3" width="29.9" height="34.7" fill="#858584"/><rect x="1041.7" y="2186.3" width="29.9" height="34.7" fill="#a09c79"/><rect x="1071.6" y="2186.3" width="29.9" height="34.7" fill="#858584"/><rect x="1101.5" y="2186.3" width="29.9" height="34.7" fill="#858584"/><rect x="1131.4" y="2186.3" width="29.9" height="34.7" fill="#525c7b"/><rect x="1161.3" y="2186.3" width="29.9" height="34.7" fill="#6a6e7f"/><rect x="1011.8" y="2221" width="29.9" height="34.7" fill="#2c3f7e"/><rect x="1041.7" y="2221" width="29.9" height="34.7" fill="#6a6e7f"/><rect x="1071.6" y="2221" width="29.9" height="34.7" fill="#525c7b"/><rect x="1101.5" y="2221" width="29.9" height="34.7" fill="#525c7b"/><rect x="1131.4" y="2221" width="29.9" height="34.7" fill="#a09c79"/><rect x="1161.3" y="2221" width="29.9" height="34.7" fill="#ece957"/><rect x="1011.8" y="2263.8" width="29.9" height="35" fill="#222d63"/><rect x="1041.7" y="2263.8" width="29.9" height="35" fill="#525c7b"/><rect x="1071.6" y="2263.8" width="29.9" height="35" fill="#525c7b"/><rect x="1101.5" y="2263.8" width="29.9" height="35" fill="#6a6e7f"/><rect x="1131.4" y="2263.8" width="29.9" height="35" fill="#d9d064"/><rect x="1161.3" y="2263.8" width="29.9" height="35" fill="#bcb56f"/><rect x="1011.8" y="2298.8" width="29.9" height="35" fill="#bcb56f"/><rect x="1041.7" y="2298.8" width="29.9" height="35" fill="#a09c79"/><rect x="1071.6" y="2298.8" width="29.9" height="35" fill="#858584"/><rect x="1101.5" y="2298.8" width="29.9" height="35" fill="#3c4f84"/><rect x="1131.4" y="2298.8" width="29.9" height="35" fill="#858584"/><rect x="1161.3" y="2298.8" width="29.9" height="35" fill="#2c3f7e"/><rect x="1011.8" y="2333.8" width="29.9" height="35" fill="#858584"/><rect x="1041.7" y="2333.8" width="29.9" height="35" fill="#525c7b"/><rect x="1071.6" y="2333.8" width="29.9" height="35" fill="#525c7b"/><rect x="1101.5" y="2333.8" width="29.9" height="35" fill="#d9d064"/><rect x="1131.4" y="2333.8" width="29.9" height="35" fill="#6a6e7f"/><rect x="1161.3" y="2333.8" width="29.9" height="35" fill="#a09c79"/><rect x="1011.8" y="2405.8" width="29.9" height="34.8" fill="#222d63"/><rect x="1041.7" y="2405.8" width="29.9" height="34.8" fill="#2c3f7e"/><rect x="1071.6" y="2405.8" width="29.9" height="34.8" fill="#858584"/><rect x="1101.5" y="2405.8" width="29.9" height="34.8" fill="#a09c79"/><rect x="1131.4" y="2405.8" width="29.9" height="34.8" fill="#bcb56f"/><rect x="1161.3" y="2405.8" width="29.9" height="34.8" fill="#d9d064"/></g>
<text x="1285.2" y="2003" font-size="24.8" text-anchor="middle" fill="#000" stroke="#000" stroke-width="0.4">P53</text>
<g stroke="#262626" stroke-width="0.95"><rect x="1198.9" y="2012.6" width="30" height="34.7" fill="#222d63"/><rect x="1228.9" y="2012.6" width="30" height="34.7" fill="#858584"/><rect x="1258.8" y="2012.6" width="30" height="34.7" fill="#d9d064"/><rect x="1288.8" y="2012.6" width="30" height="34.7" fill="#bcb56f"/><rect x="1318.8" y="2012.6" width="30" height="34.7" fill="#bcb56f"/><rect x="1348.7" y="2012.6" width="30" height="34.7" fill="#858584"/><rect x="1198.9" y="2047.3" width="30" height="34.7" fill="#fff"/><path d="M1198.9 2082.1L1228.9 2047.3M1198.9 2064.7L1213.9 2047.3M1213.9 2082.1L1228.9 2064.7" fill="none" stroke-width="1.15"/><rect x="1228.9" y="2047.3" width="30" height="34.7" fill="#fff"/><path d="M1228.9 2082.1L1258.8 2047.3M1228.9 2064.7L1243.9 2047.3M1243.9 2082.1L1258.8 2064.7" fill="none" stroke-width="1.15"/><rect x="1258.8" y="2047.3" width="30" height="34.7" fill="#fff"/><path d="M1258.8 2082.1L1288.8 2047.3M1258.8 2064.7L1273.8 2047.3M1273.8 2082.1L1288.8 2064.7" fill="none" stroke-width="1.15"/><rect x="1288.8" y="2047.3" width="30" height="34.7" fill="#fff"/><path d="M1288.8 2082.1L1318.8 2047.3M1288.8 2064.7L1303.8 2047.3M1303.8 2082.1L1318.8 2064.7" fill="none" stroke-width="1.15"/><rect x="1318.8" y="2047.3" width="30" height="34.7" fill="#fff"/><path d="M1318.8 2082.1L1348.7 2047.3M1318.8 2064.7L1333.8 2047.3M1333.8 2082.1L1348.7 2064.7" fill="none" stroke-width="1.15"/><rect x="1348.7" y="2047.3" width="30" height="34.7" fill="#fff"/><path d="M1348.7 2082.1L1378.7 2047.3M1348.7 2064.7L1363.7 2047.3M1363.7 2082.1L1378.7 2064.7" fill="none" stroke-width="1.15"/><rect x="1198.9" y="2082.1" width="30" height="34.7" fill="#fff"/><path d="M1198.9 2116.8L1228.9 2082.1M1198.9 2099.4L1213.9 2082.1M1213.9 2116.8L1228.9 2099.4" fill="none" stroke-width="1.15"/><rect x="1228.9" y="2082.1" width="30" height="34.7" fill="#fff"/><path d="M1228.9 2116.8L1258.8 2082.1M1228.9 2099.4L1243.9 2082.1M1243.9 2116.8L1258.8 2099.4" fill="none" stroke-width="1.15"/><rect x="1258.8" y="2082.1" width="30" height="34.7" fill="#fff"/><path d="M1258.8 2116.8L1288.8 2082.1M1258.8 2099.4L1273.8 2082.1M1273.8 2116.8L1288.8 2099.4" fill="none" stroke-width="1.15"/><rect x="1288.8" y="2082.1" width="30" height="34.7" fill="#fff"/><path d="M1288.8 2116.8L1318.8 2082.1M1288.8 2099.4L1303.8 2082.1M1303.8 2116.8L1318.8 2099.4" fill="none" stroke-width="1.15"/><rect x="1318.8" y="2082.1" width="30" height="34.7" fill="#fff"/><path d="M1318.8 2116.8L1348.7 2082.1M1318.8 2099.4L1333.8 2082.1M1333.8 2116.8L1348.7 2099.4" fill="none" stroke-width="1.15"/><rect x="1348.7" y="2082.1" width="30" height="34.7" fill="#fff"/><path d="M1348.7 2116.8L1378.7 2082.1M1348.7 2099.4L1363.7 2082.1M1363.7 2116.8L1378.7 2099.4" fill="none" stroke-width="1.15"/><rect x="1198.9" y="2116.8" width="30" height="34.7" fill="#fff"/><path d="M1198.9 2151.6L1228.9 2116.8M1198.9 2134.2L1213.9 2116.8M1213.9 2151.6L1228.9 2134.2" fill="none" stroke-width="1.15"/><rect x="1228.9" y="2116.8" width="30" height="34.7" fill="#fff"/><path d="M1228.9 2151.6L1258.8 2116.8M1228.9 2134.2L1243.9 2116.8M1243.9 2151.6L1258.8 2134.2" fill="none" stroke-width="1.15"/><rect x="1258.8" y="2116.8" width="30" height="34.7" fill="#fff"/><path d="M1258.8 2151.6L1288.8 2116.8M1258.8 2134.2L1273.8 2116.8M1273.8 2151.6L1288.8 2134.2" fill="none" stroke-width="1.15"/><rect x="1288.8" y="2116.8" width="30" height="34.7" fill="#fff"/><path d="M1288.8 2151.6L1318.8 2116.8M1288.8 2134.2L1303.8 2116.8M1303.8 2151.6L1318.8 2134.2" fill="none" stroke-width="1.15"/><rect x="1318.8" y="2116.8" width="30" height="34.7" fill="#fff"/><path d="M1318.8 2151.6L1348.7 2116.8M1318.8 2134.2L1333.8 2116.8M1333.8 2151.6L1348.7 2134.2" fill="none" stroke-width="1.15"/><rect x="1348.7" y="2116.8" width="30" height="34.7" fill="#fff"/><path d="M1348.7 2151.6L1378.7 2116.8M1348.7 2134.2L1363.7 2116.8M1363.7 2151.6L1378.7 2134.2" fill="none" stroke-width="1.15"/><rect x="1198.9" y="2151.6" width="30" height="34.7" fill="#bcb56f"/><rect x="1228.9" y="2151.6" width="30" height="34.7" fill="#d9d064"/><rect x="1258.8" y="2151.6" width="30" height="34.7" fill="#a09c79"/><rect x="1288.8" y="2151.6" width="30" height="34.7" fill="#858584"/><rect x="1318.8" y="2151.6" width="30" height="34.7" fill="#525c7b"/><rect x="1348.7" y="2151.6" width="30" height="34.7" fill="#2c3f7e"/><rect x="1198.9" y="2186.3" width="30" height="34.7" fill="#ece957"/><rect x="1228.9" y="2186.3" width="30" height="34.7" fill="#a09c79"/><rect x="1258.8" y="2186.3" width="30" height="34.7" fill="#858584"/><rect x="1288.8" y="2186.3" width="30" height="34.7" fill="#858584"/><rect x="1318.8" y="2186.3" width="30" height="34.7" fill="#3c4f84"/><rect x="1348.7" y="2186.3" width="30" height="34.7" fill="#858584"/><rect x="1198.9" y="2221" width="30" height="34.7" fill="#bcb56f"/><rect x="1228.9" y="2221" width="30" height="34.7" fill="#858584"/><rect x="1258.8" y="2221" width="30" height="34.7" fill="#525c7b"/><rect x="1288.8" y="2221" width="30" height="34.7" fill="#a09c79"/><rect x="1318.8" y="2221" width="30" height="34.7" fill="#d9d064"/><rect x="1348.7" y="2221" width="30" height="34.7" fill="#858584"/><rect x="1198.9" y="2263.8" width="30" height="35" fill="#858584"/><rect x="1228.9" y="2263.8" width="30" height="35" fill="#6a6e7f"/><rect x="1258.8" y="2263.8" width="30" height="35" fill="#858584"/><rect x="1288.8" y="2263.8" width="30" height="35" fill="#858584"/><rect x="1318.8" y="2263.8" width="30" height="35" fill="#a09c79"/><rect x="1348.7" y="2263.8" width="30" height="35" fill="#d9d064"/><rect x="1198.9" y="2298.8" width="30" height="35" fill="#a09c79"/><rect x="1228.9" y="2298.8" width="30" height="35" fill="#ece957"/><rect x="1258.8" y="2298.8" width="30" height="35" fill="#d9d064"/><rect x="1288.8" y="2298.8" width="30" height="35" fill="#6a6e7f"/><rect x="1318.8" y="2298.8" width="30" height="35" fill="#2c3f7e"/><rect x="1348.7" y="2298.8" width="30" height="35" fill="#858584"/><rect x="1198.9" y="2333.8" width="30" height="35" fill="#3c4f84"/><rect x="1228.9" y="2333.8" width="30" height="35" fill="#525c7b"/><rect x="1258.8" y="2333.8" width="30" height="35" fill="#bcb56f"/><rect x="1288.8" y="2333.8" width="30" height="35" fill="#bcb56f"/><rect x="1318.8" y="2333.8" width="30" height="35" fill="#858584"/><rect x="1348.7" y="2333.8" width="30" height="35" fill="#d9d064"/><rect x="1198.9" y="2405.8" width="30" height="34.8" fill="#222d63"/><rect x="1228.9" y="2405.8" width="30" height="34.8" fill="#858584"/><rect x="1258.8" y="2405.8" width="30" height="34.8" fill="#bcb56f"/><rect x="1288.8" y="2405.8" width="30" height="34.8" fill="#bcb56f"/><rect x="1318.8" y="2405.8" width="30" height="34.8" fill="#bcb56f"/><rect x="1348.7" y="2405.8" width="30" height="34.8" fill="#bcb56f"/></g>
<text x="1471" y="2003" font-size="24.8" text-anchor="middle" fill="#000" stroke="#000" stroke-width="0.4">RunX</text>
<g stroke="#262626" stroke-width="0.95"><rect x="1386.2" y="2012.6" width="29.9" height="34.7" fill="#a09c79"/><rect x="1416.1" y="2012.6" width="29.9" height="34.7" fill="#858584"/><rect x="1445.9" y="2012.6" width="29.9" height="34.7" fill="#a09c79"/><rect x="1475.8" y="2012.6" width="29.9" height="34.7" fill="#bcb56f"/><rect x="1505.7" y="2012.6" width="29.9" height="34.7" fill="#2c3f7e"/><rect x="1535.5" y="2012.6" width="29.9" height="34.7" fill="#222d63"/><rect x="1386.2" y="2047.3" width="29.9" height="34.7" fill="#fff"/><path d="M1386.2 2082.1L1416.1 2047.3M1386.2 2064.7L1401.1 2047.3M1401.1 2082.1L1416.1 2064.7" fill="none" stroke-width="1.15"/><rect x="1416.1" y="2047.3" width="29.9" height="34.7" fill="#fff"/><path d="M1416.1 2082.1L1445.9 2047.3M1416.1 2064.7L1431 2047.3M1431 2082.1L1445.9 2064.7" fill="none" stroke-width="1.15"/><rect x="1445.9" y="2047.3" width="29.9" height="34.7" fill="#fff"/><path d="M1445.9 2082.1L1475.8 2047.3M1445.9 2064.7L1460.9 2047.3M1460.9 2082.1L1475.8 2064.7" fill="none" stroke-width="1.15"/><rect x="1475.8" y="2047.3" width="29.9" height="34.7" fill="#fff"/><path d="M1475.8 2082.1L1505.7 2047.3M1475.8 2064.7L1490.7 2047.3M1490.7 2082.1L1505.7 2064.7" fill="none" stroke-width="1.15"/><rect x="1505.7" y="2047.3" width="29.9" height="34.7" fill="#fff"/><path d="M1505.7 2082.1L1535.5 2047.3M1505.7 2064.7L1520.6 2047.3M1520.6 2082.1L1535.5 2064.7" fill="none" stroke-width="1.15"/><rect x="1535.5" y="2047.3" width="29.9" height="34.7" fill="#fff"/><path d="M1535.5 2082.1L1565.4 2047.3M1535.5 2064.7L1550.5 2047.3M1550.5 2082.1L1565.4 2064.7" fill="none" stroke-width="1.15"/><rect x="1386.2" y="2082.1" width="29.9" height="34.7" fill="#2c3f7e"/><rect x="1416.1" y="2082.1" width="29.9" height="34.7" fill="#2c3f7e"/><rect x="1445.9" y="2082.1" width="29.9" height="34.7" fill="#525c7b"/><rect x="1475.8" y="2082.1" width="29.9" height="34.7" fill="#d9d064"/><rect x="1505.7" y="2082.1" width="29.9" height="34.7" fill="#858584"/><rect x="1535.5" y="2082.1" width="29.9" height="34.7" fill="#a09c79"/><rect x="1386.2" y="2116.8" width="29.9" height="34.7" fill="#fff"/><path d="M1386.2 2151.6L1416.1 2116.8M1386.2 2134.2L1401.1 2116.8M1401.1 2151.6L1416.1 2134.2" fill="none" stroke-width="1.15"/><rect x="1416.1" y="2116.8" width="29.9" height="34.7" fill="#fff"/><path d="M1416.1 2151.6L1445.9 2116.8M1416.1 2134.2L1431 2116.8M1431 2151.6L1445.9 2134.2" fill="none" stroke-width="1.15"/><rect x="1445.9" y="2116.8" width="29.9" height="34.7" fill="#fff"/><path d="M1445.9 2151.6L1475.8 2116.8M1445.9 2134.2L1460.9 2116.8M1460.9 2151.6L1475.8 2134.2" fill="none" stroke-width="1.15"/><rect x="1475.8" y="2116.8" width="29.9" height="34.7" fill="#fff"/><path d="M1475.8 2151.6L1505.7 2116.8M1475.8 2134.2L1490.7 2116.8M1490.7 2151.6L1505.7 2134.2" fill="none" stroke-width="1.15"/><rect x="1505.7" y="2116.8" width="29.9" height="34.7" fill="#fff"/><path d="M1505.7 2151.6L1535.5 2116.8M1505.7 2134.2L1520.6 2116.8M1520.6 2151.6L1535.5 2134.2" fill="none" stroke-width="1.15"/><rect x="1535.5" y="2116.8" width="29.9" height="34.7" fill="#fff"/><path d="M1535.5 2151.6L1565.4 2116.8M1535.5 2134.2L1550.5 2116.8M1550.5 2151.6L1565.4 2134.2" fill="none" stroke-width="1.15"/><rect x="1386.2" y="2151.6" width="29.9" height="34.7" fill="#525c7b"/><rect x="1416.1" y="2151.6" width="29.9" height="34.7" fill="#858584"/><rect x="1445.9" y="2151.6" width="29.9" height="34.7" fill="#858584"/><rect x="1475.8" y="2151.6" width="29.9" height="34.7" fill="#858584"/><rect x="1505.7" y="2151.6" width="29.9" height="34.7" fill="#858584"/><rect x="1535.5" y="2151.6" width="29.9" height="34.7" fill="#6a6e7f"/><rect x="1386.2" y="2186.3" width="29.9" height="34.7" fill="#222d63"/><rect x="1416.1" y="2186.3" width="29.9" height="34.7" fill="#2c3f7e"/><rect x="1445.9" y="2186.3" width="29.9" height="34.7" fill="#858584"/><rect x="1475.8" y="2186.3" width="29.9" height="34.7" fill="#a09c79"/><rect x="1505.7" y="2186.3" width="29.9" height="34.7" fill="#bcb56f"/><rect x="1535.5" y="2186.3" width="29.9" height="34.7" fill="#bcb56f"/><rect x="1386.2" y="2221" width="29.9" height="34.7" fill="#3c4f84"/><rect x="1416.1" y="2221" width="29.9" height="34.7" fill="#3c4f84"/><rect x="1445.9" y="2221" width="29.9" height="34.7" fill="#a09c79"/><rect x="1475.8" y="2221" width="29.9" height="34.7" fill="#ece957"/><rect x="1505.7" y="2221" width="29.9" height="34.7" fill="#a09c79"/><rect x="1535.5" y="2221" width="29.9" height="34.7" fill="#3c4f84"/><rect x="1386.2" y="2263.8" width="29.9" height="35" fill="#3c4f84"/><rect x="1416.1" y="2263.8" width="29.9" height="35" fill="#3c4f84"/><rect x="1445.9" y="2263.8" width="29.9" height="35" fill="#3c4f84"/><rect x="1475.8" y="2263.8" width="29.9" height="35" fill="#525c7b"/><rect x="1505.7" y="2263.8" width="29.9" height="35" fill="#a09c79"/><rect x="1535.5" y="2263.8" width="29.9" height="35" fill="#ece957"/><rect x="1386.2" y="2298.8" width="29.9" height="35" fill="#a09c79"/><rect x="1416.1" y="2298.8" width="29.9" height="35" fill="#a09c79"/><rect x="1445.9" y="2298.8" width="29.9" height="35" fill="#2c3f7e"/><rect x="1475.8" y="2298.8" width="29.9" height="35" fill="#222d63"/><rect x="1505.7" y="2298.8" width="29.9" height="35" fill="#d9d064"/><rect x="1535.5" y="2298.8" width="29.9" height="35" fill="#a09c79"/><rect x="1386.2" y="2333.8" width="29.9" height="35" fill="#3c4f84"/><rect x="1416.1" y="2333.8" width="29.9" height="35" fill="#3c4f84"/><rect x="1445.9" y="2333.8" width="29.9" height="35" fill="#3c4f84"/><rect x="1475.8" y="2333.8" width="29.9" height="35" fill="#ece957"/><rect x="1505.7" y="2333.8" width="29.9" height="35" fill="#3c4f84"/><rect x="1535.5" y="2333.8" width="29.9" height="35" fill="#bcb56f"/><rect x="1386.2" y="2405.8" width="29.9" height="34.8" fill="#222d63"/><rect x="1416.1" y="2405.8" width="29.9" height="34.8" fill="#3c4f84"/><rect x="1445.9" y="2405.8" width="29.9" height="34.8" fill="#858584"/><rect x="1475.8" y="2405.8" width="29.9" height="34.8" fill="#bcb56f"/><rect x="1505.7" y="2405.8" width="29.9" height="34.8" fill="#bcb56f"/><rect x="1535.5" y="2405.8" width="29.9" height="34.8" fill="#bcb56f"/></g>
<path d="M58.6 2026.2L53.7 2026.2L53.7 2062.7L58.6 2062.7M53.7 2044.3L46.3 2044.3L46.3 2125.3M58.6 2098.9L49.6 2098.9L49.6 2149.9M58.6 2134.2L53.7 2134.2L53.7 2168.9L58.6 2168.9M53.7 2149.9L49.6 2149.9M49.6 2115.2L46.3 2115.2M46.3 2085L42.5 2085L42.5 2222.6L53.7 2222.6M58.6 2205.1L53.7 2205.1L53.7 2239.4L58.6 2239.4M42.5 2153.9L38 2153.9L38 2279.2L58.6 2279.2M38 2211.4L29.1 2211.4L29.1 2345.6L58.6 2345.6M29.1 2312.7L58.6 2312.7M29.1 2304.2L25.3 2304.2L25.3 2419.8L58.6 2419.8" fill="none" stroke="#000" stroke-width="2.6" stroke-linejoin="miter"/>
<text x="75.6" y="2390.5" font-size="24.8" fill="#000" stroke="#000" stroke-width="0.4">Z</text>
<text x="108.3" y="2390.5" font-size="24.8" fill="#000" stroke="#000" stroke-width="0.4">Cleavage</text>
<text x="226.8" y="2390.5" font-size="24.8" fill="#000" stroke="#000" stroke-width="0.4">B</text>
<text font-size="23.5" text-anchor="middle" fill="#000" stroke="#000" stroke-width="0.4" transform="translate(77.5 2459) rotate(-45)" dy="8.5">54</text>
<text font-size="23.5" text-anchor="middle" fill="#000" stroke="#000" stroke-width="0.4" transform="translate(108.4 2459) rotate(-45)" dy="8.5">72</text>
<text font-size="23.5" text-anchor="middle" fill="#000" stroke="#000" stroke-width="0.4" transform="translate(139.3 2459) rotate(-45)" dy="8.5">84</text>
<text font-size="23.5" text-anchor="middle" fill="#000" stroke="#000" stroke-width="0.4" transform="translate(170.2 2459) rotate(-45)" dy="8.5">90</text>
<text font-size="23.5" text-anchor="middle" fill="#000" stroke="#000" stroke-width="0.4" transform="translate(201.1 2459) rotate(-45)" dy="8.5">96</text>
<text font-size="23.5" text-anchor="middle" fill="#000" stroke="#000" stroke-width="0.4" transform="translate(232 2463) rotate(-45)" dy="8.5">104</text>
<text x="150.4" y="2507" font-size="24.8" text-anchor="middle" fill="#000" stroke="#000" stroke-width="0.4">Time (h)</text>
<text x="1625" y="2036.7" font-size="24" font-weight="bold" fill="#111" stroke="#111" stroke-width="0.4">PT</text>
<text x="1691.1" y="2037.7" font-size="24.8" font-style="italic" fill="#111" stroke="#111" stroke-width="0.4">P. dumerilii</text>
<g transform="translate(1596 2030.7) scale(1.080)" fill="#0a0a0a" stroke="none"><path d="M-21 0.5C-16 -1.5 -12 2 -6 1C0 0 4 -3 10 -2C14 -1.5 18 -2.5 21 -1.5" fill="none" stroke="#0a0a0a" stroke-width="4.4" stroke-linecap="round"/><path d="M-22 0.5L-18 0M21 -1.5L23 -1" stroke="#0a0a0a" stroke-width="2" stroke-linecap="round"/></g>
<text x="1625" y="2071.9" font-size="24" font-weight="bold" fill="#111" stroke="#111" stroke-width="0.4">FW</text>
<text x="1691.1" y="2072.9" font-size="24.8" font-style="italic" fill="#111" stroke="#111" stroke-width="0.4">S. polychroa</text>
<g transform="translate(1596 2065.9) scale(1.080)" fill="#0a0a0a" stroke="none"><path d="M-20 2C-20 -3 -12 -5 -4 -5C6 -5 14 -3 20 0C21 2 14 3 8 2C0 1 -6 5 -14 5C-18 5 -20 4 -20 2Z"/></g>
<text x="1625" y="2106.7" font-size="24" font-weight="bold" fill="#111" stroke="#111" stroke-width="0.4">CE</text>
<text x="1691.1" y="2107.7" font-size="24.8" font-style="italic" fill="#111" stroke="#111" stroke-width="0.4">C. elegans</text>
<g transform="translate(1596 2100.7) scale(1.080)" fill="#0a0a0a" stroke="none"><path d="M-21 9C-20 2 -15 0 -10 -1.5C-4 -3 1 -8 8 -8C14 -8 18 0 21 7" fill="none" stroke="#0a0a0a" stroke-width="3" stroke-linecap="round"/></g>
<text x="1625" y="2141.4" font-size="24" font-weight="bold" fill="#111" stroke="#111" stroke-width="0.4">HD</text>
<text x="1691.1" y="2142.4" font-size="24.8" font-style="italic" fill="#111" stroke="#111" stroke-width="0.4">H. dujardini</text>
<g transform="translate(1596 2135.4) scale(1.080)" fill="#0a0a0a" stroke="none"><path d="M-21 1C-21 -5 -12 -7 -2 -7C8 -7 17 -5 21 1C22 3 19 3.5 16 3.5C15 5 15 7 13 7C11 7 11 4.5 10 4C9 4 8 4 7 4C6 6 6 8 4 8C2 8 2 5 1 4.5C-1 4.5 -2 4.5 -3 4.5C-4 6.5 -4 8.5 -6 8.5C-8 8.5 -8 5.5 -9 4.5C-11 4.5 -12 4.5 -13 4C-14 5.5 -14 7 -16 7C-18 6.5 -17 4 -18 3C-20 3 -21 2.5 -21 1Z"/></g>
<text x="1625" y="2176.2" font-size="24" font-weight="bold" fill="#111" stroke="#111" stroke-width="0.4">DM</text>
<text x="1691.1" y="2177.2" font-size="24.8" font-style="italic" fill="#111" stroke="#111" stroke-width="0.4">D. melanogaster</text>
<g transform="translate(1596 2170.2) scale(1.080)" fill="#0a0a0a" stroke="none"><ellipse cx="-4" cy="1" rx="9" ry="6"/><circle cx="-14" cy="1" r="4"/><path d="M-2 -3C6 -12 16 -10 18 -5C14 -1 6 0 -2 -3Z" fill="#fff" stroke="#0a0a0a" stroke-width="1.2"/><path d="M-2 3C8 2 16 6 18 10C12 13 4 10 -2 3Z" fill="#fff" stroke="#0a0a0a" stroke-width="1.2"/><path d="M0 -3L16 -7M1 -2L17 -4M0 4L16 9M1 5L14 11M-8 -5l-4 -9M-4 -5l2 -9M-8 7l-5 8M-3 7l1 9M-12 5l-7 6M-12 -3l-7 -6" fill="none" stroke="#0a0a0a" stroke-width="1"/></g>
<text x="1625" y="2210.5" font-size="24" font-weight="bold" fill="#111" stroke="#111" stroke-width="0.4">SU</text>
<text x="1691.1" y="2211.5" font-size="24.8" font-style="italic" fill="#111" stroke="#111" stroke-width="0.4">S. purpuratus</text>
<g transform="translate(1596 2205.5) scale(0.950)" fill="#0a0a0a" stroke="none"><circle r="11"/><g stroke="#0a0a0a" stroke-width="1.5"><path d="M0 0L15 0"/><path d="M0 0L14.6 3.3"/><path d="M0 0L13.5 6.5"/><path d="M0 0L11.7 9.4"/><path d="M0 0L9.4 11.7"/><path d="M0 0L6.5 13.5"/><path d="M0 0L3.3 14.6"/><path d="M0 0L0 15"/><path d="M0 0L-3.3 14.6"/><path d="M0 0L-6.5 13.5"/><path d="M0 0L-9.4 11.7"/><path d="M0 0L-11.7 9.4"/><path d="M0 0L-13.5 6.5"/><path d="M0 0L-14.6 3.3"/><path d="M0 0L-15 0"/><path d="M0 0L-14.6 -3.3"/><path d="M0 0L-13.5 -6.5"/><path d="M0 0L-11.7 -9.4"/><path d="M0 0L-9.4 -11.7"/><path d="M0 0L-6.5 -13.5"/><path d="M0 0L-3.3 -14.6"/><path d="M0 0L-0 -15"/><path d="M0 0L3.3 -14.6"/><path d="M0 0L6.5 -13.5"/><path d="M0 0L9.4 -11.7"/><path d="M0 0L11.7 -9.4"/><path d="M0 0L13.5 -6.5"/><path d="M0 0L14.6 -3.3"/></g></g>
<text x="1625" y="2245.7" font-size="24" font-weight="bold" fill="#111" stroke="#111" stroke-width="0.4">ZF</text>
<text x="1691.1" y="2246.7" font-size="24.8" font-style="italic" fill="#111" stroke="#111" stroke-width="0.4">D. rerio</text>
<g transform="translate(1596 2239.7) scale(1.080)" fill="#0a0a0a" stroke="none"><path d="M-22 1C-16 -5 -4 -6 6 -4L12 -3L21 -8L18 0L21 8L12 3C4 6 -8 7 -16 5C-19 4 -21 3 -22 1Z"/><path d="M-4 -5L2 -9L6 -4Z M-2 6L2 10L6 5Z"/><path d="M-15 0L8 -1" stroke="#fff" stroke-width="1.2" fill="none"/></g>
<text x="1625" y="2288.7" font-size="24" font-weight="bold" fill="#111" stroke="#111" stroke-width="0.4">NV</text>
<text x="1691.1" y="2289.7" font-size="24.8" font-style="italic" fill="#111" stroke="#111" stroke-width="0.4">N. vectensis</text>
<g transform="translate(1596 2282.7) scale(1.080)" fill="#0a0a0a" stroke="none"><path d="M-22 -8C-16 -12 -12 -6 -8 -2C-4 1 2 2 6 2L6 6C0 7 -8 6 -12 2C-16 -1 -20 -2 -22 -8Z"/><path d="M6 3C10 -2 12 -8 10 -14M6 3C12 0 16 -4 18 -10M6 4C12 4 18 2 22 0M6 4C12 7 18 10 22 8M6 5C10 9 12 14 16 17M6 5C8 10 6 15 8 19M10 -8l3 -3M14 -3l4 -1M14 10l1 4" fill="none" stroke="#0a0a0a" stroke-width="1.5" stroke-linecap="round"/></g>
<text x="1625" y="2323" font-size="24" font-weight="bold" fill="#111" stroke="#111" stroke-width="0.4">AQ</text>
<text x="1691.1" y="2324" font-size="24.8" font-style="italic" fill="#111" stroke="#111" stroke-width="0.4">A.queenslandica</text>
<g transform="translate(1596 2317) scale(1.080)" fill="#0a0a0a" stroke="none"><path d="M-16 2C-18 -6 -10 -10 -2 -9C6 -10 15 -8 17 -1C19 6 12 10 4 9C-2 9 -6 11 -11 9C-15 8 -16 5 -16 2Z"/><circle cx="-5" cy="-2" r="0.9" fill="#fff"/><circle cx="4" cy="2" r="0.9" fill="#fff"/><circle cx="9" cy="-3" r="0.8" fill="#fff"/></g>
<text x="1625" y="2358.2" font-size="24" font-weight="bold" fill="#111" stroke="#111" stroke-width="0.4">ML</text>
<text x="1691.1" y="2359.2" font-size="24.8" font-style="italic" fill="#111" stroke="#111" stroke-width="0.4">M. leidyi</text>
<g transform="translate(1596 2352.2) scale(1.080)" fill="#0a0a0a" stroke="none"><path d="M-16 8C-18 2 -12 -4 -4 -8C2 -11 10 -14 14 -11C15 -7 10 -5 8 -3C14 -5 18 -4 17 0C12 6 2 12 -6 13C-11 14 -15 12 -16 8Z"/></g>
<text x="1625" y="2429.4" font-size="24" font-weight="bold" fill="#111" stroke="#111" stroke-width="0.4">Cper</text>
<text x="1691.1" y="2430.4" font-size="24.8" font-style="italic" fill="#111" stroke="#111" stroke-width="0.4">C. perkinsii</text>
<g transform="translate(1597 2423.4) scale(1.080)" fill="#0a0a0a" stroke="none"><circle r="14"/><circle cx="-6" cy="-7" r="4.6" fill="#0a0a0a" stroke="#fff" stroke-width="0.9"/><circle cx="3" cy="-9" r="4.6" fill="#0a0a0a" stroke="#fff" stroke-width="0.9"/><circle cx="9" cy="-3" r="4.6" fill="#0a0a0a" stroke="#fff" stroke-width="0.9"/><circle cx="8" cy="6" r="4.6" fill="#0a0a0a" stroke="#fff" stroke-width="0.9"/><circle cx="0" cy="10" r="4.6" fill="#0a0a0a" stroke="#fff" stroke-width="0.9"/><circle cx="-8" cy="6" r="4.6" fill="#0a0a0a" stroke="#fff" stroke-width="0.9"/><circle cx="-10" cy="-1" r="4.6" fill="#0a0a0a" stroke="#fff" stroke-width="0.9"/><circle cx="0" cy="0" r="4.6" fill="#0a0a0a" stroke="#fff" stroke-width="0.9"/><circle cx="-3" cy="4" r="4.6" fill="#0a0a0a" stroke="#fff" stroke-width="0.9"/><circle cx="4" cy="3" r="4.6" fill="#0a0a0a" stroke="#fff" stroke-width="0.9"/></g>
<text x="1581.5" y="2467" font-size="20.8" fill="#000" stroke="#000" stroke-width="0.4">Normalized abundance</text>
<rect x="1581.9" y="2474" width="212.7" height="16.6" fill="url(#plcb)" stroke="#222" stroke-width="1.3"/>
<rect x="1593.6" y="2480.5" width="3" height="3" fill="#111"/>
<text x="1595.1" y="2509.3" font-size="20.5" text-anchor="middle" fill="#000" stroke="#000" stroke-width="0.4">-2</text>
<rect x="1640" y="2480.5" width="3" height="3" fill="#111"/>
<text x="1641.5" y="2509.3" font-size="20.5" text-anchor="middle" fill="#000" stroke="#000" stroke-width="0.4">-1</text>
<rect x="1685.5" y="2480.5" width="3" height="3" fill="#111"/>
<text x="1687" y="2509.3" font-size="20.5" text-anchor="middle" fill="#000" stroke="#000" stroke-width="0.4">0</text>
<rect x="1730.2" y="2480.5" width="3" height="3" fill="#111"/>
<text x="1731.7" y="2509.3" font-size="20.5" text-anchor="middle" fill="#000" stroke="#000" stroke-width="0.4">1</text>
<rect x="1775.7" y="2480.5" width="3" height="3" fill="#111"/>
<text x="1777.2" y="2509.3" font-size="20.5" text-anchor="middle" fill="#000" stroke="#000" stroke-width="0.4">2</text></g>
</svg>
</body></html>
